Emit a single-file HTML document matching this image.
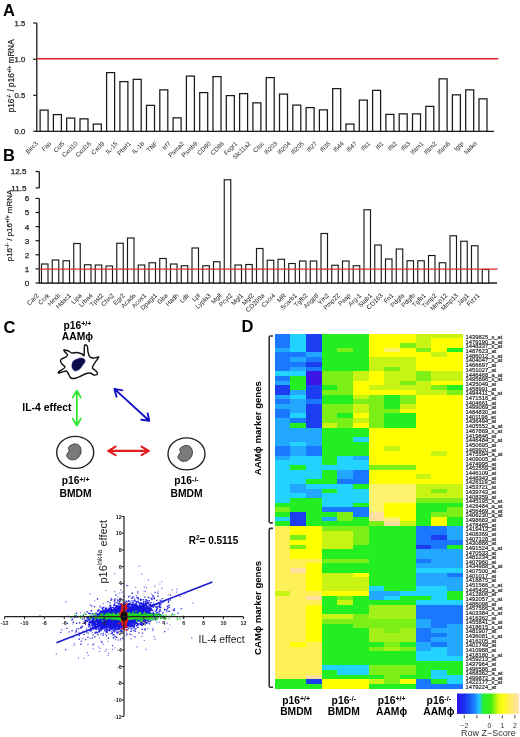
<!DOCTYPE html>
<html><head><meta charset="utf-8"><style>
html,body{margin:0;padding:0;background:#fff;}
body{width:520px;height:737px;overflow:hidden;}
svg{display:block;font-family:"Liberation Sans", sans-serif;filter:blur(0.3px);}
</style></head><body>
<svg width="520" height="737" viewBox="0 0 520 737">
<text x="3" y="15.6" font-size="16.5" font-weight="bold">A</text>
<path d="M36.8 23 V131.3 H494" fill="none" stroke="#1a1a1a" stroke-width="1.3"/>
<line x1="33.2" y1="23" x2="36.8" y2="23" stroke="#1a1a1a" stroke-width="1.2"/>
<text x="25.3" y="25.8" font-size="7.7" text-anchor="end" fill="#222" stroke="#222" stroke-width="0.25">1.5</text>
<line x1="33.2" y1="59.3" x2="36.8" y2="59.3" stroke="#1a1a1a" stroke-width="1.2"/>
<text x="25.3" y="62.099999999999994" font-size="7.7" text-anchor="end" fill="#222" stroke="#222" stroke-width="0.25">1.0</text>
<line x1="33.2" y1="95.3" x2="36.8" y2="95.3" stroke="#1a1a1a" stroke-width="1.2"/>
<text x="25.3" y="98.1" font-size="7.7" text-anchor="end" fill="#222" stroke="#222" stroke-width="0.25">0.5</text>
<line x1="33.2" y1="131.3" x2="36.8" y2="131.3" stroke="#1a1a1a" stroke-width="1.2"/>
<text x="25.3" y="134.10000000000002" font-size="7.7" text-anchor="end" fill="#222" stroke="#222" stroke-width="0.25">0.0</text>
<rect x="40.10" y="110.10" width="8.0" height="21.20" fill="#fff" stroke="#1a1a1a" stroke-width="1.25"/>
<rect x="53.40" y="114.60" width="8.0" height="16.70" fill="#fff" stroke="#1a1a1a" stroke-width="1.25"/>
<rect x="66.70" y="118.10" width="8.0" height="13.20" fill="#fff" stroke="#1a1a1a" stroke-width="1.25"/>
<rect x="80.00" y="118.85" width="8.0" height="12.45" fill="#fff" stroke="#1a1a1a" stroke-width="1.25"/>
<rect x="93.30" y="124.10" width="8.0" height="7.20" fill="#fff" stroke="#1a1a1a" stroke-width="1.25"/>
<rect x="106.60" y="72.60" width="8.0" height="58.70" fill="#fff" stroke="#1a1a1a" stroke-width="1.25"/>
<rect x="119.90" y="81.60" width="8.0" height="49.70" fill="#fff" stroke="#1a1a1a" stroke-width="1.25"/>
<rect x="133.20" y="79.35" width="8.0" height="51.95" fill="#fff" stroke="#1a1a1a" stroke-width="1.25"/>
<rect x="146.50" y="105.35" width="8.0" height="25.95" fill="#fff" stroke="#1a1a1a" stroke-width="1.25"/>
<rect x="159.80" y="89.85" width="8.0" height="41.45" fill="#fff" stroke="#1a1a1a" stroke-width="1.25"/>
<rect x="173.10" y="117.85" width="8.0" height="13.45" fill="#fff" stroke="#1a1a1a" stroke-width="1.25"/>
<rect x="186.40" y="76.10" width="8.0" height="55.20" fill="#fff" stroke="#1a1a1a" stroke-width="1.25"/>
<rect x="199.70" y="92.60" width="8.0" height="38.70" fill="#fff" stroke="#1a1a1a" stroke-width="1.25"/>
<rect x="213.00" y="76.60" width="8.0" height="54.70" fill="#fff" stroke="#1a1a1a" stroke-width="1.25"/>
<rect x="226.30" y="95.60" width="8.0" height="35.70" fill="#fff" stroke="#1a1a1a" stroke-width="1.25"/>
<rect x="239.60" y="93.60" width="8.0" height="37.70" fill="#fff" stroke="#1a1a1a" stroke-width="1.25"/>
<rect x="252.90" y="102.85" width="8.0" height="28.45" fill="#fff" stroke="#1a1a1a" stroke-width="1.25"/>
<rect x="266.20" y="77.60" width="8.0" height="53.70" fill="#fff" stroke="#1a1a1a" stroke-width="1.25"/>
<rect x="279.50" y="94.10" width="8.0" height="37.20" fill="#fff" stroke="#1a1a1a" stroke-width="1.25"/>
<rect x="292.80" y="105.10" width="8.0" height="26.20" fill="#fff" stroke="#1a1a1a" stroke-width="1.25"/>
<rect x="306.10" y="107.60" width="8.0" height="23.70" fill="#fff" stroke="#1a1a1a" stroke-width="1.25"/>
<rect x="319.40" y="109.85" width="8.0" height="21.45" fill="#fff" stroke="#1a1a1a" stroke-width="1.25"/>
<rect x="332.70" y="88.60" width="8.0" height="42.70" fill="#fff" stroke="#1a1a1a" stroke-width="1.25"/>
<rect x="346.00" y="124.10" width="8.0" height="7.20" fill="#fff" stroke="#1a1a1a" stroke-width="1.25"/>
<rect x="359.30" y="100.10" width="8.0" height="31.20" fill="#fff" stroke="#1a1a1a" stroke-width="1.25"/>
<rect x="372.60" y="90.35" width="8.0" height="40.95" fill="#fff" stroke="#1a1a1a" stroke-width="1.25"/>
<rect x="385.90" y="114.35" width="8.0" height="16.95" fill="#fff" stroke="#1a1a1a" stroke-width="1.25"/>
<rect x="399.20" y="113.85" width="8.0" height="17.45" fill="#fff" stroke="#1a1a1a" stroke-width="1.25"/>
<rect x="412.50" y="113.85" width="8.0" height="17.45" fill="#fff" stroke="#1a1a1a" stroke-width="1.25"/>
<rect x="425.80" y="106.35" width="8.0" height="24.95" fill="#fff" stroke="#1a1a1a" stroke-width="1.25"/>
<rect x="439.10" y="78.85" width="8.0" height="52.45" fill="#fff" stroke="#1a1a1a" stroke-width="1.25"/>
<rect x="452.40" y="94.85" width="8.0" height="36.45" fill="#fff" stroke="#1a1a1a" stroke-width="1.25"/>
<rect x="465.70" y="89.85" width="8.0" height="41.45" fill="#fff" stroke="#1a1a1a" stroke-width="1.25"/>
<rect x="479.00" y="98.85" width="8.0" height="32.45" fill="#fff" stroke="#1a1a1a" stroke-width="1.25"/>
<line x1="36.8" y1="58.8" x2="498.3" y2="58.8" stroke="#e12a2a" stroke-width="1.45"/>
<text transform="translate(38.30 144.0) rotate(-45)" font-size="6.3" text-anchor="end" fill="#222">Birc3</text>
<text transform="translate(51.60 144.0) rotate(-45)" font-size="6.3" text-anchor="end" fill="#222">Fas</text>
<text transform="translate(64.90 144.0) rotate(-45)" font-size="6.3" text-anchor="end" fill="#222">Ccl5</text>
<text transform="translate(78.20 144.0) rotate(-45)" font-size="6.3" text-anchor="end" fill="#222">Cxcl10</text>
<text transform="translate(91.50 144.0) rotate(-45)" font-size="6.3" text-anchor="end" fill="#222">Cxcl16</text>
<text transform="translate(104.80 144.0) rotate(-45)" font-size="6.3" text-anchor="end" fill="#222">Cxcl9</text>
<text transform="translate(118.10 144.0) rotate(-45)" font-size="6.3" text-anchor="end" fill="#222">IL-15</text>
<text transform="translate(131.40 144.0) rotate(-45)" font-size="6.3" text-anchor="end" fill="#222">Pbef1</text>
<text transform="translate(144.70 144.0) rotate(-45)" font-size="6.3" text-anchor="end" fill="#222">IL-1b</text>
<text transform="translate(158.00 144.0) rotate(-45)" font-size="6.3" text-anchor="end" fill="#222">TNF</text>
<text transform="translate(171.30 144.0) rotate(-45)" font-size="6.3" text-anchor="end" fill="#222">Irf7</text>
<text transform="translate(184.60 144.0) rotate(-45)" font-size="6.3" text-anchor="end" fill="#222">Psma2</text>
<text transform="translate(197.90 144.0) rotate(-45)" font-size="6.3" text-anchor="end" fill="#222">Psmb9</text>
<text transform="translate(211.20 144.0) rotate(-45)" font-size="6.3" text-anchor="end" fill="#222">CD80</text>
<text transform="translate(224.50 144.0) rotate(-45)" font-size="6.3" text-anchor="end" fill="#222">CD86</text>
<text transform="translate(237.80 144.0) rotate(-45)" font-size="6.3" text-anchor="end" fill="#222">Fcgr1</text>
<text transform="translate(251.10 144.0) rotate(-45)" font-size="6.3" text-anchor="end" fill="#222">Slc11a2</text>
<text transform="translate(264.40 144.0) rotate(-45)" font-size="6.3" text-anchor="end" fill="#222">Ctsc</text>
<text transform="translate(277.70 144.0) rotate(-45)" font-size="6.3" text-anchor="end" fill="#222">Ifi203</text>
<text transform="translate(291.00 144.0) rotate(-45)" font-size="6.3" text-anchor="end" fill="#222">Ifi204</text>
<text transform="translate(304.30 144.0) rotate(-45)" font-size="6.3" text-anchor="end" fill="#222">Ifi205</text>
<text transform="translate(317.60 144.0) rotate(-45)" font-size="6.3" text-anchor="end" fill="#222">Ifi27</text>
<text transform="translate(330.90 144.0) rotate(-45)" font-size="6.3" text-anchor="end" fill="#222">Ifi35</text>
<text transform="translate(344.20 144.0) rotate(-45)" font-size="6.3" text-anchor="end" fill="#222">Ifi44</text>
<text transform="translate(357.50 144.0) rotate(-45)" font-size="6.3" text-anchor="end" fill="#222">Ifi47</text>
<text transform="translate(370.80 144.0) rotate(-45)" font-size="6.3" text-anchor="end" fill="#222">Ifit1</text>
<text transform="translate(384.10 144.0) rotate(-45)" font-size="6.3" text-anchor="end" fill="#222">Ifi1</text>
<text transform="translate(397.40 144.0) rotate(-45)" font-size="6.3" text-anchor="end" fill="#222">Ifit2</text>
<text transform="translate(410.70 144.0) rotate(-45)" font-size="6.3" text-anchor="end" fill="#222">Ifit3</text>
<text transform="translate(424.00 144.0) rotate(-45)" font-size="6.3" text-anchor="end" fill="#222">Ifitm1</text>
<text transform="translate(437.30 144.0) rotate(-45)" font-size="6.3" text-anchor="end" fill="#222">Ifitm2</text>
<text transform="translate(450.60 144.0) rotate(-45)" font-size="6.3" text-anchor="end" fill="#222">Ifitm6</text>
<text transform="translate(463.90 144.0) rotate(-45)" font-size="6.3" text-anchor="end" fill="#222">Igtp</text>
<text transform="translate(477.20 144.0) rotate(-45)" font-size="6.3" text-anchor="end" fill="#222">Iiatko</text>
<text transform="translate(13.6 112.3) rotate(-90)" font-size="8.2" fill="#222" stroke="#222" stroke-width="0.2">p16<tspan font-size="5.2" dy="-3">-/-</tspan><tspan dy="3"> / p16</tspan><tspan font-size="5.2" dy="-3">+/+</tspan><tspan dy="3"> mRNA</tspan></text>
<text x="3" y="161" font-size="16.5" font-weight="bold">B</text>
<path d="M39.3 171.5 V187.9" fill="none" stroke="#1a1a1a" stroke-width="1.3"/>
<path d="M39.3 198.4 V283 H497" fill="none" stroke="#1a1a1a" stroke-width="1.3"/>
<line x1="35.5" y1="171.5" x2="39.3" y2="171.5" stroke="#1a1a1a" stroke-width="1.2"/>
<text x="26.5" y="174.4" font-size="8.1" text-anchor="end" fill="#222" stroke="#222" stroke-width="0.25">12.5</text>
<line x1="35.5" y1="187.9" x2="39.3" y2="187.9" stroke="#1a1a1a" stroke-width="1.2"/>
<text x="26.5" y="190.8" font-size="8.1" text-anchor="end" fill="#222" stroke="#222" stroke-width="0.25">11.5</text>
<line x1="35.5" y1="283.00" x2="39.3" y2="283.00" stroke="#1a1a1a" stroke-width="1.2"/>
<text x="29.3" y="285.90" font-size="8.1" text-anchor="end" fill="#222" stroke="#222" stroke-width="0.25">0</text>
<line x1="35.5" y1="268.90" x2="39.3" y2="268.90" stroke="#1a1a1a" stroke-width="1.2"/>
<text x="29.3" y="271.80" font-size="8.1" text-anchor="end" fill="#222" stroke="#222" stroke-width="0.25">1</text>
<line x1="35.5" y1="254.80" x2="39.3" y2="254.80" stroke="#1a1a1a" stroke-width="1.2"/>
<text x="29.3" y="257.70" font-size="8.1" text-anchor="end" fill="#222" stroke="#222" stroke-width="0.25">2</text>
<line x1="35.5" y1="240.70" x2="39.3" y2="240.70" stroke="#1a1a1a" stroke-width="1.2"/>
<text x="29.3" y="243.60" font-size="8.1" text-anchor="end" fill="#222" stroke="#222" stroke-width="0.25">3</text>
<line x1="35.5" y1="226.60" x2="39.3" y2="226.60" stroke="#1a1a1a" stroke-width="1.2"/>
<text x="29.3" y="229.50" font-size="8.1" text-anchor="end" fill="#222" stroke="#222" stroke-width="0.25">4</text>
<line x1="35.5" y1="212.50" x2="39.3" y2="212.50" stroke="#1a1a1a" stroke-width="1.2"/>
<text x="29.3" y="215.40" font-size="8.1" text-anchor="end" fill="#222" stroke="#222" stroke-width="0.25">5</text>
<line x1="35.5" y1="198.40" x2="39.3" y2="198.40" stroke="#1a1a1a" stroke-width="1.2"/>
<text x="29.3" y="201.30" font-size="8.1" text-anchor="end" fill="#222" stroke="#222" stroke-width="0.25">6</text>
<rect x="41.50" y="264.00" width="6.5" height="19.00" fill="#fff" stroke="#1a1a1a" stroke-width="1.15"/>
<rect x="52.25" y="260.00" width="6.5" height="23.00" fill="#fff" stroke="#1a1a1a" stroke-width="1.15"/>
<rect x="63.00" y="260.75" width="6.5" height="22.25" fill="#fff" stroke="#1a1a1a" stroke-width="1.15"/>
<rect x="73.75" y="243.50" width="6.5" height="39.50" fill="#fff" stroke="#1a1a1a" stroke-width="1.15"/>
<rect x="84.50" y="264.75" width="6.5" height="18.25" fill="#fff" stroke="#1a1a1a" stroke-width="1.15"/>
<rect x="95.25" y="265.00" width="6.5" height="18.00" fill="#fff" stroke="#1a1a1a" stroke-width="1.15"/>
<rect x="106.00" y="266.00" width="6.5" height="17.00" fill="#fff" stroke="#1a1a1a" stroke-width="1.15"/>
<rect x="116.75" y="243.25" width="6.5" height="39.75" fill="#fff" stroke="#1a1a1a" stroke-width="1.15"/>
<rect x="127.50" y="238.00" width="6.5" height="45.00" fill="#fff" stroke="#1a1a1a" stroke-width="1.15"/>
<rect x="138.25" y="265.00" width="6.5" height="18.00" fill="#fff" stroke="#1a1a1a" stroke-width="1.15"/>
<rect x="149.00" y="262.75" width="6.5" height="20.25" fill="#fff" stroke="#1a1a1a" stroke-width="1.15"/>
<rect x="159.75" y="258.50" width="6.5" height="24.50" fill="#fff" stroke="#1a1a1a" stroke-width="1.15"/>
<rect x="170.50" y="264.00" width="6.5" height="19.00" fill="#fff" stroke="#1a1a1a" stroke-width="1.15"/>
<rect x="181.25" y="265.75" width="6.5" height="17.25" fill="#fff" stroke="#1a1a1a" stroke-width="1.15"/>
<rect x="192.00" y="248.00" width="6.5" height="35.00" fill="#fff" stroke="#1a1a1a" stroke-width="1.15"/>
<rect x="202.75" y="265.75" width="6.5" height="17.25" fill="#fff" stroke="#1a1a1a" stroke-width="1.15"/>
<rect x="213.50" y="261.75" width="6.5" height="21.25" fill="#fff" stroke="#1a1a1a" stroke-width="1.15"/>
<rect x="224.25" y="179.75" width="6.5" height="103.25" fill="#fff" stroke="#1a1a1a" stroke-width="1.15"/>
<rect x="235.00" y="265.00" width="6.5" height="18.00" fill="#fff" stroke="#1a1a1a" stroke-width="1.15"/>
<rect x="245.75" y="264.50" width="6.5" height="18.50" fill="#fff" stroke="#1a1a1a" stroke-width="1.15"/>
<rect x="256.50" y="248.50" width="6.5" height="34.50" fill="#fff" stroke="#1a1a1a" stroke-width="1.15"/>
<rect x="267.25" y="260.25" width="6.5" height="22.75" fill="#fff" stroke="#1a1a1a" stroke-width="1.15"/>
<rect x="278.00" y="259.25" width="6.5" height="23.75" fill="#fff" stroke="#1a1a1a" stroke-width="1.15"/>
<rect x="288.75" y="263.50" width="6.5" height="19.50" fill="#fff" stroke="#1a1a1a" stroke-width="1.15"/>
<rect x="299.50" y="261.00" width="6.5" height="22.00" fill="#fff" stroke="#1a1a1a" stroke-width="1.15"/>
<rect x="310.25" y="261.00" width="6.5" height="22.00" fill="#fff" stroke="#1a1a1a" stroke-width="1.15"/>
<rect x="321.00" y="233.50" width="6.5" height="49.50" fill="#fff" stroke="#1a1a1a" stroke-width="1.15"/>
<rect x="331.75" y="265.25" width="6.5" height="17.75" fill="#fff" stroke="#1a1a1a" stroke-width="1.15"/>
<rect x="342.50" y="261.00" width="6.5" height="22.00" fill="#fff" stroke="#1a1a1a" stroke-width="1.15"/>
<rect x="353.25" y="265.75" width="6.5" height="17.25" fill="#fff" stroke="#1a1a1a" stroke-width="1.15"/>
<rect x="364.00" y="209.75" width="6.5" height="73.25" fill="#fff" stroke="#1a1a1a" stroke-width="1.15"/>
<rect x="374.75" y="245.00" width="6.5" height="38.00" fill="#fff" stroke="#1a1a1a" stroke-width="1.15"/>
<rect x="385.50" y="259.00" width="6.5" height="24.00" fill="#fff" stroke="#1a1a1a" stroke-width="1.15"/>
<rect x="396.25" y="249.00" width="6.5" height="34.00" fill="#fff" stroke="#1a1a1a" stroke-width="1.15"/>
<rect x="407.00" y="260.75" width="6.5" height="22.25" fill="#fff" stroke="#1a1a1a" stroke-width="1.15"/>
<rect x="417.75" y="260.75" width="6.5" height="22.25" fill="#fff" stroke="#1a1a1a" stroke-width="1.15"/>
<rect x="428.50" y="255.50" width="6.5" height="27.50" fill="#fff" stroke="#1a1a1a" stroke-width="1.15"/>
<rect x="439.25" y="262.75" width="6.5" height="20.25" fill="#fff" stroke="#1a1a1a" stroke-width="1.15"/>
<rect x="450.00" y="235.75" width="6.5" height="47.25" fill="#fff" stroke="#1a1a1a" stroke-width="1.15"/>
<rect x="460.75" y="241.25" width="6.5" height="41.75" fill="#fff" stroke="#1a1a1a" stroke-width="1.15"/>
<rect x="471.50" y="245.75" width="6.5" height="37.25" fill="#fff" stroke="#1a1a1a" stroke-width="1.15"/>
<rect x="482.25" y="269.50" width="6.5" height="13.50" fill="#fff" stroke="#1a1a1a" stroke-width="1.15"/>
<line x1="39.3" y1="269.1" x2="497.5" y2="269.1" stroke="#e12a2a" stroke-width="1.45"/>
<text transform="translate(39.20 296) rotate(-45)" font-size="6.4" text-anchor="end" fill="#222">Car2</text>
<text transform="translate(49.95 296) rotate(-45)" font-size="6.4" text-anchor="end" fill="#222">Ccrk</text>
<text transform="translate(60.70 296) rotate(-45)" font-size="6.4" text-anchor="end" fill="#222">Hexb</text>
<text transform="translate(71.45 296) rotate(-45)" font-size="6.4" text-anchor="end" fill="#222">Hdac1</text>
<text transform="translate(82.20 296) rotate(-45)" font-size="6.4" text-anchor="end" fill="#222">Lipa</text>
<text transform="translate(92.95 296) rotate(-45)" font-size="6.4" text-anchor="end" fill="#222">Lrba4</text>
<text transform="translate(103.70 296) rotate(-45)" font-size="6.4" text-anchor="end" fill="#222">Tpst2</text>
<text transform="translate(114.45 296) rotate(-45)" font-size="6.4" text-anchor="end" fill="#222">Chn2</text>
<text transform="translate(125.20 296) rotate(-45)" font-size="6.4" text-anchor="end" fill="#222">Egr2</text>
<text transform="translate(135.95 296) rotate(-45)" font-size="6.4" text-anchor="end" fill="#222">Acads</text>
<text transform="translate(146.70 296) rotate(-45)" font-size="6.4" text-anchor="end" fill="#222">Acox1</text>
<text transform="translate(157.45 296) rotate(-45)" font-size="6.4" text-anchor="end" fill="#222">Dpagt1</text>
<text transform="translate(168.20 296) rotate(-45)" font-size="6.4" text-anchor="end" fill="#222">Gba</text>
<text transform="translate(178.95 296) rotate(-45)" font-size="6.4" text-anchor="end" fill="#222">Hadh</text>
<text transform="translate(189.70 296) rotate(-45)" font-size="6.4" text-anchor="end" fill="#222">Ldlr</text>
<text transform="translate(200.45 296) rotate(-45)" font-size="6.4" text-anchor="end" fill="#222">Lpl</text>
<text transform="translate(211.20 296) rotate(-45)" font-size="6.4" text-anchor="end" fill="#222">Lypla3</text>
<text transform="translate(221.95 296) rotate(-45)" font-size="6.4" text-anchor="end" fill="#222">Mgll</text>
<text transform="translate(232.70 296) rotate(-45)" font-size="6.4" text-anchor="end" fill="#222">Pcyt2</text>
<text transform="translate(243.45 296) rotate(-45)" font-size="6.4" text-anchor="end" fill="#222">Mgl1</text>
<text transform="translate(254.20 296) rotate(-45)" font-size="6.4" text-anchor="end" fill="#222">Mgl2</text>
<text transform="translate(264.95 296) rotate(-45)" font-size="6.4" text-anchor="end" fill="#222">CD209a</text>
<text transform="translate(275.70 296) rotate(-45)" font-size="6.4" text-anchor="end" fill="#222">Cxcr4</text>
<text transform="translate(286.45 296) rotate(-45)" font-size="6.4" text-anchor="end" fill="#222">MR</text>
<text transform="translate(297.20 296) rotate(-45)" font-size="6.4" text-anchor="end" fill="#222">Scarb1</text>
<text transform="translate(307.95 296) rotate(-45)" font-size="6.4" text-anchor="end" fill="#222">Tgfb2</text>
<text transform="translate(318.70 296) rotate(-45)" font-size="6.4" text-anchor="end" fill="#222">Angptl</text>
<text transform="translate(329.45 296) rotate(-45)" font-size="6.4" text-anchor="end" fill="#222">Ym2</text>
<text transform="translate(340.20 296) rotate(-45)" font-size="6.4" text-anchor="end" fill="#222">Pmp22</text>
<text transform="translate(350.95 296) rotate(-45)" font-size="6.4" text-anchor="end" fill="#222">Psap</text>
<text transform="translate(361.70 296) rotate(-45)" font-size="6.4" text-anchor="end" fill="#222">Arg-1</text>
<text transform="translate(372.45 296) rotate(-45)" font-size="6.4" text-anchor="end" fill="#222">Stab1</text>
<text transform="translate(383.20 296) rotate(-45)" font-size="6.4" text-anchor="end" fill="#222">CD163</text>
<text transform="translate(393.95 296) rotate(-45)" font-size="6.4" text-anchor="end" fill="#222">Fn1</text>
<text transform="translate(404.70 296) rotate(-45)" font-size="6.4" text-anchor="end" fill="#222">Pdgfa</text>
<text transform="translate(415.45 296) rotate(-45)" font-size="6.4" text-anchor="end" fill="#222">Pdgfb</text>
<text transform="translate(426.20 296) rotate(-45)" font-size="6.4" text-anchor="end" fill="#222">Tgfb1</text>
<text transform="translate(436.95 296) rotate(-45)" font-size="6.4" text-anchor="end" fill="#222">Timp2</text>
<text transform="translate(447.70 296) rotate(-45)" font-size="6.4" text-anchor="end" fill="#222">Mmp12</text>
<text transform="translate(458.45 296) rotate(-45)" font-size="6.4" text-anchor="end" fill="#222">Mmp13</text>
<text transform="translate(469.20 296) rotate(-45)" font-size="6.4" text-anchor="end" fill="#222">Jag1</text>
<text transform="translate(479.95 296) rotate(-45)" font-size="6.4" text-anchor="end" fill="#222">Fizz1</text>
<text transform="translate(12.0 261.3) rotate(-90)" font-size="8.0" fill="#222" stroke="#222" stroke-width="0.2">p16<tspan font-size="5.2" dy="-3">-/-</tspan><tspan dy="3"> / p16</tspan><tspan font-size="5.2" dy="-3">+/+</tspan><tspan dy="3"> mRNA</tspan></text>
<text x="3.5" y="333" font-size="16.5" font-weight="bold">C</text>
<text x="77.4" y="328.5" font-size="10.3" font-weight="bold" text-anchor="middle">p16<tspan font-size="7" dy="-2.6">+/+</tspan></text>
<text x="77.4" y="339.8" font-size="10.3" font-weight="bold" text-anchor="middle">AAMϕ</text>
<text x="75.6" y="484.2" font-size="10.3" font-weight="bold" text-anchor="middle">p16<tspan font-size="7" dy="-2.6">+/+</tspan></text>
<text x="75.6" y="496.6" font-size="10.3" font-weight="bold" text-anchor="middle">BMDM</text>
<text x="186.5" y="484.2" font-size="10.3" font-weight="bold" text-anchor="middle">p16<tspan font-size="7" dy="-2.6">-/-</tspan></text>
<text x="186.5" y="496.6" font-size="10.3" font-weight="bold" text-anchor="middle">BMDM</text>
<path d="M64.00 350.00 C64.58 349.83 67.17 350.50 68.50 351.00 C69.83 351.50 70.58 352.75 72.00 353.00 C73.42 353.25 75.33 352.33 77.00 352.50 C78.67 352.67 80.83 353.50 82.00 354.00 C83.17 354.50 83.58 356.83 84.00 355.50 C84.42 354.17 84.17 347.75 84.50 346.00 C84.83 344.25 85.50 344.92 86.00 345.00 C86.50 345.08 87.17 345.33 87.50 346.50 C87.83 347.67 87.58 350.25 88.00 352.00 C88.42 353.75 89.00 356.00 90.00 357.00 C91.00 358.00 92.58 358.00 94.00 358.00 C95.42 358.00 97.92 356.83 98.50 357.00 C99.08 357.17 98.25 357.83 97.50 359.00 C96.75 360.17 94.83 362.50 94.00 364.00 C93.17 365.50 92.17 366.83 92.50 368.00 C92.83 369.17 95.17 370.00 96.00 371.00 C96.83 372.00 97.83 373.33 97.50 374.00 C97.17 374.67 95.25 375.17 94.00 375.00 C92.75 374.83 91.50 373.17 90.00 373.00 C88.50 372.83 86.50 373.50 85.00 374.00 C83.50 374.50 82.50 375.33 81.00 376.00 C79.50 376.67 77.50 377.58 76.00 378.00 C74.50 378.42 73.00 378.67 72.00 378.50 C71.00 378.33 70.67 377.92 70.00 377.00 C69.33 376.08 68.67 374.00 68.00 373.00 C67.33 372.00 67.00 371.17 66.00 371.00 C65.00 370.83 63.25 371.67 62.00 372.00 C60.75 372.33 59.00 373.08 58.50 373.00 C58.00 372.92 58.25 372.17 59.00 371.50 C59.75 370.83 62.00 369.75 63.00 369.00 C64.00 368.25 65.17 367.83 65.00 367.00 C64.83 366.17 62.75 365.00 62.00 364.00 C61.25 363.00 60.58 361.83 60.50 361.00 C60.42 360.17 60.58 359.67 61.50 359.00 C62.42 358.33 65.00 357.67 66.00 357.00 C67.00 356.33 67.67 355.83 67.50 355.00 C67.33 354.17 65.58 352.83 65.00 352.00 C64.42 351.17 63.42 350.17 64.00 350.00Z" fill="#fff" stroke="#111" stroke-width="1.4"/>
<path d="M77.30 358.90 C78.63 358.38 80.12 357.85 81.30 357.90 C82.48 357.95 83.78 358.55 84.40 359.20 C85.02 359.85 85.27 360.83 85.00 361.80 C84.73 362.77 83.67 363.80 82.80 365.00 C81.93 366.20 81.02 368.00 79.80 369.00 C78.58 370.00 76.72 371.03 75.50 371.00 C74.28 370.97 73.10 369.80 72.50 368.80 C71.90 367.80 71.77 366.30 71.90 365.00 C72.03 363.70 72.40 362.02 73.30 361.00 C74.20 359.98 75.97 359.42 77.30 358.90Z" fill="#0b0b4a" stroke="#2a2a80" stroke-width="0.6"/>
<ellipse cx="75.2" cy="452.4" rx="18.5" ry="16.0" fill="#fff" stroke="#222" stroke-width="1.4"/>
<path d="M73.90 444.00 C75.57 443.65 77.44 444.17 78.62 445.04 C79.80 445.91 80.69 447.64 80.98 449.20 C81.28 450.76 81.18 452.75 80.39 454.40 C79.60 456.05 77.93 458.21 76.26 459.08 C74.59 459.95 71.93 460.03 70.36 459.60 C68.79 459.17 67.31 457.52 66.82 456.48 C66.33 455.44 67.02 454.31 67.41 453.36 C67.80 452.41 68.98 451.80 69.18 450.76 C69.38 449.72 67.80 448.25 68.59 447.12 C69.38 445.99 72.23 444.35 73.90 444.00Z" fill="#7a7a7a" stroke="#333" stroke-width="0.9"/>
<ellipse cx="186.5" cy="453.9" rx="18.5" ry="16.0" fill="#fff" stroke="#222" stroke-width="1.4"/>
<path d="M185.20 445.50 C186.87 445.15 188.74 445.67 189.92 446.54 C191.10 447.41 191.99 449.14 192.28 450.70 C192.57 452.26 192.48 454.25 191.69 455.90 C190.90 457.55 189.23 459.71 187.56 460.58 C185.89 461.45 183.23 461.53 181.66 461.10 C180.09 460.67 178.61 459.02 178.12 457.98 C177.63 456.94 178.32 455.81 178.71 454.86 C179.10 453.91 180.28 453.30 180.48 452.26 C180.68 451.22 179.10 449.75 179.89 448.62 C180.68 447.49 183.53 445.85 185.20 445.50Z" fill="#7a7a7a" stroke="#333" stroke-width="0.9"/>
<g fill="none" stroke-linecap="round" stroke-linejoin="round">
<path d="M76.8 390.6 V425.6 M72.7 397.5 L76.8 390.6 L80.8 397.5 M72.7 418.6 L76.8 425.6 L80.8 418.6" stroke="#2fe52f" stroke-width="1.8"/>
<path d="M114.4 388.9 L149.2 420.8 M122.3 390.4 L114.4 388.9 L116.5 396.7 M141.3 419.8 L149.2 420.8 L147.7 413.4" stroke="#1212c4" stroke-width="1.9"/>
<path d="M108.3 450.9 H148.8 M115.6 446.6 L108.3 450.9 L115.6 455.2 M141.5 446.6 L148.8 450.9 L141.5 455.2" stroke="#e01c1c" stroke-width="2.1"/>
</g>
<text x="22.3" y="410.5" font-size="10.45" font-weight="bold">IL-4 effect</text>
<line x1="56.4" y1="642.7" x2="212.4" y2="581.9" stroke="#1a1ad0" stroke-width="1.6"/>
<path d="M158.8 608.7h1.2v1.2h-1.2zM136.1 617.3h1.2v1.2h-1.2zM120.1 638.0h1.2v1.2h-1.2zM142.7 620.2h1.2v1.2h-1.2zM72.0 623.4h1.2v1.2h-1.2zM122.4 601.2h1.2v1.2h-1.2zM147.2 628.1h1.2v1.2h-1.2zM118.3 617.2h1.2v1.2h-1.2zM126.0 631.4h1.2v1.2h-1.2zM125.6 600.0h1.2v1.2h-1.2zM159.3 583.4h1.2v1.2h-1.2zM145.4 648.8h1.2v1.2h-1.2zM115.5 626.4h1.2v1.2h-1.2zM39.4 614.9h1.2v1.2h-1.2zM149.8 608.7h1.2v1.2h-1.2zM133.9 605.4h1.2v1.2h-1.2zM117.1 596.3h1.2v1.2h-1.2zM176.3 588.7h1.2v1.2h-1.2zM107.3 616.3h1.2v1.2h-1.2zM151.7 597.0h1.2v1.2h-1.2zM103.5 606.5h1.2v1.2h-1.2zM144.4 601.1h1.2v1.2h-1.2zM111.3 619.5h1.2v1.2h-1.2zM68.1 631.4h1.2v1.2h-1.2zM110.6 623.9h1.2v1.2h-1.2zM115.3 623.0h1.2v1.2h-1.2zM125.9 613.6h1.2v1.2h-1.2zM105.7 622.7h1.2v1.2h-1.2zM120.8 608.9h1.2v1.2h-1.2zM136.2 617.9h1.2v1.2h-1.2zM99.5 647.7h1.2v1.2h-1.2zM87.2 619.4h1.2v1.2h-1.2zM96.8 598.3h1.2v1.2h-1.2zM118.8 623.0h1.2v1.2h-1.2zM118.9 625.5h1.2v1.2h-1.2zM105.2 619.8h1.2v1.2h-1.2zM81.5 625.2h1.2v1.2h-1.2zM120.7 630.5h1.2v1.2h-1.2zM153.1 602.1h1.2v1.2h-1.2zM154.8 617.6h1.2v1.2h-1.2zM87.4 644.0h1.2v1.2h-1.2zM77.9 657.5h1.2v1.2h-1.2zM168.8 610.8h1.2v1.2h-1.2zM129.0 622.6h1.2v1.2h-1.2zM119.2 592.6h1.2v1.2h-1.2zM73.1 644.8h1.2v1.2h-1.2zM127.3 628.8h1.2v1.2h-1.2zM143.4 590.4h1.2v1.2h-1.2zM149.3 597.2h1.2v1.2h-1.2zM118.7 601.7h1.2v1.2h-1.2zM100.2 640.6h1.2v1.2h-1.2zM115.9 621.8h1.2v1.2h-1.2zM158.8 621.4h1.2v1.2h-1.2zM156.6 618.8h1.2v1.2h-1.2zM86.8 652.0h1.2v1.2h-1.2zM122.4 638.4h1.2v1.2h-1.2zM129.6 613.5h1.2v1.2h-1.2zM111.8 648.8h1.2v1.2h-1.2zM108.4 613.1h1.2v1.2h-1.2zM71.8 619.3h1.2v1.2h-1.2zM123.9 624.1h1.2v1.2h-1.2zM129.3 604.2h1.2v1.2h-1.2zM122.8 628.0h1.2v1.2h-1.2zM146.1 620.2h1.2v1.2h-1.2zM133.9 598.0h1.2v1.2h-1.2zM161.3 580.9h1.2v1.2h-1.2zM153.0 605.6h1.2v1.2h-1.2zM117.6 614.6h1.2v1.2h-1.2zM138.7 565.6h1.2v1.2h-1.2zM142.5 623.4h1.2v1.2h-1.2zM167.5 628.4h1.2v1.2h-1.2zM152.5 627.7h1.2v1.2h-1.2zM91.9 632.2h1.2v1.2h-1.2zM115.2 639.0h1.2v1.2h-1.2zM141.3 612.8h1.2v1.2h-1.2zM162.3 621.0h1.2v1.2h-1.2zM71.0 619.6h1.2v1.2h-1.2zM116.9 602.6h1.2v1.2h-1.2zM55.7 653.6h1.2v1.2h-1.2zM126.0 585.0h1.2v1.2h-1.2zM87.7 655.1h1.2v1.2h-1.2zM110.2 597.7h1.2v1.2h-1.2zM169.2 624.4h1.2v1.2h-1.2zM105.8 649.1h1.2v1.2h-1.2zM99.0 637.4h1.2v1.2h-1.2zM135.8 595.0h1.2v1.2h-1.2zM192.4 602.6h1.2v1.2h-1.2zM147.1 606.1h1.2v1.2h-1.2zM127.1 585.0h1.2v1.2h-1.2zM143.8 586.2h1.2v1.2h-1.2zM132.1 600.2h1.2v1.2h-1.2zM138.1 613.4h1.2v1.2h-1.2zM103.2 627.6h1.2v1.2h-1.2zM123.8 621.7h1.2v1.2h-1.2zM113.5 629.5h1.2v1.2h-1.2zM148.3 612.9h1.2v1.2h-1.2zM120.0 620.2h1.2v1.2h-1.2zM161.4 613.9h1.2v1.2h-1.2zM164.3 618.1h1.2v1.2h-1.2zM167.6 594.4h1.2v1.2h-1.2zM109.3 612.7h1.2v1.2h-1.2zM156.3 621.7h1.2v1.2h-1.2zM116.9 612.9h1.2v1.2h-1.2zM117.4 622.0h1.2v1.2h-1.2zM124.0 610.9h1.2v1.2h-1.2zM145.9 587.0h1.2v1.2h-1.2zM114.1 573.1h1.2v1.2h-1.2zM114.0 591.0h1.2v1.2h-1.2zM119.8 639.3h1.2v1.2h-1.2zM110.9 624.7h1.2v1.2h-1.2zM154.4 638.7h1.2v1.2h-1.2zM105.2 622.9h1.2v1.2h-1.2zM142.4 604.6h1.2v1.2h-1.2zM148.2 611.6h1.2v1.2h-1.2zM116.7 599.1h1.2v1.2h-1.2zM173.1 596.5h1.2v1.2h-1.2zM128.0 627.9h1.2v1.2h-1.2zM184.2 593.2h1.2v1.2h-1.2zM141.3 635.8h1.2v1.2h-1.2zM141.0 573.6h1.2v1.2h-1.2zM118.8 620.3h1.2v1.2h-1.2zM167.8 606.7h1.2v1.2h-1.2zM147.8 579.3h1.2v1.2h-1.2zM89.8 637.9h1.2v1.2h-1.2zM143.1 608.7h1.2v1.2h-1.2zM124.7 618.2h1.2v1.2h-1.2zM127.2 609.4h1.2v1.2h-1.2zM109.8 623.9h1.2v1.2h-1.2zM130.2 630.9h1.2v1.2h-1.2zM136.3 646.3h1.2v1.2h-1.2zM141.9 612.7h1.2v1.2h-1.2zM89.6 604.3h1.2v1.2h-1.2zM89.7 593.2h1.2v1.2h-1.2zM102.5 602.9h1.2v1.2h-1.2zM121.6 591.5h1.2v1.2h-1.2zM117.1 601.7h1.2v1.2h-1.2zM114.3 647.4h1.2v1.2h-1.2zM134.7 605.5h1.2v1.2h-1.2zM135.0 586.9h1.2v1.2h-1.2zM102.3 643.8h1.2v1.2h-1.2zM130.9 624.6h1.2v1.2h-1.2zM120.5 616.7h1.2v1.2h-1.2zM100.0 605.4h1.2v1.2h-1.2zM120.1 589.2h1.2v1.2h-1.2zM130.7 597.6h1.2v1.2h-1.2zM115.2 628.4h1.2v1.2h-1.2zM108.3 633.6h1.2v1.2h-1.2zM136.4 610.2h1.2v1.2h-1.2zM92.5 648.2h1.2v1.2h-1.2zM98.8 650.9h1.2v1.2h-1.2zM98.1 646.3h1.2v1.2h-1.2zM143.8 628.3h1.2v1.2h-1.2zM106.6 622.4h1.2v1.2h-1.2zM124.5 609.1h1.2v1.2h-1.2zM145.4 600.0h1.2v1.2h-1.2zM113.7 599.3h1.2v1.2h-1.2zM134.2 624.0h1.2v1.2h-1.2zM166.5 622.5h1.2v1.2h-1.2zM137.1 592.8h1.2v1.2h-1.2zM126.8 609.7h1.2v1.2h-1.2zM127.0 604.6h1.2v1.2h-1.2zM130.0 614.0h1.2v1.2h-1.2zM143.7 639.7h1.2v1.2h-1.2zM130.8 618.6h1.2v1.2h-1.2zM179.7 596.1h1.2v1.2h-1.2zM104.7 610.9h1.2v1.2h-1.2zM112.6 637.3h1.2v1.2h-1.2zM115.5 610.3h1.2v1.2h-1.2zM157.6 590.4h1.2v1.2h-1.2zM130.1 616.6h1.2v1.2h-1.2zM129.3 595.6h1.2v1.2h-1.2zM119.9 598.9h1.2v1.2h-1.2zM100.8 622.3h1.2v1.2h-1.2zM145.7 599.0h1.2v1.2h-1.2zM129.3 622.3h1.2v1.2h-1.2zM72.3 636.7h1.2v1.2h-1.2zM99.3 628.7h1.2v1.2h-1.2zM168.7 615.5h1.2v1.2h-1.2zM147.8 609.6h1.2v1.2h-1.2zM92.0 622.8h1.2v1.2h-1.2zM145.0 628.4h1.2v1.2h-1.2zM90.4 630.8h1.2v1.2h-1.2zM144.2 619.5h1.2v1.2h-1.2zM135.6 605.5h1.2v1.2h-1.2zM123.9 608.9h1.2v1.2h-1.2zM159.7 609.0h1.2v1.2h-1.2zM132.8 629.9h1.2v1.2h-1.2zM103.0 623.1h1.2v1.2h-1.2zM146.7 620.0h1.2v1.2h-1.2zM84.0 612.4h1.2v1.2h-1.2zM191.1 637.3h1.2v1.2h-1.2zM93.3 622.3h1.2v1.2h-1.2zM137.4 626.8h1.2v1.2h-1.2zM133.1 596.3h1.2v1.2h-1.2zM115.7 606.8h1.2v1.2h-1.2zM127.2 629.3h1.2v1.2h-1.2zM106.1 630.1h1.2v1.2h-1.2zM161.3 587.8h1.2v1.2h-1.2zM130.4 638.2h1.2v1.2h-1.2zM109.6 625.9h1.2v1.2h-1.2zM68.8 631.2h1.2v1.2h-1.2zM131.6 634.2h1.2v1.2h-1.2zM111.4 626.3h1.2v1.2h-1.2zM175.9 591.4h1.2v1.2h-1.2zM145.3 608.7h1.2v1.2h-1.2zM87.2 611.6h1.2v1.2h-1.2zM104.4 650.8h1.2v1.2h-1.2zM144.2 615.6h1.2v1.2h-1.2zM123.5 608.0h1.2v1.2h-1.2zM116.9 611.4h1.2v1.2h-1.2zM160.0 610.9h1.2v1.2h-1.2zM113.5 618.4h1.2v1.2h-1.2zM141.8 617.1h1.2v1.2h-1.2zM125.8 625.8h1.2v1.2h-1.2zM121.4 608.1h1.2v1.2h-1.2zM100.4 625.1h1.2v1.2h-1.2zM82.2 638.0h1.2v1.2h-1.2zM125.7 607.2h1.2v1.2h-1.2zM94.4 625.4h1.2v1.2h-1.2zM97.3 618.2h1.2v1.2h-1.2zM130.9 607.1h1.2v1.2h-1.2zM117.6 639.5h1.2v1.2h-1.2zM107.7 640.9h1.2v1.2h-1.2zM104.4 622.1h1.2v1.2h-1.2zM153.9 617.6h1.2v1.2h-1.2zM101.7 618.7h1.2v1.2h-1.2zM65.3 601.2h1.2v1.2h-1.2zM80.1 612.1h1.2v1.2h-1.2zM151.1 593.6h1.2v1.2h-1.2zM120.5 605.5h1.2v1.2h-1.2zM113.8 603.8h1.2v1.2h-1.2zM105.1 633.5h1.2v1.2h-1.2zM134.2 620.0h1.2v1.2h-1.2zM142.4 624.0h1.2v1.2h-1.2zM131.0 629.0h1.2v1.2h-1.2zM120.6 583.7h1.2v1.2h-1.2zM93.2 643.2h1.2v1.2h-1.2zM78.4 631.7h1.2v1.2h-1.2zM169.1 610.5h1.2v1.2h-1.2zM149.6 611.6h1.2v1.2h-1.2zM105.7 589.9h1.2v1.2h-1.2zM153.8 636.0h1.2v1.2h-1.2zM96.0 617.1h1.2v1.2h-1.2zM141.8 614.4h1.2v1.2h-1.2zM132.3 605.3h1.2v1.2h-1.2zM113.7 603.3h1.2v1.2h-1.2zM99.6 610.9h1.2v1.2h-1.2zM149.2 605.8h1.2v1.2h-1.2zM113.8 618.9h1.2v1.2h-1.2zM61.2 629.0h1.2v1.2h-1.2zM83.6 657.8h1.2v1.2h-1.2zM144.9 624.2h1.2v1.2h-1.2zM133.4 612.5h1.2v1.2h-1.2zM74.1 643.3h1.2v1.2h-1.2zM115.9 610.8h1.2v1.2h-1.2zM125.4 634.9h1.2v1.2h-1.2zM108.6 618.4h1.2v1.2h-1.2zM87.9 632.5h1.2v1.2h-1.2zM108.1 652.8h1.2v1.2h-1.2zM171.8 589.3h1.2v1.2h-1.2zM110.4 604.9h1.2v1.2h-1.2zM94.2 600.4h1.2v1.2h-1.2zM113.0 616.6h1.2v1.2h-1.2zM107.3 619.0h1.2v1.2h-1.2zM132.7 613.0h1.2v1.2h-1.2zM100.3 610.6h1.2v1.2h-1.2zM139.1 611.7h1.2v1.2h-1.2zM152.9 619.3h1.2v1.2h-1.2zM159.2 608.7h1.2v1.2h-1.2zM165.8 611.2h1.2v1.2h-1.2zM116.4 614.7h1.2v1.2h-1.2zM154.1 585.5h1.2v1.2h-1.2zM110.7 630.6h1.2v1.2h-1.2zM144.8 591.1h1.2v1.2h-1.2zM143.1 615.7h1.2v1.2h-1.2zM159.1 606.6h1.2v1.2h-1.2zM128.2 605.1h1.2v1.2h-1.2zM107.6 655.1h1.2v1.2h-1.2zM129.6 603.3h1.2v1.2h-1.2zM135.7 604.3h1.2v1.2h-1.2z" fill="#7474f0"/>
<path d="M117.0 609.2h1.3v1.3h-1.3zM101.3 641.6h1.3v1.3h-1.3zM111.5 611.3h1.3v1.3h-1.3zM112.2 615.3h1.3v1.3h-1.3zM101.9 609.3h1.3v1.3h-1.3zM132.0 604.7h1.3v1.3h-1.3zM117.8 606.2h1.3v1.3h-1.3zM124.8 619.8h1.3v1.3h-1.3zM110.6 618.7h1.3v1.3h-1.3zM105.2 630.9h1.3v1.3h-1.3zM125.9 609.1h1.3v1.3h-1.3zM117.5 610.1h1.3v1.3h-1.3zM155.0 619.0h1.3v1.3h-1.3zM128.5 623.0h1.3v1.3h-1.3zM110.5 617.6h1.3v1.3h-1.3zM76.0 622.6h1.3v1.3h-1.3zM140.1 607.0h1.3v1.3h-1.3zM136.3 597.0h1.3v1.3h-1.3zM116.0 608.3h1.3v1.3h-1.3zM152.2 604.4h1.3v1.3h-1.3zM87.7 626.3h1.3v1.3h-1.3zM117.5 631.5h1.3v1.3h-1.3zM122.1 609.7h1.3v1.3h-1.3zM118.2 618.8h1.3v1.3h-1.3zM152.7 613.9h1.3v1.3h-1.3zM104.5 620.3h1.3v1.3h-1.3zM145.7 605.2h1.3v1.3h-1.3zM124.8 619.9h1.3v1.3h-1.3zM147.9 602.1h1.3v1.3h-1.3zM88.7 621.8h1.3v1.3h-1.3zM75.4 615.0h1.3v1.3h-1.3zM135.6 618.4h1.3v1.3h-1.3zM97.6 625.0h1.3v1.3h-1.3zM88.4 619.8h1.3v1.3h-1.3zM113.1 633.9h1.3v1.3h-1.3zM122.9 605.8h1.3v1.3h-1.3zM98.0 625.4h1.3v1.3h-1.3zM159.6 605.3h1.3v1.3h-1.3zM112.3 617.1h1.3v1.3h-1.3zM138.9 620.8h1.3v1.3h-1.3zM121.4 630.6h1.3v1.3h-1.3zM91.7 637.3h1.3v1.3h-1.3zM140.2 609.0h1.3v1.3h-1.3zM137.9 601.7h1.3v1.3h-1.3zM124.3 613.7h1.3v1.3h-1.3zM131.4 609.9h1.3v1.3h-1.3zM102.1 623.7h1.3v1.3h-1.3zM120.3 616.4h1.3v1.3h-1.3zM108.4 620.9h1.3v1.3h-1.3zM129.1 612.9h1.3v1.3h-1.3zM135.1 605.9h1.3v1.3h-1.3zM134.4 604.8h1.3v1.3h-1.3zM140.1 599.7h1.3v1.3h-1.3zM135.9 618.2h1.3v1.3h-1.3zM169.8 594.5h1.3v1.3h-1.3zM148.3 603.4h1.3v1.3h-1.3zM124.3 625.6h1.3v1.3h-1.3zM132.1 616.9h1.3v1.3h-1.3zM115.4 636.5h1.3v1.3h-1.3zM154.2 618.3h1.3v1.3h-1.3zM101.4 617.4h1.3v1.3h-1.3zM134.7 620.0h1.3v1.3h-1.3zM123.2 613.8h1.3v1.3h-1.3zM126.5 610.6h1.3v1.3h-1.3zM138.8 615.3h1.3v1.3h-1.3zM91.0 605.3h1.3v1.3h-1.3zM115.7 626.5h1.3v1.3h-1.3zM138.3 607.1h1.3v1.3h-1.3zM111.0 598.7h1.3v1.3h-1.3zM76.4 616.6h1.3v1.3h-1.3zM122.6 613.5h1.3v1.3h-1.3zM129.7 616.4h1.3v1.3h-1.3zM129.7 625.7h1.3v1.3h-1.3zM115.4 601.9h1.3v1.3h-1.3zM71.9 618.2h1.3v1.3h-1.3zM78.7 634.6h1.3v1.3h-1.3zM140.9 615.1h1.3v1.3h-1.3zM111.8 631.9h1.3v1.3h-1.3zM120.9 618.1h1.3v1.3h-1.3zM110.6 632.7h1.3v1.3h-1.3zM126.4 611.5h1.3v1.3h-1.3zM146.1 605.8h1.3v1.3h-1.3zM153.7 597.9h1.3v1.3h-1.3zM67.0 615.7h1.3v1.3h-1.3zM121.2 625.6h1.3v1.3h-1.3zM132.0 605.5h1.3v1.3h-1.3zM92.4 634.4h1.3v1.3h-1.3zM137.1 617.3h1.3v1.3h-1.3zM152.5 606.8h1.3v1.3h-1.3zM112.3 630.3h1.3v1.3h-1.3zM135.3 627.9h1.3v1.3h-1.3zM97.3 633.9h1.3v1.3h-1.3zM157.3 592.6h1.3v1.3h-1.3zM118.9 620.4h1.3v1.3h-1.3zM137.3 601.6h1.3v1.3h-1.3zM107.2 600.9h1.3v1.3h-1.3zM119.2 607.2h1.3v1.3h-1.3zM76.1 628.3h1.3v1.3h-1.3zM109.4 602.2h1.3v1.3h-1.3zM119.0 628.1h1.3v1.3h-1.3zM162.3 612.1h1.3v1.3h-1.3zM123.3 626.8h1.3v1.3h-1.3zM136.9 610.9h1.3v1.3h-1.3zM117.6 620.9h1.3v1.3h-1.3zM111.9 625.1h1.3v1.3h-1.3zM95.2 612.6h1.3v1.3h-1.3zM141.2 623.6h1.3v1.3h-1.3zM100.1 618.3h1.3v1.3h-1.3zM168.6 606.4h1.3v1.3h-1.3zM117.1 619.7h1.3v1.3h-1.3zM128.3 616.2h1.3v1.3h-1.3zM145.0 602.0h1.3v1.3h-1.3zM134.4 599.5h1.3v1.3h-1.3zM118.7 621.9h1.3v1.3h-1.3zM182.8 617.8h1.3v1.3h-1.3zM92.2 644.3h1.3v1.3h-1.3zM130.5 623.5h1.3v1.3h-1.3zM144.5 628.9h1.3v1.3h-1.3zM120.6 620.1h1.3v1.3h-1.3zM101.7 611.7h1.3v1.3h-1.3zM115.4 614.1h1.3v1.3h-1.3zM112.8 617.3h1.3v1.3h-1.3zM114.4 617.6h1.3v1.3h-1.3zM121.3 622.4h1.3v1.3h-1.3zM132.1 615.4h1.3v1.3h-1.3zM104.0 630.0h1.3v1.3h-1.3zM132.2 602.2h1.3v1.3h-1.3zM97.1 626.2h1.3v1.3h-1.3zM132.3 604.6h1.3v1.3h-1.3zM137.6 622.7h1.3v1.3h-1.3zM124.1 608.0h1.3v1.3h-1.3zM128.1 616.7h1.3v1.3h-1.3zM99.7 620.5h1.3v1.3h-1.3zM122.0 616.0h1.3v1.3h-1.3zM153.4 598.1h1.3v1.3h-1.3zM107.5 617.9h1.3v1.3h-1.3zM117.1 616.7h1.3v1.3h-1.3zM156.0 599.8h1.3v1.3h-1.3zM124.1 621.5h1.3v1.3h-1.3zM120.1 613.6h1.3v1.3h-1.3zM113.4 608.9h1.3v1.3h-1.3zM123.7 626.1h1.3v1.3h-1.3zM164.2 630.9h1.3v1.3h-1.3zM117.9 618.4h1.3v1.3h-1.3zM143.1 601.3h1.3v1.3h-1.3zM152.5 595.1h1.3v1.3h-1.3zM129.7 613.4h1.3v1.3h-1.3zM143.7 611.1h1.3v1.3h-1.3zM98.1 626.2h1.3v1.3h-1.3zM136.6 607.3h1.3v1.3h-1.3zM101.2 611.1h1.3v1.3h-1.3zM129.5 627.5h1.3v1.3h-1.3zM132.7 604.9h1.3v1.3h-1.3zM134.0 616.0h1.3v1.3h-1.3zM107.3 610.2h1.3v1.3h-1.3zM127.9 614.9h1.3v1.3h-1.3zM115.4 626.9h1.3v1.3h-1.3zM85.9 628.4h1.3v1.3h-1.3zM145.5 603.8h1.3v1.3h-1.3zM109.7 606.1h1.3v1.3h-1.3zM118.8 625.9h1.3v1.3h-1.3zM142.9 599.0h1.3v1.3h-1.3zM115.6 628.5h1.3v1.3h-1.3zM122.1 637.4h1.3v1.3h-1.3zM124.4 602.5h1.3v1.3h-1.3zM128.8 621.0h1.3v1.3h-1.3zM137.5 616.7h1.3v1.3h-1.3zM148.6 612.7h1.3v1.3h-1.3zM164.1 608.8h1.3v1.3h-1.3zM127.2 623.2h1.3v1.3h-1.3zM97.8 619.4h1.3v1.3h-1.3zM130.4 622.6h1.3v1.3h-1.3zM134.5 616.7h1.3v1.3h-1.3zM112.3 619.4h1.3v1.3h-1.3zM131.2 607.7h1.3v1.3h-1.3zM148.1 606.4h1.3v1.3h-1.3zM108.8 625.6h1.3v1.3h-1.3zM130.7 624.5h1.3v1.3h-1.3zM119.9 620.1h1.3v1.3h-1.3zM121.4 614.9h1.3v1.3h-1.3zM144.1 596.5h1.3v1.3h-1.3zM141.0 602.7h1.3v1.3h-1.3zM102.0 612.3h1.3v1.3h-1.3zM149.2 621.2h1.3v1.3h-1.3zM173.8 608.2h1.3v1.3h-1.3zM75.8 612.6h1.3v1.3h-1.3zM124.6 622.6h1.3v1.3h-1.3zM111.9 609.5h1.3v1.3h-1.3zM128.5 617.9h1.3v1.3h-1.3zM146.3 618.3h1.3v1.3h-1.3zM106.4 625.1h1.3v1.3h-1.3zM108.4 613.7h1.3v1.3h-1.3zM118.7 626.3h1.3v1.3h-1.3zM114.2 635.5h1.3v1.3h-1.3zM126.7 614.2h1.3v1.3h-1.3zM135.5 614.9h1.3v1.3h-1.3zM131.3 622.1h1.3v1.3h-1.3zM123.8 614.5h1.3v1.3h-1.3zM99.1 617.0h1.3v1.3h-1.3zM126.2 614.8h1.3v1.3h-1.3zM113.8 601.0h1.3v1.3h-1.3zM123.4 622.6h1.3v1.3h-1.3zM106.4 615.1h1.3v1.3h-1.3zM119.2 623.9h1.3v1.3h-1.3zM108.9 611.5h1.3v1.3h-1.3zM125.1 606.4h1.3v1.3h-1.3zM123.0 626.3h1.3v1.3h-1.3zM140.7 608.8h1.3v1.3h-1.3zM110.3 621.9h1.3v1.3h-1.3zM104.0 613.6h1.3v1.3h-1.3zM115.0 613.9h1.3v1.3h-1.3zM128.5 616.9h1.3v1.3h-1.3zM130.7 616.2h1.3v1.3h-1.3zM99.8 625.5h1.3v1.3h-1.3zM99.8 615.3h1.3v1.3h-1.3zM136.3 617.8h1.3v1.3h-1.3zM135.7 610.7h1.3v1.3h-1.3zM142.8 619.2h1.3v1.3h-1.3zM123.9 624.4h1.3v1.3h-1.3zM109.7 607.5h1.3v1.3h-1.3zM83.3 633.9h1.3v1.3h-1.3zM133.1 606.8h1.3v1.3h-1.3zM107.7 637.5h1.3v1.3h-1.3zM89.1 621.4h1.3v1.3h-1.3zM145.3 602.6h1.3v1.3h-1.3zM108.7 607.9h1.3v1.3h-1.3zM119.6 611.6h1.3v1.3h-1.3zM119.5 603.1h1.3v1.3h-1.3zM113.0 637.1h1.3v1.3h-1.3zM117.1 615.9h1.3v1.3h-1.3zM128.9 620.8h1.3v1.3h-1.3zM118.7 626.9h1.3v1.3h-1.3zM118.7 616.4h1.3v1.3h-1.3zM128.1 600.5h1.3v1.3h-1.3zM83.5 621.5h1.3v1.3h-1.3zM132.0 623.8h1.3v1.3h-1.3zM124.7 615.7h1.3v1.3h-1.3zM103.4 614.7h1.3v1.3h-1.3zM161.3 600.6h1.3v1.3h-1.3zM138.8 602.9h1.3v1.3h-1.3zM120.8 608.2h1.3v1.3h-1.3zM107.3 618.4h1.3v1.3h-1.3zM137.4 601.1h1.3v1.3h-1.3zM117.6 619.9h1.3v1.3h-1.3zM132.7 614.3h1.3v1.3h-1.3zM126.1 608.3h1.3v1.3h-1.3zM108.1 612.2h1.3v1.3h-1.3zM130.9 616.3h1.3v1.3h-1.3zM98.5 627.6h1.3v1.3h-1.3zM122.5 608.1h1.3v1.3h-1.3zM84.3 619.6h1.3v1.3h-1.3zM127.2 624.7h1.3v1.3h-1.3zM140.3 608.3h1.3v1.3h-1.3zM132.0 622.2h1.3v1.3h-1.3zM101.4 613.6h1.3v1.3h-1.3zM151.2 605.8h1.3v1.3h-1.3zM119.5 620.8h1.3v1.3h-1.3zM89.4 616.0h1.3v1.3h-1.3zM121.5 605.8h1.3v1.3h-1.3zM109.1 610.5h1.3v1.3h-1.3zM109.2 614.5h1.3v1.3h-1.3zM150.6 615.2h1.3v1.3h-1.3zM141.3 611.5h1.3v1.3h-1.3zM104.8 618.9h1.3v1.3h-1.3zM136.1 618.9h1.3v1.3h-1.3zM118.1 622.2h1.3v1.3h-1.3zM108.1 621.6h1.3v1.3h-1.3zM139.6 616.1h1.3v1.3h-1.3zM148.0 613.0h1.3v1.3h-1.3zM109.7 610.2h1.3v1.3h-1.3zM151.1 614.6h1.3v1.3h-1.3zM134.9 623.0h1.3v1.3h-1.3zM115.3 621.2h1.3v1.3h-1.3zM137.3 623.2h1.3v1.3h-1.3zM113.3 624.4h1.3v1.3h-1.3zM125.3 626.0h1.3v1.3h-1.3zM96.9 598.3h1.3v1.3h-1.3zM127.6 627.8h1.3v1.3h-1.3zM139.8 623.1h1.3v1.3h-1.3zM86.2 611.0h1.3v1.3h-1.3zM148.0 617.0h1.3v1.3h-1.3zM101.8 617.3h1.3v1.3h-1.3zM163.4 600.8h1.3v1.3h-1.3zM136.4 622.9h1.3v1.3h-1.3zM88.3 621.4h1.3v1.3h-1.3zM143.3 609.8h1.3v1.3h-1.3zM123.2 604.1h1.3v1.3h-1.3zM106.8 610.7h1.3v1.3h-1.3zM139.7 617.2h1.3v1.3h-1.3zM125.8 614.4h1.3v1.3h-1.3zM134.8 621.4h1.3v1.3h-1.3zM118.8 616.3h1.3v1.3h-1.3zM123.9 615.6h1.3v1.3h-1.3zM128.3 616.4h1.3v1.3h-1.3zM113.5 609.6h1.3v1.3h-1.3zM110.7 621.9h1.3v1.3h-1.3zM106.0 630.1h1.3v1.3h-1.3zM132.1 614.1h1.3v1.3h-1.3zM120.7 612.7h1.3v1.3h-1.3zM120.0 611.0h1.3v1.3h-1.3zM158.8 604.1h1.3v1.3h-1.3zM118.1 603.1h1.3v1.3h-1.3zM137.2 626.7h1.3v1.3h-1.3zM149.5 607.6h1.3v1.3h-1.3zM140.1 621.6h1.3v1.3h-1.3zM106.7 625.7h1.3v1.3h-1.3zM134.2 622.8h1.3v1.3h-1.3zM109.4 611.3h1.3v1.3h-1.3zM110.7 618.1h1.3v1.3h-1.3zM105.7 634.9h1.3v1.3h-1.3zM121.7 617.4h1.3v1.3h-1.3zM95.3 614.7h1.3v1.3h-1.3zM139.4 604.4h1.3v1.3h-1.3zM113.3 628.2h1.3v1.3h-1.3zM121.6 615.0h1.3v1.3h-1.3zM119.9 621.8h1.3v1.3h-1.3zM103.8 627.1h1.3v1.3h-1.3zM121.7 620.5h1.3v1.3h-1.3zM155.9 610.1h1.3v1.3h-1.3zM132.2 617.7h1.3v1.3h-1.3zM119.7 625.2h1.3v1.3h-1.3zM113.9 631.1h1.3v1.3h-1.3zM82.7 614.8h1.3v1.3h-1.3zM102.7 617.5h1.3v1.3h-1.3zM120.9 621.4h1.3v1.3h-1.3zM137.5 617.1h1.3v1.3h-1.3zM131.8 617.0h1.3v1.3h-1.3zM142.3 603.1h1.3v1.3h-1.3zM124.6 606.3h1.3v1.3h-1.3zM133.2 600.3h1.3v1.3h-1.3zM120.9 629.7h1.3v1.3h-1.3zM127.5 612.9h1.3v1.3h-1.3zM116.2 619.5h1.3v1.3h-1.3zM118.1 627.9h1.3v1.3h-1.3zM156.8 614.1h1.3v1.3h-1.3zM102.4 634.6h1.3v1.3h-1.3zM106.9 620.4h1.3v1.3h-1.3zM152.1 603.7h1.3v1.3h-1.3zM109.1 630.1h1.3v1.3h-1.3zM101.5 622.2h1.3v1.3h-1.3zM140.2 615.8h1.3v1.3h-1.3zM154.6 591.7h1.3v1.3h-1.3zM126.4 633.6h1.3v1.3h-1.3zM144.6 611.5h1.3v1.3h-1.3zM136.3 604.3h1.3v1.3h-1.3zM103.7 620.4h1.3v1.3h-1.3zM126.8 621.5h1.3v1.3h-1.3zM136.9 613.7h1.3v1.3h-1.3zM115.4 602.0h1.3v1.3h-1.3zM126.6 601.3h1.3v1.3h-1.3zM120.3 607.9h1.3v1.3h-1.3zM108.6 618.4h1.3v1.3h-1.3zM144.4 629.1h1.3v1.3h-1.3zM133.8 615.6h1.3v1.3h-1.3zM144.5 609.1h1.3v1.3h-1.3zM121.8 627.2h1.3v1.3h-1.3zM180.5 607.9h1.3v1.3h-1.3zM117.0 623.7h1.3v1.3h-1.3zM117.4 615.6h1.3v1.3h-1.3zM97.3 613.6h1.3v1.3h-1.3zM118.2 612.2h1.3v1.3h-1.3zM82.3 630.7h1.3v1.3h-1.3zM117.5 620.7h1.3v1.3h-1.3zM110.3 616.6h1.3v1.3h-1.3zM131.2 622.3h1.3v1.3h-1.3zM85.1 619.4h1.3v1.3h-1.3zM117.0 608.5h1.3v1.3h-1.3zM140.2 612.6h1.3v1.3h-1.3zM95.5 626.0h1.3v1.3h-1.3zM109.1 609.0h1.3v1.3h-1.3zM90.3 616.5h1.3v1.3h-1.3zM93.3 628.4h1.3v1.3h-1.3zM95.8 628.8h1.3v1.3h-1.3zM114.7 615.0h1.3v1.3h-1.3zM111.8 613.0h1.3v1.3h-1.3zM157.3 606.1h1.3v1.3h-1.3zM100.9 623.1h1.3v1.3h-1.3zM121.3 619.6h1.3v1.3h-1.3zM145.6 600.6h1.3v1.3h-1.3zM162.2 601.8h1.3v1.3h-1.3zM71.4 630.1h1.3v1.3h-1.3zM136.3 619.6h1.3v1.3h-1.3zM111.6 611.2h1.3v1.3h-1.3zM126.0 624.8h1.3v1.3h-1.3zM111.9 645.0h1.3v1.3h-1.3zM123.2 626.4h1.3v1.3h-1.3zM122.2 626.3h1.3v1.3h-1.3zM105.2 624.9h1.3v1.3h-1.3zM177.3 612.5h1.3v1.3h-1.3zM100.2 626.4h1.3v1.3h-1.3zM143.8 604.1h1.3v1.3h-1.3zM136.7 615.4h1.3v1.3h-1.3zM125.7 621.9h1.3v1.3h-1.3zM119.7 623.7h1.3v1.3h-1.3zM95.0 631.5h1.3v1.3h-1.3zM160.7 603.2h1.3v1.3h-1.3zM108.6 620.6h1.3v1.3h-1.3zM114.4 607.9h1.3v1.3h-1.3zM122.7 621.5h1.3v1.3h-1.3zM136.4 610.0h1.3v1.3h-1.3zM109.9 625.9h1.3v1.3h-1.3zM125.9 629.2h1.3v1.3h-1.3zM105.4 611.9h1.3v1.3h-1.3zM140.0 602.4h1.3v1.3h-1.3zM114.6 623.2h1.3v1.3h-1.3zM117.9 621.4h1.3v1.3h-1.3zM148.0 611.7h1.3v1.3h-1.3zM149.5 615.4h1.3v1.3h-1.3zM130.5 600.5h1.3v1.3h-1.3zM108.8 625.2h1.3v1.3h-1.3zM111.5 632.6h1.3v1.3h-1.3zM117.4 622.9h1.3v1.3h-1.3zM166.0 609.3h1.3v1.3h-1.3zM81.7 618.4h1.3v1.3h-1.3zM141.6 611.7h1.3v1.3h-1.3zM128.7 608.6h1.3v1.3h-1.3zM112.3 618.4h1.3v1.3h-1.3zM125.9 601.3h1.3v1.3h-1.3zM150.5 607.7h1.3v1.3h-1.3zM97.1 615.1h1.3v1.3h-1.3zM122.1 606.4h1.3v1.3h-1.3zM124.2 614.2h1.3v1.3h-1.3zM135.9 619.0h1.3v1.3h-1.3zM110.3 599.8h1.3v1.3h-1.3zM106.3 612.4h1.3v1.3h-1.3zM136.4 605.8h1.3v1.3h-1.3zM149.7 620.7h1.3v1.3h-1.3zM141.6 628.8h1.3v1.3h-1.3zM124.1 612.9h1.3v1.3h-1.3zM143.1 601.8h1.3v1.3h-1.3zM105.0 622.9h1.3v1.3h-1.3zM120.0 622.7h1.3v1.3h-1.3zM107.2 625.6h1.3v1.3h-1.3zM145.4 598.9h1.3v1.3h-1.3zM137.7 598.1h1.3v1.3h-1.3zM124.8 624.8h1.3v1.3h-1.3zM110.4 617.5h1.3v1.3h-1.3zM143.0 600.7h1.3v1.3h-1.3zM105.7 612.3h1.3v1.3h-1.3zM112.8 613.6h1.3v1.3h-1.3zM140.9 599.0h1.3v1.3h-1.3zM112.9 616.5h1.3v1.3h-1.3zM131.4 617.5h1.3v1.3h-1.3zM124.9 610.6h1.3v1.3h-1.3zM91.2 629.5h1.3v1.3h-1.3zM167.8 601.0h1.3v1.3h-1.3zM112.3 634.3h1.3v1.3h-1.3zM104.5 616.3h1.3v1.3h-1.3zM136.3 609.0h1.3v1.3h-1.3zM134.6 618.3h1.3v1.3h-1.3zM154.0 617.8h1.3v1.3h-1.3zM133.0 615.8h1.3v1.3h-1.3zM90.0 616.7h1.3v1.3h-1.3zM117.7 611.3h1.3v1.3h-1.3zM147.7 608.5h1.3v1.3h-1.3zM110.3 621.1h1.3v1.3h-1.3zM121.8 604.1h1.3v1.3h-1.3zM139.7 598.4h1.3v1.3h-1.3zM137.8 618.8h1.3v1.3h-1.3zM141.0 603.3h1.3v1.3h-1.3zM120.7 612.7h1.3v1.3h-1.3zM116.9 628.3h1.3v1.3h-1.3zM121.3 610.0h1.3v1.3h-1.3zM116.1 636.8h1.3v1.3h-1.3zM107.6 610.7h1.3v1.3h-1.3zM127.4 605.4h1.3v1.3h-1.3zM108.5 623.3h1.3v1.3h-1.3zM103.7 627.5h1.3v1.3h-1.3zM133.0 612.4h1.3v1.3h-1.3zM113.7 615.9h1.3v1.3h-1.3zM97.8 625.7h1.3v1.3h-1.3zM94.1 636.1h1.3v1.3h-1.3zM96.8 632.0h1.3v1.3h-1.3zM153.6 596.7h1.3v1.3h-1.3zM147.4 614.9h1.3v1.3h-1.3zM135.1 622.7h1.3v1.3h-1.3zM112.6 616.6h1.3v1.3h-1.3zM92.1 622.1h1.3v1.3h-1.3zM134.9 630.7h1.3v1.3h-1.3zM75.7 630.3h1.3v1.3h-1.3zM120.7 615.4h1.3v1.3h-1.3zM101.1 616.7h1.3v1.3h-1.3zM125.4 621.7h1.3v1.3h-1.3zM154.8 605.9h1.3v1.3h-1.3zM137.4 596.7h1.3v1.3h-1.3zM113.5 620.3h1.3v1.3h-1.3zM89.4 626.4h1.3v1.3h-1.3zM131.5 592.6h1.3v1.3h-1.3zM133.9 611.6h1.3v1.3h-1.3zM98.6 629.5h1.3v1.3h-1.3zM87.2 636.8h1.3v1.3h-1.3zM125.2 613.0h1.3v1.3h-1.3zM105.3 622.3h1.3v1.3h-1.3zM107.5 614.7h1.3v1.3h-1.3zM135.4 617.7h1.3v1.3h-1.3zM114.2 628.7h1.3v1.3h-1.3zM114.0 599.7h1.3v1.3h-1.3zM122.8 608.8h1.3v1.3h-1.3zM134.3 600.6h1.3v1.3h-1.3zM116.7 625.3h1.3v1.3h-1.3zM143.1 603.1h1.3v1.3h-1.3zM110.2 609.9h1.3v1.3h-1.3zM122.8 616.5h1.3v1.3h-1.3zM158.6 602.6h1.3v1.3h-1.3zM129.1 617.2h1.3v1.3h-1.3zM126.9 606.1h1.3v1.3h-1.3zM131.9 620.3h1.3v1.3h-1.3zM131.7 614.9h1.3v1.3h-1.3zM129.0 616.2h1.3v1.3h-1.3zM80.7 640.5h1.3v1.3h-1.3zM115.6 636.8h1.3v1.3h-1.3zM93.9 606.0h1.3v1.3h-1.3zM136.5 616.6h1.3v1.3h-1.3zM129.4 633.6h1.3v1.3h-1.3zM127.8 606.4h1.3v1.3h-1.3zM126.7 626.3h1.3v1.3h-1.3zM141.8 615.9h1.3v1.3h-1.3zM111.9 617.1h1.3v1.3h-1.3zM117.2 600.1h1.3v1.3h-1.3zM120.3 598.3h1.3v1.3h-1.3zM131.8 624.5h1.3v1.3h-1.3zM123.0 615.6h1.3v1.3h-1.3zM150.9 598.1h1.3v1.3h-1.3zM172.6 609.3h1.3v1.3h-1.3zM114.5 598.2h1.3v1.3h-1.3zM105.6 617.4h1.3v1.3h-1.3zM154.3 616.9h1.3v1.3h-1.3zM116.3 624.1h1.3v1.3h-1.3zM133.2 610.0h1.3v1.3h-1.3zM122.3 610.6h1.3v1.3h-1.3zM107.7 623.1h1.3v1.3h-1.3zM132.1 596.4h1.3v1.3h-1.3zM122.3 615.7h1.3v1.3h-1.3zM148.5 609.0h1.3v1.3h-1.3zM148.3 607.6h1.3v1.3h-1.3zM145.5 608.8h1.3v1.3h-1.3zM105.1 627.8h1.3v1.3h-1.3zM131.4 597.8h1.3v1.3h-1.3zM159.3 609.7h1.3v1.3h-1.3zM171.7 613.4h1.3v1.3h-1.3zM106.5 612.2h1.3v1.3h-1.3zM93.4 615.6h1.3v1.3h-1.3zM130.4 608.8h1.3v1.3h-1.3zM99.6 618.6h1.3v1.3h-1.3zM141.3 611.9h1.3v1.3h-1.3zM143.1 610.8h1.3v1.3h-1.3zM129.7 617.1h1.3v1.3h-1.3zM96.6 624.0h1.3v1.3h-1.3zM132.8 620.1h1.3v1.3h-1.3zM85.0 638.9h1.3v1.3h-1.3zM148.6 611.5h1.3v1.3h-1.3zM108.1 609.1h1.3v1.3h-1.3zM119.7 629.9h1.3v1.3h-1.3zM114.5 625.8h1.3v1.3h-1.3zM119.4 624.8h1.3v1.3h-1.3zM124.3 611.8h1.3v1.3h-1.3zM111.9 620.6h1.3v1.3h-1.3zM120.0 609.7h1.3v1.3h-1.3zM109.0 613.1h1.3v1.3h-1.3zM147.4 611.6h1.3v1.3h-1.3zM104.2 623.4h1.3v1.3h-1.3zM88.5 629.4h1.3v1.3h-1.3zM99.7 623.4h1.3v1.3h-1.3zM115.8 613.4h1.3v1.3h-1.3zM125.3 611.8h1.3v1.3h-1.3zM122.1 613.8h1.3v1.3h-1.3zM101.0 615.9h1.3v1.3h-1.3zM148.5 600.1h1.3v1.3h-1.3zM96.8 619.0h1.3v1.3h-1.3zM91.3 617.5h1.3v1.3h-1.3zM119.0 621.0h1.3v1.3h-1.3zM108.5 621.7h1.3v1.3h-1.3zM123.0 624.4h1.3v1.3h-1.3zM124.2 613.5h1.3v1.3h-1.3zM133.3 613.8h1.3v1.3h-1.3zM122.9 596.0h1.3v1.3h-1.3zM142.8 608.3h1.3v1.3h-1.3zM95.9 617.5h1.3v1.3h-1.3zM134.3 636.2h1.3v1.3h-1.3zM119.9 613.5h1.3v1.3h-1.3zM123.8 615.0h1.3v1.3h-1.3zM120.0 604.8h1.3v1.3h-1.3zM130.5 616.6h1.3v1.3h-1.3zM118.6 599.1h1.3v1.3h-1.3zM106.2 624.8h1.3v1.3h-1.3zM129.4 613.1h1.3v1.3h-1.3zM129.0 602.8h1.3v1.3h-1.3zM145.3 606.8h1.3v1.3h-1.3zM123.9 616.3h1.3v1.3h-1.3zM118.6 608.5h1.3v1.3h-1.3zM98.3 631.2h1.3v1.3h-1.3zM114.1 626.6h1.3v1.3h-1.3zM108.7 609.3h1.3v1.3h-1.3zM79.0 622.1h1.3v1.3h-1.3zM97.4 624.6h1.3v1.3h-1.3zM111.8 627.4h1.3v1.3h-1.3zM94.0 622.7h1.3v1.3h-1.3zM65.1 648.9h1.3v1.3h-1.3zM115.4 608.4h1.3v1.3h-1.3zM159.4 609.4h1.3v1.3h-1.3zM107.4 622.4h1.3v1.3h-1.3zM132.3 605.6h1.3v1.3h-1.3zM104.4 616.6h1.3v1.3h-1.3zM122.5 606.3h1.3v1.3h-1.3zM115.1 619.8h1.3v1.3h-1.3zM106.4 631.7h1.3v1.3h-1.3zM128.4 608.5h1.3v1.3h-1.3zM145.2 608.1h1.3v1.3h-1.3zM114.1 626.2h1.3v1.3h-1.3zM100.3 628.0h1.3v1.3h-1.3zM129.7 613.6h1.3v1.3h-1.3zM78.1 628.2h1.3v1.3h-1.3zM117.5 626.5h1.3v1.3h-1.3zM122.7 611.5h1.3v1.3h-1.3zM102.8 632.8h1.3v1.3h-1.3zM116.8 615.3h1.3v1.3h-1.3zM118.1 603.9h1.3v1.3h-1.3zM126.0 624.0h1.3v1.3h-1.3zM138.4 617.8h1.3v1.3h-1.3zM136.7 611.7h1.3v1.3h-1.3zM147.3 618.5h1.3v1.3h-1.3zM137.3 608.8h1.3v1.3h-1.3zM105.4 614.4h1.3v1.3h-1.3zM167.7 601.7h1.3v1.3h-1.3zM108.1 621.1h1.3v1.3h-1.3zM148.7 607.4h1.3v1.3h-1.3zM152.3 614.3h1.3v1.3h-1.3zM148.9 623.2h1.3v1.3h-1.3zM119.9 619.4h1.3v1.3h-1.3zM113.5 607.8h1.3v1.3h-1.3zM111.3 615.9h1.3v1.3h-1.3zM159.7 599.7h1.3v1.3h-1.3zM115.0 624.4h1.3v1.3h-1.3zM83.7 622.6h1.3v1.3h-1.3zM140.7 602.0h1.3v1.3h-1.3zM127.9 596.1h1.3v1.3h-1.3zM138.4 632.2h1.3v1.3h-1.3zM105.8 613.4h1.3v1.3h-1.3zM115.3 610.7h1.3v1.3h-1.3zM173.7 609.9h1.3v1.3h-1.3zM166.8 605.7h1.3v1.3h-1.3zM94.2 622.4h1.3v1.3h-1.3zM141.0 616.5h1.3v1.3h-1.3zM154.4 615.7h1.3v1.3h-1.3zM119.4 609.0h1.3v1.3h-1.3zM119.0 621.9h1.3v1.3h-1.3zM122.9 610.4h1.3v1.3h-1.3zM157.4 595.6h1.3v1.3h-1.3zM160.2 606.9h1.3v1.3h-1.3zM90.4 624.6h1.3v1.3h-1.3zM115.1 626.6h1.3v1.3h-1.3zM113.0 619.1h1.3v1.3h-1.3zM124.3 607.8h1.3v1.3h-1.3zM105.2 610.6h1.3v1.3h-1.3zM124.1 609.4h1.3v1.3h-1.3zM147.8 620.5h1.3v1.3h-1.3zM154.8 614.3h1.3v1.3h-1.3zM131.1 604.6h1.3v1.3h-1.3zM141.5 624.9h1.3v1.3h-1.3zM126.5 605.3h1.3v1.3h-1.3zM120.8 617.3h1.3v1.3h-1.3zM124.7 601.4h1.3v1.3h-1.3zM112.5 626.8h1.3v1.3h-1.3zM101.4 626.0h1.3v1.3h-1.3zM118.6 614.1h1.3v1.3h-1.3zM121.6 631.3h1.3v1.3h-1.3zM92.1 617.9h1.3v1.3h-1.3zM137.6 624.1h1.3v1.3h-1.3zM141.9 632.4h1.3v1.3h-1.3zM169.4 599.3h1.3v1.3h-1.3zM90.4 619.8h1.3v1.3h-1.3zM122.6 620.1h1.3v1.3h-1.3zM116.0 619.7h1.3v1.3h-1.3zM121.3 624.3h1.3v1.3h-1.3zM112.0 614.0h1.3v1.3h-1.3zM133.8 624.9h1.3v1.3h-1.3zM113.5 604.8h1.3v1.3h-1.3zM137.5 598.1h1.3v1.3h-1.3zM96.5 631.7h1.3v1.3h-1.3zM80.2 643.6h1.3v1.3h-1.3zM115.8 626.9h1.3v1.3h-1.3zM101.7 627.4h1.3v1.3h-1.3zM119.6 609.7h1.3v1.3h-1.3zM134.4 628.4h1.3v1.3h-1.3zM152.9 611.4h1.3v1.3h-1.3zM103.4 621.2h1.3v1.3h-1.3zM115.3 630.0h1.3v1.3h-1.3zM154.3 613.2h1.3v1.3h-1.3zM111.4 614.3h1.3v1.3h-1.3zM156.6 603.4h1.3v1.3h-1.3zM105.4 616.6h1.3v1.3h-1.3zM145.3 607.1h1.3v1.3h-1.3zM136.2 616.9h1.3v1.3h-1.3zM122.0 630.9h1.3v1.3h-1.3zM109.0 629.4h1.3v1.3h-1.3zM123.5 603.0h1.3v1.3h-1.3zM78.6 638.6h1.3v1.3h-1.3zM104.8 621.4h1.3v1.3h-1.3zM146.5 616.9h1.3v1.3h-1.3zM107.7 609.4h1.3v1.3h-1.3zM130.8 609.5h1.3v1.3h-1.3zM139.9 618.2h1.3v1.3h-1.3zM127.8 620.5h1.3v1.3h-1.3zM109.0 618.4h1.3v1.3h-1.3zM132.0 624.8h1.3v1.3h-1.3zM108.0 614.5h1.3v1.3h-1.3zM126.6 609.3h1.3v1.3h-1.3zM117.1 624.5h1.3v1.3h-1.3zM138.9 606.8h1.3v1.3h-1.3zM66.7 622.7h1.3v1.3h-1.3zM108.2 614.0h1.3v1.3h-1.3zM154.7 610.5h1.3v1.3h-1.3zM104.0 618.6h1.3v1.3h-1.3zM125.1 610.6h1.3v1.3h-1.3zM95.3 620.9h1.3v1.3h-1.3zM141.2 605.4h1.3v1.3h-1.3zM135.9 602.4h1.3v1.3h-1.3zM106.9 609.5h1.3v1.3h-1.3zM127.5 623.5h1.3v1.3h-1.3zM117.4 615.1h1.3v1.3h-1.3zM129.9 602.6h1.3v1.3h-1.3zM127.2 619.4h1.3v1.3h-1.3zM167.0 607.9h1.3v1.3h-1.3zM106.9 612.0h1.3v1.3h-1.3zM115.0 624.9h1.3v1.3h-1.3zM102.1 611.0h1.3v1.3h-1.3zM102.1 620.4h1.3v1.3h-1.3zM114.2 619.9h1.3v1.3h-1.3zM107.0 618.7h1.3v1.3h-1.3zM135.4 603.8h1.3v1.3h-1.3zM116.2 627.9h1.3v1.3h-1.3zM93.7 623.3h1.3v1.3h-1.3zM73.8 616.8h1.3v1.3h-1.3zM123.9 614.7h1.3v1.3h-1.3zM95.5 628.5h1.3v1.3h-1.3zM108.5 613.8h1.3v1.3h-1.3zM115.2 612.6h1.3v1.3h-1.3zM133.6 630.0h1.3v1.3h-1.3zM118.7 606.1h1.3v1.3h-1.3zM113.1 617.4h1.3v1.3h-1.3zM120.8 627.2h1.3v1.3h-1.3zM166.9 606.1h1.3v1.3h-1.3zM136.1 616.6h1.3v1.3h-1.3zM151.3 598.9h1.3v1.3h-1.3zM146.9 601.7h1.3v1.3h-1.3zM137.4 600.4h1.3v1.3h-1.3zM131.4 612.7h1.3v1.3h-1.3zM139.5 619.6h1.3v1.3h-1.3zM72.7 621.6h1.3v1.3h-1.3zM126.4 621.2h1.3v1.3h-1.3zM118.0 625.5h1.3v1.3h-1.3zM106.5 618.5h1.3v1.3h-1.3zM125.8 608.1h1.3v1.3h-1.3zM121.5 610.9h1.3v1.3h-1.3zM137.0 618.5h1.3v1.3h-1.3zM89.6 630.3h1.3v1.3h-1.3zM118.3 621.8h1.3v1.3h-1.3zM167.5 610.7h1.3v1.3h-1.3zM132.8 620.1h1.3v1.3h-1.3zM137.1 623.3h1.3v1.3h-1.3zM142.4 609.5h1.3v1.3h-1.3zM115.3 628.2h1.3v1.3h-1.3zM156.7 612.5h1.3v1.3h-1.3zM152.1 629.5h1.3v1.3h-1.3zM99.4 606.2h1.3v1.3h-1.3zM159.0 606.8h1.3v1.3h-1.3zM143.3 605.6h1.3v1.3h-1.3zM116.2 616.5h1.3v1.3h-1.3zM100.4 633.2h1.3v1.3h-1.3zM125.8 608.9h1.3v1.3h-1.3zM126.5 625.7h1.3v1.3h-1.3zM140.3 610.8h1.3v1.3h-1.3zM138.4 614.6h1.3v1.3h-1.3zM118.0 608.1h1.3v1.3h-1.3zM150.7 619.4h1.3v1.3h-1.3zM101.2 613.0h1.3v1.3h-1.3zM130.5 613.6h1.3v1.3h-1.3zM103.8 612.0h1.3v1.3h-1.3zM127.1 613.0h1.3v1.3h-1.3zM131.1 618.4h1.3v1.3h-1.3zM131.3 612.7h1.3v1.3h-1.3zM137.7 609.0h1.3v1.3h-1.3zM97.8 628.4h1.3v1.3h-1.3zM118.0 607.1h1.3v1.3h-1.3zM110.4 609.3h1.3v1.3h-1.3zM144.9 602.9h1.3v1.3h-1.3zM168.4 604.6h1.3v1.3h-1.3zM129.8 603.7h1.3v1.3h-1.3zM131.5 605.2h1.3v1.3h-1.3zM120.8 604.3h1.3v1.3h-1.3zM130.4 630.6h1.3v1.3h-1.3zM145.0 612.1h1.3v1.3h-1.3zM105.7 622.8h1.3v1.3h-1.3zM117.7 607.3h1.3v1.3h-1.3zM130.0 614.8h1.3v1.3h-1.3zM123.1 623.7h1.3v1.3h-1.3zM110.6 623.1h1.3v1.3h-1.3zM118.8 627.0h1.3v1.3h-1.3zM115.4 609.2h1.3v1.3h-1.3zM132.4 613.6h1.3v1.3h-1.3zM130.3 616.2h1.3v1.3h-1.3zM99.7 614.2h1.3v1.3h-1.3zM168.2 600.2h1.3v1.3h-1.3zM137.1 591.2h1.3v1.3h-1.3zM99.2 617.4h1.3v1.3h-1.3zM116.5 619.9h1.3v1.3h-1.3zM90.3 624.8h1.3v1.3h-1.3zM131.3 627.6h1.3v1.3h-1.3zM118.9 621.2h1.3v1.3h-1.3zM103.4 615.4h1.3v1.3h-1.3zM156.2 604.0h1.3v1.3h-1.3zM143.9 604.1h1.3v1.3h-1.3zM122.1 611.1h1.3v1.3h-1.3zM149.8 612.8h1.3v1.3h-1.3zM120.4 628.4h1.3v1.3h-1.3zM86.2 632.2h1.3v1.3h-1.3zM141.2 608.2h1.3v1.3h-1.3zM128.6 603.2h1.3v1.3h-1.3zM88.1 612.8h1.3v1.3h-1.3zM125.0 608.7h1.3v1.3h-1.3zM150.9 615.9h1.3v1.3h-1.3zM106.0 616.7h1.3v1.3h-1.3zM122.2 621.1h1.3v1.3h-1.3zM120.8 622.7h1.3v1.3h-1.3zM126.0 618.5h1.3v1.3h-1.3zM157.3 616.3h1.3v1.3h-1.3zM135.0 612.3h1.3v1.3h-1.3zM155.0 616.2h1.3v1.3h-1.3zM114.0 603.3h1.3v1.3h-1.3zM110.2 622.4h1.3v1.3h-1.3zM115.5 626.2h1.3v1.3h-1.3zM147.7 596.7h1.3v1.3h-1.3zM120.3 623.0h1.3v1.3h-1.3zM96.3 616.9h1.3v1.3h-1.3zM112.8 613.8h1.3v1.3h-1.3zM75.2 631.5h1.3v1.3h-1.3zM135.9 609.1h1.3v1.3h-1.3zM66.1 627.7h1.3v1.3h-1.3zM125.9 615.4h1.3v1.3h-1.3zM116.5 621.3h1.3v1.3h-1.3zM126.2 610.7h1.3v1.3h-1.3zM60.1 631.8h1.3v1.3h-1.3zM141.9 613.0h1.3v1.3h-1.3zM147.8 617.7h1.3v1.3h-1.3zM161.6 598.0h1.3v1.3h-1.3zM115.2 594.2h1.3v1.3h-1.3zM152.1 595.0h1.3v1.3h-1.3zM99.5 622.8h1.3v1.3h-1.3zM132.8 604.4h1.3v1.3h-1.3zM124.9 626.6h1.3v1.3h-1.3z" fill="#3030e6"/>
<path d="M117.8 614.2h1.5v1.5h-1.5zM118.1 617.7h1.5v1.5h-1.5zM109.8 618.8h1.5v1.5h-1.5zM133.8 611.6h1.5v1.5h-1.5zM132.9 612.5h1.5v1.5h-1.5zM125.4 614.2h1.5v1.5h-1.5zM101.2 615.8h1.5v1.5h-1.5zM126.7 612.6h1.5v1.5h-1.5zM100.9 627.1h1.5v1.5h-1.5zM110.3 619.8h1.5v1.5h-1.5zM124.3 615.4h1.5v1.5h-1.5zM126.9 617.5h1.5v1.5h-1.5zM124.4 613.5h1.5v1.5h-1.5zM113.0 609.9h1.5v1.5h-1.5zM127.3 609.5h1.5v1.5h-1.5zM113.5 620.4h1.5v1.5h-1.5zM116.7 617.1h1.5v1.5h-1.5zM128.2 613.4h1.5v1.5h-1.5zM115.5 621.0h1.5v1.5h-1.5zM114.7 611.7h1.5v1.5h-1.5zM111.3 616.6h1.5v1.5h-1.5zM125.8 621.4h1.5v1.5h-1.5zM121.3 610.1h1.5v1.5h-1.5zM97.1 621.6h1.5v1.5h-1.5zM119.5 619.6h1.5v1.5h-1.5zM126.6 615.0h1.5v1.5h-1.5zM103.6 615.5h1.5v1.5h-1.5zM128.6 610.3h1.5v1.5h-1.5zM137.7 611.2h1.5v1.5h-1.5zM122.2 621.2h1.5v1.5h-1.5zM128.0 617.2h1.5v1.5h-1.5zM115.4 622.3h1.5v1.5h-1.5zM109.4 620.2h1.5v1.5h-1.5zM135.9 621.8h1.5v1.5h-1.5zM103.6 618.0h1.5v1.5h-1.5zM137.7 610.2h1.5v1.5h-1.5zM98.5 630.8h1.5v1.5h-1.5zM125.0 618.2h1.5v1.5h-1.5zM107.6 614.1h1.5v1.5h-1.5zM133.7 612.8h1.5v1.5h-1.5zM123.6 613.4h1.5v1.5h-1.5zM139.5 609.7h1.5v1.5h-1.5zM126.9 612.4h1.5v1.5h-1.5zM102.3 613.7h1.5v1.5h-1.5zM132.0 611.5h1.5v1.5h-1.5zM97.6 622.9h1.5v1.5h-1.5zM130.7 621.8h1.5v1.5h-1.5zM118.6 611.9h1.5v1.5h-1.5zM105.4 611.8h1.5v1.5h-1.5zM127.2 615.3h1.5v1.5h-1.5zM124.6 612.3h1.5v1.5h-1.5zM122.2 610.6h1.5v1.5h-1.5zM113.0 619.1h1.5v1.5h-1.5zM133.0 613.5h1.5v1.5h-1.5zM110.4 613.7h1.5v1.5h-1.5zM138.0 614.6h1.5v1.5h-1.5zM104.6 619.4h1.5v1.5h-1.5zM119.0 617.5h1.5v1.5h-1.5zM137.3 617.2h1.5v1.5h-1.5zM135.6 618.6h1.5v1.5h-1.5zM111.5 614.8h1.5v1.5h-1.5zM134.0 609.7h1.5v1.5h-1.5zM124.8 614.5h1.5v1.5h-1.5zM122.6 613.0h1.5v1.5h-1.5zM118.7 615.0h1.5v1.5h-1.5zM127.5 614.6h1.5v1.5h-1.5zM129.7 611.7h1.5v1.5h-1.5zM144.4 610.1h1.5v1.5h-1.5zM115.7 618.4h1.5v1.5h-1.5zM120.6 611.9h1.5v1.5h-1.5zM116.8 614.9h1.5v1.5h-1.5zM142.3 622.9h1.5v1.5h-1.5zM107.6 617.2h1.5v1.5h-1.5zM125.4 614.0h1.5v1.5h-1.5zM115.7 614.0h1.5v1.5h-1.5zM124.1 617.5h1.5v1.5h-1.5zM149.3 609.0h1.5v1.5h-1.5zM114.3 617.5h1.5v1.5h-1.5zM118.1 616.6h1.5v1.5h-1.5zM88.7 623.9h1.5v1.5h-1.5zM132.6 618.7h1.5v1.5h-1.5zM120.0 611.9h1.5v1.5h-1.5zM130.8 607.6h1.5v1.5h-1.5zM100.8 621.1h1.5v1.5h-1.5zM116.8 613.9h1.5v1.5h-1.5zM133.6 625.1h1.5v1.5h-1.5zM133.5 619.7h1.5v1.5h-1.5zM128.8 620.8h1.5v1.5h-1.5zM122.8 610.3h1.5v1.5h-1.5zM119.0 615.4h1.5v1.5h-1.5zM130.1 613.5h1.5v1.5h-1.5zM119.7 609.4h1.5v1.5h-1.5zM133.1 614.8h1.5v1.5h-1.5zM153.0 614.8h1.5v1.5h-1.5zM131.5 615.0h1.5v1.5h-1.5zM122.3 612.5h1.5v1.5h-1.5zM123.4 612.6h1.5v1.5h-1.5zM102.8 625.7h1.5v1.5h-1.5zM128.0 618.7h1.5v1.5h-1.5zM108.7 624.4h1.5v1.5h-1.5zM135.6 609.9h1.5v1.5h-1.5zM138.1 616.7h1.5v1.5h-1.5zM120.8 620.8h1.5v1.5h-1.5zM129.8 607.3h1.5v1.5h-1.5zM110.3 611.1h1.5v1.5h-1.5zM132.4 614.5h1.5v1.5h-1.5zM97.6 614.1h1.5v1.5h-1.5zM119.6 618.7h1.5v1.5h-1.5zM125.5 613.2h1.5v1.5h-1.5zM138.4 617.0h1.5v1.5h-1.5zM134.1 607.0h1.5v1.5h-1.5zM137.8 613.5h1.5v1.5h-1.5zM112.0 613.1h1.5v1.5h-1.5zM122.1 615.1h1.5v1.5h-1.5zM137.5 613.9h1.5v1.5h-1.5zM93.8 622.5h1.5v1.5h-1.5zM99.0 616.3h1.5v1.5h-1.5zM124.5 617.8h1.5v1.5h-1.5zM120.6 612.3h1.5v1.5h-1.5zM121.7 610.0h1.5v1.5h-1.5zM120.0 611.5h1.5v1.5h-1.5zM138.3 605.7h1.5v1.5h-1.5zM112.9 613.5h1.5v1.5h-1.5zM98.7 624.6h1.5v1.5h-1.5zM97.7 615.5h1.5v1.5h-1.5zM106.3 618.6h1.5v1.5h-1.5zM118.5 616.4h1.5v1.5h-1.5zM113.8 616.1h1.5v1.5h-1.5zM141.8 611.8h1.5v1.5h-1.5zM127.0 610.4h1.5v1.5h-1.5zM118.4 621.7h1.5v1.5h-1.5zM114.2 612.4h1.5v1.5h-1.5zM101.4 622.0h1.5v1.5h-1.5zM132.6 610.2h1.5v1.5h-1.5zM120.9 612.4h1.5v1.5h-1.5zM122.7 620.6h1.5v1.5h-1.5zM102.4 622.0h1.5v1.5h-1.5zM131.6 616.3h1.5v1.5h-1.5zM110.2 621.1h1.5v1.5h-1.5zM102.8 619.7h1.5v1.5h-1.5zM106.9 616.8h1.5v1.5h-1.5zM93.1 619.6h1.5v1.5h-1.5zM113.2 625.6h1.5v1.5h-1.5zM129.3 615.5h1.5v1.5h-1.5zM94.6 624.5h1.5v1.5h-1.5zM124.2 617.2h1.5v1.5h-1.5zM129.9 610.9h1.5v1.5h-1.5zM128.6 613.0h1.5v1.5h-1.5zM136.4 610.1h1.5v1.5h-1.5zM126.1 623.9h1.5v1.5h-1.5zM131.3 608.3h1.5v1.5h-1.5zM117.3 618.5h1.5v1.5h-1.5zM143.5 619.2h1.5v1.5h-1.5zM126.3 604.4h1.5v1.5h-1.5zM109.9 614.9h1.5v1.5h-1.5zM142.9 612.3h1.5v1.5h-1.5zM127.4 610.7h1.5v1.5h-1.5zM110.1 618.2h1.5v1.5h-1.5zM124.2 611.7h1.5v1.5h-1.5zM120.4 616.8h1.5v1.5h-1.5zM108.8 619.6h1.5v1.5h-1.5zM131.2 613.5h1.5v1.5h-1.5zM110.7 621.3h1.5v1.5h-1.5zM152.1 605.1h1.5v1.5h-1.5zM128.2 625.7h1.5v1.5h-1.5zM128.1 612.4h1.5v1.5h-1.5zM140.5 610.3h1.5v1.5h-1.5zM120.0 613.7h1.5v1.5h-1.5zM97.9 615.6h1.5v1.5h-1.5zM124.6 618.2h1.5v1.5h-1.5zM136.3 605.2h1.5v1.5h-1.5zM104.3 621.8h1.5v1.5h-1.5zM124.2 614.4h1.5v1.5h-1.5zM116.1 620.9h1.5v1.5h-1.5zM145.7 606.8h1.5v1.5h-1.5zM106.7 624.2h1.5v1.5h-1.5zM140.8 607.9h1.5v1.5h-1.5zM142.1 608.4h1.5v1.5h-1.5zM110.5 616.6h1.5v1.5h-1.5zM95.4 623.8h1.5v1.5h-1.5zM120.1 613.7h1.5v1.5h-1.5zM112.2 618.0h1.5v1.5h-1.5zM126.1 613.2h1.5v1.5h-1.5zM128.3 613.6h1.5v1.5h-1.5zM117.0 613.1h1.5v1.5h-1.5zM121.3 619.3h1.5v1.5h-1.5zM113.4 617.2h1.5v1.5h-1.5zM119.5 615.4h1.5v1.5h-1.5zM120.8 615.1h1.5v1.5h-1.5zM119.2 621.6h1.5v1.5h-1.5zM125.7 610.4h1.5v1.5h-1.5zM125.9 615.7h1.5v1.5h-1.5zM126.0 619.0h1.5v1.5h-1.5zM98.5 619.7h1.5v1.5h-1.5zM109.8 614.7h1.5v1.5h-1.5zM108.0 629.5h1.5v1.5h-1.5zM108.6 611.3h1.5v1.5h-1.5zM116.3 622.6h1.5v1.5h-1.5zM111.8 615.3h1.5v1.5h-1.5zM126.6 614.0h1.5v1.5h-1.5zM138.2 609.6h1.5v1.5h-1.5zM120.5 613.3h1.5v1.5h-1.5zM140.2 608.1h1.5v1.5h-1.5zM132.8 618.3h1.5v1.5h-1.5zM119.0 613.0h1.5v1.5h-1.5zM117.3 611.9h1.5v1.5h-1.5zM127.8 610.6h1.5v1.5h-1.5zM118.3 605.3h1.5v1.5h-1.5zM135.3 614.1h1.5v1.5h-1.5zM121.8 604.5h1.5v1.5h-1.5zM116.7 612.8h1.5v1.5h-1.5zM132.3 613.7h1.5v1.5h-1.5zM107.1 617.6h1.5v1.5h-1.5zM125.0 610.2h1.5v1.5h-1.5zM130.0 614.0h1.5v1.5h-1.5zM130.8 611.7h1.5v1.5h-1.5zM123.2 615.2h1.5v1.5h-1.5zM117.9 613.4h1.5v1.5h-1.5zM108.4 620.9h1.5v1.5h-1.5zM120.8 622.2h1.5v1.5h-1.5zM115.6 625.5h1.5v1.5h-1.5zM112.7 614.9h1.5v1.5h-1.5zM127.4 614.9h1.5v1.5h-1.5zM118.0 622.5h1.5v1.5h-1.5zM142.2 609.6h1.5v1.5h-1.5zM133.6 617.3h1.5v1.5h-1.5zM118.6 624.1h1.5v1.5h-1.5zM129.9 610.1h1.5v1.5h-1.5zM98.5 620.2h1.5v1.5h-1.5zM128.2 622.1h1.5v1.5h-1.5zM99.3 624.4h1.5v1.5h-1.5zM113.4 623.3h1.5v1.5h-1.5zM121.1 614.7h1.5v1.5h-1.5zM128.2 611.4h1.5v1.5h-1.5zM138.4 607.6h1.5v1.5h-1.5zM105.4 620.9h1.5v1.5h-1.5zM108.3 622.8h1.5v1.5h-1.5zM119.8 616.0h1.5v1.5h-1.5zM126.5 621.6h1.5v1.5h-1.5zM106.2 618.6h1.5v1.5h-1.5zM118.4 617.6h1.5v1.5h-1.5zM120.0 619.3h1.5v1.5h-1.5zM129.0 612.8h1.5v1.5h-1.5zM119.7 618.9h1.5v1.5h-1.5zM118.7 628.0h1.5v1.5h-1.5zM109.2 617.8h1.5v1.5h-1.5zM103.1 618.3h1.5v1.5h-1.5zM122.5 621.5h1.5v1.5h-1.5zM117.8 617.7h1.5v1.5h-1.5zM126.2 612.2h1.5v1.5h-1.5zM120.3 619.6h1.5v1.5h-1.5zM119.1 616.4h1.5v1.5h-1.5zM129.4 613.0h1.5v1.5h-1.5zM112.3 623.3h1.5v1.5h-1.5zM116.4 619.9h1.5v1.5h-1.5zM107.7 618.8h1.5v1.5h-1.5zM115.0 616.5h1.5v1.5h-1.5zM126.9 616.5h1.5v1.5h-1.5zM148.1 612.2h1.5v1.5h-1.5zM133.7 612.9h1.5v1.5h-1.5zM133.9 623.7h1.5v1.5h-1.5zM111.9 616.4h1.5v1.5h-1.5zM127.8 604.5h1.5v1.5h-1.5zM124.5 609.6h1.5v1.5h-1.5zM129.8 610.1h1.5v1.5h-1.5zM126.8 615.4h1.5v1.5h-1.5zM126.7 619.4h1.5v1.5h-1.5zM134.6 617.7h1.5v1.5h-1.5zM123.7 606.2h1.5v1.5h-1.5zM118.1 616.3h1.5v1.5h-1.5zM134.4 613.2h1.5v1.5h-1.5zM111.3 616.5h1.5v1.5h-1.5zM127.6 611.5h1.5v1.5h-1.5zM111.7 610.0h1.5v1.5h-1.5zM140.3 612.1h1.5v1.5h-1.5zM123.9 617.1h1.5v1.5h-1.5zM137.4 615.8h1.5v1.5h-1.5zM128.7 616.5h1.5v1.5h-1.5zM112.6 614.3h1.5v1.5h-1.5zM136.4 613.0h1.5v1.5h-1.5zM112.8 613.8h1.5v1.5h-1.5zM120.2 614.6h1.5v1.5h-1.5zM138.6 607.7h1.5v1.5h-1.5zM114.7 607.1h1.5v1.5h-1.5zM120.8 612.5h1.5v1.5h-1.5zM113.2 617.5h1.5v1.5h-1.5zM100.2 611.9h1.5v1.5h-1.5zM136.8 618.1h1.5v1.5h-1.5zM103.1 626.1h1.5v1.5h-1.5zM134.6 615.3h1.5v1.5h-1.5zM120.1 617.3h1.5v1.5h-1.5zM119.3 620.8h1.5v1.5h-1.5zM121.0 622.0h1.5v1.5h-1.5zM119.9 614.7h1.5v1.5h-1.5zM126.3 615.8h1.5v1.5h-1.5zM110.2 617.1h1.5v1.5h-1.5zM115.1 610.1h1.5v1.5h-1.5zM129.8 614.7h1.5v1.5h-1.5zM115.2 619.9h1.5v1.5h-1.5zM109.8 619.4h1.5v1.5h-1.5zM124.2 613.0h1.5v1.5h-1.5zM127.4 605.6h1.5v1.5h-1.5zM112.5 617.3h1.5v1.5h-1.5zM153.6 617.8h1.5v1.5h-1.5zM114.6 616.3h1.5v1.5h-1.5zM122.6 613.8h1.5v1.5h-1.5zM118.0 614.8h1.5v1.5h-1.5zM121.4 612.4h1.5v1.5h-1.5zM98.5 623.8h1.5v1.5h-1.5zM120.7 620.3h1.5v1.5h-1.5zM108.5 615.4h1.5v1.5h-1.5zM113.1 614.5h1.5v1.5h-1.5zM129.5 612.9h1.5v1.5h-1.5zM126.7 615.2h1.5v1.5h-1.5zM104.2 619.0h1.5v1.5h-1.5zM126.1 617.1h1.5v1.5h-1.5zM119.6 612.8h1.5v1.5h-1.5zM110.5 615.0h1.5v1.5h-1.5zM142.6 614.2h1.5v1.5h-1.5zM122.5 616.2h1.5v1.5h-1.5zM138.8 611.1h1.5v1.5h-1.5zM131.3 616.9h1.5v1.5h-1.5zM120.6 615.9h1.5v1.5h-1.5zM99.9 613.5h1.5v1.5h-1.5zM131.3 621.4h1.5v1.5h-1.5zM129.5 614.8h1.5v1.5h-1.5zM126.0 613.3h1.5v1.5h-1.5zM103.2 620.0h1.5v1.5h-1.5zM138.3 615.1h1.5v1.5h-1.5zM108.8 623.9h1.5v1.5h-1.5zM106.4 617.1h1.5v1.5h-1.5zM140.6 610.3h1.5v1.5h-1.5zM123.6 605.7h1.5v1.5h-1.5zM114.7 619.9h1.5v1.5h-1.5zM127.0 612.3h1.5v1.5h-1.5zM108.8 623.1h1.5v1.5h-1.5zM124.2 614.1h1.5v1.5h-1.5zM105.4 619.6h1.5v1.5h-1.5zM114.4 615.0h1.5v1.5h-1.5zM119.4 616.5h1.5v1.5h-1.5zM116.6 612.1h1.5v1.5h-1.5zM137.1 614.4h1.5v1.5h-1.5zM130.7 617.3h1.5v1.5h-1.5zM121.6 612.5h1.5v1.5h-1.5zM138.5 614.2h1.5v1.5h-1.5zM119.9 615.2h1.5v1.5h-1.5zM103.2 619.0h1.5v1.5h-1.5zM112.8 615.7h1.5v1.5h-1.5zM107.5 626.8h1.5v1.5h-1.5zM121.2 614.6h1.5v1.5h-1.5zM114.3 613.2h1.5v1.5h-1.5zM117.6 619.1h1.5v1.5h-1.5zM126.4 621.6h1.5v1.5h-1.5zM112.8 617.4h1.5v1.5h-1.5zM130.7 614.7h1.5v1.5h-1.5zM124.4 618.0h1.5v1.5h-1.5zM124.3 608.0h1.5v1.5h-1.5zM112.7 607.1h1.5v1.5h-1.5zM113.2 617.2h1.5v1.5h-1.5zM122.8 611.1h1.5v1.5h-1.5zM106.2 627.6h1.5v1.5h-1.5zM127.9 611.1h1.5v1.5h-1.5zM128.1 603.1h1.5v1.5h-1.5zM123.2 614.3h1.5v1.5h-1.5zM131.7 612.2h1.5v1.5h-1.5zM140.3 617.6h1.5v1.5h-1.5zM116.4 631.5h1.5v1.5h-1.5zM130.3 615.7h1.5v1.5h-1.5zM131.6 604.5h1.5v1.5h-1.5zM120.7 617.0h1.5v1.5h-1.5zM114.9 620.6h1.5v1.5h-1.5zM113.4 614.5h1.5v1.5h-1.5zM121.2 615.5h1.5v1.5h-1.5zM118.7 612.3h1.5v1.5h-1.5zM126.6 615.4h1.5v1.5h-1.5zM128.6 615.1h1.5v1.5h-1.5zM107.2 612.1h1.5v1.5h-1.5zM126.2 619.0h1.5v1.5h-1.5zM133.4 612.0h1.5v1.5h-1.5zM102.4 612.3h1.5v1.5h-1.5zM124.7 611.3h1.5v1.5h-1.5zM123.1 616.1h1.5v1.5h-1.5zM102.6 615.0h1.5v1.5h-1.5zM121.1 617.0h1.5v1.5h-1.5zM124.9 614.8h1.5v1.5h-1.5zM128.7 616.0h1.5v1.5h-1.5zM120.3 625.2h1.5v1.5h-1.5zM115.8 613.9h1.5v1.5h-1.5zM136.5 614.5h1.5v1.5h-1.5zM119.3 609.3h1.5v1.5h-1.5zM116.9 613.4h1.5v1.5h-1.5zM140.5 612.0h1.5v1.5h-1.5zM135.2 616.2h1.5v1.5h-1.5zM123.2 615.7h1.5v1.5h-1.5zM122.1 610.7h1.5v1.5h-1.5zM148.8 613.5h1.5v1.5h-1.5zM114.0 615.0h1.5v1.5h-1.5zM108.4 616.0h1.5v1.5h-1.5zM127.5 615.8h1.5v1.5h-1.5zM127.0 621.4h1.5v1.5h-1.5zM129.7 620.9h1.5v1.5h-1.5zM112.6 619.8h1.5v1.5h-1.5zM116.1 613.0h1.5v1.5h-1.5zM121.7 617.4h1.5v1.5h-1.5zM127.1 607.8h1.5v1.5h-1.5zM120.8 614.3h1.5v1.5h-1.5zM135.3 612.0h1.5v1.5h-1.5zM105.7 607.9h1.5v1.5h-1.5zM146.7 619.6h1.5v1.5h-1.5zM120.3 614.1h1.5v1.5h-1.5zM132.1 610.9h1.5v1.5h-1.5zM117.6 621.0h1.5v1.5h-1.5zM122.0 611.2h1.5v1.5h-1.5zM108.0 622.7h1.5v1.5h-1.5zM120.5 624.3h1.5v1.5h-1.5zM117.7 618.3h1.5v1.5h-1.5zM126.1 617.9h1.5v1.5h-1.5zM110.4 619.5h1.5v1.5h-1.5zM120.2 618.8h1.5v1.5h-1.5zM120.9 612.6h1.5v1.5h-1.5zM134.7 605.9h1.5v1.5h-1.5zM111.6 619.4h1.5v1.5h-1.5zM91.6 613.1h1.5v1.5h-1.5zM112.3 617.6h1.5v1.5h-1.5zM126.9 620.6h1.5v1.5h-1.5zM126.2 615.0h1.5v1.5h-1.5zM99.3 618.6h1.5v1.5h-1.5zM134.8 621.3h1.5v1.5h-1.5zM130.2 613.2h1.5v1.5h-1.5zM126.3 612.9h1.5v1.5h-1.5zM136.1 614.0h1.5v1.5h-1.5zM131.0 615.7h1.5v1.5h-1.5zM129.3 617.8h1.5v1.5h-1.5zM119.5 608.6h1.5v1.5h-1.5zM126.0 615.6h1.5v1.5h-1.5zM107.3 621.7h1.5v1.5h-1.5zM123.0 611.4h1.5v1.5h-1.5zM125.8 612.7h1.5v1.5h-1.5zM120.3 610.1h1.5v1.5h-1.5zM116.2 619.1h1.5v1.5h-1.5zM131.2 613.6h1.5v1.5h-1.5zM117.5 618.9h1.5v1.5h-1.5zM117.7 613.7h1.5v1.5h-1.5zM124.9 620.3h1.5v1.5h-1.5zM125.8 614.2h1.5v1.5h-1.5zM109.0 614.7h1.5v1.5h-1.5zM117.5 617.9h1.5v1.5h-1.5zM130.1 608.4h1.5v1.5h-1.5zM112.7 615.5h1.5v1.5h-1.5zM110.5 607.8h1.5v1.5h-1.5zM115.0 611.8h1.5v1.5h-1.5zM113.2 613.8h1.5v1.5h-1.5zM146.8 622.0h1.5v1.5h-1.5zM115.7 614.6h1.5v1.5h-1.5zM119.7 618.9h1.5v1.5h-1.5zM146.0 610.8h1.5v1.5h-1.5zM101.5 615.7h1.5v1.5h-1.5zM100.5 614.6h1.5v1.5h-1.5zM114.0 616.5h1.5v1.5h-1.5zM135.6 612.6h1.5v1.5h-1.5zM104.4 626.2h1.5v1.5h-1.5zM134.6 610.1h1.5v1.5h-1.5zM111.2 613.9h1.5v1.5h-1.5zM126.6 612.0h1.5v1.5h-1.5zM94.2 622.1h1.5v1.5h-1.5zM131.3 610.7h1.5v1.5h-1.5zM131.1 624.5h1.5v1.5h-1.5zM122.7 613.4h1.5v1.5h-1.5zM150.7 614.4h1.5v1.5h-1.5zM116.9 616.4h1.5v1.5h-1.5zM131.2 615.8h1.5v1.5h-1.5zM134.2 616.8h1.5v1.5h-1.5zM123.9 617.5h1.5v1.5h-1.5zM122.6 618.5h1.5v1.5h-1.5zM102.0 614.6h1.5v1.5h-1.5zM124.3 617.6h1.5v1.5h-1.5zM123.1 611.1h1.5v1.5h-1.5zM109.3 618.5h1.5v1.5h-1.5zM127.1 612.4h1.5v1.5h-1.5zM116.8 625.7h1.5v1.5h-1.5zM135.4 611.7h1.5v1.5h-1.5zM120.9 617.0h1.5v1.5h-1.5zM123.9 617.1h1.5v1.5h-1.5zM108.7 621.3h1.5v1.5h-1.5zM113.8 619.8h1.5v1.5h-1.5zM107.2 615.6h1.5v1.5h-1.5zM105.4 615.9h1.5v1.5h-1.5zM108.8 616.5h1.5v1.5h-1.5zM136.9 612.0h1.5v1.5h-1.5zM112.2 617.2h1.5v1.5h-1.5zM122.5 623.0h1.5v1.5h-1.5zM113.6 616.5h1.5v1.5h-1.5zM115.3 616.5h1.5v1.5h-1.5zM129.4 610.9h1.5v1.5h-1.5zM131.4 611.3h1.5v1.5h-1.5zM117.4 616.6h1.5v1.5h-1.5zM117.6 617.8h1.5v1.5h-1.5zM118.7 623.7h1.5v1.5h-1.5zM116.9 616.7h1.5v1.5h-1.5zM109.3 618.1h1.5v1.5h-1.5zM126.8 615.4h1.5v1.5h-1.5zM145.1 622.6h1.5v1.5h-1.5zM118.3 624.2h1.5v1.5h-1.5zM132.3 602.3h1.5v1.5h-1.5zM91.4 620.7h1.5v1.5h-1.5zM126.9 616.0h1.5v1.5h-1.5zM127.2 624.3h1.5v1.5h-1.5zM130.8 612.4h1.5v1.5h-1.5zM121.0 618.3h1.5v1.5h-1.5zM128.3 616.6h1.5v1.5h-1.5zM123.4 617.6h1.5v1.5h-1.5zM94.4 620.9h1.5v1.5h-1.5zM123.1 612.2h1.5v1.5h-1.5zM110.5 617.9h1.5v1.5h-1.5zM128.0 613.9h1.5v1.5h-1.5zM135.4 604.6h1.5v1.5h-1.5zM110.1 626.1h1.5v1.5h-1.5zM130.8 607.4h1.5v1.5h-1.5zM131.6 610.3h1.5v1.5h-1.5zM113.5 620.3h1.5v1.5h-1.5zM131.2 617.9h1.5v1.5h-1.5zM99.5 624.1h1.5v1.5h-1.5zM150.0 602.1h1.5v1.5h-1.5zM112.7 620.5h1.5v1.5h-1.5zM123.5 618.6h1.5v1.5h-1.5zM136.1 613.3h1.5v1.5h-1.5zM108.0 612.6h1.5v1.5h-1.5zM113.9 616.2h1.5v1.5h-1.5zM120.6 617.2h1.5v1.5h-1.5zM124.6 618.1h1.5v1.5h-1.5zM99.1 629.4h1.5v1.5h-1.5zM105.9 621.9h1.5v1.5h-1.5zM120.5 615.7h1.5v1.5h-1.5zM127.3 614.1h1.5v1.5h-1.5zM111.4 620.6h1.5v1.5h-1.5zM95.9 621.2h1.5v1.5h-1.5zM126.5 612.5h1.5v1.5h-1.5zM119.3 616.9h1.5v1.5h-1.5zM131.8 613.7h1.5v1.5h-1.5zM129.4 611.7h1.5v1.5h-1.5zM123.3 609.7h1.5v1.5h-1.5zM114.0 618.6h1.5v1.5h-1.5zM111.3 621.0h1.5v1.5h-1.5zM139.0 604.9h1.5v1.5h-1.5zM121.0 613.3h1.5v1.5h-1.5zM134.6 609.8h1.5v1.5h-1.5zM134.9 618.7h1.5v1.5h-1.5zM113.3 615.3h1.5v1.5h-1.5zM137.6 612.3h1.5v1.5h-1.5zM110.7 619.2h1.5v1.5h-1.5zM113.0 621.0h1.5v1.5h-1.5zM138.4 615.3h1.5v1.5h-1.5zM121.0 606.5h1.5v1.5h-1.5zM134.7 611.8h1.5v1.5h-1.5zM113.6 615.4h1.5v1.5h-1.5zM139.8 609.6h1.5v1.5h-1.5zM135.6 612.7h1.5v1.5h-1.5zM126.8 615.6h1.5v1.5h-1.5zM125.8 609.3h1.5v1.5h-1.5zM104.0 619.2h1.5v1.5h-1.5zM123.6 617.8h1.5v1.5h-1.5zM117.1 613.1h1.5v1.5h-1.5zM144.3 608.8h1.5v1.5h-1.5zM124.6 621.8h1.5v1.5h-1.5zM143.4 611.3h1.5v1.5h-1.5zM120.4 620.7h1.5v1.5h-1.5zM120.1 620.7h1.5v1.5h-1.5zM121.6 613.7h1.5v1.5h-1.5zM121.1 614.6h1.5v1.5h-1.5zM110.8 611.5h1.5v1.5h-1.5zM113.1 625.1h1.5v1.5h-1.5zM118.6 619.6h1.5v1.5h-1.5zM108.9 619.6h1.5v1.5h-1.5zM124.2 620.3h1.5v1.5h-1.5zM119.1 610.0h1.5v1.5h-1.5zM128.8 615.0h1.5v1.5h-1.5zM122.3 616.1h1.5v1.5h-1.5zM120.2 612.8h1.5v1.5h-1.5zM119.7 626.4h1.5v1.5h-1.5zM120.5 619.7h1.5v1.5h-1.5zM128.4 617.1h1.5v1.5h-1.5zM122.5 606.1h1.5v1.5h-1.5zM108.5 623.0h1.5v1.5h-1.5zM104.2 629.3h1.5v1.5h-1.5zM98.7 618.4h1.5v1.5h-1.5zM113.3 625.3h1.5v1.5h-1.5zM103.4 616.4h1.5v1.5h-1.5zM111.7 619.1h1.5v1.5h-1.5zM124.6 609.3h1.5v1.5h-1.5zM143.6 607.2h1.5v1.5h-1.5zM122.4 614.7h1.5v1.5h-1.5zM141.9 605.8h1.5v1.5h-1.5zM117.1 614.6h1.5v1.5h-1.5zM124.1 615.0h1.5v1.5h-1.5zM114.9 622.7h1.5v1.5h-1.5zM114.5 623.7h1.5v1.5h-1.5zM135.1 610.9h1.5v1.5h-1.5zM106.6 612.4h1.5v1.5h-1.5zM131.2 622.1h1.5v1.5h-1.5zM142.4 608.4h1.5v1.5h-1.5zM145.0 616.7h1.5v1.5h-1.5zM127.0 612.9h1.5v1.5h-1.5zM123.1 614.7h1.5v1.5h-1.5zM133.1 620.0h1.5v1.5h-1.5zM106.2 624.6h1.5v1.5h-1.5zM114.2 619.7h1.5v1.5h-1.5zM125.1 613.9h1.5v1.5h-1.5zM121.1 618.7h1.5v1.5h-1.5zM115.6 612.7h1.5v1.5h-1.5zM129.7 613.8h1.5v1.5h-1.5zM117.0 609.9h1.5v1.5h-1.5zM113.8 614.3h1.5v1.5h-1.5zM134.3 614.5h1.5v1.5h-1.5zM130.5 618.9h1.5v1.5h-1.5zM132.7 612.8h1.5v1.5h-1.5zM102.1 616.4h1.5v1.5h-1.5zM110.3 612.3h1.5v1.5h-1.5zM112.8 618.0h1.5v1.5h-1.5zM124.1 616.7h1.5v1.5h-1.5zM123.8 617.7h1.5v1.5h-1.5zM128.7 614.4h1.5v1.5h-1.5zM123.2 627.3h1.5v1.5h-1.5zM134.4 613.2h1.5v1.5h-1.5zM99.8 619.3h1.5v1.5h-1.5zM126.2 610.2h1.5v1.5h-1.5zM108.1 611.5h1.5v1.5h-1.5zM118.9 605.9h1.5v1.5h-1.5zM119.0 613.2h1.5v1.5h-1.5zM116.5 621.5h1.5v1.5h-1.5zM133.6 609.6h1.5v1.5h-1.5zM138.8 608.8h1.5v1.5h-1.5zM114.0 624.3h1.5v1.5h-1.5zM113.1 620.2h1.5v1.5h-1.5zM111.2 615.1h1.5v1.5h-1.5zM124.6 616.3h1.5v1.5h-1.5zM122.8 616.1h1.5v1.5h-1.5zM123.3 612.1h1.5v1.5h-1.5zM132.0 616.7h1.5v1.5h-1.5zM103.1 613.0h1.5v1.5h-1.5zM122.1 610.8h1.5v1.5h-1.5zM101.5 620.8h1.5v1.5h-1.5zM121.1 622.0h1.5v1.5h-1.5zM114.7 613.8h1.5v1.5h-1.5zM133.4 606.6h1.5v1.5h-1.5zM110.6 623.8h1.5v1.5h-1.5zM126.9 610.7h1.5v1.5h-1.5zM123.0 621.0h1.5v1.5h-1.5zM129.9 610.7h1.5v1.5h-1.5zM127.3 616.7h1.5v1.5h-1.5zM124.3 611.8h1.5v1.5h-1.5zM114.2 625.0h1.5v1.5h-1.5zM124.6 613.1h1.5v1.5h-1.5zM120.9 612.0h1.5v1.5h-1.5zM113.9 617.5h1.5v1.5h-1.5zM117.2 614.0h1.5v1.5h-1.5zM139.5 613.5h1.5v1.5h-1.5zM144.9 604.8h1.5v1.5h-1.5zM130.0 611.6h1.5v1.5h-1.5zM141.6 612.8h1.5v1.5h-1.5zM119.4 620.7h1.5v1.5h-1.5zM126.3 609.0h1.5v1.5h-1.5zM127.0 612.9h1.5v1.5h-1.5zM118.4 615.6h1.5v1.5h-1.5zM104.0 614.4h1.5v1.5h-1.5zM115.9 621.5h1.5v1.5h-1.5zM111.9 621.0h1.5v1.5h-1.5zM130.8 609.4h1.5v1.5h-1.5zM104.8 614.8h1.5v1.5h-1.5zM131.2 616.4h1.5v1.5h-1.5zM103.3 622.3h1.5v1.5h-1.5zM113.3 615.8h1.5v1.5h-1.5zM116.6 625.4h1.5v1.5h-1.5zM123.5 622.0h1.5v1.5h-1.5zM131.4 619.1h1.5v1.5h-1.5zM112.6 621.0h1.5v1.5h-1.5zM114.4 611.4h1.5v1.5h-1.5zM130.8 611.4h1.5v1.5h-1.5zM124.5 621.8h1.5v1.5h-1.5zM114.6 619.4h1.5v1.5h-1.5zM109.3 615.8h1.5v1.5h-1.5zM112.1 620.5h1.5v1.5h-1.5zM108.5 627.0h1.5v1.5h-1.5zM127.8 608.8h1.5v1.5h-1.5zM122.8 619.7h1.5v1.5h-1.5zM89.0 621.0h1.5v1.5h-1.5zM135.0 611.9h1.5v1.5h-1.5zM131.6 607.5h1.5v1.5h-1.5zM134.0 615.3h1.5v1.5h-1.5zM133.1 610.2h1.5v1.5h-1.5zM102.7 620.9h1.5v1.5h-1.5zM104.0 619.4h1.5v1.5h-1.5zM127.6 619.2h1.5v1.5h-1.5zM96.6 614.7h1.5v1.5h-1.5zM125.2 608.7h1.5v1.5h-1.5zM105.2 614.2h1.5v1.5h-1.5zM145.1 602.7h1.5v1.5h-1.5zM118.3 615.1h1.5v1.5h-1.5zM119.0 611.9h1.5v1.5h-1.5zM132.9 613.2h1.5v1.5h-1.5zM104.8 615.6h1.5v1.5h-1.5zM115.2 614.2h1.5v1.5h-1.5zM123.9 608.3h1.5v1.5h-1.5zM134.1 615.3h1.5v1.5h-1.5zM124.9 607.5h1.5v1.5h-1.5zM114.5 615.1h1.5v1.5h-1.5zM134.7 607.8h1.5v1.5h-1.5zM126.9 620.4h1.5v1.5h-1.5zM106.0 617.5h1.5v1.5h-1.5zM125.3 604.0h1.5v1.5h-1.5zM110.6 612.8h1.5v1.5h-1.5zM129.8 621.4h1.5v1.5h-1.5zM111.2 616.9h1.5v1.5h-1.5zM115.0 617.6h1.5v1.5h-1.5zM126.3 618.3h1.5v1.5h-1.5zM126.2 617.6h1.5v1.5h-1.5zM114.4 614.7h1.5v1.5h-1.5zM114.0 615.9h1.5v1.5h-1.5zM139.5 612.3h1.5v1.5h-1.5zM119.0 613.0h1.5v1.5h-1.5zM116.5 612.0h1.5v1.5h-1.5zM105.7 616.0h1.5v1.5h-1.5zM114.8 620.4h1.5v1.5h-1.5zM141.5 615.7h1.5v1.5h-1.5zM141.4 609.2h1.5v1.5h-1.5zM137.8 616.9h1.5v1.5h-1.5zM134.8 607.0h1.5v1.5h-1.5zM119.4 616.7h1.5v1.5h-1.5zM149.6 609.7h1.5v1.5h-1.5zM115.8 619.5h1.5v1.5h-1.5zM126.0 613.5h1.5v1.5h-1.5zM122.8 608.0h1.5v1.5h-1.5zM116.9 614.5h1.5v1.5h-1.5zM137.9 617.0h1.5v1.5h-1.5zM133.0 605.7h1.5v1.5h-1.5zM104.9 623.5h1.5v1.5h-1.5zM108.6 626.1h1.5v1.5h-1.5zM126.1 622.9h1.5v1.5h-1.5zM126.6 608.5h1.5v1.5h-1.5zM101.8 620.7h1.5v1.5h-1.5zM98.2 616.7h1.5v1.5h-1.5zM112.1 618.6h1.5v1.5h-1.5zM121.4 613.4h1.5v1.5h-1.5zM116.7 616.5h1.5v1.5h-1.5zM114.3 616.5h1.5v1.5h-1.5zM107.0 618.1h1.5v1.5h-1.5zM98.1 622.2h1.5v1.5h-1.5zM143.3 611.3h1.5v1.5h-1.5zM106.0 617.5h1.5v1.5h-1.5zM109.3 625.1h1.5v1.5h-1.5zM112.1 614.3h1.5v1.5h-1.5zM125.3 615.4h1.5v1.5h-1.5zM109.9 622.5h1.5v1.5h-1.5zM136.6 611.9h1.5v1.5h-1.5zM109.6 627.0h1.5v1.5h-1.5zM104.7 608.1h1.5v1.5h-1.5zM107.3 618.7h1.5v1.5h-1.5zM123.2 616.1h1.5v1.5h-1.5zM117.5 622.4h1.5v1.5h-1.5zM108.4 610.8h1.5v1.5h-1.5zM111.9 613.8h1.5v1.5h-1.5zM100.9 620.7h1.5v1.5h-1.5zM123.8 610.8h1.5v1.5h-1.5zM107.6 615.7h1.5v1.5h-1.5zM125.3 618.2h1.5v1.5h-1.5zM126.4 618.7h1.5v1.5h-1.5zM111.4 617.7h1.5v1.5h-1.5zM88.9 622.2h1.5v1.5h-1.5zM109.0 624.3h1.5v1.5h-1.5zM115.8 613.5h1.5v1.5h-1.5zM116.0 611.3h1.5v1.5h-1.5zM107.1 624.0h1.5v1.5h-1.5zM139.0 610.8h1.5v1.5h-1.5zM131.9 617.4h1.5v1.5h-1.5zM130.2 613.0h1.5v1.5h-1.5zM128.4 614.3h1.5v1.5h-1.5zM134.9 616.0h1.5v1.5h-1.5zM109.4 624.3h1.5v1.5h-1.5zM134.4 616.5h1.5v1.5h-1.5zM108.5 622.2h1.5v1.5h-1.5zM115.5 622.3h1.5v1.5h-1.5zM117.4 619.2h1.5v1.5h-1.5zM114.3 621.2h1.5v1.5h-1.5zM121.2 617.8h1.5v1.5h-1.5zM122.1 614.5h1.5v1.5h-1.5zM124.8 624.6h1.5v1.5h-1.5zM114.5 620.4h1.5v1.5h-1.5zM129.9 621.0h1.5v1.5h-1.5zM112.4 618.7h1.5v1.5h-1.5zM116.8 612.3h1.5v1.5h-1.5zM115.6 612.7h1.5v1.5h-1.5zM103.6 626.9h1.5v1.5h-1.5zM135.1 611.3h1.5v1.5h-1.5zM126.5 614.3h1.5v1.5h-1.5zM126.4 620.0h1.5v1.5h-1.5zM131.9 616.1h1.5v1.5h-1.5zM132.3 613.3h1.5v1.5h-1.5zM97.6 625.7h1.5v1.5h-1.5zM134.0 614.0h1.5v1.5h-1.5zM116.1 615.7h1.5v1.5h-1.5zM115.8 619.1h1.5v1.5h-1.5zM122.0 615.0h1.5v1.5h-1.5zM138.6 612.4h1.5v1.5h-1.5zM142.8 604.0h1.5v1.5h-1.5zM140.9 607.5h1.5v1.5h-1.5zM122.3 615.0h1.5v1.5h-1.5zM119.1 619.3h1.5v1.5h-1.5zM120.0 618.8h1.5v1.5h-1.5zM140.0 610.0h1.5v1.5h-1.5zM115.5 625.1h1.5v1.5h-1.5zM120.1 617.8h1.5v1.5h-1.5zM108.0 623.1h1.5v1.5h-1.5zM94.3 618.3h1.5v1.5h-1.5zM120.0 604.9h1.5v1.5h-1.5zM120.4 616.6h1.5v1.5h-1.5zM137.7 612.1h1.5v1.5h-1.5zM122.7 617.1h1.5v1.5h-1.5zM113.7 610.7h1.5v1.5h-1.5zM132.5 606.3h1.5v1.5h-1.5zM116.7 616.5h1.5v1.5h-1.5zM110.4 613.6h1.5v1.5h-1.5zM104.4 616.4h1.5v1.5h-1.5zM133.6 607.4h1.5v1.5h-1.5zM109.7 613.2h1.5v1.5h-1.5zM112.4 620.7h1.5v1.5h-1.5zM105.2 613.7h1.5v1.5h-1.5zM140.1 614.8h1.5v1.5h-1.5zM111.8 619.0h1.5v1.5h-1.5zM150.2 606.1h1.5v1.5h-1.5zM114.4 624.8h1.5v1.5h-1.5zM112.9 612.2h1.5v1.5h-1.5zM142.7 612.9h1.5v1.5h-1.5zM112.6 619.6h1.5v1.5h-1.5zM98.6 616.0h1.5v1.5h-1.5zM108.0 613.6h1.5v1.5h-1.5zM100.7 625.0h1.5v1.5h-1.5zM124.1 618.5h1.5v1.5h-1.5zM129.9 614.1h1.5v1.5h-1.5zM107.0 615.7h1.5v1.5h-1.5zM130.6 622.3h1.5v1.5h-1.5zM142.2 609.7h1.5v1.5h-1.5zM129.7 622.2h1.5v1.5h-1.5zM112.3 618.9h1.5v1.5h-1.5zM133.4 619.8h1.5v1.5h-1.5zM110.4 626.5h1.5v1.5h-1.5zM117.9 614.9h1.5v1.5h-1.5zM101.0 622.1h1.5v1.5h-1.5zM126.8 607.9h1.5v1.5h-1.5zM128.6 615.7h1.5v1.5h-1.5zM106.9 622.5h1.5v1.5h-1.5zM113.0 616.7h1.5v1.5h-1.5zM120.2 608.8h1.5v1.5h-1.5zM124.1 619.9h1.5v1.5h-1.5zM138.9 608.4h1.5v1.5h-1.5zM121.9 618.7h1.5v1.5h-1.5zM98.8 624.3h1.5v1.5h-1.5zM131.5 617.3h1.5v1.5h-1.5zM105.3 617.9h1.5v1.5h-1.5zM123.6 612.7h1.5v1.5h-1.5zM128.5 608.3h1.5v1.5h-1.5zM110.9 613.5h1.5v1.5h-1.5zM109.2 615.0h1.5v1.5h-1.5zM122.9 614.4h1.5v1.5h-1.5zM132.1 613.8h1.5v1.5h-1.5zM133.8 609.7h1.5v1.5h-1.5zM122.4 618.0h1.5v1.5h-1.5zM111.9 619.8h1.5v1.5h-1.5zM118.4 616.4h1.5v1.5h-1.5zM155.8 606.6h1.5v1.5h-1.5zM129.8 617.9h1.5v1.5h-1.5zM112.4 618.8h1.5v1.5h-1.5zM123.0 619.9h1.5v1.5h-1.5zM139.7 614.8h1.5v1.5h-1.5zM133.4 623.6h1.5v1.5h-1.5zM120.7 614.7h1.5v1.5h-1.5zM123.0 612.8h1.5v1.5h-1.5zM124.0 614.5h1.5v1.5h-1.5zM98.5 623.0h1.5v1.5h-1.5zM93.3 618.2h1.5v1.5h-1.5zM124.4 616.0h1.5v1.5h-1.5zM111.1 620.1h1.5v1.5h-1.5zM142.4 604.4h1.5v1.5h-1.5zM120.1 610.4h1.5v1.5h-1.5zM102.1 627.7h1.5v1.5h-1.5zM115.1 620.7h1.5v1.5h-1.5zM114.2 616.3h1.5v1.5h-1.5zM156.3 612.1h1.5v1.5h-1.5zM121.3 614.6h1.5v1.5h-1.5zM120.4 611.9h1.5v1.5h-1.5zM141.6 617.4h1.5v1.5h-1.5zM122.7 616.6h1.5v1.5h-1.5zM124.9 621.7h1.5v1.5h-1.5zM100.1 629.7h1.5v1.5h-1.5zM126.9 613.9h1.5v1.5h-1.5zM121.6 625.9h1.5v1.5h-1.5zM116.4 619.9h1.5v1.5h-1.5zM104.2 622.9h1.5v1.5h-1.5zM129.0 612.0h1.5v1.5h-1.5zM120.5 613.7h1.5v1.5h-1.5zM113.7 616.9h1.5v1.5h-1.5zM121.2 613.4h1.5v1.5h-1.5zM119.9 616.6h1.5v1.5h-1.5zM119.2 618.9h1.5v1.5h-1.5zM147.0 608.8h1.5v1.5h-1.5zM125.8 605.0h1.5v1.5h-1.5zM137.2 619.5h1.5v1.5h-1.5zM128.9 610.7h1.5v1.5h-1.5zM142.9 606.1h1.5v1.5h-1.5zM129.8 619.3h1.5v1.5h-1.5zM110.5 616.6h1.5v1.5h-1.5zM126.7 619.2h1.5v1.5h-1.5zM116.2 618.4h1.5v1.5h-1.5zM121.5 614.3h1.5v1.5h-1.5zM117.4 621.8h1.5v1.5h-1.5zM135.4 606.3h1.5v1.5h-1.5zM119.5 611.7h1.5v1.5h-1.5zM126.0 612.0h1.5v1.5h-1.5zM126.4 618.1h1.5v1.5h-1.5zM127.5 610.2h1.5v1.5h-1.5zM110.2 609.3h1.5v1.5h-1.5zM145.3 603.4h1.5v1.5h-1.5zM144.1 608.3h1.5v1.5h-1.5zM116.8 619.2h1.5v1.5h-1.5zM111.2 617.1h1.5v1.5h-1.5zM120.4 613.0h1.5v1.5h-1.5zM97.0 610.3h1.5v1.5h-1.5zM147.5 611.0h1.5v1.5h-1.5zM128.7 612.3h1.5v1.5h-1.5zM124.0 616.2h1.5v1.5h-1.5zM119.3 619.7h1.5v1.5h-1.5zM122.9 615.6h1.5v1.5h-1.5zM124.5 618.8h1.5v1.5h-1.5zM121.2 615.6h1.5v1.5h-1.5zM127.9 619.1h1.5v1.5h-1.5zM125.7 610.7h1.5v1.5h-1.5zM127.8 616.1h1.5v1.5h-1.5zM115.0 617.9h1.5v1.5h-1.5zM129.3 607.6h1.5v1.5h-1.5zM118.9 619.0h1.5v1.5h-1.5zM125.2 614.2h1.5v1.5h-1.5zM110.1 621.0h1.5v1.5h-1.5zM119.6 613.2h1.5v1.5h-1.5zM106.8 622.8h1.5v1.5h-1.5zM126.6 620.0h1.5v1.5h-1.5zM122.0 614.1h1.5v1.5h-1.5zM119.5 620.5h1.5v1.5h-1.5zM120.1 617.4h1.5v1.5h-1.5zM124.7 618.7h1.5v1.5h-1.5zM133.6 620.7h1.5v1.5h-1.5zM118.7 616.2h1.5v1.5h-1.5zM132.1 616.4h1.5v1.5h-1.5zM127.2 617.1h1.5v1.5h-1.5zM129.4 606.7h1.5v1.5h-1.5zM116.1 614.8h1.5v1.5h-1.5zM109.9 613.7h1.5v1.5h-1.5zM135.0 613.1h1.5v1.5h-1.5zM107.4 616.6h1.5v1.5h-1.5zM134.3 608.7h1.5v1.5h-1.5zM130.3 622.0h1.5v1.5h-1.5zM112.8 611.2h1.5v1.5h-1.5zM106.4 613.6h1.5v1.5h-1.5zM142.9 608.5h1.5v1.5h-1.5zM133.9 614.8h1.5v1.5h-1.5zM106.4 619.0h1.5v1.5h-1.5zM118.4 616.5h1.5v1.5h-1.5zM128.9 615.0h1.5v1.5h-1.5zM123.0 613.6h1.5v1.5h-1.5zM120.7 607.9h1.5v1.5h-1.5zM126.0 614.5h1.5v1.5h-1.5zM118.3 619.0h1.5v1.5h-1.5zM136.5 612.3h1.5v1.5h-1.5zM108.1 620.6h1.5v1.5h-1.5zM119.2 618.1h1.5v1.5h-1.5zM133.5 618.5h1.5v1.5h-1.5zM126.5 614.2h1.5v1.5h-1.5zM106.9 618.2h1.5v1.5h-1.5zM119.7 613.9h1.5v1.5h-1.5zM115.5 615.5h1.5v1.5h-1.5zM101.2 624.1h1.5v1.5h-1.5zM130.0 609.6h1.5v1.5h-1.5zM120.6 618.5h1.5v1.5h-1.5zM133.5 622.5h1.5v1.5h-1.5zM111.4 614.7h1.5v1.5h-1.5zM128.4 618.9h1.5v1.5h-1.5zM98.6 613.7h1.5v1.5h-1.5zM122.6 619.4h1.5v1.5h-1.5zM121.4 611.8h1.5v1.5h-1.5zM90.3 616.7h1.5v1.5h-1.5zM129.5 623.2h1.5v1.5h-1.5zM129.8 621.9h1.5v1.5h-1.5zM134.1 611.7h1.5v1.5h-1.5zM147.2 613.6h1.5v1.5h-1.5zM120.8 611.3h1.5v1.5h-1.5zM113.2 620.3h1.5v1.5h-1.5zM116.4 617.0h1.5v1.5h-1.5zM108.1 616.1h1.5v1.5h-1.5zM127.1 614.4h1.5v1.5h-1.5zM140.7 613.6h1.5v1.5h-1.5zM136.1 615.4h1.5v1.5h-1.5zM129.6 622.6h1.5v1.5h-1.5zM123.1 616.2h1.5v1.5h-1.5zM115.0 619.6h1.5v1.5h-1.5zM116.7 619.7h1.5v1.5h-1.5zM95.0 623.2h1.5v1.5h-1.5zM114.3 619.3h1.5v1.5h-1.5zM108.3 618.7h1.5v1.5h-1.5zM130.0 615.2h1.5v1.5h-1.5zM115.0 611.1h1.5v1.5h-1.5zM132.2 609.7h1.5v1.5h-1.5zM134.3 614.7h1.5v1.5h-1.5zM119.2 611.3h1.5v1.5h-1.5zM114.3 617.6h1.5v1.5h-1.5zM125.2 613.4h1.5v1.5h-1.5zM117.5 612.2h1.5v1.5h-1.5zM118.7 613.1h1.5v1.5h-1.5zM133.3 610.7h1.5v1.5h-1.5zM129.4 619.3h1.5v1.5h-1.5zM105.4 621.4h1.5v1.5h-1.5zM126.3 608.3h1.5v1.5h-1.5zM106.4 617.2h1.5v1.5h-1.5zM110.7 620.9h1.5v1.5h-1.5zM117.5 613.5h1.5v1.5h-1.5zM123.3 610.3h1.5v1.5h-1.5zM109.2 614.2h1.5v1.5h-1.5zM131.7 613.5h1.5v1.5h-1.5zM126.4 617.2h1.5v1.5h-1.5zM108.0 620.0h1.5v1.5h-1.5zM113.2 604.8h1.5v1.5h-1.5zM115.1 609.8h1.5v1.5h-1.5zM123.1 614.1h1.5v1.5h-1.5zM129.5 617.6h1.5v1.5h-1.5zM131.5 612.2h1.5v1.5h-1.5zM103.0 616.6h1.5v1.5h-1.5zM127.2 612.7h1.5v1.5h-1.5zM139.4 614.2h1.5v1.5h-1.5zM126.8 611.5h1.5v1.5h-1.5zM110.2 612.6h1.5v1.5h-1.5zM103.7 624.6h1.5v1.5h-1.5zM126.9 619.4h1.5v1.5h-1.5zM119.4 623.2h1.5v1.5h-1.5zM121.6 620.6h1.5v1.5h-1.5zM124.8 621.7h1.5v1.5h-1.5zM126.0 616.0h1.5v1.5h-1.5zM121.5 616.0h1.5v1.5h-1.5zM122.3 621.3h1.5v1.5h-1.5zM90.6 621.3h1.5v1.5h-1.5zM109.8 619.8h1.5v1.5h-1.5zM125.8 623.5h1.5v1.5h-1.5zM111.8 620.1h1.5v1.5h-1.5zM108.3 616.7h1.5v1.5h-1.5zM119.1 619.7h1.5v1.5h-1.5zM109.2 614.5h1.5v1.5h-1.5zM113.0 614.8h1.5v1.5h-1.5zM126.0 623.0h1.5v1.5h-1.5zM108.0 618.2h1.5v1.5h-1.5zM124.8 611.7h1.5v1.5h-1.5zM130.2 609.6h1.5v1.5h-1.5zM116.4 617.6h1.5v1.5h-1.5zM129.9 616.0h1.5v1.5h-1.5zM133.2 620.4h1.5v1.5h-1.5zM128.4 615.2h1.5v1.5h-1.5zM97.7 615.9h1.5v1.5h-1.5zM124.4 615.1h1.5v1.5h-1.5zM108.1 620.2h1.5v1.5h-1.5zM138.5 616.1h1.5v1.5h-1.5zM80.0 627.1h1.5v1.5h-1.5zM106.7 619.0h1.5v1.5h-1.5zM116.1 620.6h1.5v1.5h-1.5zM110.9 613.2h1.5v1.5h-1.5zM103.8 610.5h1.5v1.5h-1.5zM114.4 621.7h1.5v1.5h-1.5zM130.0 611.7h1.5v1.5h-1.5zM108.5 614.9h1.5v1.5h-1.5zM99.2 623.8h1.5v1.5h-1.5zM134.0 614.5h1.5v1.5h-1.5zM105.5 616.5h1.5v1.5h-1.5zM131.5 614.0h1.5v1.5h-1.5zM99.5 621.3h1.5v1.5h-1.5zM125.7 611.6h1.5v1.5h-1.5zM142.5 612.9h1.5v1.5h-1.5zM115.1 617.1h1.5v1.5h-1.5zM134.9 617.3h1.5v1.5h-1.5zM136.1 624.9h1.5v1.5h-1.5zM130.1 617.0h1.5v1.5h-1.5zM126.2 611.9h1.5v1.5h-1.5zM106.9 618.8h1.5v1.5h-1.5zM123.6 612.8h1.5v1.5h-1.5zM109.8 622.2h1.5v1.5h-1.5zM98.2 609.1h1.5v1.5h-1.5zM118.5 617.2h1.5v1.5h-1.5zM103.2 615.1h1.5v1.5h-1.5zM114.5 610.8h1.5v1.5h-1.5zM130.8 613.9h1.5v1.5h-1.5zM129.3 619.1h1.5v1.5h-1.5zM116.9 619.0h1.5v1.5h-1.5zM105.9 618.5h1.5v1.5h-1.5zM119.1 610.0h1.5v1.5h-1.5zM81.4 626.0h1.5v1.5h-1.5zM110.0 619.8h1.5v1.5h-1.5zM125.7 613.2h1.5v1.5h-1.5zM121.1 617.8h1.5v1.5h-1.5zM126.6 613.2h1.5v1.5h-1.5zM99.1 621.0h1.5v1.5h-1.5zM104.6 623.9h1.5v1.5h-1.5zM122.5 615.3h1.5v1.5h-1.5zM122.1 619.4h1.5v1.5h-1.5zM118.4 620.2h1.5v1.5h-1.5zM125.2 612.0h1.5v1.5h-1.5zM141.4 606.6h1.5v1.5h-1.5zM111.3 619.6h1.5v1.5h-1.5zM109.7 616.6h1.5v1.5h-1.5zM144.0 608.5h1.5v1.5h-1.5zM94.9 626.1h1.5v1.5h-1.5zM105.6 616.4h1.5v1.5h-1.5zM120.8 614.6h1.5v1.5h-1.5zM141.7 615.5h1.5v1.5h-1.5zM110.8 609.2h1.5v1.5h-1.5zM124.8 618.5h1.5v1.5h-1.5zM96.9 626.8h1.5v1.5h-1.5zM92.1 620.9h1.5v1.5h-1.5zM121.3 611.5h1.5v1.5h-1.5zM119.1 619.1h1.5v1.5h-1.5zM112.1 609.3h1.5v1.5h-1.5zM100.0 618.9h1.5v1.5h-1.5zM121.1 613.1h1.5v1.5h-1.5zM116.0 614.6h1.5v1.5h-1.5zM130.3 614.7h1.5v1.5h-1.5zM115.4 617.6h1.5v1.5h-1.5zM109.4 618.8h1.5v1.5h-1.5zM117.2 615.6h1.5v1.5h-1.5zM136.5 607.3h1.5v1.5h-1.5zM115.5 614.2h1.5v1.5h-1.5zM124.2 611.9h1.5v1.5h-1.5zM121.0 614.7h1.5v1.5h-1.5zM115.3 620.3h1.5v1.5h-1.5zM131.0 608.4h1.5v1.5h-1.5zM128.5 612.5h1.5v1.5h-1.5zM123.9 617.2h1.5v1.5h-1.5zM99.8 616.9h1.5v1.5h-1.5zM123.1 617.8h1.5v1.5h-1.5zM109.4 612.4h1.5v1.5h-1.5zM99.6 612.2h1.5v1.5h-1.5zM128.3 604.2h1.5v1.5h-1.5zM112.3 617.5h1.5v1.5h-1.5zM114.8 616.3h1.5v1.5h-1.5zM118.3 619.5h1.5v1.5h-1.5zM133.4 616.9h1.5v1.5h-1.5zM114.8 614.6h1.5v1.5h-1.5zM114.5 618.9h1.5v1.5h-1.5zM124.9 616.7h1.5v1.5h-1.5zM106.1 619.0h1.5v1.5h-1.5zM118.2 609.0h1.5v1.5h-1.5zM107.9 614.1h1.5v1.5h-1.5zM111.5 619.1h1.5v1.5h-1.5zM116.9 615.4h1.5v1.5h-1.5zM130.9 606.4h1.5v1.5h-1.5zM113.3 611.5h1.5v1.5h-1.5zM132.4 610.2h1.5v1.5h-1.5zM111.8 613.6h1.5v1.5h-1.5zM119.5 614.6h1.5v1.5h-1.5zM117.6 613.6h1.5v1.5h-1.5zM133.9 608.5h1.5v1.5h-1.5zM118.4 612.0h1.5v1.5h-1.5zM137.8 616.7h1.5v1.5h-1.5zM138.0 618.4h1.5v1.5h-1.5zM127.1 612.1h1.5v1.5h-1.5zM138.2 611.4h1.5v1.5h-1.5zM115.1 620.3h1.5v1.5h-1.5zM106.1 615.3h1.5v1.5h-1.5zM118.0 619.5h1.5v1.5h-1.5zM127.0 618.0h1.5v1.5h-1.5zM115.6 618.8h1.5v1.5h-1.5zM140.2 605.9h1.5v1.5h-1.5zM118.9 623.0h1.5v1.5h-1.5zM124.0 614.9h1.5v1.5h-1.5zM124.9 612.7h1.5v1.5h-1.5zM117.0 612.6h1.5v1.5h-1.5zM130.6 613.1h1.5v1.5h-1.5zM116.0 618.8h1.5v1.5h-1.5zM128.9 619.1h1.5v1.5h-1.5zM118.9 619.4h1.5v1.5h-1.5zM104.4 616.3h1.5v1.5h-1.5zM120.5 615.8h1.5v1.5h-1.5zM131.0 620.4h1.5v1.5h-1.5zM120.0 614.8h1.5v1.5h-1.5zM130.5 618.7h1.5v1.5h-1.5zM129.2 613.3h1.5v1.5h-1.5zM136.7 608.0h1.5v1.5h-1.5zM127.2 605.4h1.5v1.5h-1.5zM120.7 617.7h1.5v1.5h-1.5zM116.8 620.6h1.5v1.5h-1.5zM120.4 624.0h1.5v1.5h-1.5zM119.8 614.2h1.5v1.5h-1.5zM132.4 615.2h1.5v1.5h-1.5zM137.1 615.6h1.5v1.5h-1.5zM119.2 624.2h1.5v1.5h-1.5zM111.8 620.9h1.5v1.5h-1.5zM137.9 610.4h1.5v1.5h-1.5zM108.1 615.9h1.5v1.5h-1.5zM126.3 615.8h1.5v1.5h-1.5zM121.0 617.1h1.5v1.5h-1.5zM114.5 624.5h1.5v1.5h-1.5zM119.7 610.6h1.5v1.5h-1.5zM137.2 614.0h1.5v1.5h-1.5zM112.2 618.3h1.5v1.5h-1.5zM131.1 612.5h1.5v1.5h-1.5zM114.1 615.6h1.5v1.5h-1.5zM118.4 614.1h1.5v1.5h-1.5zM116.1 622.9h1.5v1.5h-1.5zM121.4 612.5h1.5v1.5h-1.5zM108.1 618.7h1.5v1.5h-1.5zM130.8 615.6h1.5v1.5h-1.5zM113.3 608.7h1.5v1.5h-1.5zM130.3 609.8h1.5v1.5h-1.5zM109.9 611.0h1.5v1.5h-1.5zM101.8 621.5h1.5v1.5h-1.5zM129.2 608.7h1.5v1.5h-1.5zM110.1 620.6h1.5v1.5h-1.5zM123.0 623.5h1.5v1.5h-1.5zM128.1 612.1h1.5v1.5h-1.5zM115.7 614.5h1.5v1.5h-1.5zM129.6 612.9h1.5v1.5h-1.5zM126.7 608.4h1.5v1.5h-1.5zM115.3 616.2h1.5v1.5h-1.5zM114.8 612.6h1.5v1.5h-1.5zM116.1 614.7h1.5v1.5h-1.5zM122.3 615.3h1.5v1.5h-1.5zM140.3 612.6h1.5v1.5h-1.5zM136.9 609.4h1.5v1.5h-1.5zM135.8 613.8h1.5v1.5h-1.5zM131.3 610.7h1.5v1.5h-1.5zM113.8 616.0h1.5v1.5h-1.5zM119.3 616.3h1.5v1.5h-1.5zM135.5 616.1h1.5v1.5h-1.5zM101.7 626.6h1.5v1.5h-1.5zM115.6 619.5h1.5v1.5h-1.5zM120.9 613.5h1.5v1.5h-1.5zM140.7 610.9h1.5v1.5h-1.5zM126.0 617.9h1.5v1.5h-1.5zM127.3 609.0h1.5v1.5h-1.5zM136.0 621.2h1.5v1.5h-1.5zM130.8 607.4h1.5v1.5h-1.5zM130.1 620.3h1.5v1.5h-1.5zM117.3 614.1h1.5v1.5h-1.5zM125.5 618.4h1.5v1.5h-1.5zM110.7 613.7h1.5v1.5h-1.5zM105.7 612.7h1.5v1.5h-1.5zM121.0 614.6h1.5v1.5h-1.5zM105.7 621.1h1.5v1.5h-1.5zM128.6 620.5h1.5v1.5h-1.5zM144.2 617.3h1.5v1.5h-1.5zM107.0 618.2h1.5v1.5h-1.5zM126.2 611.8h1.5v1.5h-1.5zM116.6 617.5h1.5v1.5h-1.5zM118.1 618.7h1.5v1.5h-1.5zM91.7 617.3h1.5v1.5h-1.5zM123.6 614.7h1.5v1.5h-1.5zM113.7 616.1h1.5v1.5h-1.5zM120.6 616.2h1.5v1.5h-1.5zM133.2 620.7h1.5v1.5h-1.5zM123.6 619.7h1.5v1.5h-1.5zM117.2 610.3h1.5v1.5h-1.5zM108.5 618.5h1.5v1.5h-1.5zM114.1 613.1h1.5v1.5h-1.5zM109.7 624.9h1.5v1.5h-1.5zM126.6 616.2h1.5v1.5h-1.5zM117.2 612.0h1.5v1.5h-1.5zM110.8 619.3h1.5v1.5h-1.5zM122.4 613.8h1.5v1.5h-1.5zM114.9 612.6h1.5v1.5h-1.5zM146.0 612.9h1.5v1.5h-1.5zM141.8 620.7h1.5v1.5h-1.5zM136.6 614.3h1.5v1.5h-1.5zM122.3 617.0h1.5v1.5h-1.5zM113.6 622.5h1.5v1.5h-1.5zM116.3 611.3h1.5v1.5h-1.5zM133.6 614.9h1.5v1.5h-1.5zM114.8 619.9h1.5v1.5h-1.5zM107.2 610.9h1.5v1.5h-1.5zM128.2 614.0h1.5v1.5h-1.5zM115.2 621.1h1.5v1.5h-1.5zM135.6 609.9h1.5v1.5h-1.5zM110.0 613.7h1.5v1.5h-1.5zM108.3 615.5h1.5v1.5h-1.5zM109.9 619.6h1.5v1.5h-1.5zM126.3 613.0h1.5v1.5h-1.5zM132.2 617.2h1.5v1.5h-1.5zM138.6 607.0h1.5v1.5h-1.5zM120.6 613.9h1.5v1.5h-1.5zM112.0 618.1h1.5v1.5h-1.5zM105.9 618.2h1.5v1.5h-1.5zM123.0 609.9h1.5v1.5h-1.5zM131.4 610.5h1.5v1.5h-1.5zM116.7 617.5h1.5v1.5h-1.5zM116.9 615.6h1.5v1.5h-1.5zM99.0 616.7h1.5v1.5h-1.5zM103.1 621.3h1.5v1.5h-1.5zM121.0 617.9h1.5v1.5h-1.5zM139.5 612.8h1.5v1.5h-1.5zM138.5 607.7h1.5v1.5h-1.5zM115.2 615.2h1.5v1.5h-1.5zM135.4 614.5h1.5v1.5h-1.5zM121.8 618.0h1.5v1.5h-1.5zM121.4 617.2h1.5v1.5h-1.5zM121.7 611.5h1.5v1.5h-1.5zM136.5 612.4h1.5v1.5h-1.5zM123.0 611.9h1.5v1.5h-1.5zM117.5 620.8h1.5v1.5h-1.5zM133.3 617.4h1.5v1.5h-1.5zM131.2 617.9h1.5v1.5h-1.5zM141.4 616.4h1.5v1.5h-1.5zM130.3 607.9h1.5v1.5h-1.5zM109.9 611.7h1.5v1.5h-1.5zM111.5 624.9h1.5v1.5h-1.5zM128.9 611.4h1.5v1.5h-1.5zM118.5 626.7h1.5v1.5h-1.5zM120.1 617.2h1.5v1.5h-1.5zM116.5 617.8h1.5v1.5h-1.5zM100.6 621.9h1.5v1.5h-1.5zM141.1 605.7h1.5v1.5h-1.5zM116.7 619.6h1.5v1.5h-1.5zM125.2 610.6h1.5v1.5h-1.5zM128.9 619.2h1.5v1.5h-1.5zM122.6 614.9h1.5v1.5h-1.5zM137.0 607.9h1.5v1.5h-1.5zM126.7 609.7h1.5v1.5h-1.5zM116.3 610.3h1.5v1.5h-1.5zM116.0 615.1h1.5v1.5h-1.5zM131.1 617.7h1.5v1.5h-1.5zM112.8 624.6h1.5v1.5h-1.5zM122.6 615.7h1.5v1.5h-1.5zM117.1 614.5h1.5v1.5h-1.5zM96.9 620.4h1.5v1.5h-1.5zM121.7 616.8h1.5v1.5h-1.5zM129.7 606.9h1.5v1.5h-1.5zM115.7 620.7h1.5v1.5h-1.5zM113.9 616.7h1.5v1.5h-1.5zM127.4 618.2h1.5v1.5h-1.5zM132.0 618.0h1.5v1.5h-1.5zM130.1 612.4h1.5v1.5h-1.5zM126.0 605.9h1.5v1.5h-1.5zM117.8 617.1h1.5v1.5h-1.5zM126.1 611.3h1.5v1.5h-1.5zM105.7 617.5h1.5v1.5h-1.5zM112.4 614.8h1.5v1.5h-1.5zM136.2 612.8h1.5v1.5h-1.5zM119.6 615.3h1.5v1.5h-1.5zM87.5 618.8h1.5v1.5h-1.5zM127.1 614.0h1.5v1.5h-1.5zM116.3 619.7h1.5v1.5h-1.5zM118.7 611.2h1.5v1.5h-1.5zM119.6 610.5h1.5v1.5h-1.5zM91.8 623.1h1.5v1.5h-1.5zM123.9 615.3h1.5v1.5h-1.5zM102.1 622.1h1.5v1.5h-1.5zM134.8 618.6h1.5v1.5h-1.5zM109.6 622.5h1.5v1.5h-1.5zM114.5 614.3h1.5v1.5h-1.5zM127.5 623.0h1.5v1.5h-1.5zM137.2 615.3h1.5v1.5h-1.5zM114.1 610.2h1.5v1.5h-1.5zM119.8 621.2h1.5v1.5h-1.5zM113.6 620.2h1.5v1.5h-1.5zM109.4 619.3h1.5v1.5h-1.5zM130.7 612.6h1.5v1.5h-1.5zM105.2 607.2h1.5v1.5h-1.5zM109.6 617.4h1.5v1.5h-1.5zM121.1 612.6h1.5v1.5h-1.5zM117.1 614.6h1.5v1.5h-1.5zM144.5 611.1h1.5v1.5h-1.5zM108.6 616.7h1.5v1.5h-1.5zM111.7 619.1h1.5v1.5h-1.5zM122.9 614.1h1.5v1.5h-1.5zM117.6 612.9h1.5v1.5h-1.5zM118.6 621.7h1.5v1.5h-1.5zM130.7 615.5h1.5v1.5h-1.5zM134.4 616.0h1.5v1.5h-1.5zM127.2 613.3h1.5v1.5h-1.5zM90.4 627.7h1.5v1.5h-1.5zM108.1 612.4h1.5v1.5h-1.5zM99.5 616.0h1.5v1.5h-1.5zM133.1 611.5h1.5v1.5h-1.5zM128.4 616.5h1.5v1.5h-1.5zM120.6 614.9h1.5v1.5h-1.5zM125.5 612.0h1.5v1.5h-1.5zM118.4 619.2h1.5v1.5h-1.5zM114.4 615.3h1.5v1.5h-1.5zM102.0 624.5h1.5v1.5h-1.5zM116.1 619.0h1.5v1.5h-1.5zM117.7 627.4h1.5v1.5h-1.5zM116.9 617.6h1.5v1.5h-1.5zM129.5 622.4h1.5v1.5h-1.5zM117.3 614.5h1.5v1.5h-1.5zM126.3 609.9h1.5v1.5h-1.5zM132.7 618.0h1.5v1.5h-1.5zM127.9 615.9h1.5v1.5h-1.5zM111.7 611.2h1.5v1.5h-1.5zM113.7 620.7h1.5v1.5h-1.5zM116.2 620.2h1.5v1.5h-1.5zM132.1 612.2h1.5v1.5h-1.5zM136.6 611.2h1.5v1.5h-1.5zM113.8 612.8h1.5v1.5h-1.5zM113.4 619.1h1.5v1.5h-1.5zM118.9 616.0h1.5v1.5h-1.5zM134.3 615.9h1.5v1.5h-1.5zM124.7 615.2h1.5v1.5h-1.5zM106.5 623.0h1.5v1.5h-1.5zM118.3 614.6h1.5v1.5h-1.5zM124.4 613.2h1.5v1.5h-1.5zM121.3 617.6h1.5v1.5h-1.5zM125.6 619.1h1.5v1.5h-1.5zM105.6 620.0h1.5v1.5h-1.5zM104.6 621.0h1.5v1.5h-1.5zM112.3 619.7h1.5v1.5h-1.5zM120.3 619.3h1.5v1.5h-1.5zM116.0 623.8h1.5v1.5h-1.5zM122.4 619.2h1.5v1.5h-1.5zM125.3 626.8h1.5v1.5h-1.5zM111.7 616.5h1.5v1.5h-1.5zM93.1 622.5h1.5v1.5h-1.5zM121.8 615.2h1.5v1.5h-1.5zM103.8 618.0h1.5v1.5h-1.5zM122.4 619.6h1.5v1.5h-1.5zM129.2 614.5h1.5v1.5h-1.5zM121.0 617.7h1.5v1.5h-1.5zM127.0 614.3h1.5v1.5h-1.5zM133.6 611.6h1.5v1.5h-1.5zM113.8 618.1h1.5v1.5h-1.5zM131.2 615.4h1.5v1.5h-1.5zM125.1 612.9h1.5v1.5h-1.5zM118.7 625.9h1.5v1.5h-1.5zM122.3 614.7h1.5v1.5h-1.5zM122.3 618.7h1.5v1.5h-1.5zM134.5 613.9h1.5v1.5h-1.5zM113.7 620.2h1.5v1.5h-1.5zM124.8 619.6h1.5v1.5h-1.5zM109.4 609.6h1.5v1.5h-1.5zM135.6 608.7h1.5v1.5h-1.5zM136.3 610.5h1.5v1.5h-1.5zM101.6 614.4h1.5v1.5h-1.5zM134.8 611.2h1.5v1.5h-1.5zM98.5 614.8h1.5v1.5h-1.5zM136.3 615.0h1.5v1.5h-1.5zM122.2 612.3h1.5v1.5h-1.5zM119.8 611.4h1.5v1.5h-1.5zM121.7 612.8h1.5v1.5h-1.5zM121.7 621.9h1.5v1.5h-1.5zM109.4 604.7h1.5v1.5h-1.5zM123.9 609.8h1.5v1.5h-1.5zM133.7 606.3h1.5v1.5h-1.5zM127.1 617.2h1.5v1.5h-1.5zM121.0 623.8h1.5v1.5h-1.5zM118.6 612.5h1.5v1.5h-1.5zM96.1 619.6h1.5v1.5h-1.5zM130.1 608.6h1.5v1.5h-1.5zM110.2 620.5h1.5v1.5h-1.5zM99.4 624.1h1.5v1.5h-1.5zM126.8 606.1h1.5v1.5h-1.5zM107.7 612.5h1.5v1.5h-1.5zM125.6 617.0h1.5v1.5h-1.5zM145.8 621.8h1.5v1.5h-1.5zM120.0 615.1h1.5v1.5h-1.5zM145.0 603.8h1.5v1.5h-1.5zM146.6 610.5h1.5v1.5h-1.5zM131.9 608.1h1.5v1.5h-1.5zM126.6 613.3h1.5v1.5h-1.5zM118.7 617.9h1.5v1.5h-1.5zM106.7 610.3h1.5v1.5h-1.5zM115.7 625.5h1.5v1.5h-1.5zM123.8 615.4h1.5v1.5h-1.5zM122.8 607.9h1.5v1.5h-1.5zM119.6 617.2h1.5v1.5h-1.5zM112.2 617.5h1.5v1.5h-1.5zM115.8 615.9h1.5v1.5h-1.5zM156.4 607.6h1.5v1.5h-1.5zM111.0 609.6h1.5v1.5h-1.5zM130.6 610.6h1.5v1.5h-1.5zM128.9 610.9h1.5v1.5h-1.5zM128.5 608.5h1.5v1.5h-1.5zM132.3 608.1h1.5v1.5h-1.5zM115.0 616.9h1.5v1.5h-1.5zM112.4 613.4h1.5v1.5h-1.5zM130.3 616.0h1.5v1.5h-1.5zM127.4 603.6h1.5v1.5h-1.5zM134.9 617.9h1.5v1.5h-1.5zM119.7 613.4h1.5v1.5h-1.5zM120.4 614.3h1.5v1.5h-1.5zM134.2 612.0h1.5v1.5h-1.5zM108.2 615.2h1.5v1.5h-1.5zM119.6 615.6h1.5v1.5h-1.5zM114.3 622.9h1.5v1.5h-1.5zM106.5 620.0h1.5v1.5h-1.5zM108.5 629.5h1.5v1.5h-1.5zM133.9 618.3h1.5v1.5h-1.5zM112.5 615.2h1.5v1.5h-1.5zM93.2 615.3h1.5v1.5h-1.5zM112.0 614.7h1.5v1.5h-1.5zM115.3 615.6h1.5v1.5h-1.5zM122.0 615.6h1.5v1.5h-1.5zM99.9 625.9h1.5v1.5h-1.5zM120.3 610.0h1.5v1.5h-1.5zM114.5 614.8h1.5v1.5h-1.5zM122.6 613.5h1.5v1.5h-1.5zM132.1 620.0h1.5v1.5h-1.5zM123.9 616.0h1.5v1.5h-1.5zM117.2 620.1h1.5v1.5h-1.5zM111.8 621.8h1.5v1.5h-1.5zM108.2 607.6h1.5v1.5h-1.5zM140.2 612.2h1.5v1.5h-1.5zM129.3 618.4h1.5v1.5h-1.5zM88.9 629.4h1.5v1.5h-1.5zM122.4 609.5h1.5v1.5h-1.5zM120.3 620.1h1.5v1.5h-1.5zM118.0 620.6h1.5v1.5h-1.5zM104.8 619.8h1.5v1.5h-1.5zM116.2 620.1h1.5v1.5h-1.5zM110.6 621.6h1.5v1.5h-1.5zM123.5 609.5h1.5v1.5h-1.5zM118.4 606.9h1.5v1.5h-1.5zM102.3 618.1h1.5v1.5h-1.5zM107.5 619.0h1.5v1.5h-1.5zM121.9 613.3h1.5v1.5h-1.5zM133.7 615.8h1.5v1.5h-1.5zM106.5 619.3h1.5v1.5h-1.5zM124.1 618.2h1.5v1.5h-1.5zM131.0 606.9h1.5v1.5h-1.5zM104.5 617.3h1.5v1.5h-1.5zM132.4 621.8h1.5v1.5h-1.5zM123.1 616.4h1.5v1.5h-1.5zM104.5 613.3h1.5v1.5h-1.5zM123.2 617.4h1.5v1.5h-1.5zM125.8 612.2h1.5v1.5h-1.5zM129.6 611.8h1.5v1.5h-1.5zM125.4 619.9h1.5v1.5h-1.5zM115.9 616.2h1.5v1.5h-1.5zM89.1 612.8h1.5v1.5h-1.5zM116.4 621.1h1.5v1.5h-1.5zM99.9 618.7h1.5v1.5h-1.5zM121.1 618.2h1.5v1.5h-1.5zM116.0 620.5h1.5v1.5h-1.5zM112.2 617.9h1.5v1.5h-1.5zM113.4 614.4h1.5v1.5h-1.5zM119.1 615.6h1.5v1.5h-1.5zM125.4 609.6h1.5v1.5h-1.5zM127.6 613.6h1.5v1.5h-1.5zM118.9 619.6h1.5v1.5h-1.5zM116.8 613.7h1.5v1.5h-1.5zM123.4 617.0h1.5v1.5h-1.5zM105.5 625.1h1.5v1.5h-1.5zM124.4 610.8h1.5v1.5h-1.5zM125.0 620.8h1.5v1.5h-1.5zM118.3 615.4h1.5v1.5h-1.5zM110.3 616.3h1.5v1.5h-1.5zM118.5 619.8h1.5v1.5h-1.5zM106.6 615.1h1.5v1.5h-1.5zM124.8 618.8h1.5v1.5h-1.5zM109.2 614.3h1.5v1.5h-1.5zM127.6 615.9h1.5v1.5h-1.5zM139.0 613.7h1.5v1.5h-1.5zM108.7 613.5h1.5v1.5h-1.5zM118.6 614.8h1.5v1.5h-1.5zM121.2 620.0h1.5v1.5h-1.5zM107.2 619.2h1.5v1.5h-1.5zM136.8 617.1h1.5v1.5h-1.5zM136.3 612.0h1.5v1.5h-1.5zM108.0 617.1h1.5v1.5h-1.5zM127.2 618.4h1.5v1.5h-1.5zM96.4 618.9h1.5v1.5h-1.5zM108.1 616.3h1.5v1.5h-1.5zM98.9 620.5h1.5v1.5h-1.5zM111.5 623.8h1.5v1.5h-1.5zM118.0 615.6h1.5v1.5h-1.5zM114.4 622.0h1.5v1.5h-1.5zM123.2 622.7h1.5v1.5h-1.5zM126.9 612.7h1.5v1.5h-1.5zM139.9 608.6h1.5v1.5h-1.5zM124.8 614.0h1.5v1.5h-1.5zM121.1 621.4h1.5v1.5h-1.5zM137.5 610.5h1.5v1.5h-1.5zM117.5 621.3h1.5v1.5h-1.5zM137.7 610.5h1.5v1.5h-1.5zM107.2 615.5h1.5v1.5h-1.5zM142.4 611.9h1.5v1.5h-1.5zM125.3 616.7h1.5v1.5h-1.5zM113.6 612.7h1.5v1.5h-1.5zM155.9 608.9h1.5v1.5h-1.5zM119.3 612.8h1.5v1.5h-1.5zM117.3 613.4h1.5v1.5h-1.5zM130.2 618.4h1.5v1.5h-1.5zM108.5 618.4h1.5v1.5h-1.5zM130.3 612.9h1.5v1.5h-1.5zM134.9 619.0h1.5v1.5h-1.5zM126.4 617.4h1.5v1.5h-1.5zM121.9 614.3h1.5v1.5h-1.5zM109.7 618.9h1.5v1.5h-1.5zM107.5 617.2h1.5v1.5h-1.5zM111.1 619.7h1.5v1.5h-1.5zM123.3 618.1h1.5v1.5h-1.5zM133.8 616.1h1.5v1.5h-1.5zM130.4 612.9h1.5v1.5h-1.5zM109.0 618.9h1.5v1.5h-1.5zM111.2 619.1h1.5v1.5h-1.5zM117.7 608.8h1.5v1.5h-1.5zM116.0 610.2h1.5v1.5h-1.5zM125.9 620.4h1.5v1.5h-1.5zM94.4 617.9h1.5v1.5h-1.5zM98.1 617.0h1.5v1.5h-1.5zM132.5 612.0h1.5v1.5h-1.5zM118.4 617.3h1.5v1.5h-1.5zM123.7 616.6h1.5v1.5h-1.5zM114.7 618.5h1.5v1.5h-1.5zM134.1 616.0h1.5v1.5h-1.5zM125.1 619.9h1.5v1.5h-1.5zM112.7 623.1h1.5v1.5h-1.5zM118.5 613.4h1.5v1.5h-1.5zM124.2 617.3h1.5v1.5h-1.5zM127.7 616.0h1.5v1.5h-1.5zM125.0 613.9h1.5v1.5h-1.5zM126.9 625.1h1.5v1.5h-1.5zM106.0 615.4h1.5v1.5h-1.5zM119.5 606.7h1.5v1.5h-1.5zM118.1 618.6h1.5v1.5h-1.5zM137.7 610.4h1.5v1.5h-1.5zM142.3 609.7h1.5v1.5h-1.5zM118.4 613.3h1.5v1.5h-1.5zM111.8 619.4h1.5v1.5h-1.5zM114.5 617.9h1.5v1.5h-1.5zM129.6 616.2h1.5v1.5h-1.5zM124.4 617.3h1.5v1.5h-1.5zM130.8 625.5h1.5v1.5h-1.5zM118.4 615.6h1.5v1.5h-1.5zM108.5 613.9h1.5v1.5h-1.5zM123.2 610.1h1.5v1.5h-1.5zM131.7 611.2h1.5v1.5h-1.5zM119.1 620.7h1.5v1.5h-1.5zM118.3 618.2h1.5v1.5h-1.5zM123.6 617.3h1.5v1.5h-1.5zM155.4 616.1h1.5v1.5h-1.5zM134.1 615.3h1.5v1.5h-1.5zM118.0 612.5h1.5v1.5h-1.5zM120.8 620.9h1.5v1.5h-1.5zM125.5 615.8h1.5v1.5h-1.5zM97.4 619.3h1.5v1.5h-1.5zM108.8 621.2h1.5v1.5h-1.5zM126.2 613.6h1.5v1.5h-1.5zM117.5 607.4h1.5v1.5h-1.5zM125.5 617.5h1.5v1.5h-1.5zM123.4 615.9h1.5v1.5h-1.5zM95.8 627.0h1.5v1.5h-1.5zM105.0 610.2h1.5v1.5h-1.5zM118.7 617.4h1.5v1.5h-1.5zM114.4 612.9h1.5v1.5h-1.5zM121.1 608.7h1.5v1.5h-1.5zM129.7 607.3h1.5v1.5h-1.5zM119.4 614.5h1.5v1.5h-1.5zM115.9 617.5h1.5v1.5h-1.5zM101.2 621.9h1.5v1.5h-1.5zM110.0 620.6h1.5v1.5h-1.5zM134.5 612.2h1.5v1.5h-1.5zM134.6 609.7h1.5v1.5h-1.5zM131.2 609.7h1.5v1.5h-1.5zM113.9 613.8h1.5v1.5h-1.5zM117.1 618.7h1.5v1.5h-1.5zM134.3 604.3h1.5v1.5h-1.5zM109.7 610.7h1.5v1.5h-1.5zM130.2 617.6h1.5v1.5h-1.5zM123.9 613.7h1.5v1.5h-1.5zM125.0 616.5h1.5v1.5h-1.5zM106.2 618.4h1.5v1.5h-1.5zM130.5 610.8h1.5v1.5h-1.5zM128.2 609.9h1.5v1.5h-1.5zM109.5 618.1h1.5v1.5h-1.5zM124.6 611.0h1.5v1.5h-1.5zM122.5 613.4h1.5v1.5h-1.5zM122.3 606.8h1.5v1.5h-1.5zM96.1 620.5h1.5v1.5h-1.5zM148.8 609.7h1.5v1.5h-1.5zM100.0 619.1h1.5v1.5h-1.5zM104.5 621.7h1.5v1.5h-1.5zM123.3 608.3h1.5v1.5h-1.5zM126.0 612.1h1.5v1.5h-1.5zM132.3 612.9h1.5v1.5h-1.5zM111.1 618.1h1.5v1.5h-1.5zM124.6 616.3h1.5v1.5h-1.5zM113.2 618.7h1.5v1.5h-1.5zM103.8 623.3h1.5v1.5h-1.5zM119.7 617.5h1.5v1.5h-1.5zM121.2 609.9h1.5v1.5h-1.5zM124.1 615.4h1.5v1.5h-1.5zM107.5 622.8h1.5v1.5h-1.5zM125.0 618.7h1.5v1.5h-1.5zM125.6 619.4h1.5v1.5h-1.5zM122.3 615.9h1.5v1.5h-1.5zM132.0 615.4h1.5v1.5h-1.5zM116.6 615.6h1.5v1.5h-1.5zM121.4 608.7h1.5v1.5h-1.5zM117.9 618.6h1.5v1.5h-1.5zM117.2 614.5h1.5v1.5h-1.5zM123.4 612.5h1.5v1.5h-1.5zM105.1 608.5h1.5v1.5h-1.5zM141.6 612.1h1.5v1.5h-1.5zM107.1 617.7h1.5v1.5h-1.5zM125.5 624.2h1.5v1.5h-1.5zM120.9 622.0h1.5v1.5h-1.5zM125.9 609.2h1.5v1.5h-1.5zM132.4 619.9h1.5v1.5h-1.5zM136.4 609.2h1.5v1.5h-1.5zM116.7 614.5h1.5v1.5h-1.5zM137.9 614.1h1.5v1.5h-1.5zM120.6 618.2h1.5v1.5h-1.5zM133.8 622.4h1.5v1.5h-1.5zM136.8 616.9h1.5v1.5h-1.5zM131.2 620.7h1.5v1.5h-1.5zM110.2 620.3h1.5v1.5h-1.5zM130.1 620.8h1.5v1.5h-1.5zM127.6 617.2h1.5v1.5h-1.5zM134.8 614.5h1.5v1.5h-1.5zM126.3 615.5h1.5v1.5h-1.5zM141.0 613.6h1.5v1.5h-1.5zM120.5 607.7h1.5v1.5h-1.5zM121.6 612.8h1.5v1.5h-1.5zM112.4 616.6h1.5v1.5h-1.5zM95.1 620.2h1.5v1.5h-1.5zM113.5 623.4h1.5v1.5h-1.5zM104.8 614.1h1.5v1.5h-1.5zM125.6 621.3h1.5v1.5h-1.5zM141.3 614.9h1.5v1.5h-1.5zM116.6 615.6h1.5v1.5h-1.5zM107.9 624.9h1.5v1.5h-1.5zM112.3 612.5h1.5v1.5h-1.5zM131.5 620.4h1.5v1.5h-1.5zM134.4 613.2h1.5v1.5h-1.5zM126.4 614.6h1.5v1.5h-1.5zM125.4 619.1h1.5v1.5h-1.5zM110.5 620.7h1.5v1.5h-1.5zM116.6 614.0h1.5v1.5h-1.5zM107.0 611.8h1.5v1.5h-1.5zM113.6 619.6h1.5v1.5h-1.5zM128.7 612.6h1.5v1.5h-1.5zM116.9 621.0h1.5v1.5h-1.5zM109.5 624.6h1.5v1.5h-1.5zM133.7 609.0h1.5v1.5h-1.5zM141.9 609.9h1.5v1.5h-1.5zM124.5 612.0h1.5v1.5h-1.5zM131.5 614.9h1.5v1.5h-1.5zM124.7 606.2h1.5v1.5h-1.5zM101.6 625.2h1.5v1.5h-1.5zM109.9 614.7h1.5v1.5h-1.5zM134.2 614.8h1.5v1.5h-1.5zM128.4 614.6h1.5v1.5h-1.5zM124.2 617.5h1.5v1.5h-1.5zM120.5 615.9h1.5v1.5h-1.5zM133.5 604.2h1.5v1.5h-1.5zM100.3 617.4h1.5v1.5h-1.5zM120.7 611.8h1.5v1.5h-1.5zM132.8 610.4h1.5v1.5h-1.5zM129.9 618.1h1.5v1.5h-1.5zM101.5 612.5h1.5v1.5h-1.5zM134.4 617.3h1.5v1.5h-1.5zM135.4 610.4h1.5v1.5h-1.5zM93.0 617.3h1.5v1.5h-1.5zM109.6 613.1h1.5v1.5h-1.5zM113.1 620.4h1.5v1.5h-1.5zM103.3 620.0h1.5v1.5h-1.5zM132.3 616.5h1.5v1.5h-1.5zM99.7 610.8h1.5v1.5h-1.5zM141.6 609.1h1.5v1.5h-1.5zM114.7 622.0h1.5v1.5h-1.5zM102.2 617.0h1.5v1.5h-1.5zM135.5 617.5h1.5v1.5h-1.5zM120.8 617.0h1.5v1.5h-1.5zM117.9 614.3h1.5v1.5h-1.5zM144.4 614.1h1.5v1.5h-1.5zM130.4 609.5h1.5v1.5h-1.5zM117.5 617.1h1.5v1.5h-1.5zM105.6 614.2h1.5v1.5h-1.5zM114.8 619.7h1.5v1.5h-1.5zM121.5 619.3h1.5v1.5h-1.5zM109.0 619.3h1.5v1.5h-1.5zM137.6 613.6h1.5v1.5h-1.5zM126.7 620.8h1.5v1.5h-1.5zM98.7 612.4h1.5v1.5h-1.5zM116.3 623.1h1.5v1.5h-1.5zM119.6 613.5h1.5v1.5h-1.5zM101.2 623.1h1.5v1.5h-1.5zM123.7 619.1h1.5v1.5h-1.5zM129.8 610.2h1.5v1.5h-1.5zM125.8 616.7h1.5v1.5h-1.5zM120.2 618.6h1.5v1.5h-1.5zM119.3 614.8h1.5v1.5h-1.5zM117.4 612.4h1.5v1.5h-1.5zM150.2 612.7h1.5v1.5h-1.5zM124.6 611.7h1.5v1.5h-1.5zM128.1 615.5h1.5v1.5h-1.5zM115.3 612.7h1.5v1.5h-1.5zM127.8 612.4h1.5v1.5h-1.5zM111.7 614.9h1.5v1.5h-1.5zM129.8 615.0h1.5v1.5h-1.5zM128.1 605.4h1.5v1.5h-1.5zM99.5 617.3h1.5v1.5h-1.5zM107.5 624.0h1.5v1.5h-1.5zM118.1 614.1h1.5v1.5h-1.5zM121.4 620.6h1.5v1.5h-1.5zM104.4 621.2h1.5v1.5h-1.5zM120.9 619.3h1.5v1.5h-1.5zM103.7 611.7h1.5v1.5h-1.5zM111.2 618.3h1.5v1.5h-1.5zM114.5 619.4h1.5v1.5h-1.5zM121.2 617.0h1.5v1.5h-1.5zM127.8 619.5h1.5v1.5h-1.5zM103.9 610.8h1.5v1.5h-1.5zM119.9 612.8h1.5v1.5h-1.5zM134.2 611.1h1.5v1.5h-1.5zM121.2 622.3h1.5v1.5h-1.5zM102.6 615.1h1.5v1.5h-1.5zM128.5 612.0h1.5v1.5h-1.5zM101.9 628.2h1.5v1.5h-1.5zM108.8 623.0h1.5v1.5h-1.5zM122.6 619.8h1.5v1.5h-1.5zM138.8 615.1h1.5v1.5h-1.5zM114.4 613.4h1.5v1.5h-1.5zM124.5 618.9h1.5v1.5h-1.5zM130.1 606.1h1.5v1.5h-1.5zM106.8 619.5h1.5v1.5h-1.5zM108.5 626.2h1.5v1.5h-1.5zM127.9 611.6h1.5v1.5h-1.5zM131.9 612.0h1.5v1.5h-1.5zM97.8 620.2h1.5v1.5h-1.5zM113.1 622.2h1.5v1.5h-1.5zM108.2 615.0h1.5v1.5h-1.5zM117.4 608.2h1.5v1.5h-1.5zM126.1 622.9h1.5v1.5h-1.5zM131.0 608.7h1.5v1.5h-1.5zM121.1 620.9h1.5v1.5h-1.5zM140.9 617.6h1.5v1.5h-1.5zM119.8 624.0h1.5v1.5h-1.5zM106.4 625.6h1.5v1.5h-1.5zM133.2 608.6h1.5v1.5h-1.5zM116.1 622.4h1.5v1.5h-1.5zM120.1 614.4h1.5v1.5h-1.5zM103.3 623.9h1.5v1.5h-1.5zM119.6 613.1h1.5v1.5h-1.5zM121.6 613.8h1.5v1.5h-1.5zM106.5 629.0h1.5v1.5h-1.5zM124.3 619.0h1.5v1.5h-1.5zM119.3 617.7h1.5v1.5h-1.5zM126.3 618.1h1.5v1.5h-1.5zM137.3 612.7h1.5v1.5h-1.5zM126.8 612.1h1.5v1.5h-1.5zM132.6 611.9h1.5v1.5h-1.5zM100.7 622.2h1.5v1.5h-1.5zM142.1 609.9h1.5v1.5h-1.5zM127.2 612.7h1.5v1.5h-1.5zM113.4 620.1h1.5v1.5h-1.5zM113.3 612.3h1.5v1.5h-1.5zM124.9 607.6h1.5v1.5h-1.5zM126.5 606.8h1.5v1.5h-1.5zM126.0 619.9h1.5v1.5h-1.5zM140.8 610.7h1.5v1.5h-1.5zM134.5 612.4h1.5v1.5h-1.5zM117.0 615.8h1.5v1.5h-1.5zM107.9 623.3h1.5v1.5h-1.5zM110.5 620.0h1.5v1.5h-1.5zM105.2 619.2h1.5v1.5h-1.5zM124.3 606.6h1.5v1.5h-1.5zM142.0 612.1h1.5v1.5h-1.5zM131.0 614.9h1.5v1.5h-1.5zM125.3 615.2h1.5v1.5h-1.5zM114.5 616.7h1.5v1.5h-1.5zM103.7 617.1h1.5v1.5h-1.5zM117.4 621.1h1.5v1.5h-1.5zM116.6 614.3h1.5v1.5h-1.5zM112.9 615.3h1.5v1.5h-1.5zM127.3 608.0h1.5v1.5h-1.5zM108.2 618.6h1.5v1.5h-1.5zM126.7 608.4h1.5v1.5h-1.5zM123.8 612.1h1.5v1.5h-1.5zM103.8 621.5h1.5v1.5h-1.5zM140.0 613.5h1.5v1.5h-1.5zM145.8 614.3h1.5v1.5h-1.5zM117.5 623.2h1.5v1.5h-1.5zM128.1 613.4h1.5v1.5h-1.5zM144.1 610.8h1.5v1.5h-1.5zM117.9 622.4h1.5v1.5h-1.5zM119.8 612.0h1.5v1.5h-1.5zM129.3 609.0h1.5v1.5h-1.5zM130.8 614.2h1.5v1.5h-1.5zM127.8 613.8h1.5v1.5h-1.5zM105.3 611.4h1.5v1.5h-1.5zM125.1 619.5h1.5v1.5h-1.5zM125.2 613.8h1.5v1.5h-1.5zM132.3 607.6h1.5v1.5h-1.5zM85.5 620.0h1.5v1.5h-1.5zM138.5 616.6h1.5v1.5h-1.5zM99.2 618.7h1.5v1.5h-1.5zM124.7 613.6h1.5v1.5h-1.5zM107.9 620.2h1.5v1.5h-1.5zM123.0 612.3h1.5v1.5h-1.5zM146.2 609.9h1.5v1.5h-1.5zM113.8 627.2h1.5v1.5h-1.5zM133.2 614.1h1.5v1.5h-1.5zM119.5 620.3h1.5v1.5h-1.5zM129.3 621.9h1.5v1.5h-1.5zM122.0 615.1h1.5v1.5h-1.5zM124.3 609.6h1.5v1.5h-1.5zM119.6 615.7h1.5v1.5h-1.5zM130.7 620.6h1.5v1.5h-1.5zM117.4 616.2h1.5v1.5h-1.5zM131.9 617.2h1.5v1.5h-1.5zM130.1 612.5h1.5v1.5h-1.5zM103.4 625.4h1.5v1.5h-1.5zM104.1 618.3h1.5v1.5h-1.5zM123.2 612.3h1.5v1.5h-1.5zM130.3 616.4h1.5v1.5h-1.5zM133.2 610.0h1.5v1.5h-1.5zM126.3 612.8h1.5v1.5h-1.5zM105.8 617.1h1.5v1.5h-1.5zM108.7 623.2h1.5v1.5h-1.5zM116.7 616.0h1.5v1.5h-1.5zM120.1 617.4h1.5v1.5h-1.5zM109.1 617.2h1.5v1.5h-1.5zM112.1 623.5h1.5v1.5h-1.5zM121.9 609.4h1.5v1.5h-1.5zM116.0 621.3h1.5v1.5h-1.5zM136.9 605.5h1.5v1.5h-1.5zM117.3 617.4h1.5v1.5h-1.5zM123.2 602.7h1.5v1.5h-1.5zM122.3 611.3h1.5v1.5h-1.5zM125.9 622.7h1.5v1.5h-1.5zM107.9 623.5h1.5v1.5h-1.5zM125.8 614.5h1.5v1.5h-1.5zM141.7 613.1h1.5v1.5h-1.5zM124.4 614.9h1.5v1.5h-1.5zM122.4 605.6h1.5v1.5h-1.5zM124.1 608.9h1.5v1.5h-1.5zM135.9 615.6h1.5v1.5h-1.5zM128.8 616.0h1.5v1.5h-1.5zM122.0 614.9h1.5v1.5h-1.5zM121.0 617.8h1.5v1.5h-1.5zM139.0 613.6h1.5v1.5h-1.5zM129.0 607.1h1.5v1.5h-1.5zM128.1 610.1h1.5v1.5h-1.5zM137.0 608.2h1.5v1.5h-1.5zM140.9 618.3h1.5v1.5h-1.5zM143.7 611.5h1.5v1.5h-1.5zM100.3 622.4h1.5v1.5h-1.5zM104.4 619.0h1.5v1.5h-1.5zM103.3 623.4h1.5v1.5h-1.5zM124.2 614.5h1.5v1.5h-1.5zM111.4 618.6h1.5v1.5h-1.5zM119.6 615.7h1.5v1.5h-1.5zM120.7 616.8h1.5v1.5h-1.5zM131.1 620.9h1.5v1.5h-1.5zM115.0 616.3h1.5v1.5h-1.5zM116.1 619.1h1.5v1.5h-1.5zM115.6 615.9h1.5v1.5h-1.5zM135.4 613.9h1.5v1.5h-1.5zM117.6 614.9h1.5v1.5h-1.5zM117.9 624.7h1.5v1.5h-1.5zM123.9 616.9h1.5v1.5h-1.5zM114.0 614.4h1.5v1.5h-1.5zM121.3 618.2h1.5v1.5h-1.5zM95.2 628.0h1.5v1.5h-1.5zM120.9 616.3h1.5v1.5h-1.5zM125.9 613.9h1.5v1.5h-1.5zM115.2 622.3h1.5v1.5h-1.5zM107.9 618.8h1.5v1.5h-1.5zM107.3 615.1h1.5v1.5h-1.5zM105.2 626.5h1.5v1.5h-1.5zM118.5 623.9h1.5v1.5h-1.5zM139.9 616.6h1.5v1.5h-1.5zM120.2 617.0h1.5v1.5h-1.5zM111.1 625.3h1.5v1.5h-1.5zM98.9 616.2h1.5v1.5h-1.5zM132.7 604.3h1.5v1.5h-1.5zM103.6 616.6h1.5v1.5h-1.5zM120.6 612.2h1.5v1.5h-1.5zM114.7 613.9h1.5v1.5h-1.5zM131.3 611.3h1.5v1.5h-1.5zM137.7 613.5h1.5v1.5h-1.5zM138.9 615.5h1.5v1.5h-1.5zM140.3 624.1h1.5v1.5h-1.5zM120.9 619.3h1.5v1.5h-1.5zM120.8 611.4h1.5v1.5h-1.5zM129.2 613.9h1.5v1.5h-1.5zM140.7 618.5h1.5v1.5h-1.5zM111.2 611.1h1.5v1.5h-1.5zM124.6 624.1h1.5v1.5h-1.5zM124.8 620.2h1.5v1.5h-1.5zM138.1 607.7h1.5v1.5h-1.5zM114.3 611.5h1.5v1.5h-1.5zM111.0 613.7h1.5v1.5h-1.5zM127.6 615.1h1.5v1.5h-1.5zM104.1 620.1h1.5v1.5h-1.5zM93.9 623.3h1.5v1.5h-1.5zM99.0 614.6h1.5v1.5h-1.5zM109.4 628.4h1.5v1.5h-1.5zM127.6 613.0h1.5v1.5h-1.5zM114.8 607.8h1.5v1.5h-1.5zM129.8 613.9h1.5v1.5h-1.5zM113.2 630.0h1.5v1.5h-1.5zM126.4 610.7h1.5v1.5h-1.5zM113.8 623.2h1.5v1.5h-1.5zM120.3 623.2h1.5v1.5h-1.5zM120.8 612.5h1.5v1.5h-1.5zM138.5 611.4h1.5v1.5h-1.5zM123.1 612.2h1.5v1.5h-1.5zM137.2 614.2h1.5v1.5h-1.5zM106.3 621.9h1.5v1.5h-1.5zM106.0 622.4h1.5v1.5h-1.5zM119.3 614.6h1.5v1.5h-1.5zM122.6 615.2h1.5v1.5h-1.5zM116.6 614.8h1.5v1.5h-1.5zM131.2 610.6h1.5v1.5h-1.5zM138.3 613.8h1.5v1.5h-1.5zM117.8 609.1h1.5v1.5h-1.5zM123.1 613.6h1.5v1.5h-1.5zM116.8 612.4h1.5v1.5h-1.5zM116.0 621.1h1.5v1.5h-1.5zM120.1 617.9h1.5v1.5h-1.5zM130.6 615.7h1.5v1.5h-1.5zM122.2 616.5h1.5v1.5h-1.5zM124.8 617.8h1.5v1.5h-1.5zM133.7 619.6h1.5v1.5h-1.5zM116.2 619.7h1.5v1.5h-1.5zM128.4 614.3h1.5v1.5h-1.5zM126.5 616.2h1.5v1.5h-1.5zM112.3 622.2h1.5v1.5h-1.5zM116.8 618.9h1.5v1.5h-1.5zM124.1 613.7h1.5v1.5h-1.5zM132.2 614.2h1.5v1.5h-1.5zM112.0 622.1h1.5v1.5h-1.5zM121.5 614.2h1.5v1.5h-1.5zM143.6 610.8h1.5v1.5h-1.5zM141.4 603.9h1.5v1.5h-1.5zM108.4 612.9h1.5v1.5h-1.5zM134.1 607.6h1.5v1.5h-1.5zM120.6 611.8h1.5v1.5h-1.5zM115.1 617.2h1.5v1.5h-1.5zM121.0 608.1h1.5v1.5h-1.5zM118.2 612.2h1.5v1.5h-1.5zM121.5 618.8h1.5v1.5h-1.5zM123.6 612.5h1.5v1.5h-1.5zM112.4 614.7h1.5v1.5h-1.5zM112.4 621.2h1.5v1.5h-1.5zM123.3 616.4h1.5v1.5h-1.5zM109.2 625.0h1.5v1.5h-1.5zM121.0 614.8h1.5v1.5h-1.5zM115.4 616.0h1.5v1.5h-1.5zM102.8 617.5h1.5v1.5h-1.5zM125.6 613.7h1.5v1.5h-1.5zM113.6 616.8h1.5v1.5h-1.5zM122.3 611.0h1.5v1.5h-1.5zM124.0 614.2h1.5v1.5h-1.5zM112.3 613.7h1.5v1.5h-1.5zM134.5 615.4h1.5v1.5h-1.5zM128.3 613.1h1.5v1.5h-1.5zM120.2 621.5h1.5v1.5h-1.5zM141.4 620.1h1.5v1.5h-1.5zM124.3 616.8h1.5v1.5h-1.5zM134.2 615.2h1.5v1.5h-1.5zM121.2 613.1h1.5v1.5h-1.5zM126.1 617.1h1.5v1.5h-1.5zM128.8 612.7h1.5v1.5h-1.5zM132.4 615.9h1.5v1.5h-1.5zM120.2 617.6h1.5v1.5h-1.5zM110.9 616.6h1.5v1.5h-1.5zM125.6 608.8h1.5v1.5h-1.5zM116.9 614.9h1.5v1.5h-1.5zM134.2 613.9h1.5v1.5h-1.5zM121.5 615.1h1.5v1.5h-1.5zM112.7 621.6h1.5v1.5h-1.5zM133.8 612.7h1.5v1.5h-1.5zM119.9 621.4h1.5v1.5h-1.5zM122.1 610.5h1.5v1.5h-1.5zM107.3 622.2h1.5v1.5h-1.5zM133.7 607.3h1.5v1.5h-1.5zM138.9 614.9h1.5v1.5h-1.5zM127.8 617.8h1.5v1.5h-1.5zM126.9 616.3h1.5v1.5h-1.5zM123.1 609.7h1.5v1.5h-1.5zM124.7 616.2h1.5v1.5h-1.5zM121.4 614.6h1.5v1.5h-1.5zM114.8 616.1h1.5v1.5h-1.5zM127.8 607.9h1.5v1.5h-1.5zM96.7 625.4h1.5v1.5h-1.5zM106.3 614.8h1.5v1.5h-1.5zM149.3 609.7h1.5v1.5h-1.5zM122.2 610.7h1.5v1.5h-1.5zM92.3 621.9h1.5v1.5h-1.5zM84.4 621.9h1.5v1.5h-1.5zM114.8 619.0h1.5v1.5h-1.5zM124.7 617.6h1.5v1.5h-1.5zM133.7 613.5h1.5v1.5h-1.5zM125.2 604.1h1.5v1.5h-1.5zM115.5 612.8h1.5v1.5h-1.5zM111.1 612.3h1.5v1.5h-1.5zM132.0 613.2h1.5v1.5h-1.5zM132.3 606.8h1.5v1.5h-1.5zM136.8 612.9h1.5v1.5h-1.5zM120.1 611.2h1.5v1.5h-1.5zM103.6 621.6h1.5v1.5h-1.5zM126.4 612.4h1.5v1.5h-1.5zM142.4 604.3h1.5v1.5h-1.5zM124.5 613.3h1.5v1.5h-1.5zM105.4 619.5h1.5v1.5h-1.5zM123.8 616.3h1.5v1.5h-1.5zM121.5 613.1h1.5v1.5h-1.5zM109.7 620.3h1.5v1.5h-1.5zM100.1 614.8h1.5v1.5h-1.5zM108.5 625.4h1.5v1.5h-1.5zM129.7 615.1h1.5v1.5h-1.5zM132.0 615.3h1.5v1.5h-1.5zM145.5 608.2h1.5v1.5h-1.5zM122.5 615.0h1.5v1.5h-1.5zM118.4 612.8h1.5v1.5h-1.5zM144.0 613.4h1.5v1.5h-1.5zM108.1 615.6h1.5v1.5h-1.5zM133.2 619.9h1.5v1.5h-1.5zM112.7 621.6h1.5v1.5h-1.5zM127.3 612.5h1.5v1.5h-1.5zM112.2 622.2h1.5v1.5h-1.5zM128.7 623.1h1.5v1.5h-1.5zM128.2 615.1h1.5v1.5h-1.5zM143.0 607.5h1.5v1.5h-1.5zM114.0 618.3h1.5v1.5h-1.5zM117.6 619.5h1.5v1.5h-1.5zM121.7 611.6h1.5v1.5h-1.5zM103.3 620.1h1.5v1.5h-1.5zM138.1 609.5h1.5v1.5h-1.5zM111.3 621.0h1.5v1.5h-1.5zM110.9 624.5h1.5v1.5h-1.5zM134.1 613.1h1.5v1.5h-1.5zM112.7 623.4h1.5v1.5h-1.5zM116.3 618.8h1.5v1.5h-1.5zM140.7 614.1h1.5v1.5h-1.5zM122.1 611.0h1.5v1.5h-1.5zM128.5 615.2h1.5v1.5h-1.5zM95.5 614.6h1.5v1.5h-1.5zM127.7 616.4h1.5v1.5h-1.5zM119.7 620.1h1.5v1.5h-1.5zM110.4 624.1h1.5v1.5h-1.5zM126.6 612.6h1.5v1.5h-1.5zM122.8 612.2h1.5v1.5h-1.5zM127.0 614.2h1.5v1.5h-1.5zM110.6 615.2h1.5v1.5h-1.5zM134.5 610.6h1.5v1.5h-1.5zM135.2 615.2h1.5v1.5h-1.5zM109.5 612.6h1.5v1.5h-1.5zM114.0 616.1h1.5v1.5h-1.5zM118.6 616.2h1.5v1.5h-1.5zM117.6 618.7h1.5v1.5h-1.5zM100.2 611.6h1.5v1.5h-1.5zM123.1 623.6h1.5v1.5h-1.5zM110.3 622.6h1.5v1.5h-1.5zM112.2 628.2h1.5v1.5h-1.5zM127.4 607.7h1.5v1.5h-1.5zM117.9 613.2h1.5v1.5h-1.5zM127.7 619.8h1.5v1.5h-1.5zM134.8 620.4h1.5v1.5h-1.5zM114.1 618.6h1.5v1.5h-1.5zM135.2 612.7h1.5v1.5h-1.5zM119.3 619.5h1.5v1.5h-1.5zM121.8 615.5h1.5v1.5h-1.5zM129.2 608.4h1.5v1.5h-1.5zM129.2 614.2h1.5v1.5h-1.5zM119.0 609.4h1.5v1.5h-1.5zM123.1 615.5h1.5v1.5h-1.5zM141.4 605.4h1.5v1.5h-1.5zM127.3 615.1h1.5v1.5h-1.5zM113.5 612.7h1.5v1.5h-1.5zM115.6 612.8h1.5v1.5h-1.5zM111.8 617.1h1.5v1.5h-1.5zM125.4 614.4h1.5v1.5h-1.5zM123.4 613.7h1.5v1.5h-1.5zM107.9 622.9h1.5v1.5h-1.5zM119.1 608.5h1.5v1.5h-1.5zM119.3 620.0h1.5v1.5h-1.5zM113.2 617.1h1.5v1.5h-1.5zM134.3 615.7h1.5v1.5h-1.5zM127.2 613.9h1.5v1.5h-1.5zM116.7 620.6h1.5v1.5h-1.5zM119.0 619.2h1.5v1.5h-1.5zM126.9 622.1h1.5v1.5h-1.5zM133.7 610.3h1.5v1.5h-1.5zM127.4 608.3h1.5v1.5h-1.5zM127.7 621.8h1.5v1.5h-1.5zM121.4 613.8h1.5v1.5h-1.5zM112.9 622.1h1.5v1.5h-1.5zM125.7 612.8h1.5v1.5h-1.5zM115.9 617.8h1.5v1.5h-1.5zM115.0 619.3h1.5v1.5h-1.5zM120.1 611.5h1.5v1.5h-1.5zM102.3 620.7h1.5v1.5h-1.5zM139.3 611.1h1.5v1.5h-1.5zM122.5 612.0h1.5v1.5h-1.5zM109.3 623.1h1.5v1.5h-1.5zM101.8 625.5h1.5v1.5h-1.5zM123.6 611.7h1.5v1.5h-1.5zM116.0 619.6h1.5v1.5h-1.5zM125.4 612.4h1.5v1.5h-1.5zM123.7 623.3h1.5v1.5h-1.5zM114.5 627.7h1.5v1.5h-1.5zM123.5 618.9h1.5v1.5h-1.5zM113.3 610.9h1.5v1.5h-1.5zM135.9 611.0h1.5v1.5h-1.5zM123.9 614.5h1.5v1.5h-1.5zM114.1 617.3h1.5v1.5h-1.5zM142.6 615.5h1.5v1.5h-1.5zM113.2 616.6h1.5v1.5h-1.5zM131.0 610.5h1.5v1.5h-1.5zM109.7 618.4h1.5v1.5h-1.5zM117.7 621.6h1.5v1.5h-1.5zM121.6 617.7h1.5v1.5h-1.5zM131.3 612.1h1.5v1.5h-1.5zM111.9 617.2h1.5v1.5h-1.5zM116.7 619.3h1.5v1.5h-1.5zM115.2 612.4h1.5v1.5h-1.5zM116.0 623.9h1.5v1.5h-1.5zM111.9 614.1h1.5v1.5h-1.5zM145.3 615.7h1.5v1.5h-1.5zM116.7 618.0h1.5v1.5h-1.5zM104.7 617.1h1.5v1.5h-1.5zM120.2 614.8h1.5v1.5h-1.5zM146.3 612.2h1.5v1.5h-1.5zM129.8 610.7h1.5v1.5h-1.5zM113.5 619.7h1.5v1.5h-1.5zM138.5 609.6h1.5v1.5h-1.5zM122.4 620.1h1.5v1.5h-1.5zM130.8 611.8h1.5v1.5h-1.5zM145.9 605.0h1.5v1.5h-1.5zM129.9 613.0h1.5v1.5h-1.5zM121.5 618.0h1.5v1.5h-1.5zM124.3 614.2h1.5v1.5h-1.5zM128.2 609.9h1.5v1.5h-1.5zM124.3 617.5h1.5v1.5h-1.5zM130.0 607.6h1.5v1.5h-1.5zM111.2 615.9h1.5v1.5h-1.5zM127.0 612.4h1.5v1.5h-1.5zM126.5 615.2h1.5v1.5h-1.5zM119.6 609.0h1.5v1.5h-1.5zM140.5 618.1h1.5v1.5h-1.5zM91.8 619.4h1.5v1.5h-1.5zM113.1 619.4h1.5v1.5h-1.5zM102.6 617.7h1.5v1.5h-1.5zM120.1 618.2h1.5v1.5h-1.5zM131.0 603.8h1.5v1.5h-1.5zM137.6 607.8h1.5v1.5h-1.5zM116.1 614.0h1.5v1.5h-1.5zM120.3 611.1h1.5v1.5h-1.5zM127.4 614.8h1.5v1.5h-1.5zM127.1 617.7h1.5v1.5h-1.5zM129.8 607.9h1.5v1.5h-1.5zM116.6 614.3h1.5v1.5h-1.5zM101.8 615.4h1.5v1.5h-1.5zM130.8 618.3h1.5v1.5h-1.5zM140.7 611.7h1.5v1.5h-1.5zM101.0 625.2h1.5v1.5h-1.5zM130.7 615.1h1.5v1.5h-1.5zM133.4 620.0h1.5v1.5h-1.5zM119.6 612.0h1.5v1.5h-1.5zM113.0 614.4h1.5v1.5h-1.5zM116.7 615.2h1.5v1.5h-1.5zM124.4 605.8h1.5v1.5h-1.5zM106.6 615.2h1.5v1.5h-1.5zM135.7 617.8h1.5v1.5h-1.5zM121.7 606.0h1.5v1.5h-1.5zM132.7 626.1h1.5v1.5h-1.5zM118.1 623.5h1.5v1.5h-1.5zM124.2 618.3h1.5v1.5h-1.5zM114.4 620.5h1.5v1.5h-1.5zM124.1 617.2h1.5v1.5h-1.5zM110.4 618.7h1.5v1.5h-1.5zM125.4 618.6h1.5v1.5h-1.5zM133.4 620.5h1.5v1.5h-1.5zM125.4 616.6h1.5v1.5h-1.5zM138.7 615.2h1.5v1.5h-1.5zM113.2 622.9h1.5v1.5h-1.5zM143.4 609.1h1.5v1.5h-1.5zM108.4 619.5h1.5v1.5h-1.5zM109.8 611.5h1.5v1.5h-1.5zM125.5 623.5h1.5v1.5h-1.5zM123.2 611.6h1.5v1.5h-1.5zM120.8 613.9h1.5v1.5h-1.5zM119.5 615.2h1.5v1.5h-1.5zM123.2 618.4h1.5v1.5h-1.5zM124.7 614.4h1.5v1.5h-1.5zM120.3 618.8h1.5v1.5h-1.5zM109.2 617.0h1.5v1.5h-1.5zM130.2 624.2h1.5v1.5h-1.5zM114.7 611.3h1.5v1.5h-1.5zM131.2 616.9h1.5v1.5h-1.5zM136.2 617.1h1.5v1.5h-1.5zM111.8 609.4h1.5v1.5h-1.5zM115.8 617.7h1.5v1.5h-1.5zM101.9 623.6h1.5v1.5h-1.5zM107.3 618.9h1.5v1.5h-1.5zM99.8 615.3h1.5v1.5h-1.5zM116.7 619.1h1.5v1.5h-1.5zM113.5 614.1h1.5v1.5h-1.5zM138.3 614.3h1.5v1.5h-1.5zM139.2 605.7h1.5v1.5h-1.5zM136.1 611.8h1.5v1.5h-1.5zM103.8 616.2h1.5v1.5h-1.5zM116.1 615.9h1.5v1.5h-1.5zM99.2 621.0h1.5v1.5h-1.5zM123.4 619.3h1.5v1.5h-1.5zM124.1 608.2h1.5v1.5h-1.5zM123.4 618.2h1.5v1.5h-1.5zM148.0 619.8h1.5v1.5h-1.5zM110.3 616.1h1.5v1.5h-1.5zM114.0 626.7h1.5v1.5h-1.5zM123.7 611.8h1.5v1.5h-1.5zM111.7 611.4h1.5v1.5h-1.5zM126.5 609.8h1.5v1.5h-1.5zM103.3 619.1h1.5v1.5h-1.5zM139.0 604.0h1.5v1.5h-1.5zM135.8 613.1h1.5v1.5h-1.5zM122.9 618.1h1.5v1.5h-1.5zM133.3 616.4h1.5v1.5h-1.5zM122.2 624.3h1.5v1.5h-1.5zM103.6 611.6h1.5v1.5h-1.5zM121.4 614.8h1.5v1.5h-1.5zM95.6 620.6h1.5v1.5h-1.5zM144.5 617.8h1.5v1.5h-1.5zM93.6 621.6h1.5v1.5h-1.5zM114.7 617.9h1.5v1.5h-1.5zM106.4 624.2h1.5v1.5h-1.5zM106.6 615.8h1.5v1.5h-1.5zM120.2 612.5h1.5v1.5h-1.5zM108.4 615.7h1.5v1.5h-1.5zM115.7 616.4h1.5v1.5h-1.5zM131.5 613.7h1.5v1.5h-1.5zM116.7 623.6h1.5v1.5h-1.5zM121.5 612.4h1.5v1.5h-1.5zM113.5 617.5h1.5v1.5h-1.5zM100.5 625.2h1.5v1.5h-1.5zM125.4 609.5h1.5v1.5h-1.5zM117.2 623.6h1.5v1.5h-1.5zM116.4 623.3h1.5v1.5h-1.5zM117.6 608.3h1.5v1.5h-1.5zM124.2 615.9h1.5v1.5h-1.5zM132.7 615.2h1.5v1.5h-1.5zM124.6 614.3h1.5v1.5h-1.5zM125.9 621.1h1.5v1.5h-1.5zM128.9 610.6h1.5v1.5h-1.5zM94.5 632.2h1.5v1.5h-1.5zM110.5 611.4h1.5v1.5h-1.5zM121.0 612.9h1.5v1.5h-1.5zM127.1 610.9h1.5v1.5h-1.5zM113.4 619.7h1.5v1.5h-1.5zM125.1 612.5h1.5v1.5h-1.5zM127.4 613.2h1.5v1.5h-1.5zM115.2 612.2h1.5v1.5h-1.5zM126.2 610.3h1.5v1.5h-1.5zM91.4 617.0h1.5v1.5h-1.5zM92.6 620.2h1.5v1.5h-1.5zM113.1 616.8h1.5v1.5h-1.5zM115.3 618.2h1.5v1.5h-1.5zM123.0 614.0h1.5v1.5h-1.5zM111.5 628.3h1.5v1.5h-1.5zM111.7 615.2h1.5v1.5h-1.5zM111.0 615.8h1.5v1.5h-1.5zM116.5 620.6h1.5v1.5h-1.5zM134.3 606.3h1.5v1.5h-1.5zM119.6 616.3h1.5v1.5h-1.5zM131.9 619.4h1.5v1.5h-1.5zM110.7 612.9h1.5v1.5h-1.5zM131.2 616.0h1.5v1.5h-1.5zM111.8 616.0h1.5v1.5h-1.5zM104.4 621.0h1.5v1.5h-1.5zM118.1 626.8h1.5v1.5h-1.5zM127.6 611.3h1.5v1.5h-1.5zM133.1 619.7h1.5v1.5h-1.5zM105.9 622.1h1.5v1.5h-1.5zM105.6 609.9h1.5v1.5h-1.5zM109.4 619.3h1.5v1.5h-1.5zM123.2 613.5h1.5v1.5h-1.5zM137.6 617.4h1.5v1.5h-1.5zM131.0 613.3h1.5v1.5h-1.5zM107.1 617.7h1.5v1.5h-1.5zM104.5 611.9h1.5v1.5h-1.5zM112.3 613.1h1.5v1.5h-1.5zM135.9 615.7h1.5v1.5h-1.5zM110.3 617.2h1.5v1.5h-1.5zM108.5 614.3h1.5v1.5h-1.5zM122.8 618.7h1.5v1.5h-1.5zM112.8 614.2h1.5v1.5h-1.5zM103.9 611.7h1.5v1.5h-1.5zM111.6 618.4h1.5v1.5h-1.5zM110.0 610.9h1.5v1.5h-1.5zM130.4 608.5h1.5v1.5h-1.5zM128.4 614.1h1.5v1.5h-1.5zM140.5 609.3h1.5v1.5h-1.5zM125.9 612.4h1.5v1.5h-1.5zM129.4 613.1h1.5v1.5h-1.5zM118.8 623.1h1.5v1.5h-1.5zM144.8 617.0h1.5v1.5h-1.5zM95.6 623.6h1.5v1.5h-1.5zM143.4 606.4h1.5v1.5h-1.5zM113.7 616.0h1.5v1.5h-1.5zM120.5 624.4h1.5v1.5h-1.5zM116.9 615.3h1.5v1.5h-1.5zM134.5 618.5h1.5v1.5h-1.5zM94.4 627.5h1.5v1.5h-1.5zM124.6 614.8h1.5v1.5h-1.5zM122.5 614.9h1.5v1.5h-1.5zM116.5 622.5h1.5v1.5h-1.5zM126.1 613.2h1.5v1.5h-1.5zM127.5 609.2h1.5v1.5h-1.5zM106.2 628.6h1.5v1.5h-1.5zM99.9 610.5h1.5v1.5h-1.5zM110.0 616.1h1.5v1.5h-1.5zM120.6 612.7h1.5v1.5h-1.5zM158.4 611.1h1.5v1.5h-1.5zM118.8 618.8h1.5v1.5h-1.5zM123.6 613.1h1.5v1.5h-1.5zM109.4 612.3h1.5v1.5h-1.5zM134.2 611.4h1.5v1.5h-1.5zM119.5 617.1h1.5v1.5h-1.5zM101.5 616.6h1.5v1.5h-1.5zM109.3 620.1h1.5v1.5h-1.5zM132.5 617.7h1.5v1.5h-1.5zM114.6 613.3h1.5v1.5h-1.5zM142.6 614.8h1.5v1.5h-1.5zM133.7 616.3h1.5v1.5h-1.5zM125.3 612.9h1.5v1.5h-1.5zM107.4 613.9h1.5v1.5h-1.5zM141.9 611.7h1.5v1.5h-1.5zM123.9 620.3h1.5v1.5h-1.5zM141.8 611.7h1.5v1.5h-1.5zM105.8 615.3h1.5v1.5h-1.5zM103.6 622.0h1.5v1.5h-1.5zM95.7 614.5h1.5v1.5h-1.5zM146.7 613.8h1.5v1.5h-1.5zM113.1 619.8h1.5v1.5h-1.5zM114.1 614.7h1.5v1.5h-1.5zM137.9 617.0h1.5v1.5h-1.5zM125.9 622.7h1.5v1.5h-1.5zM138.7 612.9h1.5v1.5h-1.5zM112.5 610.8h1.5v1.5h-1.5zM119.5 610.2h1.5v1.5h-1.5zM133.4 606.4h1.5v1.5h-1.5zM111.4 617.3h1.5v1.5h-1.5zM125.1 615.9h1.5v1.5h-1.5zM138.6 615.6h1.5v1.5h-1.5zM132.5 607.8h1.5v1.5h-1.5zM97.8 624.3h1.5v1.5h-1.5zM110.2 620.2h1.5v1.5h-1.5zM125.3 615.8h1.5v1.5h-1.5zM121.7 617.7h1.5v1.5h-1.5zM119.8 613.9h1.5v1.5h-1.5zM129.5 617.6h1.5v1.5h-1.5zM119.4 619.4h1.5v1.5h-1.5zM118.7 622.4h1.5v1.5h-1.5zM132.0 610.9h1.5v1.5h-1.5zM119.3 619.1h1.5v1.5h-1.5zM115.4 619.7h1.5v1.5h-1.5zM102.6 612.2h1.5v1.5h-1.5zM159.4 614.0h1.5v1.5h-1.5zM107.1 615.9h1.5v1.5h-1.5zM127.9 621.3h1.5v1.5h-1.5zM98.2 617.7h1.5v1.5h-1.5zM97.4 614.0h1.5v1.5h-1.5zM114.9 616.6h1.5v1.5h-1.5zM120.7 618.3h1.5v1.5h-1.5zM119.1 617.5h1.5v1.5h-1.5zM135.4 613.5h1.5v1.5h-1.5zM120.4 618.2h1.5v1.5h-1.5zM113.3 620.4h1.5v1.5h-1.5zM120.9 607.9h1.5v1.5h-1.5zM133.9 612.4h1.5v1.5h-1.5zM140.4 607.8h1.5v1.5h-1.5zM123.2 616.1h1.5v1.5h-1.5zM107.9 617.2h1.5v1.5h-1.5zM117.1 623.4h1.5v1.5h-1.5zM105.7 610.3h1.5v1.5h-1.5zM123.3 613.2h1.5v1.5h-1.5zM123.1 617.4h1.5v1.5h-1.5zM126.2 610.2h1.5v1.5h-1.5zM117.1 614.3h1.5v1.5h-1.5zM132.8 615.7h1.5v1.5h-1.5zM122.8 618.7h1.5v1.5h-1.5zM127.8 616.1h1.5v1.5h-1.5zM134.2 616.7h1.5v1.5h-1.5zM140.6 613.5h1.5v1.5h-1.5zM110.9 621.6h1.5v1.5h-1.5zM128.5 618.1h1.5v1.5h-1.5zM141.9 606.4h1.5v1.5h-1.5zM126.8 620.9h1.5v1.5h-1.5zM120.5 619.0h1.5v1.5h-1.5zM99.5 618.0h1.5v1.5h-1.5zM146.6 613.4h1.5v1.5h-1.5zM130.3 608.6h1.5v1.5h-1.5zM109.5 619.4h1.5v1.5h-1.5zM123.9 613.2h1.5v1.5h-1.5zM107.3 617.4h1.5v1.5h-1.5zM119.5 612.0h1.5v1.5h-1.5zM102.0 621.8h1.5v1.5h-1.5zM114.9 618.3h1.5v1.5h-1.5zM129.2 617.0h1.5v1.5h-1.5zM152.9 612.9h1.5v1.5h-1.5zM130.6 609.6h1.5v1.5h-1.5zM132.1 614.6h1.5v1.5h-1.5zM111.0 618.8h1.5v1.5h-1.5zM128.6 613.9h1.5v1.5h-1.5zM127.6 612.1h1.5v1.5h-1.5zM110.4 621.8h1.5v1.5h-1.5zM137.7 614.8h1.5v1.5h-1.5zM102.2 611.3h1.5v1.5h-1.5zM111.0 621.7h1.5v1.5h-1.5zM132.1 618.6h1.5v1.5h-1.5zM110.5 613.2h1.5v1.5h-1.5zM111.1 606.8h1.5v1.5h-1.5zM121.9 604.1h1.5v1.5h-1.5zM122.3 615.3h1.5v1.5h-1.5zM113.2 618.2h1.5v1.5h-1.5zM114.9 617.0h1.5v1.5h-1.5zM129.8 619.7h1.5v1.5h-1.5zM110.0 626.9h1.5v1.5h-1.5zM138.4 612.9h1.5v1.5h-1.5zM120.6 616.1h1.5v1.5h-1.5zM132.6 612.3h1.5v1.5h-1.5zM130.7 614.7h1.5v1.5h-1.5zM119.3 616.4h1.5v1.5h-1.5zM98.9 615.2h1.5v1.5h-1.5zM102.2 623.6h1.5v1.5h-1.5zM128.6 614.2h1.5v1.5h-1.5zM130.3 606.7h1.5v1.5h-1.5zM142.6 605.8h1.5v1.5h-1.5zM118.1 607.5h1.5v1.5h-1.5zM110.4 618.1h1.5v1.5h-1.5zM132.5 614.6h1.5v1.5h-1.5zM119.3 617.6h1.5v1.5h-1.5zM136.8 623.5h1.5v1.5h-1.5zM135.7 608.5h1.5v1.5h-1.5zM119.9 613.6h1.5v1.5h-1.5zM109.4 613.2h1.5v1.5h-1.5zM156.7 613.2h1.5v1.5h-1.5zM137.2 613.1h1.5v1.5h-1.5zM116.8 618.7h1.5v1.5h-1.5zM118.5 621.7h1.5v1.5h-1.5zM104.8 611.6h1.5v1.5h-1.5zM120.6 613.5h1.5v1.5h-1.5zM124.4 613.1h1.5v1.5h-1.5zM102.8 623.3h1.5v1.5h-1.5zM128.2 610.2h1.5v1.5h-1.5zM107.3 620.8h1.5v1.5h-1.5zM108.2 615.4h1.5v1.5h-1.5zM124.8 615.0h1.5v1.5h-1.5zM113.1 615.8h1.5v1.5h-1.5zM121.1 619.0h1.5v1.5h-1.5zM124.7 618.0h1.5v1.5h-1.5zM131.9 611.1h1.5v1.5h-1.5zM112.7 614.8h1.5v1.5h-1.5zM121.6 618.7h1.5v1.5h-1.5zM110.0 625.0h1.5v1.5h-1.5zM107.5 616.8h1.5v1.5h-1.5zM134.9 615.9h1.5v1.5h-1.5zM122.6 614.0h1.5v1.5h-1.5zM129.9 612.2h1.5v1.5h-1.5zM135.2 609.9h1.5v1.5h-1.5zM111.8 615.8h1.5v1.5h-1.5zM93.3 621.7h1.5v1.5h-1.5zM121.0 613.3h1.5v1.5h-1.5zM117.2 612.9h1.5v1.5h-1.5zM136.3 616.6h1.5v1.5h-1.5zM114.4 615.9h1.5v1.5h-1.5zM126.5 614.2h1.5v1.5h-1.5zM130.5 619.1h1.5v1.5h-1.5zM129.9 609.1h1.5v1.5h-1.5zM133.8 611.6h1.5v1.5h-1.5zM118.0 614.6h1.5v1.5h-1.5zM119.9 622.9h1.5v1.5h-1.5zM113.7 617.3h1.5v1.5h-1.5zM114.7 621.0h1.5v1.5h-1.5zM118.0 618.0h1.5v1.5h-1.5zM121.6 615.9h1.5v1.5h-1.5zM122.8 611.2h1.5v1.5h-1.5zM122.4 613.8h1.5v1.5h-1.5zM106.4 631.2h1.5v1.5h-1.5zM116.1 613.8h1.5v1.5h-1.5zM116.8 619.3h1.5v1.5h-1.5zM106.2 614.7h1.5v1.5h-1.5zM114.6 615.9h1.5v1.5h-1.5zM134.0 611.1h1.5v1.5h-1.5zM147.1 611.5h1.5v1.5h-1.5zM132.0 610.8h1.5v1.5h-1.5zM113.1 617.1h1.5v1.5h-1.5zM114.1 621.5h1.5v1.5h-1.5zM124.3 618.5h1.5v1.5h-1.5zM140.5 615.4h1.5v1.5h-1.5zM114.4 616.6h1.5v1.5h-1.5zM114.7 616.7h1.5v1.5h-1.5zM113.6 623.3h1.5v1.5h-1.5zM92.4 626.7h1.5v1.5h-1.5zM138.6 610.6h1.5v1.5h-1.5zM122.6 617.5h1.5v1.5h-1.5zM119.1 614.9h1.5v1.5h-1.5zM104.5 622.3h1.5v1.5h-1.5zM110.3 612.4h1.5v1.5h-1.5zM108.4 613.1h1.5v1.5h-1.5zM115.3 605.1h1.5v1.5h-1.5zM119.8 615.9h1.5v1.5h-1.5zM136.6 609.1h1.5v1.5h-1.5zM131.8 618.4h1.5v1.5h-1.5zM134.1 606.1h1.5v1.5h-1.5zM119.6 618.2h1.5v1.5h-1.5zM107.9 613.8h1.5v1.5h-1.5zM124.2 615.2h1.5v1.5h-1.5zM106.3 611.5h1.5v1.5h-1.5zM131.0 614.0h1.5v1.5h-1.5zM138.1 616.7h1.5v1.5h-1.5zM131.1 618.2h1.5v1.5h-1.5zM137.3 614.0h1.5v1.5h-1.5zM135.1 615.0h1.5v1.5h-1.5zM125.4 610.1h1.5v1.5h-1.5zM110.2 617.4h1.5v1.5h-1.5zM110.9 614.0h1.5v1.5h-1.5zM113.7 618.8h1.5v1.5h-1.5zM118.4 611.3h1.5v1.5h-1.5zM108.5 618.2h1.5v1.5h-1.5zM116.9 618.9h1.5v1.5h-1.5zM111.5 618.3h1.5v1.5h-1.5zM123.1 622.1h1.5v1.5h-1.5zM123.5 620.5h1.5v1.5h-1.5zM120.9 606.0h1.5v1.5h-1.5zM109.4 618.2h1.5v1.5h-1.5zM117.8 612.2h1.5v1.5h-1.5zM115.2 624.6h1.5v1.5h-1.5zM101.8 618.6h1.5v1.5h-1.5zM123.7 610.7h1.5v1.5h-1.5zM114.5 614.1h1.5v1.5h-1.5zM108.3 612.6h1.5v1.5h-1.5zM119.9 618.9h1.5v1.5h-1.5zM122.9 607.9h1.5v1.5h-1.5zM110.8 623.0h1.5v1.5h-1.5zM108.8 623.0h1.5v1.5h-1.5zM120.2 614.4h1.5v1.5h-1.5zM118.8 615.4h1.5v1.5h-1.5zM134.7 614.5h1.5v1.5h-1.5zM106.1 628.4h1.5v1.5h-1.5zM123.6 618.3h1.5v1.5h-1.5zM117.8 614.6h1.5v1.5h-1.5zM126.2 621.6h1.5v1.5h-1.5zM109.5 617.6h1.5v1.5h-1.5zM119.1 611.2h1.5v1.5h-1.5zM114.9 625.8h1.5v1.5h-1.5zM134.5 620.4h1.5v1.5h-1.5zM109.4 616.3h1.5v1.5h-1.5zM108.3 607.4h1.5v1.5h-1.5zM123.6 613.0h1.5v1.5h-1.5zM115.6 607.2h1.5v1.5h-1.5zM127.1 617.8h1.5v1.5h-1.5zM135.5 620.4h1.5v1.5h-1.5zM113.9 615.9h1.5v1.5h-1.5zM122.4 619.7h1.5v1.5h-1.5zM139.3 606.1h1.5v1.5h-1.5zM109.8 616.3h1.5v1.5h-1.5zM113.3 619.1h1.5v1.5h-1.5zM132.3 613.2h1.5v1.5h-1.5zM119.5 615.6h1.5v1.5h-1.5zM107.0 613.1h1.5v1.5h-1.5zM111.9 611.8h1.5v1.5h-1.5zM115.4 618.8h1.5v1.5h-1.5zM138.2 611.8h1.5v1.5h-1.5zM113.3 619.6h1.5v1.5h-1.5zM127.9 606.5h1.5v1.5h-1.5zM128.0 616.2h1.5v1.5h-1.5zM107.6 621.2h1.5v1.5h-1.5zM119.4 615.1h1.5v1.5h-1.5zM113.1 611.8h1.5v1.5h-1.5zM109.5 621.0h1.5v1.5h-1.5zM126.6 612.7h1.5v1.5h-1.5zM116.2 612.5h1.5v1.5h-1.5zM104.2 611.9h1.5v1.5h-1.5zM146.4 602.7h1.5v1.5h-1.5zM122.2 607.1h1.5v1.5h-1.5zM121.4 610.0h1.5v1.5h-1.5zM118.4 615.4h1.5v1.5h-1.5zM126.9 622.2h1.5v1.5h-1.5zM118.3 608.9h1.5v1.5h-1.5zM86.5 620.5h1.5v1.5h-1.5zM131.6 612.4h1.5v1.5h-1.5zM123.0 609.4h1.5v1.5h-1.5zM124.7 623.3h1.5v1.5h-1.5zM109.7 619.2h1.5v1.5h-1.5zM122.5 617.5h1.5v1.5h-1.5zM119.5 608.9h1.5v1.5h-1.5zM86.3 617.3h1.5v1.5h-1.5zM131.8 611.2h1.5v1.5h-1.5zM120.9 615.5h1.5v1.5h-1.5zM125.0 614.0h1.5v1.5h-1.5zM112.3 614.1h1.5v1.5h-1.5zM111.1 617.8h1.5v1.5h-1.5zM116.6 621.6h1.5v1.5h-1.5zM127.9 614.8h1.5v1.5h-1.5zM107.1 618.7h1.5v1.5h-1.5zM104.6 612.7h1.5v1.5h-1.5zM126.8 606.2h1.5v1.5h-1.5zM114.1 614.0h1.5v1.5h-1.5zM109.4 621.6h1.5v1.5h-1.5zM119.7 614.3h1.5v1.5h-1.5zM131.6 615.0h1.5v1.5h-1.5zM133.7 609.3h1.5v1.5h-1.5zM110.5 618.5h1.5v1.5h-1.5zM110.0 610.5h1.5v1.5h-1.5zM114.3 613.2h1.5v1.5h-1.5zM131.5 615.0h1.5v1.5h-1.5zM115.1 615.4h1.5v1.5h-1.5zM111.7 623.0h1.5v1.5h-1.5zM109.5 616.5h1.5v1.5h-1.5zM123.0 607.9h1.5v1.5h-1.5zM99.4 617.6h1.5v1.5h-1.5zM107.3 613.4h1.5v1.5h-1.5zM128.9 613.8h1.5v1.5h-1.5zM138.0 614.3h1.5v1.5h-1.5zM114.6 621.5h1.5v1.5h-1.5zM113.1 616.8h1.5v1.5h-1.5zM128.6 608.9h1.5v1.5h-1.5zM117.6 619.6h1.5v1.5h-1.5zM116.9 618.4h1.5v1.5h-1.5zM115.3 618.6h1.5v1.5h-1.5zM110.6 618.0h1.5v1.5h-1.5zM114.8 617.7h1.5v1.5h-1.5zM104.6 618.2h1.5v1.5h-1.5zM127.4 611.8h1.5v1.5h-1.5zM114.4 621.9h1.5v1.5h-1.5zM105.6 623.7h1.5v1.5h-1.5zM113.3 618.6h1.5v1.5h-1.5zM100.1 616.8h1.5v1.5h-1.5zM102.8 622.1h1.5v1.5h-1.5zM112.4 613.9h1.5v1.5h-1.5zM142.2 613.4h1.5v1.5h-1.5zM117.6 618.1h1.5v1.5h-1.5zM118.4 617.0h1.5v1.5h-1.5zM149.5 615.2h1.5v1.5h-1.5zM119.5 619.5h1.5v1.5h-1.5zM124.9 617.3h1.5v1.5h-1.5zM127.5 619.2h1.5v1.5h-1.5zM145.3 610.4h1.5v1.5h-1.5zM100.2 616.7h1.5v1.5h-1.5zM115.3 621.8h1.5v1.5h-1.5zM125.9 617.1h1.5v1.5h-1.5zM129.3 616.6h1.5v1.5h-1.5zM131.3 613.3h1.5v1.5h-1.5zM124.9 614.4h1.5v1.5h-1.5zM116.5 618.2h1.5v1.5h-1.5zM126.0 611.9h1.5v1.5h-1.5zM116.0 607.2h1.5v1.5h-1.5zM140.4 617.1h1.5v1.5h-1.5zM133.4 613.8h1.5v1.5h-1.5zM123.5 618.7h1.5v1.5h-1.5zM139.9 615.8h1.5v1.5h-1.5zM119.8 619.1h1.5v1.5h-1.5zM143.2 606.4h1.5v1.5h-1.5zM105.5 620.6h1.5v1.5h-1.5zM125.0 616.9h1.5v1.5h-1.5zM116.7 621.2h1.5v1.5h-1.5zM123.7 619.9h1.5v1.5h-1.5zM130.4 603.9h1.5v1.5h-1.5zM117.0 609.6h1.5v1.5h-1.5zM125.1 617.9h1.5v1.5h-1.5zM116.8 620.7h1.5v1.5h-1.5zM122.1 612.6h1.5v1.5h-1.5zM131.5 615.0h1.5v1.5h-1.5zM106.9 618.7h1.5v1.5h-1.5zM140.1 611.1h1.5v1.5h-1.5zM120.0 624.8h1.5v1.5h-1.5zM115.7 614.5h1.5v1.5h-1.5zM109.8 612.1h1.5v1.5h-1.5zM114.2 620.8h1.5v1.5h-1.5zM114.1 617.5h1.5v1.5h-1.5zM132.3 616.1h1.5v1.5h-1.5zM100.1 620.0h1.5v1.5h-1.5zM126.8 608.2h1.5v1.5h-1.5zM107.8 612.0h1.5v1.5h-1.5zM128.6 612.5h1.5v1.5h-1.5zM111.9 621.2h1.5v1.5h-1.5zM109.7 613.9h1.5v1.5h-1.5zM123.3 610.8h1.5v1.5h-1.5zM141.8 611.9h1.5v1.5h-1.5zM120.2 607.8h1.5v1.5h-1.5zM105.7 620.5h1.5v1.5h-1.5zM116.5 618.2h1.5v1.5h-1.5zM122.4 619.1h1.5v1.5h-1.5zM134.2 619.1h1.5v1.5h-1.5zM111.4 624.7h1.5v1.5h-1.5zM104.6 616.3h1.5v1.5h-1.5zM128.0 615.3h1.5v1.5h-1.5zM130.5 611.4h1.5v1.5h-1.5zM114.1 617.2h1.5v1.5h-1.5zM125.0 606.5h1.5v1.5h-1.5zM115.7 615.2h1.5v1.5h-1.5zM127.1 609.5h1.5v1.5h-1.5zM125.7 610.4h1.5v1.5h-1.5zM108.5 619.2h1.5v1.5h-1.5zM98.4 620.2h1.5v1.5h-1.5zM147.7 609.8h1.5v1.5h-1.5zM121.8 614.5h1.5v1.5h-1.5zM122.4 621.1h1.5v1.5h-1.5zM112.8 618.0h1.5v1.5h-1.5zM122.7 619.1h1.5v1.5h-1.5zM119.5 619.1h1.5v1.5h-1.5zM105.5 621.4h1.5v1.5h-1.5zM111.5 614.0h1.5v1.5h-1.5zM136.2 610.5h1.5v1.5h-1.5zM118.3 618.6h1.5v1.5h-1.5zM102.6 621.4h1.5v1.5h-1.5zM138.8 607.6h1.5v1.5h-1.5zM123.4 616.4h1.5v1.5h-1.5zM120.8 614.0h1.5v1.5h-1.5zM120.7 614.0h1.5v1.5h-1.5zM111.9 617.3h1.5v1.5h-1.5zM116.7 612.0h1.5v1.5h-1.5zM106.4 613.0h1.5v1.5h-1.5zM119.8 618.1h1.5v1.5h-1.5zM121.0 615.3h1.5v1.5h-1.5zM118.1 614.5h1.5v1.5h-1.5zM114.1 624.2h1.5v1.5h-1.5zM128.8 614.4h1.5v1.5h-1.5zM140.0 610.6h1.5v1.5h-1.5zM97.7 614.9h1.5v1.5h-1.5zM112.8 615.0h1.5v1.5h-1.5zM146.4 606.5h1.5v1.5h-1.5zM108.1 618.5h1.5v1.5h-1.5zM102.2 616.4h1.5v1.5h-1.5zM127.3 618.9h1.5v1.5h-1.5zM126.0 610.9h1.5v1.5h-1.5zM130.1 616.9h1.5v1.5h-1.5zM112.8 622.0h1.5v1.5h-1.5zM105.9 617.3h1.5v1.5h-1.5zM121.2 610.3h1.5v1.5h-1.5zM123.9 616.6h1.5v1.5h-1.5zM104.3 612.4h1.5v1.5h-1.5zM122.7 615.6h1.5v1.5h-1.5zM109.2 622.4h1.5v1.5h-1.5zM128.1 618.6h1.5v1.5h-1.5zM127.5 611.9h1.5v1.5h-1.5zM116.4 623.4h1.5v1.5h-1.5zM125.5 609.0h1.5v1.5h-1.5zM111.3 622.9h1.5v1.5h-1.5zM133.3 612.9h1.5v1.5h-1.5zM113.6 612.0h1.5v1.5h-1.5zM117.6 614.5h1.5v1.5h-1.5zM116.1 619.8h1.5v1.5h-1.5zM123.3 618.9h1.5v1.5h-1.5zM100.3 621.9h1.5v1.5h-1.5zM135.0 608.6h1.5v1.5h-1.5zM145.8 607.0h1.5v1.5h-1.5zM139.4 611.3h1.5v1.5h-1.5zM115.7 614.8h1.5v1.5h-1.5zM109.8 614.8h1.5v1.5h-1.5zM115.6 615.7h1.5v1.5h-1.5zM110.9 618.2h1.5v1.5h-1.5zM132.1 614.6h1.5v1.5h-1.5zM113.0 616.1h1.5v1.5h-1.5zM130.9 614.7h1.5v1.5h-1.5zM107.3 624.8h1.5v1.5h-1.5zM105.3 614.2h1.5v1.5h-1.5zM119.7 614.0h1.5v1.5h-1.5zM133.1 612.3h1.5v1.5h-1.5zM126.3 616.9h1.5v1.5h-1.5zM102.2 616.6h1.5v1.5h-1.5zM119.7 613.6h1.5v1.5h-1.5zM108.5 618.7h1.5v1.5h-1.5zM144.0 615.0h1.5v1.5h-1.5zM121.9 610.1h1.5v1.5h-1.5zM118.1 615.8h1.5v1.5h-1.5zM96.2 617.1h1.5v1.5h-1.5zM115.7 611.4h1.5v1.5h-1.5zM119.7 617.6h1.5v1.5h-1.5zM125.8 615.9h1.5v1.5h-1.5zM114.8 610.5h1.5v1.5h-1.5zM132.1 613.2h1.5v1.5h-1.5zM130.1 610.6h1.5v1.5h-1.5zM127.5 614.4h1.5v1.5h-1.5zM121.6 613.9h1.5v1.5h-1.5zM127.3 613.1h1.5v1.5h-1.5zM114.4 617.3h1.5v1.5h-1.5zM126.0 618.9h1.5v1.5h-1.5zM120.7 612.7h1.5v1.5h-1.5zM122.7 616.6h1.5v1.5h-1.5zM120.5 617.9h1.5v1.5h-1.5zM132.1 615.3h1.5v1.5h-1.5zM101.6 624.4h1.5v1.5h-1.5zM124.2 614.3h1.5v1.5h-1.5zM115.3 622.2h1.5v1.5h-1.5zM119.0 619.6h1.5v1.5h-1.5zM113.2 617.2h1.5v1.5h-1.5zM111.9 616.1h1.5v1.5h-1.5zM112.3 619.3h1.5v1.5h-1.5zM118.1 610.2h1.5v1.5h-1.5zM138.9 608.5h1.5v1.5h-1.5zM112.3 617.3h1.5v1.5h-1.5zM131.3 610.5h1.5v1.5h-1.5zM102.0 619.5h1.5v1.5h-1.5zM112.3 614.3h1.5v1.5h-1.5zM128.1 616.6h1.5v1.5h-1.5zM145.4 612.4h1.5v1.5h-1.5zM148.8 611.3h1.5v1.5h-1.5zM119.8 608.1h1.5v1.5h-1.5zM114.7 618.9h1.5v1.5h-1.5zM137.7 612.8h1.5v1.5h-1.5zM126.3 620.0h1.5v1.5h-1.5zM141.3 607.9h1.5v1.5h-1.5zM124.9 612.1h1.5v1.5h-1.5zM115.0 618.8h1.5v1.5h-1.5zM102.7 617.6h1.5v1.5h-1.5zM135.0 609.6h1.5v1.5h-1.5zM131.3 610.9h1.5v1.5h-1.5zM110.2 623.1h1.5v1.5h-1.5zM128.1 613.7h1.5v1.5h-1.5zM132.1 614.8h1.5v1.5h-1.5zM110.6 615.8h1.5v1.5h-1.5zM114.4 623.7h1.5v1.5h-1.5zM113.8 620.7h1.5v1.5h-1.5zM108.0 620.4h1.5v1.5h-1.5zM131.7 604.1h1.5v1.5h-1.5zM140.6 613.8h1.5v1.5h-1.5zM133.9 613.6h1.5v1.5h-1.5zM125.4 617.7h1.5v1.5h-1.5zM119.9 622.8h1.5v1.5h-1.5zM141.4 615.1h1.5v1.5h-1.5zM127.5 616.9h1.5v1.5h-1.5zM123.9 620.0h1.5v1.5h-1.5zM116.5 612.8h1.5v1.5h-1.5zM127.6 622.5h1.5v1.5h-1.5zM130.6 619.4h1.5v1.5h-1.5zM124.0 613.0h1.5v1.5h-1.5zM113.4 618.5h1.5v1.5h-1.5zM117.9 614.7h1.5v1.5h-1.5zM131.3 608.2h1.5v1.5h-1.5zM124.5 606.9h1.5v1.5h-1.5zM109.9 610.5h1.5v1.5h-1.5zM117.8 613.2h1.5v1.5h-1.5zM119.3 615.7h1.5v1.5h-1.5zM110.2 616.1h1.5v1.5h-1.5zM144.0 610.9h1.5v1.5h-1.5zM120.5 615.8h1.5v1.5h-1.5zM129.0 615.1h1.5v1.5h-1.5zM120.7 614.9h1.5v1.5h-1.5zM135.7 609.1h1.5v1.5h-1.5zM108.7 620.6h1.5v1.5h-1.5zM121.0 612.3h1.5v1.5h-1.5zM131.9 614.6h1.5v1.5h-1.5zM145.2 611.9h1.5v1.5h-1.5zM136.9 606.9h1.5v1.5h-1.5zM139.1 611.6h1.5v1.5h-1.5zM127.4 620.8h1.5v1.5h-1.5zM100.3 622.1h1.5v1.5h-1.5zM129.0 609.9h1.5v1.5h-1.5zM119.6 611.7h1.5v1.5h-1.5zM127.4 608.3h1.5v1.5h-1.5zM102.5 622.6h1.5v1.5h-1.5zM109.8 622.1h1.5v1.5h-1.5zM139.7 616.1h1.5v1.5h-1.5zM111.2 619.2h1.5v1.5h-1.5zM130.9 615.8h1.5v1.5h-1.5zM129.2 612.0h1.5v1.5h-1.5zM113.4 626.8h1.5v1.5h-1.5zM110.2 622.8h1.5v1.5h-1.5zM139.6 615.2h1.5v1.5h-1.5zM108.5 616.5h1.5v1.5h-1.5zM121.4 619.5h1.5v1.5h-1.5zM133.4 609.7h1.5v1.5h-1.5zM124.0 618.3h1.5v1.5h-1.5zM110.7 626.0h1.5v1.5h-1.5zM125.2 613.4h1.5v1.5h-1.5zM110.2 617.6h1.5v1.5h-1.5zM158.5 613.4h1.5v1.5h-1.5zM101.1 616.9h1.5v1.5h-1.5zM115.9 618.7h1.5v1.5h-1.5zM127.9 615.0h1.5v1.5h-1.5zM132.2 611.6h1.5v1.5h-1.5zM134.1 612.8h1.5v1.5h-1.5zM95.9 614.8h1.5v1.5h-1.5zM101.2 615.1h1.5v1.5h-1.5zM123.7 620.9h1.5v1.5h-1.5zM121.5 612.0h1.5v1.5h-1.5zM109.0 617.8h1.5v1.5h-1.5zM112.3 621.5h1.5v1.5h-1.5zM113.7 611.9h1.5v1.5h-1.5zM128.7 614.5h1.5v1.5h-1.5zM119.8 615.4h1.5v1.5h-1.5zM124.1 614.4h1.5v1.5h-1.5zM101.0 615.7h1.5v1.5h-1.5zM110.9 628.3h1.5v1.5h-1.5zM128.9 619.2h1.5v1.5h-1.5zM119.1 616.5h1.5v1.5h-1.5zM114.0 614.9h1.5v1.5h-1.5zM117.6 617.5h1.5v1.5h-1.5zM109.8 619.0h1.5v1.5h-1.5zM108.8 617.8h1.5v1.5h-1.5zM136.0 608.8h1.5v1.5h-1.5zM125.7 620.5h1.5v1.5h-1.5zM132.6 609.8h1.5v1.5h-1.5zM144.5 620.6h1.5v1.5h-1.5zM121.0 617.1h1.5v1.5h-1.5zM133.3 617.9h1.5v1.5h-1.5zM116.4 607.1h1.5v1.5h-1.5zM132.2 621.9h1.5v1.5h-1.5zM121.0 610.1h1.5v1.5h-1.5zM113.6 614.7h1.5v1.5h-1.5zM121.9 621.6h1.5v1.5h-1.5zM113.5 612.5h1.5v1.5h-1.5zM134.4 615.7h1.5v1.5h-1.5zM133.7 616.3h1.5v1.5h-1.5zM123.6 615.4h1.5v1.5h-1.5zM106.3 617.2h1.5v1.5h-1.5zM116.3 627.9h1.5v1.5h-1.5zM111.2 621.1h1.5v1.5h-1.5zM111.1 621.6h1.5v1.5h-1.5zM112.8 627.4h1.5v1.5h-1.5zM131.0 613.6h1.5v1.5h-1.5zM123.7 616.4h1.5v1.5h-1.5zM121.5 616.8h1.5v1.5h-1.5zM108.2 624.4h1.5v1.5h-1.5zM121.6 611.5h1.5v1.5h-1.5zM123.5 608.7h1.5v1.5h-1.5zM105.0 619.8h1.5v1.5h-1.5zM113.6 612.1h1.5v1.5h-1.5zM140.3 614.3h1.5v1.5h-1.5zM129.2 615.3h1.5v1.5h-1.5zM109.2 618.4h1.5v1.5h-1.5zM108.7 611.7h1.5v1.5h-1.5zM127.6 609.7h1.5v1.5h-1.5zM124.9 625.1h1.5v1.5h-1.5zM130.0 613.7h1.5v1.5h-1.5zM93.2 620.5h1.5v1.5h-1.5zM132.4 606.6h1.5v1.5h-1.5zM109.0 614.8h1.5v1.5h-1.5zM124.6 615.8h1.5v1.5h-1.5zM117.5 614.3h1.5v1.5h-1.5zM127.4 611.9h1.5v1.5h-1.5zM116.1 622.1h1.5v1.5h-1.5zM136.0 607.7h1.5v1.5h-1.5zM114.2 617.2h1.5v1.5h-1.5zM130.1 621.4h1.5v1.5h-1.5zM126.5 604.8h1.5v1.5h-1.5zM123.9 618.2h1.5v1.5h-1.5zM144.4 611.4h1.5v1.5h-1.5zM123.2 617.1h1.5v1.5h-1.5zM122.8 622.9h1.5v1.5h-1.5zM106.0 624.7h1.5v1.5h-1.5zM131.2 614.3h1.5v1.5h-1.5zM134.1 621.8h1.5v1.5h-1.5zM113.8 611.1h1.5v1.5h-1.5zM111.6 625.2h1.5v1.5h-1.5zM112.2 618.9h1.5v1.5h-1.5zM120.6 610.5h1.5v1.5h-1.5zM136.1 606.6h1.5v1.5h-1.5zM127.5 616.7h1.5v1.5h-1.5zM115.0 623.0h1.5v1.5h-1.5zM135.5 607.9h1.5v1.5h-1.5zM121.8 619.3h1.5v1.5h-1.5zM128.6 612.4h1.5v1.5h-1.5zM122.5 620.3h1.5v1.5h-1.5zM123.5 617.7h1.5v1.5h-1.5zM129.3 611.8h1.5v1.5h-1.5zM125.8 616.7h1.5v1.5h-1.5zM138.3 609.4h1.5v1.5h-1.5zM135.4 609.7h1.5v1.5h-1.5zM128.4 612.8h1.5v1.5h-1.5zM108.4 625.6h1.5v1.5h-1.5zM110.0 615.3h1.5v1.5h-1.5zM131.3 613.1h1.5v1.5h-1.5zM121.8 608.1h1.5v1.5h-1.5zM116.2 624.1h1.5v1.5h-1.5zM102.9 620.5h1.5v1.5h-1.5zM128.8 611.3h1.5v1.5h-1.5zM118.2 612.9h1.5v1.5h-1.5zM120.2 618.9h1.5v1.5h-1.5zM116.4 613.5h1.5v1.5h-1.5zM131.8 618.5h1.5v1.5h-1.5zM109.4 617.4h1.5v1.5h-1.5zM145.3 616.1h1.5v1.5h-1.5zM106.3 616.8h1.5v1.5h-1.5zM126.6 617.3h1.5v1.5h-1.5zM120.5 613.9h1.5v1.5h-1.5zM100.7 619.7h1.5v1.5h-1.5zM127.7 610.7h1.5v1.5h-1.5zM134.2 613.7h1.5v1.5h-1.5zM104.2 613.4h1.5v1.5h-1.5zM129.6 616.8h1.5v1.5h-1.5zM132.7 609.3h1.5v1.5h-1.5zM119.2 625.9h1.5v1.5h-1.5zM115.4 620.0h1.5v1.5h-1.5zM111.1 618.0h1.5v1.5h-1.5zM108.3 616.5h1.5v1.5h-1.5zM142.5 616.7h1.5v1.5h-1.5zM132.7 615.8h1.5v1.5h-1.5zM127.0 615.2h1.5v1.5h-1.5zM135.5 616.1h1.5v1.5h-1.5zM129.2 617.5h1.5v1.5h-1.5zM123.4 615.4h1.5v1.5h-1.5zM133.3 620.1h1.5v1.5h-1.5zM105.2 613.0h1.5v1.5h-1.5zM125.2 608.0h1.5v1.5h-1.5zM108.9 617.2h1.5v1.5h-1.5zM127.7 607.3h1.5v1.5h-1.5zM120.2 617.8h1.5v1.5h-1.5zM129.0 614.7h1.5v1.5h-1.5zM112.2 614.3h1.5v1.5h-1.5zM98.9 624.1h1.5v1.5h-1.5zM136.4 615.0h1.5v1.5h-1.5zM117.0 615.0h1.5v1.5h-1.5zM133.7 611.3h1.5v1.5h-1.5zM109.7 620.2h1.5v1.5h-1.5zM132.8 614.1h1.5v1.5h-1.5zM113.5 613.6h1.5v1.5h-1.5zM133.9 604.4h1.5v1.5h-1.5zM108.4 621.1h1.5v1.5h-1.5zM112.8 615.9h1.5v1.5h-1.5zM115.3 612.2h1.5v1.5h-1.5zM89.9 617.6h1.5v1.5h-1.5zM113.4 618.4h1.5v1.5h-1.5zM127.3 613.8h1.5v1.5h-1.5zM109.1 611.8h1.5v1.5h-1.5zM127.4 616.7h1.5v1.5h-1.5zM123.2 620.0h1.5v1.5h-1.5zM106.7 619.7h1.5v1.5h-1.5zM125.0 614.7h1.5v1.5h-1.5zM111.9 623.2h1.5v1.5h-1.5zM101.5 612.8h1.5v1.5h-1.5zM125.0 618.4h1.5v1.5h-1.5zM134.4 611.1h1.5v1.5h-1.5zM116.0 619.3h1.5v1.5h-1.5zM133.8 612.1h1.5v1.5h-1.5zM139.5 610.9h1.5v1.5h-1.5zM114.1 619.6h1.5v1.5h-1.5zM112.7 616.3h1.5v1.5h-1.5zM123.7 612.8h1.5v1.5h-1.5zM125.9 619.2h1.5v1.5h-1.5zM118.4 620.2h1.5v1.5h-1.5zM126.3 620.3h1.5v1.5h-1.5zM114.1 620.6h1.5v1.5h-1.5zM113.7 618.2h1.5v1.5h-1.5zM138.1 613.7h1.5v1.5h-1.5zM104.4 620.1h1.5v1.5h-1.5zM129.3 612.0h1.5v1.5h-1.5zM123.5 607.1h1.5v1.5h-1.5zM133.5 613.1h1.5v1.5h-1.5zM134.7 618.8h1.5v1.5h-1.5zM118.8 619.8h1.5v1.5h-1.5zM122.8 608.8h1.5v1.5h-1.5zM115.1 610.3h1.5v1.5h-1.5zM109.1 612.1h1.5v1.5h-1.5zM101.4 622.9h1.5v1.5h-1.5zM132.2 614.1h1.5v1.5h-1.5zM122.4 615.6h1.5v1.5h-1.5zM122.8 616.2h1.5v1.5h-1.5zM109.6 619.1h1.5v1.5h-1.5zM122.0 619.3h1.5v1.5h-1.5zM126.1 607.6h1.5v1.5h-1.5zM102.0 621.6h1.5v1.5h-1.5zM117.6 616.4h1.5v1.5h-1.5zM121.9 618.6h1.5v1.5h-1.5zM120.4 615.9h1.5v1.5h-1.5zM119.8 609.7h1.5v1.5h-1.5zM122.2 621.7h1.5v1.5h-1.5zM102.9 616.7h1.5v1.5h-1.5zM116.9 619.1h1.5v1.5h-1.5zM105.3 620.0h1.5v1.5h-1.5zM119.7 618.9h1.5v1.5h-1.5zM116.8 612.9h1.5v1.5h-1.5zM129.7 611.9h1.5v1.5h-1.5zM118.8 621.8h1.5v1.5h-1.5zM129.6 608.0h1.5v1.5h-1.5zM135.3 608.3h1.5v1.5h-1.5zM123.9 613.7h1.5v1.5h-1.5zM120.6 610.7h1.5v1.5h-1.5zM117.7 607.5h1.5v1.5h-1.5zM129.6 615.5h1.5v1.5h-1.5zM120.8 622.5h1.5v1.5h-1.5zM112.4 618.6h1.5v1.5h-1.5zM148.7 614.0h1.5v1.5h-1.5zM131.2 613.6h1.5v1.5h-1.5zM117.4 613.9h1.5v1.5h-1.5zM98.0 616.1h1.5v1.5h-1.5zM142.8 610.5h1.5v1.5h-1.5zM120.1 615.3h1.5v1.5h-1.5zM128.3 616.5h1.5v1.5h-1.5zM122.1 613.5h1.5v1.5h-1.5zM116.8 615.0h1.5v1.5h-1.5zM124.6 612.2h1.5v1.5h-1.5zM109.5 620.1h1.5v1.5h-1.5zM115.9 611.8h1.5v1.5h-1.5zM123.6 622.2h1.5v1.5h-1.5zM106.2 610.5h1.5v1.5h-1.5zM124.6 620.5h1.5v1.5h-1.5zM110.4 617.2h1.5v1.5h-1.5zM137.0 606.1h1.5v1.5h-1.5zM116.6 617.9h1.5v1.5h-1.5zM142.6 615.9h1.5v1.5h-1.5zM138.6 611.1h1.5v1.5h-1.5zM121.8 610.3h1.5v1.5h-1.5zM126.3 618.3h1.5v1.5h-1.5zM103.4 619.0h1.5v1.5h-1.5zM126.6 609.1h1.5v1.5h-1.5zM91.0 615.8h1.5v1.5h-1.5zM127.8 608.3h1.5v1.5h-1.5zM129.8 613.3h1.5v1.5h-1.5zM125.7 613.3h1.5v1.5h-1.5zM113.6 617.6h1.5v1.5h-1.5zM122.2 617.4h1.5v1.5h-1.5zM104.1 624.9h1.5v1.5h-1.5zM126.5 612.6h1.5v1.5h-1.5zM122.0 620.5h1.5v1.5h-1.5zM130.5 615.7h1.5v1.5h-1.5zM97.1 613.7h1.5v1.5h-1.5zM103.8 609.7h1.5v1.5h-1.5zM126.8 616.5h1.5v1.5h-1.5zM94.0 623.7h1.5v1.5h-1.5zM137.7 607.1h1.5v1.5h-1.5zM123.7 622.4h1.5v1.5h-1.5zM116.4 617.8h1.5v1.5h-1.5zM126.0 615.4h1.5v1.5h-1.5zM124.7 621.9h1.5v1.5h-1.5zM113.4 611.2h1.5v1.5h-1.5zM104.2 615.1h1.5v1.5h-1.5zM147.1 608.3h1.5v1.5h-1.5zM104.9 613.6h1.5v1.5h-1.5zM99.6 618.4h1.5v1.5h-1.5zM116.1 611.6h1.5v1.5h-1.5zM134.2 612.6h1.5v1.5h-1.5zM141.2 608.0h1.5v1.5h-1.5zM115.3 620.9h1.5v1.5h-1.5zM148.8 612.3h1.5v1.5h-1.5zM125.5 615.5h1.5v1.5h-1.5zM115.4 623.5h1.5v1.5h-1.5zM119.1 616.6h1.5v1.5h-1.5zM132.0 615.9h1.5v1.5h-1.5zM102.9 623.6h1.5v1.5h-1.5zM120.3 614.9h1.5v1.5h-1.5zM129.0 615.9h1.5v1.5h-1.5zM126.9 614.1h1.5v1.5h-1.5zM140.0 612.5h1.5v1.5h-1.5zM122.4 613.2h1.5v1.5h-1.5zM134.7 617.1h1.5v1.5h-1.5zM115.4 618.0h1.5v1.5h-1.5zM96.5 614.9h1.5v1.5h-1.5zM133.0 613.5h1.5v1.5h-1.5zM159.1 603.5h1.5v1.5h-1.5zM143.8 605.1h1.5v1.5h-1.5zM131.1 619.8h1.5v1.5h-1.5zM138.2 610.9h1.5v1.5h-1.5zM107.1 618.2h1.5v1.5h-1.5zM129.4 610.2h1.5v1.5h-1.5zM122.8 617.6h1.5v1.5h-1.5zM129.5 617.4h1.5v1.5h-1.5zM119.9 612.8h1.5v1.5h-1.5zM104.3 617.3h1.5v1.5h-1.5zM98.4 623.8h1.5v1.5h-1.5zM106.7 618.8h1.5v1.5h-1.5zM128.9 614.5h1.5v1.5h-1.5zM131.2 613.5h1.5v1.5h-1.5zM118.4 614.2h1.5v1.5h-1.5zM118.0 615.8h1.5v1.5h-1.5zM132.6 616.0h1.5v1.5h-1.5zM133.9 618.0h1.5v1.5h-1.5zM118.3 623.5h1.5v1.5h-1.5zM114.7 610.4h1.5v1.5h-1.5zM124.8 609.8h1.5v1.5h-1.5zM104.0 623.2h1.5v1.5h-1.5zM126.1 611.4h1.5v1.5h-1.5zM130.3 621.0h1.5v1.5h-1.5zM126.6 615.1h1.5v1.5h-1.5zM122.1 613.6h1.5v1.5h-1.5zM117.6 623.5h1.5v1.5h-1.5zM108.6 624.1h1.5v1.5h-1.5zM105.7 619.2h1.5v1.5h-1.5zM135.7 616.1h1.5v1.5h-1.5zM112.0 622.2h1.5v1.5h-1.5zM101.0 619.2h1.5v1.5h-1.5zM115.2 617.9h1.5v1.5h-1.5zM109.8 615.9h1.5v1.5h-1.5zM107.0 616.1h1.5v1.5h-1.5zM113.2 614.0h1.5v1.5h-1.5zM110.6 615.9h1.5v1.5h-1.5zM125.8 615.2h1.5v1.5h-1.5zM139.4 611.7h1.5v1.5h-1.5zM110.6 614.8h1.5v1.5h-1.5zM111.4 619.8h1.5v1.5h-1.5zM120.9 615.1h1.5v1.5h-1.5zM140.2 619.5h1.5v1.5h-1.5zM117.8 611.7h1.5v1.5h-1.5zM118.9 614.8h1.5v1.5h-1.5zM138.2 617.7h1.5v1.5h-1.5zM121.3 612.5h1.5v1.5h-1.5zM114.1 624.4h1.5v1.5h-1.5zM109.3 617.2h1.5v1.5h-1.5zM122.9 607.8h1.5v1.5h-1.5zM135.9 619.5h1.5v1.5h-1.5zM132.6 609.8h1.5v1.5h-1.5zM139.3 613.1h1.5v1.5h-1.5zM114.4 616.4h1.5v1.5h-1.5zM138.5 610.0h1.5v1.5h-1.5zM140.2 609.0h1.5v1.5h-1.5zM114.0 621.3h1.5v1.5h-1.5zM141.9 618.2h1.5v1.5h-1.5zM116.8 617.9h1.5v1.5h-1.5zM110.3 620.2h1.5v1.5h-1.5zM120.8 605.9h1.5v1.5h-1.5zM120.0 618.2h1.5v1.5h-1.5zM122.2 611.7h1.5v1.5h-1.5zM111.4 619.3h1.5v1.5h-1.5zM100.8 616.6h1.5v1.5h-1.5zM128.6 608.1h1.5v1.5h-1.5zM107.1 609.3h1.5v1.5h-1.5zM130.7 615.1h1.5v1.5h-1.5zM116.3 618.0h1.5v1.5h-1.5zM106.9 615.2h1.5v1.5h-1.5zM113.8 620.2h1.5v1.5h-1.5zM126.7 614.3h1.5v1.5h-1.5zM114.1 618.1h1.5v1.5h-1.5zM115.1 611.3h1.5v1.5h-1.5zM132.2 616.8h1.5v1.5h-1.5zM120.3 610.2h1.5v1.5h-1.5zM117.5 609.0h1.5v1.5h-1.5zM125.9 612.1h1.5v1.5h-1.5zM97.0 616.7h1.5v1.5h-1.5zM124.7 612.7h1.5v1.5h-1.5zM126.3 612.6h1.5v1.5h-1.5zM114.9 613.2h1.5v1.5h-1.5zM121.5 620.1h1.5v1.5h-1.5zM109.1 617.3h1.5v1.5h-1.5zM124.6 624.4h1.5v1.5h-1.5zM97.1 615.8h1.5v1.5h-1.5zM120.6 604.0h1.5v1.5h-1.5zM103.2 620.1h1.5v1.5h-1.5zM113.9 614.8h1.5v1.5h-1.5zM136.9 606.1h1.5v1.5h-1.5zM109.2 612.8h1.5v1.5h-1.5zM106.8 617.1h1.5v1.5h-1.5zM122.7 612.9h1.5v1.5h-1.5zM111.6 612.0h1.5v1.5h-1.5zM120.0 616.1h1.5v1.5h-1.5zM117.7 620.9h1.5v1.5h-1.5zM129.0 612.9h1.5v1.5h-1.5zM126.0 607.1h1.5v1.5h-1.5zM110.8 618.9h1.5v1.5h-1.5zM120.8 612.3h1.5v1.5h-1.5zM118.7 612.3h1.5v1.5h-1.5zM126.0 622.2h1.5v1.5h-1.5zM112.9 625.8h1.5v1.5h-1.5zM117.5 618.2h1.5v1.5h-1.5zM127.5 613.9h1.5v1.5h-1.5zM120.0 610.7h1.5v1.5h-1.5zM127.6 619.7h1.5v1.5h-1.5zM112.9 615.9h1.5v1.5h-1.5zM140.3 613.1h1.5v1.5h-1.5zM118.8 615.1h1.5v1.5h-1.5zM129.7 614.6h1.5v1.5h-1.5zM124.1 617.0h1.5v1.5h-1.5zM114.5 620.3h1.5v1.5h-1.5zM128.3 616.8h1.5v1.5h-1.5zM127.1 613.0h1.5v1.5h-1.5zM131.9 625.0h1.5v1.5h-1.5zM109.7 623.0h1.5v1.5h-1.5zM118.9 612.8h1.5v1.5h-1.5zM149.8 604.0h1.5v1.5h-1.5zM136.3 611.4h1.5v1.5h-1.5zM116.3 614.4h1.5v1.5h-1.5zM95.8 616.6h1.5v1.5h-1.5zM120.9 613.2h1.5v1.5h-1.5zM109.0 622.6h1.5v1.5h-1.5zM113.4 617.4h1.5v1.5h-1.5zM124.8 616.6h1.5v1.5h-1.5zM124.8 612.3h1.5v1.5h-1.5zM107.5 618.7h1.5v1.5h-1.5zM102.9 621.5h1.5v1.5h-1.5zM131.1 616.9h1.5v1.5h-1.5zM142.1 609.8h1.5v1.5h-1.5zM131.0 613.5h1.5v1.5h-1.5zM130.7 609.4h1.5v1.5h-1.5zM122.0 617.8h1.5v1.5h-1.5zM114.5 608.9h1.5v1.5h-1.5zM118.7 618.2h1.5v1.5h-1.5zM112.6 624.4h1.5v1.5h-1.5zM115.0 615.5h1.5v1.5h-1.5zM115.2 620.1h1.5v1.5h-1.5zM125.5 613.1h1.5v1.5h-1.5zM115.8 615.5h1.5v1.5h-1.5zM109.6 614.3h1.5v1.5h-1.5zM109.5 619.4h1.5v1.5h-1.5zM122.3 617.3h1.5v1.5h-1.5zM107.6 609.5h1.5v1.5h-1.5zM138.2 619.9h1.5v1.5h-1.5zM122.2 620.9h1.5v1.5h-1.5zM124.3 620.7h1.5v1.5h-1.5zM127.4 612.4h1.5v1.5h-1.5zM140.4 607.2h1.5v1.5h-1.5zM115.5 612.9h1.5v1.5h-1.5zM115.5 617.3h1.5v1.5h-1.5zM115.0 624.3h1.5v1.5h-1.5zM127.7 623.1h1.5v1.5h-1.5zM118.1 614.1h1.5v1.5h-1.5zM122.1 622.2h1.5v1.5h-1.5zM113.3 614.4h1.5v1.5h-1.5zM133.4 606.8h1.5v1.5h-1.5zM99.9 617.8h1.5v1.5h-1.5zM115.2 613.7h1.5v1.5h-1.5zM101.4 620.0h1.5v1.5h-1.5zM128.9 617.1h1.5v1.5h-1.5zM116.6 620.7h1.5v1.5h-1.5zM133.5 619.1h1.5v1.5h-1.5zM110.3 619.2h1.5v1.5h-1.5zM117.1 607.6h1.5v1.5h-1.5zM123.9 618.8h1.5v1.5h-1.5zM127.4 613.2h1.5v1.5h-1.5zM124.0 615.5h1.5v1.5h-1.5zM126.1 619.8h1.5v1.5h-1.5zM107.0 620.2h1.5v1.5h-1.5zM108.1 615.3h1.5v1.5h-1.5zM143.0 606.5h1.5v1.5h-1.5zM125.9 613.5h1.5v1.5h-1.5zM112.9 622.8h1.5v1.5h-1.5zM127.1 620.9h1.5v1.5h-1.5zM124.2 615.8h1.5v1.5h-1.5zM129.4 614.0h1.5v1.5h-1.5zM122.0 618.1h1.5v1.5h-1.5zM101.0 621.0h1.5v1.5h-1.5zM128.7 610.0h1.5v1.5h-1.5zM136.6 617.1h1.5v1.5h-1.5zM110.0 614.9h1.5v1.5h-1.5zM115.6 606.0h1.5v1.5h-1.5zM124.4 621.6h1.5v1.5h-1.5zM114.4 610.4h1.5v1.5h-1.5zM99.8 619.1h1.5v1.5h-1.5zM104.9 612.1h1.5v1.5h-1.5zM115.6 621.1h1.5v1.5h-1.5zM101.2 622.5h1.5v1.5h-1.5zM91.4 623.3h1.5v1.5h-1.5zM145.8 610.8h1.5v1.5h-1.5zM117.7 621.3h1.5v1.5h-1.5zM124.7 617.1h1.5v1.5h-1.5zM111.0 611.8h1.5v1.5h-1.5zM125.8 618.6h1.5v1.5h-1.5zM137.7 612.9h1.5v1.5h-1.5zM126.5 614.2h1.5v1.5h-1.5zM134.3 610.8h1.5v1.5h-1.5zM116.8 613.6h1.5v1.5h-1.5zM116.3 616.1h1.5v1.5h-1.5zM139.6 616.8h1.5v1.5h-1.5zM108.9 619.7h1.5v1.5h-1.5zM115.0 611.4h1.5v1.5h-1.5zM102.5 609.6h1.5v1.5h-1.5zM139.0 614.4h1.5v1.5h-1.5zM122.9 617.0h1.5v1.5h-1.5zM128.5 611.6h1.5v1.5h-1.5zM129.4 611.0h1.5v1.5h-1.5zM142.9 612.5h1.5v1.5h-1.5zM128.8 615.1h1.5v1.5h-1.5zM121.2 614.8h1.5v1.5h-1.5zM120.2 614.5h1.5v1.5h-1.5zM111.0 618.3h1.5v1.5h-1.5zM113.8 622.0h1.5v1.5h-1.5zM112.6 619.4h1.5v1.5h-1.5zM119.1 622.7h1.5v1.5h-1.5zM117.8 621.1h1.5v1.5h-1.5zM111.4 616.8h1.5v1.5h-1.5zM133.5 612.3h1.5v1.5h-1.5zM115.1 618.7h1.5v1.5h-1.5zM136.1 619.8h1.5v1.5h-1.5zM133.9 619.7h1.5v1.5h-1.5zM113.5 617.0h1.5v1.5h-1.5zM118.2 609.3h1.5v1.5h-1.5zM126.4 615.0h1.5v1.5h-1.5zM131.7 613.7h1.5v1.5h-1.5zM111.5 612.8h1.5v1.5h-1.5zM138.0 607.3h1.5v1.5h-1.5zM107.3 610.3h1.5v1.5h-1.5zM116.0 613.5h1.5v1.5h-1.5zM134.5 603.3h1.5v1.5h-1.5zM102.2 623.6h1.5v1.5h-1.5zM134.3 611.3h1.5v1.5h-1.5zM117.2 628.8h1.5v1.5h-1.5zM125.8 615.7h1.5v1.5h-1.5zM90.7 610.1h1.5v1.5h-1.5zM92.0 623.5h1.5v1.5h-1.5zM120.7 614.9h1.5v1.5h-1.5zM129.4 615.4h1.5v1.5h-1.5zM110.5 619.3h1.5v1.5h-1.5zM96.6 625.0h1.5v1.5h-1.5zM143.5 614.5h1.5v1.5h-1.5zM119.8 608.0h1.5v1.5h-1.5zM132.9 613.1h1.5v1.5h-1.5zM129.2 615.4h1.5v1.5h-1.5zM110.3 613.6h1.5v1.5h-1.5zM122.3 608.8h1.5v1.5h-1.5zM117.7 618.0h1.5v1.5h-1.5zM124.7 615.9h1.5v1.5h-1.5zM117.2 620.3h1.5v1.5h-1.5zM123.7 613.9h1.5v1.5h-1.5zM141.8 612.1h1.5v1.5h-1.5zM100.6 617.6h1.5v1.5h-1.5zM147.1 612.8h1.5v1.5h-1.5zM111.5 618.3h1.5v1.5h-1.5zM87.9 623.4h1.5v1.5h-1.5zM118.6 622.6h1.5v1.5h-1.5zM127.4 618.3h1.5v1.5h-1.5zM99.5 622.8h1.5v1.5h-1.5zM128.1 606.4h1.5v1.5h-1.5zM135.2 612.4h1.5v1.5h-1.5zM114.9 618.0h1.5v1.5h-1.5zM131.9 616.0h1.5v1.5h-1.5zM125.6 610.9h1.5v1.5h-1.5zM110.3 620.3h1.5v1.5h-1.5zM125.9 614.9h1.5v1.5h-1.5zM119.3 618.3h1.5v1.5h-1.5zM120.0 608.2h1.5v1.5h-1.5zM136.4 619.8h1.5v1.5h-1.5zM121.3 615.4h1.5v1.5h-1.5zM121.2 621.6h1.5v1.5h-1.5zM119.3 615.5h1.5v1.5h-1.5zM112.9 616.0h1.5v1.5h-1.5zM92.7 627.4h1.5v1.5h-1.5zM121.9 614.0h1.5v1.5h-1.5zM118.8 618.1h1.5v1.5h-1.5zM122.9 610.9h1.5v1.5h-1.5zM131.1 614.3h1.5v1.5h-1.5zM115.4 612.4h1.5v1.5h-1.5zM127.0 611.0h1.5v1.5h-1.5zM117.6 620.1h1.5v1.5h-1.5zM122.9 618.1h1.5v1.5h-1.5zM134.0 609.8h1.5v1.5h-1.5zM95.6 617.7h1.5v1.5h-1.5zM136.1 608.6h1.5v1.5h-1.5zM115.3 620.5h1.5v1.5h-1.5zM131.9 609.5h1.5v1.5h-1.5zM121.5 620.6h1.5v1.5h-1.5zM103.2 618.0h1.5v1.5h-1.5zM111.2 620.5h1.5v1.5h-1.5zM125.9 610.5h1.5v1.5h-1.5zM97.0 623.1h1.5v1.5h-1.5zM135.7 613.3h1.5v1.5h-1.5zM116.8 613.9h1.5v1.5h-1.5zM107.6 623.4h1.5v1.5h-1.5zM121.0 609.2h1.5v1.5h-1.5zM132.5 613.7h1.5v1.5h-1.5zM132.4 615.4h1.5v1.5h-1.5zM107.2 625.4h1.5v1.5h-1.5zM123.9 611.5h1.5v1.5h-1.5zM125.1 615.2h1.5v1.5h-1.5zM116.1 612.1h1.5v1.5h-1.5zM120.2 622.0h1.5v1.5h-1.5zM136.6 615.7h1.5v1.5h-1.5zM125.3 615.0h1.5v1.5h-1.5zM132.9 612.6h1.5v1.5h-1.5zM134.9 612.3h1.5v1.5h-1.5zM115.5 619.0h1.5v1.5h-1.5zM128.3 618.0h1.5v1.5h-1.5zM131.5 614.9h1.5v1.5h-1.5zM110.1 621.5h1.5v1.5h-1.5zM119.1 608.7h1.5v1.5h-1.5zM129.7 614.1h1.5v1.5h-1.5zM110.3 609.7h1.5v1.5h-1.5zM117.6 616.4h1.5v1.5h-1.5zM115.9 611.1h1.5v1.5h-1.5zM122.8 617.4h1.5v1.5h-1.5zM122.9 619.7h1.5v1.5h-1.5zM108.6 618.8h1.5v1.5h-1.5zM87.6 617.0h1.5v1.5h-1.5zM143.7 616.3h1.5v1.5h-1.5zM119.1 622.8h1.5v1.5h-1.5zM122.7 614.6h1.5v1.5h-1.5zM129.3 619.9h1.5v1.5h-1.5zM113.8 619.9h1.5v1.5h-1.5zM117.9 606.7h1.5v1.5h-1.5zM118.5 616.4h1.5v1.5h-1.5zM114.9 613.6h1.5v1.5h-1.5zM150.3 605.5h1.5v1.5h-1.5zM138.4 617.1h1.5v1.5h-1.5zM133.0 613.5h1.5v1.5h-1.5zM135.2 608.7h1.5v1.5h-1.5zM128.3 621.5h1.5v1.5h-1.5zM122.3 617.7h1.5v1.5h-1.5zM125.9 614.7h1.5v1.5h-1.5zM132.9 620.4h1.5v1.5h-1.5zM112.2 617.8h1.5v1.5h-1.5zM124.5 616.9h1.5v1.5h-1.5zM120.4 615.7h1.5v1.5h-1.5zM132.9 614.1h1.5v1.5h-1.5zM123.6 623.0h1.5v1.5h-1.5zM90.6 627.6h1.5v1.5h-1.5zM124.9 624.8h1.5v1.5h-1.5zM125.5 615.4h1.5v1.5h-1.5zM120.8 618.9h1.5v1.5h-1.5zM115.9 613.2h1.5v1.5h-1.5zM124.9 615.2h1.5v1.5h-1.5zM115.1 616.0h1.5v1.5h-1.5zM134.5 613.4h1.5v1.5h-1.5zM116.5 621.6h1.5v1.5h-1.5zM121.9 619.5h1.5v1.5h-1.5zM104.2 615.2h1.5v1.5h-1.5zM113.6 625.8h1.5v1.5h-1.5zM112.5 609.6h1.5v1.5h-1.5zM119.5 621.7h1.5v1.5h-1.5zM108.0 615.2h1.5v1.5h-1.5zM125.5 614.1h1.5v1.5h-1.5zM118.5 614.2h1.5v1.5h-1.5zM138.5 610.5h1.5v1.5h-1.5zM118.9 622.1h1.5v1.5h-1.5zM125.9 608.3h1.5v1.5h-1.5zM128.2 619.8h1.5v1.5h-1.5zM122.9 609.9h1.5v1.5h-1.5zM113.4 615.1h1.5v1.5h-1.5zM134.7 606.3h1.5v1.5h-1.5zM102.4 626.7h1.5v1.5h-1.5zM125.1 612.1h1.5v1.5h-1.5zM116.7 616.7h1.5v1.5h-1.5zM116.0 611.6h1.5v1.5h-1.5zM95.2 619.5h1.5v1.5h-1.5zM106.0 621.5h1.5v1.5h-1.5zM103.0 623.0h1.5v1.5h-1.5zM120.5 615.8h1.5v1.5h-1.5zM141.4 613.0h1.5v1.5h-1.5zM124.8 613.6h1.5v1.5h-1.5zM123.7 609.1h1.5v1.5h-1.5zM122.4 614.9h1.5v1.5h-1.5zM119.5 616.1h1.5v1.5h-1.5zM120.1 611.7h1.5v1.5h-1.5zM121.0 615.5h1.5v1.5h-1.5zM120.2 612.7h1.5v1.5h-1.5zM115.3 612.9h1.5v1.5h-1.5zM114.1 614.1h1.5v1.5h-1.5zM143.0 610.7h1.5v1.5h-1.5zM119.8 621.1h1.5v1.5h-1.5zM129.3 614.2h1.5v1.5h-1.5zM131.3 616.7h1.5v1.5h-1.5zM126.8 607.1h1.5v1.5h-1.5zM125.4 616.4h1.5v1.5h-1.5zM105.7 618.7h1.5v1.5h-1.5zM128.4 611.9h1.5v1.5h-1.5zM107.8 622.6h1.5v1.5h-1.5zM109.5 622.3h1.5v1.5h-1.5zM117.6 615.3h1.5v1.5h-1.5zM143.0 610.9h1.5v1.5h-1.5zM137.6 619.8h1.5v1.5h-1.5zM138.6 609.1h1.5v1.5h-1.5zM125.9 611.4h1.5v1.5h-1.5zM127.9 606.4h1.5v1.5h-1.5zM130.1 621.5h1.5v1.5h-1.5zM100.5 612.7h1.5v1.5h-1.5zM119.8 610.4h1.5v1.5h-1.5zM116.8 619.4h1.5v1.5h-1.5zM116.8 615.2h1.5v1.5h-1.5zM122.9 618.1h1.5v1.5h-1.5zM127.0 612.1h1.5v1.5h-1.5zM110.1 622.6h1.5v1.5h-1.5zM98.0 621.4h1.5v1.5h-1.5zM120.9 618.8h1.5v1.5h-1.5zM113.8 617.7h1.5v1.5h-1.5zM121.1 613.4h1.5v1.5h-1.5zM130.4 612.2h1.5v1.5h-1.5zM133.7 617.6h1.5v1.5h-1.5zM127.8 613.0h1.5v1.5h-1.5zM108.7 621.0h1.5v1.5h-1.5zM125.9 614.6h1.5v1.5h-1.5zM106.2 620.9h1.5v1.5h-1.5zM138.5 609.0h1.5v1.5h-1.5zM121.7 609.9h1.5v1.5h-1.5zM110.2 618.5h1.5v1.5h-1.5zM131.9 615.2h1.5v1.5h-1.5zM107.8 615.8h1.5v1.5h-1.5zM139.3 623.2h1.5v1.5h-1.5zM122.6 620.8h1.5v1.5h-1.5zM117.3 622.5h1.5v1.5h-1.5zM150.9 613.2h1.5v1.5h-1.5zM121.3 618.8h1.5v1.5h-1.5zM109.3 619.9h1.5v1.5h-1.5zM123.2 607.9h1.5v1.5h-1.5zM124.1 608.6h1.5v1.5h-1.5zM108.4 617.8h1.5v1.5h-1.5zM115.7 623.5h1.5v1.5h-1.5zM164.0 608.9h1.5v1.5h-1.5zM123.6 618.5h1.5v1.5h-1.5zM114.1 621.5h1.5v1.5h-1.5zM132.7 615.4h1.5v1.5h-1.5zM119.1 615.4h1.5v1.5h-1.5zM106.5 617.5h1.5v1.5h-1.5zM118.8 614.3h1.5v1.5h-1.5zM116.3 616.5h1.5v1.5h-1.5zM126.8 610.6h1.5v1.5h-1.5zM112.8 613.2h1.5v1.5h-1.5zM109.3 618.8h1.5v1.5h-1.5zM122.3 615.0h1.5v1.5h-1.5zM91.8 625.4h1.5v1.5h-1.5zM118.6 612.3h1.5v1.5h-1.5zM112.6 610.9h1.5v1.5h-1.5zM99.8 619.4h1.5v1.5h-1.5zM127.0 614.6h1.5v1.5h-1.5zM123.8 611.3h1.5v1.5h-1.5zM111.4 615.1h1.5v1.5h-1.5zM133.1 614.6h1.5v1.5h-1.5zM93.9 625.9h1.5v1.5h-1.5zM110.9 622.2h1.5v1.5h-1.5zM125.8 618.4h1.5v1.5h-1.5zM149.5 608.1h1.5v1.5h-1.5zM105.6 619.9h1.5v1.5h-1.5zM138.5 609.7h1.5v1.5h-1.5zM108.9 613.6h1.5v1.5h-1.5zM115.3 607.4h1.5v1.5h-1.5zM114.4 614.5h1.5v1.5h-1.5zM127.3 616.5h1.5v1.5h-1.5zM119.0 611.2h1.5v1.5h-1.5zM126.5 615.0h1.5v1.5h-1.5zM125.9 607.4h1.5v1.5h-1.5zM131.6 611.8h1.5v1.5h-1.5zM124.6 621.8h1.5v1.5h-1.5zM122.3 617.6h1.5v1.5h-1.5zM129.3 616.9h1.5v1.5h-1.5zM126.0 619.4h1.5v1.5h-1.5zM131.1 617.0h1.5v1.5h-1.5zM120.4 613.4h1.5v1.5h-1.5zM117.0 616.5h1.5v1.5h-1.5zM133.1 606.0h1.5v1.5h-1.5zM99.8 623.6h1.5v1.5h-1.5zM128.6 610.4h1.5v1.5h-1.5zM115.3 616.5h1.5v1.5h-1.5zM118.5 606.6h1.5v1.5h-1.5zM118.4 621.4h1.5v1.5h-1.5zM102.7 624.6h1.5v1.5h-1.5zM135.9 614.7h1.5v1.5h-1.5zM143.4 608.9h1.5v1.5h-1.5zM125.2 612.3h1.5v1.5h-1.5zM129.9 610.2h1.5v1.5h-1.5zM109.4 620.3h1.5v1.5h-1.5zM114.4 616.6h1.5v1.5h-1.5zM117.9 621.6h1.5v1.5h-1.5zM112.7 609.7h1.5v1.5h-1.5zM145.4 614.9h1.5v1.5h-1.5zM125.2 615.2h1.5v1.5h-1.5zM110.9 614.6h1.5v1.5h-1.5zM120.0 608.9h1.5v1.5h-1.5zM126.1 616.2h1.5v1.5h-1.5zM90.1 622.0h1.5v1.5h-1.5zM130.6 617.1h1.5v1.5h-1.5zM131.0 611.0h1.5v1.5h-1.5zM100.3 620.5h1.5v1.5h-1.5zM124.5 611.9h1.5v1.5h-1.5zM122.6 615.6h1.5v1.5h-1.5zM116.7 617.8h1.5v1.5h-1.5zM120.8 620.4h1.5v1.5h-1.5zM128.2 615.9h1.5v1.5h-1.5zM126.8 616.9h1.5v1.5h-1.5zM125.5 614.4h1.5v1.5h-1.5zM131.1 612.0h1.5v1.5h-1.5zM131.6 614.6h1.5v1.5h-1.5zM120.1 617.1h1.5v1.5h-1.5zM106.2 619.1h1.5v1.5h-1.5zM133.4 610.2h1.5v1.5h-1.5zM110.9 616.4h1.5v1.5h-1.5zM129.5 620.0h1.5v1.5h-1.5zM124.8 613.7h1.5v1.5h-1.5zM129.5 613.2h1.5v1.5h-1.5zM100.6 628.2h1.5v1.5h-1.5zM143.8 613.3h1.5v1.5h-1.5zM135.5 607.7h1.5v1.5h-1.5zM121.8 620.5h1.5v1.5h-1.5zM136.6 613.1h1.5v1.5h-1.5zM126.8 612.7h1.5v1.5h-1.5zM131.8 609.5h1.5v1.5h-1.5zM104.3 624.9h1.5v1.5h-1.5zM122.4 615.5h1.5v1.5h-1.5zM129.8 614.8h1.5v1.5h-1.5zM118.7 607.6h1.5v1.5h-1.5zM136.7 608.0h1.5v1.5h-1.5zM132.8 617.0h1.5v1.5h-1.5zM119.8 616.3h1.5v1.5h-1.5zM108.1 621.9h1.5v1.5h-1.5zM122.6 620.7h1.5v1.5h-1.5zM127.0 612.7h1.5v1.5h-1.5zM118.0 617.8h1.5v1.5h-1.5zM127.8 612.5h1.5v1.5h-1.5zM125.0 620.3h1.5v1.5h-1.5zM101.9 610.6h1.5v1.5h-1.5zM113.2 618.8h1.5v1.5h-1.5zM99.6 623.2h1.5v1.5h-1.5zM112.3 614.0h1.5v1.5h-1.5zM90.1 627.5h1.5v1.5h-1.5zM116.0 618.8h1.5v1.5h-1.5zM111.8 619.4h1.5v1.5h-1.5zM102.5 618.1h1.5v1.5h-1.5zM134.6 612.6h1.5v1.5h-1.5zM114.5 611.6h1.5v1.5h-1.5zM126.4 619.2h1.5v1.5h-1.5zM114.1 619.7h1.5v1.5h-1.5zM120.2 610.8h1.5v1.5h-1.5zM112.6 618.0h1.5v1.5h-1.5zM122.1 620.7h1.5v1.5h-1.5zM115.2 614.3h1.5v1.5h-1.5zM133.9 621.4h1.5v1.5h-1.5zM129.0 615.6h1.5v1.5h-1.5zM135.7 610.4h1.5v1.5h-1.5zM143.6 610.3h1.5v1.5h-1.5zM116.2 620.2h1.5v1.5h-1.5zM104.2 616.6h1.5v1.5h-1.5zM126.7 611.3h1.5v1.5h-1.5zM124.8 621.4h1.5v1.5h-1.5zM116.1 617.8h1.5v1.5h-1.5zM122.6 612.3h1.5v1.5h-1.5zM137.2 611.6h1.5v1.5h-1.5zM96.8 624.6h1.5v1.5h-1.5zM96.0 623.7h1.5v1.5h-1.5zM106.9 617.4h1.5v1.5h-1.5zM118.2 611.6h1.5v1.5h-1.5zM133.3 615.5h1.5v1.5h-1.5zM131.7 613.8h1.5v1.5h-1.5zM126.1 609.2h1.5v1.5h-1.5zM107.4 618.6h1.5v1.5h-1.5zM138.6 615.8h1.5v1.5h-1.5zM123.3 614.8h1.5v1.5h-1.5zM115.9 622.3h1.5v1.5h-1.5zM112.8 621.5h1.5v1.5h-1.5zM133.3 612.5h1.5v1.5h-1.5zM128.9 619.4h1.5v1.5h-1.5zM126.6 614.2h1.5v1.5h-1.5zM132.9 616.6h1.5v1.5h-1.5zM130.2 608.3h1.5v1.5h-1.5zM141.7 615.9h1.5v1.5h-1.5zM107.7 624.5h1.5v1.5h-1.5zM131.9 611.3h1.5v1.5h-1.5zM124.7 618.8h1.5v1.5h-1.5zM135.3 606.4h1.5v1.5h-1.5zM120.4 616.4h1.5v1.5h-1.5zM134.6 611.2h1.5v1.5h-1.5zM136.4 614.7h1.5v1.5h-1.5zM124.7 616.5h1.5v1.5h-1.5zM114.2 618.3h1.5v1.5h-1.5zM117.5 614.3h1.5v1.5h-1.5zM117.2 616.2h1.5v1.5h-1.5zM111.4 622.8h1.5v1.5h-1.5zM137.3 616.9h1.5v1.5h-1.5zM141.8 608.0h1.5v1.5h-1.5zM94.2 623.5h1.5v1.5h-1.5zM115.9 616.7h1.5v1.5h-1.5zM118.7 618.8h1.5v1.5h-1.5zM135.3 613.7h1.5v1.5h-1.5zM131.9 616.7h1.5v1.5h-1.5zM112.8 611.7h1.5v1.5h-1.5zM117.5 621.1h1.5v1.5h-1.5zM118.8 611.8h1.5v1.5h-1.5zM118.9 619.2h1.5v1.5h-1.5zM128.2 610.3h1.5v1.5h-1.5zM118.4 617.6h1.5v1.5h-1.5zM116.5 605.2h1.5v1.5h-1.5zM118.6 608.9h1.5v1.5h-1.5zM119.1 614.4h1.5v1.5h-1.5zM97.2 619.5h1.5v1.5h-1.5zM121.4 617.1h1.5v1.5h-1.5zM116.0 622.5h1.5v1.5h-1.5zM103.5 618.3h1.5v1.5h-1.5zM113.4 617.6h1.5v1.5h-1.5zM118.7 618.4h1.5v1.5h-1.5zM112.3 609.6h1.5v1.5h-1.5zM108.0 620.4h1.5v1.5h-1.5zM117.4 621.3h1.5v1.5h-1.5zM109.7 614.3h1.5v1.5h-1.5zM131.6 613.3h1.5v1.5h-1.5zM158.4 605.4h1.5v1.5h-1.5zM135.1 616.6h1.5v1.5h-1.5zM133.3 606.4h1.5v1.5h-1.5zM116.4 609.0h1.5v1.5h-1.5zM111.4 622.4h1.5v1.5h-1.5zM120.3 619.3h1.5v1.5h-1.5zM128.2 619.1h1.5v1.5h-1.5zM121.8 623.9h1.5v1.5h-1.5zM120.4 611.5h1.5v1.5h-1.5zM117.7 615.1h1.5v1.5h-1.5zM133.4 618.1h1.5v1.5h-1.5zM106.1 618.2h1.5v1.5h-1.5zM124.0 616.4h1.5v1.5h-1.5zM109.6 612.8h1.5v1.5h-1.5zM107.3 619.4h1.5v1.5h-1.5zM120.3 612.9h1.5v1.5h-1.5zM115.6 620.3h1.5v1.5h-1.5zM144.1 615.1h1.5v1.5h-1.5zM130.0 614.8h1.5v1.5h-1.5zM115.3 617.1h1.5v1.5h-1.5zM117.8 615.1h1.5v1.5h-1.5zM91.3 621.4h1.5v1.5h-1.5zM121.6 619.8h1.5v1.5h-1.5zM116.3 606.8h1.5v1.5h-1.5zM142.2 609.2h1.5v1.5h-1.5zM123.5 616.6h1.5v1.5h-1.5zM136.9 614.7h1.5v1.5h-1.5zM111.3 614.7h1.5v1.5h-1.5zM109.6 621.2h1.5v1.5h-1.5zM137.6 619.5h1.5v1.5h-1.5zM120.0 615.5h1.5v1.5h-1.5zM123.8 621.4h1.5v1.5h-1.5zM118.2 617.7h1.5v1.5h-1.5zM143.1 607.5h1.5v1.5h-1.5zM112.0 613.8h1.5v1.5h-1.5zM128.4 614.9h1.5v1.5h-1.5zM118.0 617.5h1.5v1.5h-1.5zM102.9 621.8h1.5v1.5h-1.5zM131.7 607.7h1.5v1.5h-1.5zM142.3 613.4h1.5v1.5h-1.5zM128.0 624.6h1.5v1.5h-1.5zM117.7 621.7h1.5v1.5h-1.5zM130.3 621.1h1.5v1.5h-1.5zM108.7 622.7h1.5v1.5h-1.5zM125.4 611.5h1.5v1.5h-1.5zM110.2 610.2h1.5v1.5h-1.5zM122.7 619.0h1.5v1.5h-1.5zM124.9 615.1h1.5v1.5h-1.5zM130.5 612.6h1.5v1.5h-1.5zM146.2 606.2h1.5v1.5h-1.5zM113.4 613.9h1.5v1.5h-1.5zM129.6 618.4h1.5v1.5h-1.5zM112.1 620.8h1.5v1.5h-1.5zM92.2 618.5h1.5v1.5h-1.5zM118.3 611.1h1.5v1.5h-1.5zM114.3 616.7h1.5v1.5h-1.5zM129.2 610.2h1.5v1.5h-1.5zM124.5 619.5h1.5v1.5h-1.5zM146.3 607.5h1.5v1.5h-1.5zM136.6 606.1h1.5v1.5h-1.5zM137.1 611.1h1.5v1.5h-1.5zM126.3 612.2h1.5v1.5h-1.5zM103.4 615.6h1.5v1.5h-1.5zM109.5 616.1h1.5v1.5h-1.5zM109.1 615.0h1.5v1.5h-1.5zM115.2 606.4h1.5v1.5h-1.5zM123.1 613.3h1.5v1.5h-1.5zM110.3 619.0h1.5v1.5h-1.5zM120.2 617.2h1.5v1.5h-1.5zM115.8 620.4h1.5v1.5h-1.5zM129.7 615.8h1.5v1.5h-1.5zM111.4 616.0h1.5v1.5h-1.5zM111.4 618.3h1.5v1.5h-1.5zM114.9 620.8h1.5v1.5h-1.5zM118.2 619.8h1.5v1.5h-1.5zM106.3 617.0h1.5v1.5h-1.5zM117.4 622.6h1.5v1.5h-1.5zM116.3 615.9h1.5v1.5h-1.5zM125.8 613.3h1.5v1.5h-1.5zM123.8 612.8h1.5v1.5h-1.5zM115.1 620.2h1.5v1.5h-1.5zM127.9 616.2h1.5v1.5h-1.5zM121.0 613.1h1.5v1.5h-1.5zM131.7 608.7h1.5v1.5h-1.5zM112.9 618.9h1.5v1.5h-1.5zM127.3 620.7h1.5v1.5h-1.5zM106.3 616.0h1.5v1.5h-1.5zM113.8 621.0h1.5v1.5h-1.5zM130.1 611.9h1.5v1.5h-1.5zM131.5 615.3h1.5v1.5h-1.5zM117.5 617.9h1.5v1.5h-1.5zM124.3 623.7h1.5v1.5h-1.5zM112.8 614.3h1.5v1.5h-1.5zM111.8 617.8h1.5v1.5h-1.5zM122.3 613.4h1.5v1.5h-1.5zM115.4 621.6h1.5v1.5h-1.5zM149.7 613.5h1.5v1.5h-1.5zM140.6 619.5h1.5v1.5h-1.5zM122.1 616.4h1.5v1.5h-1.5zM142.8 603.2h1.5v1.5h-1.5zM132.2 618.0h1.5v1.5h-1.5zM111.6 620.7h1.5v1.5h-1.5zM114.9 615.8h1.5v1.5h-1.5zM111.8 618.5h1.5v1.5h-1.5zM137.9 606.6h1.5v1.5h-1.5zM99.4 623.8h1.5v1.5h-1.5zM116.6 611.2h1.5v1.5h-1.5zM117.1 608.5h1.5v1.5h-1.5zM125.1 609.0h1.5v1.5h-1.5zM111.0 619.0h1.5v1.5h-1.5zM132.6 611.2h1.5v1.5h-1.5zM99.3 621.0h1.5v1.5h-1.5zM122.9 612.8h1.5v1.5h-1.5zM113.5 609.9h1.5v1.5h-1.5zM122.6 609.4h1.5v1.5h-1.5zM125.5 614.6h1.5v1.5h-1.5zM117.2 621.4h1.5v1.5h-1.5zM130.9 610.8h1.5v1.5h-1.5zM131.7 615.4h1.5v1.5h-1.5zM109.3 619.6h1.5v1.5h-1.5zM117.3 616.5h1.5v1.5h-1.5zM132.2 617.5h1.5v1.5h-1.5zM115.3 614.0h1.5v1.5h-1.5zM131.3 604.6h1.5v1.5h-1.5zM127.0 618.2h1.5v1.5h-1.5zM108.9 621.4h1.5v1.5h-1.5zM121.7 614.6h1.5v1.5h-1.5zM120.1 618.5h1.5v1.5h-1.5zM118.8 616.5h1.5v1.5h-1.5zM127.7 614.2h1.5v1.5h-1.5zM111.6 622.4h1.5v1.5h-1.5zM138.0 613.0h1.5v1.5h-1.5zM118.9 616.3h1.5v1.5h-1.5zM133.9 614.7h1.5v1.5h-1.5zM122.9 616.4h1.5v1.5h-1.5zM127.6 618.8h1.5v1.5h-1.5zM123.2 611.1h1.5v1.5h-1.5zM134.6 610.7h1.5v1.5h-1.5zM124.3 608.6h1.5v1.5h-1.5zM129.0 608.5h1.5v1.5h-1.5zM107.1 623.0h1.5v1.5h-1.5zM130.1 615.2h1.5v1.5h-1.5zM115.9 620.7h1.5v1.5h-1.5zM138.0 617.6h1.5v1.5h-1.5zM122.1 621.4h1.5v1.5h-1.5zM118.9 606.8h1.5v1.5h-1.5zM148.9 612.7h1.5v1.5h-1.5zM109.3 611.2h1.5v1.5h-1.5zM111.1 625.1h1.5v1.5h-1.5zM124.9 619.6h1.5v1.5h-1.5zM104.2 614.2h1.5v1.5h-1.5zM112.5 621.8h1.5v1.5h-1.5zM122.9 616.2h1.5v1.5h-1.5zM133.8 613.0h1.5v1.5h-1.5zM139.2 607.7h1.5v1.5h-1.5zM141.4 607.3h1.5v1.5h-1.5zM121.7 613.4h1.5v1.5h-1.5zM121.2 622.3h1.5v1.5h-1.5zM107.4 615.2h1.5v1.5h-1.5zM93.7 624.3h1.5v1.5h-1.5zM106.2 618.8h1.5v1.5h-1.5zM109.0 617.0h1.5v1.5h-1.5zM118.7 618.2h1.5v1.5h-1.5zM111.2 626.9h1.5v1.5h-1.5zM121.8 621.0h1.5v1.5h-1.5zM117.5 614.9h1.5v1.5h-1.5zM133.0 610.6h1.5v1.5h-1.5zM137.9 618.6h1.5v1.5h-1.5zM128.7 607.8h1.5v1.5h-1.5zM125.5 619.6h1.5v1.5h-1.5zM125.5 617.1h1.5v1.5h-1.5zM113.5 612.7h1.5v1.5h-1.5zM118.9 620.9h1.5v1.5h-1.5zM113.2 609.1h1.5v1.5h-1.5zM111.2 614.8h1.5v1.5h-1.5zM123.0 610.5h1.5v1.5h-1.5zM117.7 620.3h1.5v1.5h-1.5zM113.6 621.5h1.5v1.5h-1.5zM150.7 609.5h1.5v1.5h-1.5zM117.3 611.2h1.5v1.5h-1.5zM128.5 615.2h1.5v1.5h-1.5zM128.1 613.3h1.5v1.5h-1.5zM133.9 606.5h1.5v1.5h-1.5zM117.3 616.6h1.5v1.5h-1.5zM118.9 611.1h1.5v1.5h-1.5zM125.4 611.7h1.5v1.5h-1.5zM131.3 616.5h1.5v1.5h-1.5zM122.4 609.8h1.5v1.5h-1.5zM131.6 610.4h1.5v1.5h-1.5zM117.7 617.9h1.5v1.5h-1.5zM111.1 618.7h1.5v1.5h-1.5zM120.2 621.9h1.5v1.5h-1.5zM134.3 616.5h1.5v1.5h-1.5zM123.8 612.8h1.5v1.5h-1.5zM114.6 624.5h1.5v1.5h-1.5zM132.0 612.0h1.5v1.5h-1.5zM118.1 611.6h1.5v1.5h-1.5zM131.2 617.9h1.5v1.5h-1.5zM120.0 623.3h1.5v1.5h-1.5zM117.9 610.5h1.5v1.5h-1.5zM111.3 614.1h1.5v1.5h-1.5zM103.7 620.2h1.5v1.5h-1.5zM131.8 606.6h1.5v1.5h-1.5zM126.2 611.7h1.5v1.5h-1.5zM140.7 622.3h1.5v1.5h-1.5zM101.4 611.5h1.5v1.5h-1.5zM149.2 608.1h1.5v1.5h-1.5zM121.7 614.6h1.5v1.5h-1.5zM121.3 618.3h1.5v1.5h-1.5zM120.8 616.4h1.5v1.5h-1.5zM128.6 611.5h1.5v1.5h-1.5zM132.2 611.3h1.5v1.5h-1.5zM109.8 612.1h1.5v1.5h-1.5zM90.4 621.0h1.5v1.5h-1.5zM124.8 617.3h1.5v1.5h-1.5zM142.4 616.4h1.5v1.5h-1.5zM107.6 620.4h1.5v1.5h-1.5zM125.7 611.6h1.5v1.5h-1.5zM122.2 612.8h1.5v1.5h-1.5zM112.9 619.8h1.5v1.5h-1.5zM122.5 621.1h1.5v1.5h-1.5zM123.1 617.0h1.5v1.5h-1.5zM128.8 618.6h1.5v1.5h-1.5zM114.9 619.3h1.5v1.5h-1.5zM116.8 620.7h1.5v1.5h-1.5zM118.0 622.0h1.5v1.5h-1.5zM127.1 611.9h1.5v1.5h-1.5zM120.8 616.6h1.5v1.5h-1.5zM110.8 621.7h1.5v1.5h-1.5zM118.5 620.0h1.5v1.5h-1.5zM107.5 617.6h1.5v1.5h-1.5zM120.7 617.5h1.5v1.5h-1.5zM111.7 617.7h1.5v1.5h-1.5zM113.1 619.1h1.5v1.5h-1.5zM123.1 612.4h1.5v1.5h-1.5zM129.6 616.7h1.5v1.5h-1.5zM134.7 618.1h1.5v1.5h-1.5zM119.0 610.7h1.5v1.5h-1.5zM148.0 610.3h1.5v1.5h-1.5zM116.9 618.1h1.5v1.5h-1.5zM107.1 619.0h1.5v1.5h-1.5zM116.1 619.8h1.5v1.5h-1.5zM134.6 616.5h1.5v1.5h-1.5zM140.2 608.7h1.5v1.5h-1.5zM128.2 616.9h1.5v1.5h-1.5zM115.2 625.2h1.5v1.5h-1.5zM124.1 616.4h1.5v1.5h-1.5zM125.4 617.8h1.5v1.5h-1.5zM126.5 621.0h1.5v1.5h-1.5zM96.0 618.4h1.5v1.5h-1.5zM133.2 626.7h1.5v1.5h-1.5zM135.6 614.6h1.5v1.5h-1.5zM119.1 622.6h1.5v1.5h-1.5zM109.6 614.9h1.5v1.5h-1.5zM112.6 617.5h1.5v1.5h-1.5zM119.2 607.8h1.5v1.5h-1.5zM131.1 619.4h1.5v1.5h-1.5zM115.5 621.6h1.5v1.5h-1.5zM105.2 621.6h1.5v1.5h-1.5zM133.5 613.3h1.5v1.5h-1.5zM128.6 615.0h1.5v1.5h-1.5zM116.1 616.4h1.5v1.5h-1.5zM120.1 607.9h1.5v1.5h-1.5zM141.3 610.5h1.5v1.5h-1.5zM127.8 622.8h1.5v1.5h-1.5zM119.5 606.1h1.5v1.5h-1.5zM111.9 614.1h1.5v1.5h-1.5zM134.8 614.9h1.5v1.5h-1.5zM118.4 618.2h1.5v1.5h-1.5zM130.0 614.0h1.5v1.5h-1.5zM138.0 607.7h1.5v1.5h-1.5zM120.8 605.0h1.5v1.5h-1.5zM117.4 619.0h1.5v1.5h-1.5zM118.3 620.0h1.5v1.5h-1.5zM116.2 617.0h1.5v1.5h-1.5zM131.0 620.5h1.5v1.5h-1.5zM105.1 622.0h1.5v1.5h-1.5zM117.5 614.6h1.5v1.5h-1.5zM112.0 611.2h1.5v1.5h-1.5zM114.9 617.8h1.5v1.5h-1.5zM121.5 610.8h1.5v1.5h-1.5zM124.3 615.1h1.5v1.5h-1.5zM114.8 616.2h1.5v1.5h-1.5zM125.5 616.4h1.5v1.5h-1.5zM120.7 623.5h1.5v1.5h-1.5zM114.9 612.0h1.5v1.5h-1.5zM137.0 613.1h1.5v1.5h-1.5zM96.4 612.7h1.5v1.5h-1.5zM119.0 605.4h1.5v1.5h-1.5zM116.2 612.5h1.5v1.5h-1.5zM113.9 611.4h1.5v1.5h-1.5zM134.0 617.8h1.5v1.5h-1.5zM135.6 601.1h1.5v1.5h-1.5zM118.4 621.3h1.5v1.5h-1.5zM124.0 616.9h1.5v1.5h-1.5zM103.9 623.3h1.5v1.5h-1.5zM123.7 621.7h1.5v1.5h-1.5zM133.1 611.7h1.5v1.5h-1.5zM118.9 610.3h1.5v1.5h-1.5zM110.4 614.9h1.5v1.5h-1.5zM105.6 620.0h1.5v1.5h-1.5zM128.1 616.7h1.5v1.5h-1.5zM119.6 613.3h1.5v1.5h-1.5zM138.1 607.2h1.5v1.5h-1.5zM126.1 615.9h1.5v1.5h-1.5zM104.5 611.7h1.5v1.5h-1.5zM142.1 620.9h1.5v1.5h-1.5zM130.7 614.2h1.5v1.5h-1.5zM128.9 613.0h1.5v1.5h-1.5zM118.7 616.2h1.5v1.5h-1.5zM120.5 611.0h1.5v1.5h-1.5zM117.9 618.6h1.5v1.5h-1.5zM128.3 611.8h1.5v1.5h-1.5zM125.8 613.7h1.5v1.5h-1.5zM137.5 608.1h1.5v1.5h-1.5zM123.3 616.3h1.5v1.5h-1.5zM128.3 622.3h1.5v1.5h-1.5zM115.0 619.9h1.5v1.5h-1.5zM122.8 617.1h1.5v1.5h-1.5zM148.7 607.6h1.5v1.5h-1.5zM125.4 605.6h1.5v1.5h-1.5zM120.9 617.2h1.5v1.5h-1.5zM134.8 609.8h1.5v1.5h-1.5zM131.3 608.8h1.5v1.5h-1.5zM116.8 619.4h1.5v1.5h-1.5zM112.7 616.9h1.5v1.5h-1.5zM132.2 618.1h1.5v1.5h-1.5zM114.8 622.6h1.5v1.5h-1.5zM143.5 608.3h1.5v1.5h-1.5zM123.4 620.5h1.5v1.5h-1.5zM109.2 620.7h1.5v1.5h-1.5zM121.3 621.1h1.5v1.5h-1.5zM118.3 611.2h1.5v1.5h-1.5zM121.0 615.4h1.5v1.5h-1.5zM97.2 621.3h1.5v1.5h-1.5zM119.2 619.0h1.5v1.5h-1.5zM105.2 619.0h1.5v1.5h-1.5zM109.3 620.3h1.5v1.5h-1.5zM102.9 619.6h1.5v1.5h-1.5zM131.1 617.5h1.5v1.5h-1.5zM124.5 621.5h1.5v1.5h-1.5zM127.4 612.3h1.5v1.5h-1.5zM116.5 612.9h1.5v1.5h-1.5zM111.0 617.5h1.5v1.5h-1.5zM139.9 612.4h1.5v1.5h-1.5zM108.2 613.3h1.5v1.5h-1.5zM126.9 615.9h1.5v1.5h-1.5zM100.4 627.5h1.5v1.5h-1.5zM103.7 612.8h1.5v1.5h-1.5zM124.2 618.8h1.5v1.5h-1.5zM133.9 607.3h1.5v1.5h-1.5zM111.4 615.6h1.5v1.5h-1.5zM102.3 617.7h1.5v1.5h-1.5zM141.4 618.0h1.5v1.5h-1.5zM121.5 618.4h1.5v1.5h-1.5zM119.8 615.7h1.5v1.5h-1.5zM124.0 611.5h1.5v1.5h-1.5zM126.7 610.4h1.5v1.5h-1.5zM132.3 609.1h1.5v1.5h-1.5zM113.3 615.5h1.5v1.5h-1.5zM116.7 620.1h1.5v1.5h-1.5zM142.9 610.5h1.5v1.5h-1.5zM121.4 624.6h1.5v1.5h-1.5zM118.3 613.1h1.5v1.5h-1.5zM118.6 618.5h1.5v1.5h-1.5zM137.5 614.1h1.5v1.5h-1.5zM117.1 616.9h1.5v1.5h-1.5zM118.2 611.9h1.5v1.5h-1.5zM127.3 614.9h1.5v1.5h-1.5zM116.8 617.5h1.5v1.5h-1.5zM139.9 613.6h1.5v1.5h-1.5zM128.2 621.1h1.5v1.5h-1.5zM124.5 612.3h1.5v1.5h-1.5zM135.2 611.8h1.5v1.5h-1.5zM127.4 613.3h1.5v1.5h-1.5zM132.9 605.0h1.5v1.5h-1.5zM123.1 618.8h1.5v1.5h-1.5zM127.6 615.1h1.5v1.5h-1.5zM128.1 611.2h1.5v1.5h-1.5zM122.6 617.4h1.5v1.5h-1.5zM124.3 620.4h1.5v1.5h-1.5zM123.9 619.0h1.5v1.5h-1.5zM125.9 614.4h1.5v1.5h-1.5zM118.4 621.3h1.5v1.5h-1.5zM121.4 618.6h1.5v1.5h-1.5zM119.3 613.2h1.5v1.5h-1.5zM131.6 619.3h1.5v1.5h-1.5zM131.4 608.1h1.5v1.5h-1.5zM133.5 612.3h1.5v1.5h-1.5zM119.9 608.7h1.5v1.5h-1.5zM117.3 622.9h1.5v1.5h-1.5zM121.9 614.4h1.5v1.5h-1.5zM109.2 623.1h1.5v1.5h-1.5zM143.1 611.2h1.5v1.5h-1.5zM129.6 616.7h1.5v1.5h-1.5zM103.8 619.7h1.5v1.5h-1.5zM135.9 615.8h1.5v1.5h-1.5zM100.8 620.3h1.5v1.5h-1.5zM117.7 616.3h1.5v1.5h-1.5zM109.2 619.3h1.5v1.5h-1.5zM114.8 613.2h1.5v1.5h-1.5zM122.6 611.8h1.5v1.5h-1.5zM120.3 624.9h1.5v1.5h-1.5zM98.9 617.6h1.5v1.5h-1.5zM130.7 610.3h1.5v1.5h-1.5zM120.0 623.5h1.5v1.5h-1.5zM115.4 615.1h1.5v1.5h-1.5zM136.4 614.4h1.5v1.5h-1.5zM114.6 620.3h1.5v1.5h-1.5zM132.3 610.0h1.5v1.5h-1.5zM100.4 614.5h1.5v1.5h-1.5zM110.5 623.9h1.5v1.5h-1.5zM103.0 622.2h1.5v1.5h-1.5zM146.9 600.2h1.5v1.5h-1.5zM106.9 621.2h1.5v1.5h-1.5zM122.7 613.7h1.5v1.5h-1.5zM115.5 623.5h1.5v1.5h-1.5zM116.3 619.5h1.5v1.5h-1.5zM100.8 618.9h1.5v1.5h-1.5zM104.4 626.2h1.5v1.5h-1.5zM137.9 608.7h1.5v1.5h-1.5zM137.2 612.3h1.5v1.5h-1.5zM116.3 617.0h1.5v1.5h-1.5zM105.5 615.5h1.5v1.5h-1.5zM123.9 616.5h1.5v1.5h-1.5zM99.9 620.2h1.5v1.5h-1.5zM139.2 606.3h1.5v1.5h-1.5zM130.7 615.5h1.5v1.5h-1.5zM122.4 613.2h1.5v1.5h-1.5zM123.1 611.0h1.5v1.5h-1.5zM113.4 627.0h1.5v1.5h-1.5zM93.7 624.7h1.5v1.5h-1.5zM105.4 615.9h1.5v1.5h-1.5zM133.0 613.6h1.5v1.5h-1.5zM127.0 614.4h1.5v1.5h-1.5zM122.9 617.4h1.5v1.5h-1.5zM116.4 611.6h1.5v1.5h-1.5zM117.9 616.6h1.5v1.5h-1.5zM134.3 609.2h1.5v1.5h-1.5zM116.5 615.6h1.5v1.5h-1.5zM109.5 617.4h1.5v1.5h-1.5zM124.4 615.2h1.5v1.5h-1.5zM122.7 613.9h1.5v1.5h-1.5zM92.4 624.6h1.5v1.5h-1.5zM121.8 617.7h1.5v1.5h-1.5zM110.0 618.8h1.5v1.5h-1.5zM139.0 613.4h1.5v1.5h-1.5zM113.6 619.2h1.5v1.5h-1.5zM107.5 616.3h1.5v1.5h-1.5zM109.8 614.0h1.5v1.5h-1.5zM131.1 611.5h1.5v1.5h-1.5zM132.6 614.0h1.5v1.5h-1.5zM101.1 619.8h1.5v1.5h-1.5zM128.1 621.0h1.5v1.5h-1.5zM107.2 613.7h1.5v1.5h-1.5zM125.8 609.2h1.5v1.5h-1.5zM128.4 614.2h1.5v1.5h-1.5zM125.7 611.3h1.5v1.5h-1.5zM120.6 616.8h1.5v1.5h-1.5zM124.4 616.5h1.5v1.5h-1.5zM148.0 614.0h1.5v1.5h-1.5zM103.8 624.4h1.5v1.5h-1.5zM132.7 615.3h1.5v1.5h-1.5zM122.7 616.4h1.5v1.5h-1.5zM124.0 621.4h1.5v1.5h-1.5zM121.9 618.1h1.5v1.5h-1.5zM133.1 610.9h1.5v1.5h-1.5zM106.7 622.5h1.5v1.5h-1.5zM127.3 609.6h1.5v1.5h-1.5zM129.6 614.9h1.5v1.5h-1.5zM133.4 623.4h1.5v1.5h-1.5zM114.9 621.1h1.5v1.5h-1.5zM109.3 615.6h1.5v1.5h-1.5zM124.0 614.0h1.5v1.5h-1.5zM119.4 613.5h1.5v1.5h-1.5zM129.7 616.6h1.5v1.5h-1.5zM131.5 617.8h1.5v1.5h-1.5zM140.8 617.6h1.5v1.5h-1.5zM117.7 621.0h1.5v1.5h-1.5zM121.4 610.2h1.5v1.5h-1.5zM112.4 609.9h1.5v1.5h-1.5zM136.9 611.2h1.5v1.5h-1.5zM114.3 613.2h1.5v1.5h-1.5zM88.6 625.0h1.5v1.5h-1.5zM131.8 614.0h1.5v1.5h-1.5zM149.0 613.5h1.5v1.5h-1.5zM105.8 619.5h1.5v1.5h-1.5zM127.5 607.4h1.5v1.5h-1.5zM100.9 618.9h1.5v1.5h-1.5zM135.2 616.0h1.5v1.5h-1.5zM115.7 621.9h1.5v1.5h-1.5zM129.6 610.7h1.5v1.5h-1.5zM127.6 613.5h1.5v1.5h-1.5zM132.2 614.3h1.5v1.5h-1.5zM129.1 610.9h1.5v1.5h-1.5zM135.7 610.9h1.5v1.5h-1.5zM121.9 612.6h1.5v1.5h-1.5zM103.3 626.5h1.5v1.5h-1.5zM139.3 611.8h1.5v1.5h-1.5zM109.0 620.5h1.5v1.5h-1.5zM119.2 615.8h1.5v1.5h-1.5zM112.2 613.2h1.5v1.5h-1.5zM101.5 607.5h1.5v1.5h-1.5zM108.6 611.1h1.5v1.5h-1.5zM128.5 621.5h1.5v1.5h-1.5zM107.0 618.1h1.5v1.5h-1.5zM124.0 617.0h1.5v1.5h-1.5zM121.1 615.1h1.5v1.5h-1.5zM107.9 618.0h1.5v1.5h-1.5zM146.9 613.8h1.5v1.5h-1.5zM109.4 615.1h1.5v1.5h-1.5zM136.3 608.6h1.5v1.5h-1.5zM113.7 617.5h1.5v1.5h-1.5zM123.2 616.3h1.5v1.5h-1.5zM125.5 610.4h1.5v1.5h-1.5zM127.2 614.7h1.5v1.5h-1.5zM118.6 608.7h1.5v1.5h-1.5zM106.8 609.9h1.5v1.5h-1.5zM129.4 613.9h1.5v1.5h-1.5zM112.4 609.6h1.5v1.5h-1.5zM134.8 609.4h1.5v1.5h-1.5zM144.8 619.0h1.5v1.5h-1.5zM122.1 616.9h1.5v1.5h-1.5zM112.6 617.0h1.5v1.5h-1.5zM127.1 612.4h1.5v1.5h-1.5zM119.3 621.7h1.5v1.5h-1.5zM127.3 612.0h1.5v1.5h-1.5zM145.3 607.3h1.5v1.5h-1.5zM121.1 620.7h1.5v1.5h-1.5zM152.3 612.9h1.5v1.5h-1.5zM123.2 612.2h1.5v1.5h-1.5zM126.7 609.1h1.5v1.5h-1.5zM109.0 621.0h1.5v1.5h-1.5zM122.9 620.7h1.5v1.5h-1.5zM113.9 611.2h1.5v1.5h-1.5zM124.3 615.6h1.5v1.5h-1.5zM114.3 616.8h1.5v1.5h-1.5zM120.5 620.5h1.5v1.5h-1.5zM130.0 619.6h1.5v1.5h-1.5zM135.7 614.5h1.5v1.5h-1.5zM94.5 627.3h1.5v1.5h-1.5zM124.3 618.9h1.5v1.5h-1.5zM141.8 606.1h1.5v1.5h-1.5zM145.3 607.5h1.5v1.5h-1.5zM136.6 615.5h1.5v1.5h-1.5zM136.0 614.9h1.5v1.5h-1.5zM120.3 621.7h1.5v1.5h-1.5zM121.6 614.0h1.5v1.5h-1.5zM120.2 620.7h1.5v1.5h-1.5zM131.4 610.0h1.5v1.5h-1.5zM119.9 612.7h1.5v1.5h-1.5zM132.4 617.9h1.5v1.5h-1.5zM120.5 623.8h1.5v1.5h-1.5zM108.9 616.2h1.5v1.5h-1.5zM110.7 616.0h1.5v1.5h-1.5zM125.1 623.9h1.5v1.5h-1.5zM115.3 610.4h1.5v1.5h-1.5zM121.1 615.3h1.5v1.5h-1.5zM112.7 624.2h1.5v1.5h-1.5zM102.4 606.9h1.5v1.5h-1.5zM118.8 619.9h1.5v1.5h-1.5zM122.2 623.9h1.5v1.5h-1.5zM137.2 605.5h1.5v1.5h-1.5zM112.1 616.1h1.5v1.5h-1.5zM110.4 614.1h1.5v1.5h-1.5zM111.1 618.3h1.5v1.5h-1.5zM136.2 610.8h1.5v1.5h-1.5zM117.1 623.0h1.5v1.5h-1.5zM102.3 614.1h1.5v1.5h-1.5zM126.9 614.5h1.5v1.5h-1.5zM135.6 612.5h1.5v1.5h-1.5zM112.4 617.8h1.5v1.5h-1.5zM119.8 616.1h1.5v1.5h-1.5zM150.1 607.9h1.5v1.5h-1.5zM124.1 616.3h1.5v1.5h-1.5zM113.0 621.6h1.5v1.5h-1.5zM98.9 621.9h1.5v1.5h-1.5zM103.1 627.1h1.5v1.5h-1.5zM109.9 626.6h1.5v1.5h-1.5zM137.0 607.5h1.5v1.5h-1.5zM109.6 609.1h1.5v1.5h-1.5zM128.6 625.2h1.5v1.5h-1.5zM121.2 620.1h1.5v1.5h-1.5zM100.5 620.7h1.5v1.5h-1.5zM134.4 611.4h1.5v1.5h-1.5zM103.8 621.8h1.5v1.5h-1.5zM112.0 612.5h1.5v1.5h-1.5zM119.8 620.3h1.5v1.5h-1.5zM110.2 626.3h1.5v1.5h-1.5zM111.0 613.8h1.5v1.5h-1.5zM98.5 619.2h1.5v1.5h-1.5zM119.6 612.6h1.5v1.5h-1.5zM107.4 614.4h1.5v1.5h-1.5zM139.1 602.6h1.5v1.5h-1.5zM101.8 619.5h1.5v1.5h-1.5zM118.4 615.8h1.5v1.5h-1.5zM109.3 614.3h1.5v1.5h-1.5zM148.5 604.2h1.5v1.5h-1.5zM109.6 620.4h1.5v1.5h-1.5zM129.5 613.7h1.5v1.5h-1.5zM111.9 612.2h1.5v1.5h-1.5zM127.0 610.3h1.5v1.5h-1.5zM118.8 610.7h1.5v1.5h-1.5zM115.4 621.7h1.5v1.5h-1.5zM120.8 621.9h1.5v1.5h-1.5zM135.6 609.9h1.5v1.5h-1.5zM101.1 618.8h1.5v1.5h-1.5zM130.8 615.5h1.5v1.5h-1.5zM125.8 617.4h1.5v1.5h-1.5zM120.0 616.4h1.5v1.5h-1.5zM126.5 619.0h1.5v1.5h-1.5zM107.5 616.9h1.5v1.5h-1.5zM114.9 614.7h1.5v1.5h-1.5zM114.9 622.6h1.5v1.5h-1.5zM129.5 613.1h1.5v1.5h-1.5zM129.5 615.7h1.5v1.5h-1.5zM116.6 611.2h1.5v1.5h-1.5zM100.9 612.0h1.5v1.5h-1.5zM126.9 615.0h1.5v1.5h-1.5zM121.9 613.0h1.5v1.5h-1.5zM111.7 616.3h1.5v1.5h-1.5zM109.6 625.9h1.5v1.5h-1.5zM123.2 615.0h1.5v1.5h-1.5zM128.5 612.0h1.5v1.5h-1.5zM129.1 610.9h1.5v1.5h-1.5zM108.4 612.9h1.5v1.5h-1.5zM152.4 612.4h1.5v1.5h-1.5zM106.0 615.6h1.5v1.5h-1.5zM131.6 609.5h1.5v1.5h-1.5zM138.9 618.5h1.5v1.5h-1.5zM125.3 613.0h1.5v1.5h-1.5zM135.6 617.0h1.5v1.5h-1.5zM121.1 617.4h1.5v1.5h-1.5zM118.9 616.8h1.5v1.5h-1.5zM119.0 623.8h1.5v1.5h-1.5zM120.4 615.6h1.5v1.5h-1.5zM116.3 632.0h1.5v1.5h-1.5zM112.6 620.2h1.5v1.5h-1.5zM110.5 610.8h1.5v1.5h-1.5zM131.7 614.6h1.5v1.5h-1.5zM127.9 600.3h1.5v1.5h-1.5zM109.4 615.9h1.5v1.5h-1.5zM113.7 610.7h1.5v1.5h-1.5zM133.9 614.0h1.5v1.5h-1.5zM128.0 617.9h1.5v1.5h-1.5zM102.1 615.7h1.5v1.5h-1.5zM140.1 613.6h1.5v1.5h-1.5zM114.6 624.8h1.5v1.5h-1.5zM146.2 616.3h1.5v1.5h-1.5zM109.4 618.8h1.5v1.5h-1.5zM135.1 613.0h1.5v1.5h-1.5zM120.6 615.8h1.5v1.5h-1.5zM130.8 614.1h1.5v1.5h-1.5zM122.7 615.8h1.5v1.5h-1.5zM107.7 612.4h1.5v1.5h-1.5zM112.6 623.1h1.5v1.5h-1.5zM115.6 616.7h1.5v1.5h-1.5zM130.5 620.4h1.5v1.5h-1.5zM105.8 617.8h1.5v1.5h-1.5zM125.3 619.8h1.5v1.5h-1.5zM107.4 617.6h1.5v1.5h-1.5zM119.1 623.2h1.5v1.5h-1.5zM110.4 611.3h1.5v1.5h-1.5zM108.3 613.6h1.5v1.5h-1.5zM102.7 612.8h1.5v1.5h-1.5zM139.7 615.1h1.5v1.5h-1.5zM112.7 614.6h1.5v1.5h-1.5zM106.1 616.2h1.5v1.5h-1.5zM135.2 612.0h1.5v1.5h-1.5zM124.6 615.8h1.5v1.5h-1.5zM132.6 617.2h1.5v1.5h-1.5zM139.6 612.5h1.5v1.5h-1.5zM116.9 623.6h1.5v1.5h-1.5zM115.6 615.8h1.5v1.5h-1.5zM135.5 620.1h1.5v1.5h-1.5zM119.3 619.1h1.5v1.5h-1.5zM106.6 618.4h1.5v1.5h-1.5zM111.8 613.7h1.5v1.5h-1.5zM89.0 618.5h1.5v1.5h-1.5zM98.3 628.5h1.5v1.5h-1.5zM126.9 616.2h1.5v1.5h-1.5zM122.3 619.8h1.5v1.5h-1.5zM108.4 621.3h1.5v1.5h-1.5zM120.1 619.6h1.5v1.5h-1.5zM115.8 620.5h1.5v1.5h-1.5zM123.5 620.3h1.5v1.5h-1.5zM96.2 631.8h1.5v1.5h-1.5zM120.5 615.5h1.5v1.5h-1.5zM132.1 617.0h1.5v1.5h-1.5zM107.3 624.8h1.5v1.5h-1.5zM129.7 616.9h1.5v1.5h-1.5zM132.4 614.0h1.5v1.5h-1.5zM117.5 624.5h1.5v1.5h-1.5zM112.8 613.9h1.5v1.5h-1.5zM113.6 614.2h1.5v1.5h-1.5zM101.4 615.0h1.5v1.5h-1.5zM153.6 604.9h1.5v1.5h-1.5zM124.6 620.5h1.5v1.5h-1.5zM114.6 619.8h1.5v1.5h-1.5zM123.0 624.2h1.5v1.5h-1.5zM110.6 614.3h1.5v1.5h-1.5zM122.5 612.3h1.5v1.5h-1.5zM130.8 618.9h1.5v1.5h-1.5zM104.9 616.8h1.5v1.5h-1.5zM121.2 615.4h1.5v1.5h-1.5zM111.2 613.2h1.5v1.5h-1.5zM126.6 609.8h1.5v1.5h-1.5zM116.6 613.6h1.5v1.5h-1.5zM120.1 620.1h1.5v1.5h-1.5zM119.8 623.2h1.5v1.5h-1.5zM118.6 615.5h1.5v1.5h-1.5zM129.0 618.9h1.5v1.5h-1.5zM105.1 621.9h1.5v1.5h-1.5zM96.4 623.2h1.5v1.5h-1.5zM151.6 609.5h1.5v1.5h-1.5zM111.8 620.5h1.5v1.5h-1.5zM141.6 617.0h1.5v1.5h-1.5zM119.4 616.4h1.5v1.5h-1.5zM112.1 620.6h1.5v1.5h-1.5zM101.0 623.1h1.5v1.5h-1.5zM136.1 606.9h1.5v1.5h-1.5zM117.4 613.4h1.5v1.5h-1.5zM126.2 614.4h1.5v1.5h-1.5zM119.2 610.9h1.5v1.5h-1.5zM127.5 615.6h1.5v1.5h-1.5zM118.0 612.3h1.5v1.5h-1.5zM113.8 620.3h1.5v1.5h-1.5zM117.5 618.6h1.5v1.5h-1.5zM135.6 611.6h1.5v1.5h-1.5zM119.7 618.3h1.5v1.5h-1.5zM137.4 610.9h1.5v1.5h-1.5zM145.3 607.4h1.5v1.5h-1.5zM118.2 618.7h1.5v1.5h-1.5zM117.4 615.7h1.5v1.5h-1.5zM130.1 612.0h1.5v1.5h-1.5zM139.3 619.0h1.5v1.5h-1.5zM121.1 621.9h1.5v1.5h-1.5zM108.6 620.7h1.5v1.5h-1.5zM113.1 621.5h1.5v1.5h-1.5zM102.9 614.2h1.5v1.5h-1.5z" fill="#1616e2"/>
<path d="M128.5 614.4h1.4v1.4h-1.4zM120.9 616.8h1.4v1.4h-1.4zM139.8 615.8h1.4v1.4h-1.4zM127.0 614.4h1.4v1.4h-1.4zM131.1 616.8h1.4v1.4h-1.4zM118.4 617.0h1.4v1.4h-1.4zM140.0 615.2h1.4v1.4h-1.4zM152.2 616.6h1.4v1.4h-1.4zM120.1 616.5h1.4v1.4h-1.4zM111.0 615.6h1.4v1.4h-1.4zM111.4 613.8h1.4v1.4h-1.4zM131.9 616.1h1.4v1.4h-1.4zM131.9 614.7h1.4v1.4h-1.4zM116.4 615.3h1.4v1.4h-1.4zM117.6 615.1h1.4v1.4h-1.4zM119.6 614.4h1.4v1.4h-1.4zM120.2 613.2h1.4v1.4h-1.4zM119.0 616.2h1.4v1.4h-1.4zM182.4 615.5h1.4v1.4h-1.4zM98.5 616.7h1.4v1.4h-1.4zM129.2 612.2h1.4v1.4h-1.4zM131.1 614.9h1.4v1.4h-1.4zM138.3 616.4h1.4v1.4h-1.4zM137.5 618.2h1.4v1.4h-1.4zM119.7 615.1h1.4v1.4h-1.4zM143.9 616.7h1.4v1.4h-1.4zM131.8 614.3h1.4v1.4h-1.4zM103.9 617.0h1.4v1.4h-1.4zM106.4 615.1h1.4v1.4h-1.4zM110.6 615.3h1.4v1.4h-1.4zM156.4 618.7h1.4v1.4h-1.4zM118.4 617.5h1.4v1.4h-1.4zM127.2 614.3h1.4v1.4h-1.4zM100.7 615.3h1.4v1.4h-1.4zM131.1 615.7h1.4v1.4h-1.4zM107.3 616.9h1.4v1.4h-1.4zM116.3 615.4h1.4v1.4h-1.4zM129.1 613.3h1.4v1.4h-1.4zM122.3 617.6h1.4v1.4h-1.4zM122.4 613.8h1.4v1.4h-1.4zM133.3 616.3h1.4v1.4h-1.4zM133.6 615.4h1.4v1.4h-1.4zM120.1 619.0h1.4v1.4h-1.4zM134.5 614.8h1.4v1.4h-1.4zM122.9 614.1h1.4v1.4h-1.4zM131.6 614.9h1.4v1.4h-1.4zM113.4 617.3h1.4v1.4h-1.4zM168.6 617.9h1.4v1.4h-1.4zM97.6 615.5h1.4v1.4h-1.4zM127.4 615.3h1.4v1.4h-1.4zM139.7 616.4h1.4v1.4h-1.4zM116.1 614.5h1.4v1.4h-1.4zM118.2 617.0h1.4v1.4h-1.4zM100.3 613.7h1.4v1.4h-1.4zM115.6 615.9h1.4v1.4h-1.4zM147.1 614.9h1.4v1.4h-1.4zM134.9 616.2h1.4v1.4h-1.4zM137.8 613.5h1.4v1.4h-1.4zM123.6 615.7h1.4v1.4h-1.4zM151.5 615.4h1.4v1.4h-1.4zM127.8 613.1h1.4v1.4h-1.4zM135.9 617.2h1.4v1.4h-1.4zM124.0 615.5h1.4v1.4h-1.4zM161.7 617.0h1.4v1.4h-1.4zM138.6 615.0h1.4v1.4h-1.4zM129.2 615.5h1.4v1.4h-1.4zM146.0 614.7h1.4v1.4h-1.4zM130.8 615.9h1.4v1.4h-1.4zM120.0 613.4h1.4v1.4h-1.4zM145.6 614.0h1.4v1.4h-1.4zM133.4 614.6h1.4v1.4h-1.4zM139.7 615.0h1.4v1.4h-1.4zM127.0 616.0h1.4v1.4h-1.4zM142.2 615.1h1.4v1.4h-1.4zM108.3 612.6h1.4v1.4h-1.4zM117.0 617.6h1.4v1.4h-1.4zM80.0 615.2h1.4v1.4h-1.4zM115.4 617.5h1.4v1.4h-1.4zM103.8 615.4h1.4v1.4h-1.4zM141.8 620.2h1.4v1.4h-1.4zM120.0 615.5h1.4v1.4h-1.4zM135.6 614.3h1.4v1.4h-1.4zM108.8 615.6h1.4v1.4h-1.4zM149.3 618.8h1.4v1.4h-1.4zM140.0 613.1h1.4v1.4h-1.4zM132.1 616.4h1.4v1.4h-1.4zM131.7 615.4h1.4v1.4h-1.4zM116.9 614.8h1.4v1.4h-1.4zM139.9 616.5h1.4v1.4h-1.4zM114.7 615.2h1.4v1.4h-1.4zM137.0 615.9h1.4v1.4h-1.4zM132.7 618.0h1.4v1.4h-1.4zM118.6 615.4h1.4v1.4h-1.4zM144.8 615.9h1.4v1.4h-1.4zM110.5 616.3h1.4v1.4h-1.4zM113.4 615.2h1.4v1.4h-1.4zM135.2 616.6h1.4v1.4h-1.4zM132.3 612.5h1.4v1.4h-1.4zM124.1 615.9h1.4v1.4h-1.4zM124.0 615.8h1.4v1.4h-1.4zM110.5 615.9h1.4v1.4h-1.4zM137.9 615.5h1.4v1.4h-1.4zM141.3 614.7h1.4v1.4h-1.4zM126.4 617.9h1.4v1.4h-1.4zM126.6 616.9h1.4v1.4h-1.4zM101.6 615.5h1.4v1.4h-1.4zM151.5 619.1h1.4v1.4h-1.4zM150.5 616.6h1.4v1.4h-1.4zM102.3 616.6h1.4v1.4h-1.4zM133.3 614.9h1.4v1.4h-1.4zM123.6 613.5h1.4v1.4h-1.4zM148.5 615.2h1.4v1.4h-1.4zM117.5 615.9h1.4v1.4h-1.4zM144.9 617.6h1.4v1.4h-1.4zM118.1 615.6h1.4v1.4h-1.4zM125.5 617.8h1.4v1.4h-1.4zM93.8 615.8h1.4v1.4h-1.4zM159.7 617.7h1.4v1.4h-1.4zM117.6 613.7h1.4v1.4h-1.4zM105.8 614.9h1.4v1.4h-1.4zM118.7 614.8h1.4v1.4h-1.4zM142.9 613.8h1.4v1.4h-1.4zM125.6 615.2h1.4v1.4h-1.4zM124.7 616.1h1.4v1.4h-1.4zM124.2 611.5h1.4v1.4h-1.4zM115.2 617.2h1.4v1.4h-1.4zM149.2 613.6h1.4v1.4h-1.4zM118.3 616.6h1.4v1.4h-1.4zM124.6 615.6h1.4v1.4h-1.4zM112.4 615.9h1.4v1.4h-1.4zM132.2 615.2h1.4v1.4h-1.4zM121.6 617.0h1.4v1.4h-1.4zM135.6 614.9h1.4v1.4h-1.4zM129.3 616.9h1.4v1.4h-1.4zM118.3 612.8h1.4v1.4h-1.4zM120.9 616.2h1.4v1.4h-1.4zM141.4 615.2h1.4v1.4h-1.4zM98.1 618.1h1.4v1.4h-1.4zM142.0 615.1h1.4v1.4h-1.4zM145.2 613.4h1.4v1.4h-1.4zM124.1 616.0h1.4v1.4h-1.4zM124.6 615.9h1.4v1.4h-1.4zM100.0 615.2h1.4v1.4h-1.4zM125.3 614.9h1.4v1.4h-1.4zM96.2 616.1h1.4v1.4h-1.4zM111.5 615.6h1.4v1.4h-1.4zM131.6 614.6h1.4v1.4h-1.4zM130.5 614.7h1.4v1.4h-1.4zM141.2 616.5h1.4v1.4h-1.4zM142.7 615.5h1.4v1.4h-1.4zM138.1 614.8h1.4v1.4h-1.4zM112.8 614.0h1.4v1.4h-1.4zM130.4 615.7h1.4v1.4h-1.4zM112.3 617.0h1.4v1.4h-1.4zM113.9 614.0h1.4v1.4h-1.4zM116.4 616.1h1.4v1.4h-1.4zM125.2 615.9h1.4v1.4h-1.4zM139.7 619.8h1.4v1.4h-1.4zM121.7 617.4h1.4v1.4h-1.4zM122.1 617.3h1.4v1.4h-1.4zM140.4 614.6h1.4v1.4h-1.4zM127.3 616.7h1.4v1.4h-1.4zM121.5 616.5h1.4v1.4h-1.4zM143.9 616.8h1.4v1.4h-1.4zM104.3 616.8h1.4v1.4h-1.4zM115.1 617.5h1.4v1.4h-1.4zM129.7 618.0h1.4v1.4h-1.4zM140.9 617.1h1.4v1.4h-1.4zM123.8 615.3h1.4v1.4h-1.4zM132.6 612.2h1.4v1.4h-1.4zM136.2 616.7h1.4v1.4h-1.4zM115.4 616.5h1.4v1.4h-1.4zM121.5 616.3h1.4v1.4h-1.4zM138.7 614.8h1.4v1.4h-1.4zM117.9 614.0h1.4v1.4h-1.4zM135.2 617.8h1.4v1.4h-1.4zM127.9 616.2h1.4v1.4h-1.4zM160.0 615.3h1.4v1.4h-1.4zM77.4 615.7h1.4v1.4h-1.4zM124.6 615.5h1.4v1.4h-1.4zM113.1 615.7h1.4v1.4h-1.4zM110.0 615.6h1.4v1.4h-1.4zM131.0 616.8h1.4v1.4h-1.4zM124.9 614.8h1.4v1.4h-1.4zM131.9 614.9h1.4v1.4h-1.4zM140.1 615.2h1.4v1.4h-1.4zM119.8 612.7h1.4v1.4h-1.4zM108.6 616.1h1.4v1.4h-1.4zM121.5 616.0h1.4v1.4h-1.4zM122.7 614.9h1.4v1.4h-1.4zM134.2 615.6h1.4v1.4h-1.4zM114.3 614.1h1.4v1.4h-1.4zM127.4 613.1h1.4v1.4h-1.4zM140.6 613.9h1.4v1.4h-1.4zM125.7 614.8h1.4v1.4h-1.4zM137.7 617.8h1.4v1.4h-1.4zM119.1 616.0h1.4v1.4h-1.4zM127.9 615.7h1.4v1.4h-1.4zM135.8 620.5h1.4v1.4h-1.4zM117.8 618.4h1.4v1.4h-1.4zM134.3 617.0h1.4v1.4h-1.4zM127.2 614.7h1.4v1.4h-1.4zM128.1 614.8h1.4v1.4h-1.4zM136.0 619.8h1.4v1.4h-1.4zM117.0 614.6h1.4v1.4h-1.4zM100.3 617.6h1.4v1.4h-1.4zM141.7 616.3h1.4v1.4h-1.4zM138.4 615.7h1.4v1.4h-1.4zM135.0 616.2h1.4v1.4h-1.4zM155.0 614.5h1.4v1.4h-1.4zM138.5 614.8h1.4v1.4h-1.4zM130.2 617.5h1.4v1.4h-1.4zM110.4 617.2h1.4v1.4h-1.4zM133.0 614.2h1.4v1.4h-1.4zM141.2 617.1h1.4v1.4h-1.4zM126.3 617.5h1.4v1.4h-1.4zM113.9 614.6h1.4v1.4h-1.4zM110.0 616.9h1.4v1.4h-1.4zM114.3 614.2h1.4v1.4h-1.4zM113.6 615.4h1.4v1.4h-1.4zM106.2 618.0h1.4v1.4h-1.4zM116.2 617.3h1.4v1.4h-1.4zM114.3 617.0h1.4v1.4h-1.4zM139.1 614.0h1.4v1.4h-1.4zM117.2 617.4h1.4v1.4h-1.4zM146.3 614.7h1.4v1.4h-1.4zM115.6 616.5h1.4v1.4h-1.4zM110.0 615.5h1.4v1.4h-1.4zM129.8 615.7h1.4v1.4h-1.4zM136.2 617.1h1.4v1.4h-1.4zM124.2 615.7h1.4v1.4h-1.4zM136.8 613.6h1.4v1.4h-1.4zM122.9 612.9h1.4v1.4h-1.4zM150.3 613.5h1.4v1.4h-1.4zM142.1 614.4h1.4v1.4h-1.4zM124.9 614.0h1.4v1.4h-1.4zM127.2 615.2h1.4v1.4h-1.4zM119.5 617.2h1.4v1.4h-1.4zM148.1 614.2h1.4v1.4h-1.4zM118.9 616.0h1.4v1.4h-1.4zM127.4 614.7h1.4v1.4h-1.4zM127.0 616.0h1.4v1.4h-1.4zM118.1 615.9h1.4v1.4h-1.4zM132.4 613.6h1.4v1.4h-1.4zM120.2 615.3h1.4v1.4h-1.4zM133.9 617.4h1.4v1.4h-1.4zM160.3 617.8h1.4v1.4h-1.4zM170.9 614.4h1.4v1.4h-1.4zM122.3 615.1h1.4v1.4h-1.4zM124.7 619.8h1.4v1.4h-1.4zM122.6 617.4h1.4v1.4h-1.4zM121.3 614.7h1.4v1.4h-1.4zM127.9 616.5h1.4v1.4h-1.4zM125.9 616.3h1.4v1.4h-1.4zM111.1 617.3h1.4v1.4h-1.4zM134.1 613.3h1.4v1.4h-1.4zM151.9 615.7h1.4v1.4h-1.4zM147.0 614.4h1.4v1.4h-1.4zM103.7 614.9h1.4v1.4h-1.4zM139.5 613.8h1.4v1.4h-1.4zM131.4 616.5h1.4v1.4h-1.4zM115.2 616.2h1.4v1.4h-1.4zM151.9 617.5h1.4v1.4h-1.4zM106.2 616.0h1.4v1.4h-1.4zM109.1 615.6h1.4v1.4h-1.4zM100.7 615.0h1.4v1.4h-1.4zM123.8 618.7h1.4v1.4h-1.4zM135.1 615.4h1.4v1.4h-1.4zM128.4 618.2h1.4v1.4h-1.4zM115.1 617.2h1.4v1.4h-1.4zM127.7 614.4h1.4v1.4h-1.4zM116.6 616.1h1.4v1.4h-1.4zM109.6 613.5h1.4v1.4h-1.4zM119.1 615.1h1.4v1.4h-1.4zM125.6 617.1h1.4v1.4h-1.4zM122.5 618.4h1.4v1.4h-1.4zM112.6 612.6h1.4v1.4h-1.4zM101.9 617.4h1.4v1.4h-1.4zM121.1 615.1h1.4v1.4h-1.4zM133.8 614.0h1.4v1.4h-1.4zM97.4 616.4h1.4v1.4h-1.4zM126.3 619.8h1.4v1.4h-1.4zM129.5 616.3h1.4v1.4h-1.4zM135.5 616.1h1.4v1.4h-1.4zM120.0 616.6h1.4v1.4h-1.4zM118.5 615.5h1.4v1.4h-1.4zM146.4 615.0h1.4v1.4h-1.4zM112.7 616.3h1.4v1.4h-1.4zM140.4 614.1h1.4v1.4h-1.4zM137.1 615.1h1.4v1.4h-1.4zM125.6 616.1h1.4v1.4h-1.4zM150.6 614.8h1.4v1.4h-1.4zM104.7 616.3h1.4v1.4h-1.4zM131.9 616.5h1.4v1.4h-1.4zM118.7 615.5h1.4v1.4h-1.4zM128.8 616.0h1.4v1.4h-1.4zM98.5 616.7h1.4v1.4h-1.4zM176.0 616.3h1.4v1.4h-1.4zM154.3 613.5h1.4v1.4h-1.4zM143.5 613.3h1.4v1.4h-1.4zM130.4 616.1h1.4v1.4h-1.4zM107.9 616.3h1.4v1.4h-1.4zM132.7 611.5h1.4v1.4h-1.4zM130.1 616.9h1.4v1.4h-1.4zM123.4 617.5h1.4v1.4h-1.4zM139.2 617.2h1.4v1.4h-1.4zM143.5 617.5h1.4v1.4h-1.4zM139.2 613.6h1.4v1.4h-1.4zM138.0 615.4h1.4v1.4h-1.4zM149.5 616.4h1.4v1.4h-1.4zM113.7 615.3h1.4v1.4h-1.4zM134.4 616.1h1.4v1.4h-1.4zM149.0 616.0h1.4v1.4h-1.4zM114.0 616.6h1.4v1.4h-1.4zM142.4 614.3h1.4v1.4h-1.4zM148.3 615.8h1.4v1.4h-1.4zM120.3 615.9h1.4v1.4h-1.4zM101.0 614.5h1.4v1.4h-1.4zM120.3 617.1h1.4v1.4h-1.4zM128.2 615.6h1.4v1.4h-1.4zM114.2 616.1h1.4v1.4h-1.4zM124.7 614.5h1.4v1.4h-1.4zM111.4 618.8h1.4v1.4h-1.4zM120.3 615.5h1.4v1.4h-1.4zM126.8 617.1h1.4v1.4h-1.4zM124.8 616.1h1.4v1.4h-1.4zM121.2 614.9h1.4v1.4h-1.4zM119.8 616.6h1.4v1.4h-1.4zM130.5 615.7h1.4v1.4h-1.4zM156.7 617.4h1.4v1.4h-1.4zM125.3 617.7h1.4v1.4h-1.4zM93.7 616.6h1.4v1.4h-1.4zM117.7 615.5h1.4v1.4h-1.4zM103.8 614.7h1.4v1.4h-1.4zM122.1 616.3h1.4v1.4h-1.4zM138.2 614.6h1.4v1.4h-1.4zM119.0 617.3h1.4v1.4h-1.4zM151.9 617.1h1.4v1.4h-1.4zM146.1 615.2h1.4v1.4h-1.4zM115.4 615.1h1.4v1.4h-1.4zM139.1 614.3h1.4v1.4h-1.4zM105.2 614.9h1.4v1.4h-1.4zM132.1 614.9h1.4v1.4h-1.4zM116.4 617.6h1.4v1.4h-1.4zM111.4 614.0h1.4v1.4h-1.4zM126.1 615.2h1.4v1.4h-1.4zM145.9 618.7h1.4v1.4h-1.4zM134.5 617.6h1.4v1.4h-1.4zM118.3 613.2h1.4v1.4h-1.4zM136.0 615.2h1.4v1.4h-1.4zM132.3 615.8h1.4v1.4h-1.4zM120.5 615.1h1.4v1.4h-1.4zM125.6 618.4h1.4v1.4h-1.4zM111.7 613.9h1.4v1.4h-1.4zM140.0 612.6h1.4v1.4h-1.4zM134.9 617.6h1.4v1.4h-1.4zM130.1 616.4h1.4v1.4h-1.4zM124.1 616.5h1.4v1.4h-1.4zM125.4 615.3h1.4v1.4h-1.4zM140.0 615.9h1.4v1.4h-1.4zM118.0 613.9h1.4v1.4h-1.4zM122.4 616.7h1.4v1.4h-1.4zM127.4 616.5h1.4v1.4h-1.4zM139.6 614.3h1.4v1.4h-1.4zM147.3 614.9h1.4v1.4h-1.4zM134.7 616.3h1.4v1.4h-1.4zM137.2 615.5h1.4v1.4h-1.4zM116.0 615.2h1.4v1.4h-1.4zM128.9 616.5h1.4v1.4h-1.4zM138.9 614.3h1.4v1.4h-1.4zM140.0 611.9h1.4v1.4h-1.4zM106.8 615.3h1.4v1.4h-1.4zM119.7 616.1h1.4v1.4h-1.4zM118.8 617.6h1.4v1.4h-1.4zM128.4 616.4h1.4v1.4h-1.4zM96.3 616.8h1.4v1.4h-1.4zM127.2 614.5h1.4v1.4h-1.4zM122.6 615.6h1.4v1.4h-1.4zM118.9 615.7h1.4v1.4h-1.4zM156.8 615.6h1.4v1.4h-1.4zM95.4 617.2h1.4v1.4h-1.4zM116.7 616.5h1.4v1.4h-1.4zM129.6 616.8h1.4v1.4h-1.4zM110.3 614.9h1.4v1.4h-1.4zM117.1 616.5h1.4v1.4h-1.4zM141.7 617.6h1.4v1.4h-1.4zM117.8 616.8h1.4v1.4h-1.4zM123.3 617.1h1.4v1.4h-1.4zM119.1 614.5h1.4v1.4h-1.4zM118.3 614.4h1.4v1.4h-1.4zM137.8 615.0h1.4v1.4h-1.4zM120.2 615.3h1.4v1.4h-1.4zM151.0 617.6h1.4v1.4h-1.4zM144.2 614.4h1.4v1.4h-1.4zM114.3 618.3h1.4v1.4h-1.4zM138.0 615.3h1.4v1.4h-1.4zM133.9 615.1h1.4v1.4h-1.4zM129.4 616.6h1.4v1.4h-1.4zM112.1 617.6h1.4v1.4h-1.4zM82.9 613.9h1.4v1.4h-1.4zM115.0 616.5h1.4v1.4h-1.4zM141.7 616.1h1.4v1.4h-1.4zM138.1 618.4h1.4v1.4h-1.4zM120.5 616.9h1.4v1.4h-1.4zM130.6 617.2h1.4v1.4h-1.4zM98.4 615.7h1.4v1.4h-1.4zM123.3 615.7h1.4v1.4h-1.4zM138.6 616.9h1.4v1.4h-1.4zM139.8 616.2h1.4v1.4h-1.4zM146.6 613.5h1.4v1.4h-1.4zM104.1 616.3h1.4v1.4h-1.4zM123.0 616.5h1.4v1.4h-1.4zM137.2 617.1h1.4v1.4h-1.4zM120.7 616.6h1.4v1.4h-1.4zM70.5 616.8h1.4v1.4h-1.4zM143.1 614.9h1.4v1.4h-1.4zM123.6 616.6h1.4v1.4h-1.4zM109.3 617.5h1.4v1.4h-1.4zM131.0 616.7h1.4v1.4h-1.4zM112.4 617.0h1.4v1.4h-1.4zM118.7 615.2h1.4v1.4h-1.4zM141.0 617.4h1.4v1.4h-1.4zM136.6 616.2h1.4v1.4h-1.4zM105.1 618.5h1.4v1.4h-1.4zM124.5 619.1h1.4v1.4h-1.4zM150.8 617.7h1.4v1.4h-1.4zM121.2 618.8h1.4v1.4h-1.4zM134.5 617.5h1.4v1.4h-1.4zM137.5 614.4h1.4v1.4h-1.4zM120.5 613.3h1.4v1.4h-1.4zM135.4 616.1h1.4v1.4h-1.4zM117.1 614.7h1.4v1.4h-1.4zM129.1 616.7h1.4v1.4h-1.4zM164.5 618.6h1.4v1.4h-1.4zM136.2 615.4h1.4v1.4h-1.4zM137.0 617.7h1.4v1.4h-1.4zM133.2 616.4h1.4v1.4h-1.4zM103.8 615.0h1.4v1.4h-1.4zM128.9 614.9h1.4v1.4h-1.4zM123.6 616.6h1.4v1.4h-1.4zM150.6 617.9h1.4v1.4h-1.4zM130.4 618.3h1.4v1.4h-1.4zM157.3 616.4h1.4v1.4h-1.4zM112.1 615.6h1.4v1.4h-1.4zM111.4 617.6h1.4v1.4h-1.4zM135.9 614.8h1.4v1.4h-1.4zM117.3 618.9h1.4v1.4h-1.4zM127.3 617.9h1.4v1.4h-1.4zM125.7 614.0h1.4v1.4h-1.4zM107.5 614.8h1.4v1.4h-1.4zM122.9 615.1h1.4v1.4h-1.4zM120.4 616.2h1.4v1.4h-1.4zM148.8 615.8h1.4v1.4h-1.4zM126.4 616.4h1.4v1.4h-1.4zM113.6 616.7h1.4v1.4h-1.4zM113.3 616.4h1.4v1.4h-1.4zM115.0 616.9h1.4v1.4h-1.4zM145.5 614.6h1.4v1.4h-1.4zM140.6 615.0h1.4v1.4h-1.4zM119.7 613.6h1.4v1.4h-1.4zM143.4 615.1h1.4v1.4h-1.4zM94.6 618.4h1.4v1.4h-1.4zM128.5 614.7h1.4v1.4h-1.4zM132.0 615.0h1.4v1.4h-1.4zM98.4 615.7h1.4v1.4h-1.4zM106.5 613.1h1.4v1.4h-1.4zM127.5 615.9h1.4v1.4h-1.4zM138.1 612.9h1.4v1.4h-1.4zM115.8 615.0h1.4v1.4h-1.4zM134.4 615.1h1.4v1.4h-1.4zM131.9 615.4h1.4v1.4h-1.4zM137.4 615.5h1.4v1.4h-1.4zM127.1 614.2h1.4v1.4h-1.4zM148.6 615.7h1.4v1.4h-1.4zM155.1 615.3h1.4v1.4h-1.4zM154.8 613.8h1.4v1.4h-1.4zM121.9 616.5h1.4v1.4h-1.4zM105.1 614.1h1.4v1.4h-1.4zM130.2 617.5h1.4v1.4h-1.4zM149.5 614.3h1.4v1.4h-1.4zM140.9 619.1h1.4v1.4h-1.4zM112.0 616.2h1.4v1.4h-1.4zM122.5 616.4h1.4v1.4h-1.4zM140.3 614.3h1.4v1.4h-1.4zM132.8 614.0h1.4v1.4h-1.4zM138.6 615.7h1.4v1.4h-1.4zM124.7 617.3h1.4v1.4h-1.4zM89.1 617.5h1.4v1.4h-1.4zM134.9 615.1h1.4v1.4h-1.4zM151.0 614.9h1.4v1.4h-1.4zM94.0 616.5h1.4v1.4h-1.4zM116.0 617.7h1.4v1.4h-1.4zM144.4 616.4h1.4v1.4h-1.4zM155.9 613.9h1.4v1.4h-1.4zM123.6 618.4h1.4v1.4h-1.4zM162.0 616.6h1.4v1.4h-1.4zM113.7 615.3h1.4v1.4h-1.4zM138.2 615.9h1.4v1.4h-1.4zM118.1 616.9h1.4v1.4h-1.4zM113.9 614.4h1.4v1.4h-1.4zM128.1 615.9h1.4v1.4h-1.4zM113.3 616.0h1.4v1.4h-1.4zM139.3 613.1h1.4v1.4h-1.4zM130.4 614.8h1.4v1.4h-1.4zM119.7 617.8h1.4v1.4h-1.4zM125.1 615.7h1.4v1.4h-1.4zM118.0 615.1h1.4v1.4h-1.4zM118.4 615.9h1.4v1.4h-1.4zM133.4 615.3h1.4v1.4h-1.4zM123.2 615.3h1.4v1.4h-1.4zM139.7 615.4h1.4v1.4h-1.4zM137.2 615.5h1.4v1.4h-1.4zM122.3 616.9h1.4v1.4h-1.4zM142.3 617.1h1.4v1.4h-1.4zM132.0 613.5h1.4v1.4h-1.4zM128.0 613.1h1.4v1.4h-1.4zM123.1 615.9h1.4v1.4h-1.4zM126.8 614.9h1.4v1.4h-1.4zM137.9 616.3h1.4v1.4h-1.4zM120.5 614.1h1.4v1.4h-1.4zM140.4 616.8h1.4v1.4h-1.4zM130.9 617.6h1.4v1.4h-1.4zM122.5 617.5h1.4v1.4h-1.4zM123.9 615.1h1.4v1.4h-1.4zM128.0 615.2h1.4v1.4h-1.4zM143.3 612.8h1.4v1.4h-1.4zM154.8 619.7h1.4v1.4h-1.4zM125.4 619.4h1.4v1.4h-1.4zM111.7 617.5h1.4v1.4h-1.4zM120.9 618.5h1.4v1.4h-1.4zM131.5 617.7h1.4v1.4h-1.4zM117.6 614.1h1.4v1.4h-1.4zM127.6 618.1h1.4v1.4h-1.4zM133.1 614.9h1.4v1.4h-1.4zM139.8 615.5h1.4v1.4h-1.4zM136.8 616.6h1.4v1.4h-1.4zM93.2 613.5h1.4v1.4h-1.4zM140.4 613.9h1.4v1.4h-1.4zM115.5 616.5h1.4v1.4h-1.4zM133.8 616.5h1.4v1.4h-1.4zM153.3 613.7h1.4v1.4h-1.4zM179.2 618.1h1.4v1.4h-1.4zM145.0 616.0h1.4v1.4h-1.4zM113.1 615.8h1.4v1.4h-1.4zM113.7 615.2h1.4v1.4h-1.4zM130.6 616.7h1.4v1.4h-1.4zM146.5 616.2h1.4v1.4h-1.4zM124.9 616.8h1.4v1.4h-1.4zM130.7 614.4h1.4v1.4h-1.4zM142.9 617.3h1.4v1.4h-1.4zM108.7 615.2h1.4v1.4h-1.4zM120.6 614.1h1.4v1.4h-1.4zM118.6 616.5h1.4v1.4h-1.4zM129.1 616.9h1.4v1.4h-1.4zM149.4 615.4h1.4v1.4h-1.4zM136.5 617.9h1.4v1.4h-1.4zM126.8 616.1h1.4v1.4h-1.4zM125.0 615.8h1.4v1.4h-1.4zM118.7 616.7h1.4v1.4h-1.4zM124.3 616.6h1.4v1.4h-1.4zM120.8 615.3h1.4v1.4h-1.4zM158.5 614.5h1.4v1.4h-1.4zM138.0 614.8h1.4v1.4h-1.4zM128.3 612.4h1.4v1.4h-1.4zM130.6 617.9h1.4v1.4h-1.4zM154.1 614.8h1.4v1.4h-1.4zM137.8 616.7h1.4v1.4h-1.4zM143.0 616.3h1.4v1.4h-1.4zM128.4 615.0h1.4v1.4h-1.4zM133.3 614.9h1.4v1.4h-1.4zM119.1 614.9h1.4v1.4h-1.4zM125.5 616.3h1.4v1.4h-1.4zM138.7 618.5h1.4v1.4h-1.4zM163.4 616.4h1.4v1.4h-1.4zM117.5 615.0h1.4v1.4h-1.4zM113.3 613.1h1.4v1.4h-1.4zM116.2 616.9h1.4v1.4h-1.4zM117.6 614.9h1.4v1.4h-1.4zM160.5 614.8h1.4v1.4h-1.4zM117.8 615.5h1.4v1.4h-1.4zM121.9 614.2h1.4v1.4h-1.4zM144.0 611.8h1.4v1.4h-1.4zM135.4 616.7h1.4v1.4h-1.4zM154.3 617.7h1.4v1.4h-1.4zM140.8 616.0h1.4v1.4h-1.4zM122.0 617.3h1.4v1.4h-1.4zM123.1 619.4h1.4v1.4h-1.4zM122.2 614.5h1.4v1.4h-1.4zM117.1 613.3h1.4v1.4h-1.4zM129.0 614.3h1.4v1.4h-1.4zM113.3 616.4h1.4v1.4h-1.4zM120.0 620.3h1.4v1.4h-1.4zM132.5 617.1h1.4v1.4h-1.4zM136.1 615.0h1.4v1.4h-1.4zM134.8 616.0h1.4v1.4h-1.4zM110.3 614.8h1.4v1.4h-1.4zM124.3 613.0h1.4v1.4h-1.4zM129.9 618.1h1.4v1.4h-1.4zM107.8 616.1h1.4v1.4h-1.4zM126.8 615.5h1.4v1.4h-1.4zM118.3 618.1h1.4v1.4h-1.4zM135.0 613.1h1.4v1.4h-1.4zM143.0 616.5h1.4v1.4h-1.4zM134.1 615.6h1.4v1.4h-1.4zM114.5 615.5h1.4v1.4h-1.4zM122.8 615.7h1.4v1.4h-1.4zM148.0 615.8h1.4v1.4h-1.4zM138.7 617.0h1.4v1.4h-1.4zM124.0 616.0h1.4v1.4h-1.4zM133.2 616.2h1.4v1.4h-1.4zM160.1 616.1h1.4v1.4h-1.4zM148.4 617.5h1.4v1.4h-1.4zM142.8 614.7h1.4v1.4h-1.4zM160.6 615.9h1.4v1.4h-1.4zM118.2 616.7h1.4v1.4h-1.4zM115.2 615.2h1.4v1.4h-1.4zM124.3 615.1h1.4v1.4h-1.4zM119.0 615.5h1.4v1.4h-1.4zM146.7 617.2h1.4v1.4h-1.4zM119.3 612.5h1.4v1.4h-1.4zM146.7 617.2h1.4v1.4h-1.4zM149.8 615.5h1.4v1.4h-1.4zM117.4 616.4h1.4v1.4h-1.4zM139.0 611.8h1.4v1.4h-1.4zM101.4 615.4h1.4v1.4h-1.4zM123.9 615.2h1.4v1.4h-1.4zM134.8 613.7h1.4v1.4h-1.4zM130.8 613.5h1.4v1.4h-1.4zM89.7 615.4h1.4v1.4h-1.4zM141.7 615.7h1.4v1.4h-1.4zM141.0 616.8h1.4v1.4h-1.4zM151.6 613.8h1.4v1.4h-1.4zM137.3 614.4h1.4v1.4h-1.4zM125.6 616.6h1.4v1.4h-1.4zM105.8 613.3h1.4v1.4h-1.4zM114.1 615.1h1.4v1.4h-1.4zM110.6 614.5h1.4v1.4h-1.4zM140.3 616.5h1.4v1.4h-1.4zM147.1 618.1h1.4v1.4h-1.4zM134.8 616.7h1.4v1.4h-1.4zM123.9 616.6h1.4v1.4h-1.4zM141.7 615.7h1.4v1.4h-1.4zM125.3 615.5h1.4v1.4h-1.4zM149.1 615.1h1.4v1.4h-1.4zM116.8 616.5h1.4v1.4h-1.4zM127.9 617.7h1.4v1.4h-1.4zM123.7 615.2h1.4v1.4h-1.4zM141.6 618.0h1.4v1.4h-1.4zM128.7 615.4h1.4v1.4h-1.4zM126.7 616.1h1.4v1.4h-1.4zM118.6 617.0h1.4v1.4h-1.4zM155.8 616.0h1.4v1.4h-1.4zM138.1 613.9h1.4v1.4h-1.4zM99.6 615.0h1.4v1.4h-1.4zM101.8 620.1h1.4v1.4h-1.4zM130.8 616.3h1.4v1.4h-1.4zM138.0 614.4h1.4v1.4h-1.4zM131.0 615.6h1.4v1.4h-1.4zM116.2 616.9h1.4v1.4h-1.4zM112.0 617.5h1.4v1.4h-1.4zM118.9 615.5h1.4v1.4h-1.4zM135.4 615.7h1.4v1.4h-1.4zM116.2 617.7h1.4v1.4h-1.4zM124.6 613.9h1.4v1.4h-1.4zM136.3 616.4h1.4v1.4h-1.4zM131.0 617.8h1.4v1.4h-1.4zM109.1 614.8h1.4v1.4h-1.4zM165.5 614.4h1.4v1.4h-1.4zM133.3 615.5h1.4v1.4h-1.4zM94.1 613.0h1.4v1.4h-1.4zM126.2 614.7h1.4v1.4h-1.4zM138.4 616.6h1.4v1.4h-1.4zM113.5 617.4h1.4v1.4h-1.4zM141.5 617.3h1.4v1.4h-1.4zM131.4 616.1h1.4v1.4h-1.4zM124.4 615.6h1.4v1.4h-1.4zM128.4 615.2h1.4v1.4h-1.4zM129.7 618.7h1.4v1.4h-1.4zM135.7 616.3h1.4v1.4h-1.4zM114.9 614.9h1.4v1.4h-1.4zM146.7 617.0h1.4v1.4h-1.4zM128.0 614.8h1.4v1.4h-1.4zM112.7 617.9h1.4v1.4h-1.4zM134.3 615.4h1.4v1.4h-1.4zM141.0 616.4h1.4v1.4h-1.4zM133.7 617.3h1.4v1.4h-1.4zM129.5 617.9h1.4v1.4h-1.4zM121.8 612.4h1.4v1.4h-1.4zM139.8 617.4h1.4v1.4h-1.4zM129.8 616.4h1.4v1.4h-1.4zM100.6 615.7h1.4v1.4h-1.4zM127.4 616.5h1.4v1.4h-1.4zM104.8 615.4h1.4v1.4h-1.4zM138.8 617.7h1.4v1.4h-1.4zM112.6 616.1h1.4v1.4h-1.4zM123.4 615.1h1.4v1.4h-1.4zM126.2 613.3h1.4v1.4h-1.4zM126.7 614.4h1.4v1.4h-1.4zM135.9 616.1h1.4v1.4h-1.4zM173.6 614.1h1.4v1.4h-1.4zM129.7 616.0h1.4v1.4h-1.4zM149.2 617.1h1.4v1.4h-1.4zM132.0 615.0h1.4v1.4h-1.4zM132.9 616.6h1.4v1.4h-1.4zM117.3 616.7h1.4v1.4h-1.4zM130.9 616.4h1.4v1.4h-1.4zM113.3 615.0h1.4v1.4h-1.4zM95.5 615.0h1.4v1.4h-1.4zM138.7 613.6h1.4v1.4h-1.4zM138.1 617.2h1.4v1.4h-1.4zM135.5 615.3h1.4v1.4h-1.4zM129.0 616.9h1.4v1.4h-1.4zM105.2 615.0h1.4v1.4h-1.4zM116.4 613.7h1.4v1.4h-1.4zM112.0 614.2h1.4v1.4h-1.4zM117.3 615.9h1.4v1.4h-1.4zM121.1 615.6h1.4v1.4h-1.4zM118.9 614.9h1.4v1.4h-1.4zM148.2 617.5h1.4v1.4h-1.4zM130.2 615.4h1.4v1.4h-1.4zM127.7 618.2h1.4v1.4h-1.4zM141.1 617.9h1.4v1.4h-1.4zM124.9 615.7h1.4v1.4h-1.4zM130.2 614.1h1.4v1.4h-1.4zM137.7 616.3h1.4v1.4h-1.4zM138.6 615.2h1.4v1.4h-1.4zM126.3 618.9h1.4v1.4h-1.4zM134.4 615.2h1.4v1.4h-1.4zM130.3 613.6h1.4v1.4h-1.4zM123.4 616.8h1.4v1.4h-1.4zM138.6 616.1h1.4v1.4h-1.4zM176.7 618.5h1.4v1.4h-1.4zM139.8 616.1h1.4v1.4h-1.4zM143.6 617.2h1.4v1.4h-1.4zM147.9 615.7h1.4v1.4h-1.4zM142.2 615.4h1.4v1.4h-1.4zM140.6 620.0h1.4v1.4h-1.4zM140.0 613.7h1.4v1.4h-1.4zM148.8 616.8h1.4v1.4h-1.4zM129.4 615.3h1.4v1.4h-1.4zM140.7 619.1h1.4v1.4h-1.4zM145.1 617.9h1.4v1.4h-1.4zM124.7 616.8h1.4v1.4h-1.4zM119.4 618.5h1.4v1.4h-1.4zM106.4 617.1h1.4v1.4h-1.4zM127.1 614.3h1.4v1.4h-1.4zM131.0 615.3h1.4v1.4h-1.4zM125.0 617.8h1.4v1.4h-1.4zM128.7 615.3h1.4v1.4h-1.4zM130.9 615.8h1.4v1.4h-1.4zM123.0 616.3h1.4v1.4h-1.4zM112.2 613.7h1.4v1.4h-1.4zM136.5 618.0h1.4v1.4h-1.4zM121.3 617.0h1.4v1.4h-1.4zM134.0 613.7h1.4v1.4h-1.4zM137.4 617.0h1.4v1.4h-1.4zM124.1 616.3h1.4v1.4h-1.4zM165.2 617.6h1.4v1.4h-1.4zM133.8 615.7h1.4v1.4h-1.4zM142.4 615.6h1.4v1.4h-1.4zM123.2 617.5h1.4v1.4h-1.4zM122.2 614.7h1.4v1.4h-1.4zM113.8 616.9h1.4v1.4h-1.4zM90.0 615.7h1.4v1.4h-1.4zM106.5 617.9h1.4v1.4h-1.4zM104.8 615.9h1.4v1.4h-1.4zM112.6 616.8h1.4v1.4h-1.4zM117.6 615.9h1.4v1.4h-1.4zM148.9 616.5h1.4v1.4h-1.4zM124.7 613.3h1.4v1.4h-1.4zM129.1 614.7h1.4v1.4h-1.4zM122.8 616.4h1.4v1.4h-1.4zM117.2 617.0h1.4v1.4h-1.4zM127.8 615.7h1.4v1.4h-1.4zM134.4 614.9h1.4v1.4h-1.4zM134.1 614.7h1.4v1.4h-1.4zM111.7 616.9h1.4v1.4h-1.4zM114.4 616.9h1.4v1.4h-1.4zM146.9 613.4h1.4v1.4h-1.4zM110.9 614.9h1.4v1.4h-1.4zM111.3 614.9h1.4v1.4h-1.4zM119.0 619.0h1.4v1.4h-1.4zM143.9 616.1h1.4v1.4h-1.4zM128.6 614.6h1.4v1.4h-1.4zM119.7 613.2h1.4v1.4h-1.4zM106.5 617.1h1.4v1.4h-1.4zM126.5 615.1h1.4v1.4h-1.4zM113.3 617.6h1.4v1.4h-1.4zM134.5 615.0h1.4v1.4h-1.4zM126.1 615.2h1.4v1.4h-1.4zM124.1 615.8h1.4v1.4h-1.4zM116.5 615.3h1.4v1.4h-1.4zM118.7 614.1h1.4v1.4h-1.4zM106.3 614.9h1.4v1.4h-1.4zM134.7 618.0h1.4v1.4h-1.4zM136.3 615.5h1.4v1.4h-1.4zM119.0 616.3h1.4v1.4h-1.4zM133.0 615.4h1.4v1.4h-1.4zM138.4 617.0h1.4v1.4h-1.4zM113.8 614.9h1.4v1.4h-1.4zM91.1 617.4h1.4v1.4h-1.4zM133.6 615.0h1.4v1.4h-1.4zM111.1 615.0h1.4v1.4h-1.4zM106.8 618.0h1.4v1.4h-1.4zM132.4 618.5h1.4v1.4h-1.4zM128.3 614.4h1.4v1.4h-1.4zM149.2 614.0h1.4v1.4h-1.4zM121.8 613.7h1.4v1.4h-1.4zM146.9 615.0h1.4v1.4h-1.4zM141.0 616.3h1.4v1.4h-1.4zM124.3 616.5h1.4v1.4h-1.4zM115.3 618.3h1.4v1.4h-1.4zM120.3 613.7h1.4v1.4h-1.4zM117.6 617.9h1.4v1.4h-1.4zM140.7 615.8h1.4v1.4h-1.4zM138.1 614.7h1.4v1.4h-1.4zM134.6 616.6h1.4v1.4h-1.4zM135.0 616.2h1.4v1.4h-1.4zM135.2 613.0h1.4v1.4h-1.4zM137.5 616.3h1.4v1.4h-1.4zM112.3 616.1h1.4v1.4h-1.4zM106.0 614.4h1.4v1.4h-1.4zM110.6 613.7h1.4v1.4h-1.4zM145.0 615.7h1.4v1.4h-1.4zM112.1 616.0h1.4v1.4h-1.4zM135.0 614.6h1.4v1.4h-1.4zM142.4 617.8h1.4v1.4h-1.4zM130.2 617.6h1.4v1.4h-1.4zM127.9 613.5h1.4v1.4h-1.4zM137.1 615.9h1.4v1.4h-1.4zM128.3 617.0h1.4v1.4h-1.4zM131.2 616.6h1.4v1.4h-1.4zM123.5 614.8h1.4v1.4h-1.4zM129.9 617.9h1.4v1.4h-1.4zM115.8 618.3h1.4v1.4h-1.4zM137.5 617.2h1.4v1.4h-1.4zM132.5 616.7h1.4v1.4h-1.4zM125.7 616.1h1.4v1.4h-1.4zM111.6 616.3h1.4v1.4h-1.4zM129.8 616.5h1.4v1.4h-1.4zM125.1 615.3h1.4v1.4h-1.4zM136.9 614.8h1.4v1.4h-1.4zM119.2 615.6h1.4v1.4h-1.4zM130.1 614.4h1.4v1.4h-1.4zM122.9 616.6h1.4v1.4h-1.4zM122.3 615.5h1.4v1.4h-1.4zM116.8 616.8h1.4v1.4h-1.4zM116.7 613.5h1.4v1.4h-1.4zM128.3 616.4h1.4v1.4h-1.4zM112.9 616.2h1.4v1.4h-1.4zM120.3 616.3h1.4v1.4h-1.4zM85.1 613.5h1.4v1.4h-1.4zM146.6 616.4h1.4v1.4h-1.4zM142.1 616.9h1.4v1.4h-1.4zM101.8 615.5h1.4v1.4h-1.4zM133.6 616.3h1.4v1.4h-1.4zM122.1 616.6h1.4v1.4h-1.4zM129.4 615.9h1.4v1.4h-1.4zM156.2 617.3h1.4v1.4h-1.4zM120.8 616.9h1.4v1.4h-1.4zM139.5 616.3h1.4v1.4h-1.4zM132.0 616.3h1.4v1.4h-1.4zM147.3 613.7h1.4v1.4h-1.4zM157.1 613.5h1.4v1.4h-1.4zM140.6 618.7h1.4v1.4h-1.4zM103.7 615.8h1.4v1.4h-1.4zM106.2 615.5h1.4v1.4h-1.4zM126.0 614.8h1.4v1.4h-1.4zM133.8 615.8h1.4v1.4h-1.4zM122.2 615.5h1.4v1.4h-1.4zM135.3 615.9h1.4v1.4h-1.4zM137.9 617.0h1.4v1.4h-1.4zM141.8 616.1h1.4v1.4h-1.4zM116.2 616.4h1.4v1.4h-1.4zM129.8 614.5h1.4v1.4h-1.4zM113.0 618.0h1.4v1.4h-1.4zM120.4 615.9h1.4v1.4h-1.4zM121.8 613.5h1.4v1.4h-1.4zM128.7 612.8h1.4v1.4h-1.4zM111.6 614.1h1.4v1.4h-1.4zM123.0 615.6h1.4v1.4h-1.4zM124.8 615.5h1.4v1.4h-1.4zM135.0 615.3h1.4v1.4h-1.4zM121.4 614.1h1.4v1.4h-1.4zM109.4 617.9h1.4v1.4h-1.4zM126.6 615.0h1.4v1.4h-1.4zM137.0 616.5h1.4v1.4h-1.4zM134.8 615.4h1.4v1.4h-1.4zM148.3 614.2h1.4v1.4h-1.4zM127.2 616.6h1.4v1.4h-1.4zM110.4 616.7h1.4v1.4h-1.4zM147.6 615.4h1.4v1.4h-1.4zM116.2 616.0h1.4v1.4h-1.4zM116.5 615.4h1.4v1.4h-1.4zM128.6 618.5h1.4v1.4h-1.4zM129.3 615.9h1.4v1.4h-1.4zM145.2 615.5h1.4v1.4h-1.4zM126.7 616.2h1.4v1.4h-1.4zM135.2 610.6h1.4v1.4h-1.4zM99.3 616.2h1.4v1.4h-1.4zM130.0 616.2h1.4v1.4h-1.4zM139.4 613.1h1.4v1.4h-1.4zM138.6 616.0h1.4v1.4h-1.4zM116.4 618.5h1.4v1.4h-1.4zM132.5 614.6h1.4v1.4h-1.4zM140.3 616.6h1.4v1.4h-1.4zM126.0 614.0h1.4v1.4h-1.4zM147.7 616.9h1.4v1.4h-1.4zM116.0 616.4h1.4v1.4h-1.4zM137.3 616.6h1.4v1.4h-1.4zM121.8 618.6h1.4v1.4h-1.4zM158.2 615.3h1.4v1.4h-1.4zM152.4 617.1h1.4v1.4h-1.4zM148.1 618.8h1.4v1.4h-1.4zM116.3 617.9h1.4v1.4h-1.4zM100.0 615.8h1.4v1.4h-1.4zM127.3 618.7h1.4v1.4h-1.4zM131.7 615.9h1.4v1.4h-1.4zM135.6 615.3h1.4v1.4h-1.4zM126.3 614.4h1.4v1.4h-1.4zM133.4 613.9h1.4v1.4h-1.4zM135.0 617.4h1.4v1.4h-1.4zM132.7 618.1h1.4v1.4h-1.4zM103.1 617.1h1.4v1.4h-1.4zM125.0 615.7h1.4v1.4h-1.4zM137.7 614.9h1.4v1.4h-1.4zM148.1 613.9h1.4v1.4h-1.4zM148.3 616.5h1.4v1.4h-1.4zM106.2 615.7h1.4v1.4h-1.4zM132.7 614.3h1.4v1.4h-1.4zM130.0 615.0h1.4v1.4h-1.4zM139.8 616.5h1.4v1.4h-1.4zM131.6 614.8h1.4v1.4h-1.4zM139.0 617.1h1.4v1.4h-1.4zM120.2 616.5h1.4v1.4h-1.4zM121.5 615.7h1.4v1.4h-1.4zM109.2 616.7h1.4v1.4h-1.4zM142.6 615.1h1.4v1.4h-1.4zM162.1 615.8h1.4v1.4h-1.4zM137.5 616.4h1.4v1.4h-1.4zM108.6 616.1h1.4v1.4h-1.4zM139.6 616.7h1.4v1.4h-1.4zM122.4 614.5h1.4v1.4h-1.4zM133.7 615.6h1.4v1.4h-1.4zM131.8 616.7h1.4v1.4h-1.4zM122.7 616.1h1.4v1.4h-1.4zM129.6 616.9h1.4v1.4h-1.4zM123.4 617.7h1.4v1.4h-1.4zM105.7 616.1h1.4v1.4h-1.4zM124.3 618.2h1.4v1.4h-1.4zM119.1 615.6h1.4v1.4h-1.4zM160.2 616.2h1.4v1.4h-1.4zM133.6 615.1h1.4v1.4h-1.4zM110.7 614.1h1.4v1.4h-1.4zM133.3 617.1h1.4v1.4h-1.4zM139.2 617.2h1.4v1.4h-1.4zM164.6 616.5h1.4v1.4h-1.4zM118.2 617.0h1.4v1.4h-1.4zM156.3 613.9h1.4v1.4h-1.4zM107.7 614.3h1.4v1.4h-1.4zM139.0 615.9h1.4v1.4h-1.4zM126.6 615.1h1.4v1.4h-1.4zM117.1 614.0h1.4v1.4h-1.4zM132.1 617.2h1.4v1.4h-1.4zM109.0 615.2h1.4v1.4h-1.4zM131.8 616.0h1.4v1.4h-1.4zM133.5 614.5h1.4v1.4h-1.4zM130.2 615.3h1.4v1.4h-1.4zM127.4 616.7h1.4v1.4h-1.4zM116.1 614.5h1.4v1.4h-1.4zM130.3 615.1h1.4v1.4h-1.4zM128.9 616.2h1.4v1.4h-1.4zM130.5 615.4h1.4v1.4h-1.4zM108.4 617.5h1.4v1.4h-1.4zM120.6 617.0h1.4v1.4h-1.4zM149.4 615.7h1.4v1.4h-1.4zM144.7 617.2h1.4v1.4h-1.4zM126.4 616.2h1.4v1.4h-1.4zM118.1 617.1h1.4v1.4h-1.4zM134.1 615.8h1.4v1.4h-1.4zM117.8 616.2h1.4v1.4h-1.4zM126.5 615.2h1.4v1.4h-1.4zM133.0 614.4h1.4v1.4h-1.4zM114.6 617.0h1.4v1.4h-1.4zM101.6 615.1h1.4v1.4h-1.4zM80.0 617.3h1.4v1.4h-1.4zM125.1 615.3h1.4v1.4h-1.4zM112.8 615.7h1.4v1.4h-1.4zM98.2 616.5h1.4v1.4h-1.4zM125.2 615.0h1.4v1.4h-1.4zM148.6 614.7h1.4v1.4h-1.4zM140.1 615.1h1.4v1.4h-1.4zM115.2 617.3h1.4v1.4h-1.4zM123.5 614.1h1.4v1.4h-1.4zM102.6 613.2h1.4v1.4h-1.4zM147.0 616.0h1.4v1.4h-1.4zM145.1 614.9h1.4v1.4h-1.4zM162.9 614.7h1.4v1.4h-1.4zM133.3 615.4h1.4v1.4h-1.4zM111.9 614.3h1.4v1.4h-1.4zM145.4 615.5h1.4v1.4h-1.4zM146.6 616.6h1.4v1.4h-1.4zM134.1 616.9h1.4v1.4h-1.4zM118.0 613.9h1.4v1.4h-1.4zM132.4 614.4h1.4v1.4h-1.4zM122.1 615.3h1.4v1.4h-1.4zM118.7 617.7h1.4v1.4h-1.4zM114.8 614.7h1.4v1.4h-1.4zM134.0 616.9h1.4v1.4h-1.4zM108.7 614.0h1.4v1.4h-1.4zM136.2 613.5h1.4v1.4h-1.4zM113.5 613.8h1.4v1.4h-1.4zM122.6 615.0h1.4v1.4h-1.4zM117.1 614.2h1.4v1.4h-1.4zM104.5 616.3h1.4v1.4h-1.4zM100.8 613.3h1.4v1.4h-1.4zM112.4 615.4h1.4v1.4h-1.4zM123.4 614.7h1.4v1.4h-1.4zM113.3 616.2h1.4v1.4h-1.4zM130.8 614.0h1.4v1.4h-1.4zM109.3 616.1h1.4v1.4h-1.4zM123.2 616.1h1.4v1.4h-1.4zM135.4 617.5h1.4v1.4h-1.4zM128.5 614.9h1.4v1.4h-1.4zM149.0 618.3h1.4v1.4h-1.4zM143.9 616.2h1.4v1.4h-1.4zM101.8 616.9h1.4v1.4h-1.4zM140.2 614.9h1.4v1.4h-1.4zM145.5 613.8h1.4v1.4h-1.4zM118.8 617.2h1.4v1.4h-1.4zM134.3 615.6h1.4v1.4h-1.4zM137.9 617.2h1.4v1.4h-1.4zM113.4 615.9h1.4v1.4h-1.4zM89.4 617.2h1.4v1.4h-1.4zM114.9 616.6h1.4v1.4h-1.4zM136.4 617.4h1.4v1.4h-1.4zM125.5 617.9h1.4v1.4h-1.4zM90.3 614.7h1.4v1.4h-1.4zM125.6 617.2h1.4v1.4h-1.4zM118.8 615.6h1.4v1.4h-1.4zM141.9 617.4h1.4v1.4h-1.4zM119.5 614.9h1.4v1.4h-1.4zM116.9 614.3h1.4v1.4h-1.4zM116.9 617.4h1.4v1.4h-1.4zM128.8 615.7h1.4v1.4h-1.4zM143.1 615.9h1.4v1.4h-1.4zM113.9 615.2h1.4v1.4h-1.4zM136.8 616.6h1.4v1.4h-1.4zM101.0 616.3h1.4v1.4h-1.4zM124.8 617.1h1.4v1.4h-1.4zM141.4 616.7h1.4v1.4h-1.4zM132.6 614.6h1.4v1.4h-1.4zM121.9 617.5h1.4v1.4h-1.4zM108.4 616.1h1.4v1.4h-1.4zM146.5 617.9h1.4v1.4h-1.4zM126.6 614.6h1.4v1.4h-1.4zM124.1 618.4h1.4v1.4h-1.4zM142.8 615.1h1.4v1.4h-1.4zM129.4 615.5h1.4v1.4h-1.4zM105.3 615.2h1.4v1.4h-1.4zM99.3 617.4h1.4v1.4h-1.4zM147.3 615.2h1.4v1.4h-1.4zM123.1 616.8h1.4v1.4h-1.4zM150.6 617.6h1.4v1.4h-1.4zM122.9 616.3h1.4v1.4h-1.4zM124.0 614.4h1.4v1.4h-1.4zM122.0 617.1h1.4v1.4h-1.4zM119.3 615.5h1.4v1.4h-1.4zM142.0 615.9h1.4v1.4h-1.4zM114.4 616.2h1.4v1.4h-1.4zM119.6 613.0h1.4v1.4h-1.4zM129.7 618.9h1.4v1.4h-1.4zM125.1 616.4h1.4v1.4h-1.4zM140.6 615.5h1.4v1.4h-1.4zM116.4 617.9h1.4v1.4h-1.4zM116.5 615.0h1.4v1.4h-1.4zM74.2 614.5h1.4v1.4h-1.4zM122.3 615.4h1.4v1.4h-1.4zM143.1 616.3h1.4v1.4h-1.4zM139.6 616.1h1.4v1.4h-1.4zM133.9 617.6h1.4v1.4h-1.4zM130.5 613.4h1.4v1.4h-1.4zM126.5 612.6h1.4v1.4h-1.4zM132.7 616.7h1.4v1.4h-1.4zM127.2 615.5h1.4v1.4h-1.4zM135.9 614.5h1.4v1.4h-1.4zM150.8 614.0h1.4v1.4h-1.4zM115.2 616.0h1.4v1.4h-1.4zM138.7 616.7h1.4v1.4h-1.4zM138.7 616.6h1.4v1.4h-1.4zM146.2 615.0h1.4v1.4h-1.4zM125.4 615.3h1.4v1.4h-1.4zM145.7 617.5h1.4v1.4h-1.4zM139.2 614.8h1.4v1.4h-1.4zM126.1 616.0h1.4v1.4h-1.4zM124.0 616.4h1.4v1.4h-1.4zM129.4 615.8h1.4v1.4h-1.4zM145.7 615.1h1.4v1.4h-1.4zM122.6 615.2h1.4v1.4h-1.4zM128.7 614.1h1.4v1.4h-1.4z" fill="#22d422"/>
<path d="M123.4 616.3h1.6v1.6h-1.6zM123.4 608.9h1.6v1.6h-1.6zM122.7 615.1h1.6v1.6h-1.6zM122.3 613.2h1.6v1.6h-1.6zM123.5 619.3h1.6v1.6h-1.6zM121.9 621.6h1.6v1.6h-1.6zM122.8 615.0h1.6v1.6h-1.6zM122.5 616.3h1.6v1.6h-1.6zM123.4 604.4h1.6v1.6h-1.6zM124.8 604.6h1.6v1.6h-1.6zM123.4 614.7h1.6v1.6h-1.6zM125.8 613.9h1.6v1.6h-1.6zM124.1 618.2h1.6v1.6h-1.6zM122.5 612.0h1.6v1.6h-1.6zM122.4 619.0h1.6v1.6h-1.6zM121.2 614.4h1.6v1.6h-1.6zM123.1 613.1h1.6v1.6h-1.6zM122.0 621.8h1.6v1.6h-1.6zM124.7 615.7h1.6v1.6h-1.6zM124.3 621.3h1.6v1.6h-1.6zM121.5 628.0h1.6v1.6h-1.6zM123.6 611.0h1.6v1.6h-1.6zM125.0 607.2h1.6v1.6h-1.6zM120.8 621.0h1.6v1.6h-1.6zM122.5 619.6h1.6v1.6h-1.6zM122.9 619.6h1.6v1.6h-1.6zM121.2 616.0h1.6v1.6h-1.6zM123.4 619.5h1.6v1.6h-1.6zM123.2 622.1h1.6v1.6h-1.6zM122.8 617.4h1.6v1.6h-1.6zM122.6 616.2h1.6v1.6h-1.6zM121.5 622.3h1.6v1.6h-1.6zM122.1 612.2h1.6v1.6h-1.6zM121.9 620.3h1.6v1.6h-1.6zM125.9 617.0h1.6v1.6h-1.6zM122.7 620.1h1.6v1.6h-1.6zM125.2 613.2h1.6v1.6h-1.6zM123.6 608.1h1.6v1.6h-1.6zM121.6 623.9h1.6v1.6h-1.6zM124.7 613.7h1.6v1.6h-1.6zM122.5 611.9h1.6v1.6h-1.6zM123.1 606.4h1.6v1.6h-1.6zM121.5 614.1h1.6v1.6h-1.6zM124.5 611.5h1.6v1.6h-1.6zM122.7 617.7h1.6v1.6h-1.6zM122.6 612.5h1.6v1.6h-1.6zM122.7 616.5h1.6v1.6h-1.6zM124.6 616.3h1.6v1.6h-1.6zM123.5 616.4h1.6v1.6h-1.6zM123.2 626.5h1.6v1.6h-1.6zM121.9 614.0h1.6v1.6h-1.6zM122.3 618.8h1.6v1.6h-1.6zM123.3 604.7h1.6v1.6h-1.6zM122.2 620.4h1.6v1.6h-1.6zM120.8 613.6h1.6v1.6h-1.6zM123.1 619.9h1.6v1.6h-1.6zM122.7 611.1h1.6v1.6h-1.6zM124.6 614.0h1.6v1.6h-1.6zM124.7 610.9h1.6v1.6h-1.6zM122.6 611.9h1.6v1.6h-1.6zM123.4 612.1h1.6v1.6h-1.6zM123.6 605.5h1.6v1.6h-1.6zM121.5 614.0h1.6v1.6h-1.6zM121.7 604.6h1.6v1.6h-1.6zM122.5 617.6h1.6v1.6h-1.6zM123.2 616.0h1.6v1.6h-1.6zM125.5 616.1h1.6v1.6h-1.6zM123.5 610.6h1.6v1.6h-1.6zM125.2 620.4h1.6v1.6h-1.6zM123.6 622.2h1.6v1.6h-1.6zM123.9 608.9h1.6v1.6h-1.6zM122.5 617.2h1.6v1.6h-1.6zM124.8 613.7h1.6v1.6h-1.6zM124.3 618.0h1.6v1.6h-1.6zM122.8 617.6h1.6v1.6h-1.6zM125.3 623.0h1.6v1.6h-1.6zM122.5 608.2h1.6v1.6h-1.6zM123.1 621.1h1.6v1.6h-1.6zM123.5 616.9h1.6v1.6h-1.6zM123.0 613.4h1.6v1.6h-1.6zM124.3 623.1h1.6v1.6h-1.6zM123.5 608.5h1.6v1.6h-1.6zM121.4 616.3h1.6v1.6h-1.6zM121.6 612.6h1.6v1.6h-1.6zM122.1 617.4h1.6v1.6h-1.6zM122.6 613.6h1.6v1.6h-1.6zM121.4 622.6h1.6v1.6h-1.6zM123.5 609.2h1.6v1.6h-1.6zM122.5 613.8h1.6v1.6h-1.6zM123.6 615.3h1.6v1.6h-1.6zM123.2 618.5h1.6v1.6h-1.6zM122.9 609.9h1.6v1.6h-1.6zM123.8 609.6h1.6v1.6h-1.6zM122.2 615.2h1.6v1.6h-1.6zM122.3 622.2h1.6v1.6h-1.6zM124.4 617.2h1.6v1.6h-1.6zM123.5 622.7h1.6v1.6h-1.6zM122.9 616.4h1.6v1.6h-1.6zM122.7 610.9h1.6v1.6h-1.6zM123.8 615.2h1.6v1.6h-1.6zM123.5 618.0h1.6v1.6h-1.6zM122.2 617.2h1.6v1.6h-1.6zM121.8 616.6h1.6v1.6h-1.6zM123.0 610.3h1.6v1.6h-1.6zM122.6 604.0h1.6v1.6h-1.6zM122.5 615.2h1.6v1.6h-1.6zM123.2 618.8h1.6v1.6h-1.6zM123.1 624.4h1.6v1.6h-1.6zM124.7 618.6h1.6v1.6h-1.6zM123.2 624.6h1.6v1.6h-1.6zM124.0 622.1h1.6v1.6h-1.6zM125.0 620.9h1.6v1.6h-1.6zM122.2 612.6h1.6v1.6h-1.6zM124.9 625.5h1.6v1.6h-1.6zM120.9 607.9h1.6v1.6h-1.6zM123.8 623.2h1.6v1.6h-1.6zM122.6 612.4h1.6v1.6h-1.6zM122.7 608.4h1.6v1.6h-1.6zM122.2 615.0h1.6v1.6h-1.6zM124.7 608.6h1.6v1.6h-1.6zM123.5 612.9h1.6v1.6h-1.6zM122.7 616.1h1.6v1.6h-1.6zM122.4 613.9h1.6v1.6h-1.6zM124.3 620.7h1.6v1.6h-1.6zM121.6 615.6h1.6v1.6h-1.6zM125.9 614.7h1.6v1.6h-1.6zM123.4 616.0h1.6v1.6h-1.6zM121.0 619.3h1.6v1.6h-1.6zM125.2 626.1h1.6v1.6h-1.6zM125.6 621.7h1.6v1.6h-1.6zM125.9 602.9h1.6v1.6h-1.6zM125.2 616.5h1.6v1.6h-1.6zM124.0 618.5h1.6v1.6h-1.6zM122.6 614.8h1.6v1.6h-1.6zM119.0 613.1h1.6v1.6h-1.6zM122.8 621.1h1.6v1.6h-1.6zM122.8 612.6h1.6v1.6h-1.6zM122.2 614.0h1.6v1.6h-1.6zM121.4 615.3h1.6v1.6h-1.6zM121.7 612.0h1.6v1.6h-1.6zM121.8 612.8h1.6v1.6h-1.6zM120.5 614.9h1.6v1.6h-1.6zM124.7 619.9h1.6v1.6h-1.6zM123.3 620.0h1.6v1.6h-1.6zM123.8 612.1h1.6v1.6h-1.6zM124.7 609.3h1.6v1.6h-1.6zM124.9 619.4h1.6v1.6h-1.6zM123.3 613.2h1.6v1.6h-1.6zM123.4 622.3h1.6v1.6h-1.6zM125.9 603.3h1.6v1.6h-1.6zM123.3 628.6h1.6v1.6h-1.6zM125.6 616.7h1.6v1.6h-1.6zM126.2 621.0h1.6v1.6h-1.6zM123.9 611.9h1.6v1.6h-1.6zM121.3 617.4h1.6v1.6h-1.6zM123.8 612.6h1.6v1.6h-1.6zM123.7 628.7h1.6v1.6h-1.6zM120.0 614.0h1.6v1.6h-1.6zM125.3 623.4h1.6v1.6h-1.6zM123.7 611.2h1.6v1.6h-1.6zM121.9 623.6h1.6v1.6h-1.6zM123.5 618.0h1.6v1.6h-1.6zM123.1 616.8h1.6v1.6h-1.6zM123.0 614.3h1.6v1.6h-1.6zM122.5 616.0h1.6v1.6h-1.6zM122.4 620.1h1.6v1.6h-1.6zM123.7 619.9h1.6v1.6h-1.6zM123.9 615.9h1.6v1.6h-1.6zM124.6 612.9h1.6v1.6h-1.6zM120.5 616.0h1.6v1.6h-1.6zM124.1 615.3h1.6v1.6h-1.6zM123.2 610.5h1.6v1.6h-1.6zM124.1 622.5h1.6v1.6h-1.6zM123.3 610.9h1.6v1.6h-1.6zM123.4 622.1h1.6v1.6h-1.6zM124.2 612.8h1.6v1.6h-1.6zM124.7 615.0h1.6v1.6h-1.6zM123.3 611.6h1.6v1.6h-1.6zM121.7 607.3h1.6v1.6h-1.6zM123.7 614.7h1.6v1.6h-1.6zM124.2 611.9h1.6v1.6h-1.6zM120.2 611.2h1.6v1.6h-1.6zM123.0 619.7h1.6v1.6h-1.6zM124.4 611.2h1.6v1.6h-1.6zM123.7 618.9h1.6v1.6h-1.6zM123.3 620.5h1.6v1.6h-1.6zM126.6 619.1h1.6v1.6h-1.6zM124.4 607.8h1.6v1.6h-1.6zM122.0 618.5h1.6v1.6h-1.6zM120.2 617.0h1.6v1.6h-1.6zM121.4 615.0h1.6v1.6h-1.6zM122.9 615.8h1.6v1.6h-1.6zM123.2 618.1h1.6v1.6h-1.6zM123.3 616.2h1.6v1.6h-1.6zM122.2 617.4h1.6v1.6h-1.6zM122.4 622.2h1.6v1.6h-1.6zM123.1 625.0h1.6v1.6h-1.6zM123.9 616.0h1.6v1.6h-1.6zM123.4 610.1h1.6v1.6h-1.6zM124.5 618.0h1.6v1.6h-1.6zM123.6 609.9h1.6v1.6h-1.6zM123.0 613.9h1.6v1.6h-1.6zM123.7 621.0h1.6v1.6h-1.6zM123.6 617.8h1.6v1.6h-1.6zM122.8 613.7h1.6v1.6h-1.6zM124.1 620.3h1.6v1.6h-1.6zM122.8 616.8h1.6v1.6h-1.6zM121.9 614.0h1.6v1.6h-1.6zM122.9 619.3h1.6v1.6h-1.6zM124.4 616.2h1.6v1.6h-1.6zM121.6 616.3h1.6v1.6h-1.6zM122.9 614.4h1.6v1.6h-1.6zM126.2 613.1h1.6v1.6h-1.6zM125.1 616.7h1.6v1.6h-1.6zM123.8 613.4h1.6v1.6h-1.6zM123.0 614.6h1.6v1.6h-1.6zM122.6 612.4h1.6v1.6h-1.6zM122.0 607.3h1.6v1.6h-1.6zM118.2 622.7h1.6v1.6h-1.6zM123.0 614.0h1.6v1.6h-1.6zM123.4 623.8h1.6v1.6h-1.6zM123.8 620.2h1.6v1.6h-1.6zM123.5 617.9h1.6v1.6h-1.6zM122.8 623.4h1.6v1.6h-1.6zM121.4 618.6h1.6v1.6h-1.6zM121.8 614.6h1.6v1.6h-1.6zM121.3 614.7h1.6v1.6h-1.6zM123.9 619.5h1.6v1.6h-1.6zM121.9 617.5h1.6v1.6h-1.6zM124.2 608.9h1.6v1.6h-1.6zM126.1 615.4h1.6v1.6h-1.6zM124.0 614.9h1.6v1.6h-1.6zM123.2 621.1h1.6v1.6h-1.6zM122.7 610.3h1.6v1.6h-1.6zM125.0 618.8h1.6v1.6h-1.6zM121.0 606.5h1.6v1.6h-1.6zM123.2 613.6h1.6v1.6h-1.6zM123.0 624.8h1.6v1.6h-1.6zM123.6 620.6h1.6v1.6h-1.6zM122.8 618.9h1.6v1.6h-1.6zM122.8 603.9h1.6v1.6h-1.6zM125.2 625.5h1.6v1.6h-1.6zM121.1 618.3h1.6v1.6h-1.6zM122.3 612.0h1.6v1.6h-1.6zM125.3 619.4h1.6v1.6h-1.6zM123.9 616.9h1.6v1.6h-1.6zM120.5 610.0h1.6v1.6h-1.6zM125.5 619.9h1.6v1.6h-1.6zM124.0 618.4h1.6v1.6h-1.6zM123.1 618.1h1.6v1.6h-1.6zM123.0 615.6h1.6v1.6h-1.6zM122.4 614.5h1.6v1.6h-1.6zM121.5 611.8h1.6v1.6h-1.6zM121.9 625.0h1.6v1.6h-1.6zM124.3 617.5h1.6v1.6h-1.6zM122.5 611.3h1.6v1.6h-1.6zM123.1 606.2h1.6v1.6h-1.6zM123.7 622.9h1.6v1.6h-1.6zM122.5 619.1h1.6v1.6h-1.6zM122.8 607.5h1.6v1.6h-1.6zM126.8 607.3h1.6v1.6h-1.6zM123.8 613.1h1.6v1.6h-1.6zM123.4 626.8h1.6v1.6h-1.6zM125.0 606.0h1.6v1.6h-1.6zM122.5 616.0h1.6v1.6h-1.6zM122.2 616.8h1.6v1.6h-1.6zM122.0 621.4h1.6v1.6h-1.6zM124.8 625.5h1.6v1.6h-1.6zM124.6 621.5h1.6v1.6h-1.6zM122.8 625.8h1.6v1.6h-1.6zM124.1 620.8h1.6v1.6h-1.6zM126.5 620.4h1.6v1.6h-1.6zM123.5 612.5h1.6v1.6h-1.6zM121.9 619.9h1.6v1.6h-1.6zM121.8 613.1h1.6v1.6h-1.6zM123.6 610.8h1.6v1.6h-1.6zM121.3 620.4h1.6v1.6h-1.6zM123.0 618.0h1.6v1.6h-1.6zM123.6 610.2h1.6v1.6h-1.6zM123.4 619.8h1.6v1.6h-1.6zM123.1 619.4h1.6v1.6h-1.6zM122.3 606.6h1.6v1.6h-1.6zM124.1 606.8h1.6v1.6h-1.6zM122.9 616.2h1.6v1.6h-1.6zM121.5 614.6h1.6v1.6h-1.6zM124.2 612.4h1.6v1.6h-1.6zM121.6 615.3h1.6v1.6h-1.6zM124.4 618.1h1.6v1.6h-1.6zM124.1 618.3h1.6v1.6h-1.6zM123.2 618.7h1.6v1.6h-1.6zM121.2 620.0h1.6v1.6h-1.6zM123.4 617.2h1.6v1.6h-1.6zM123.2 618.7h1.6v1.6h-1.6zM124.4 616.7h1.6v1.6h-1.6zM123.7 618.2h1.6v1.6h-1.6zM124.9 616.3h1.6v1.6h-1.6zM123.8 604.9h1.6v1.6h-1.6zM123.8 623.6h1.6v1.6h-1.6zM122.3 614.2h1.6v1.6h-1.6zM121.4 623.1h1.6v1.6h-1.6zM123.0 623.6h1.6v1.6h-1.6zM124.6 613.7h1.6v1.6h-1.6zM122.8 609.8h1.6v1.6h-1.6zM122.3 621.7h1.6v1.6h-1.6zM124.4 615.7h1.6v1.6h-1.6zM122.9 610.7h1.6v1.6h-1.6zM123.0 612.6h1.6v1.6h-1.6zM123.5 610.1h1.6v1.6h-1.6zM123.9 618.2h1.6v1.6h-1.6zM125.2 617.6h1.6v1.6h-1.6zM125.5 622.1h1.6v1.6h-1.6zM123.3 626.9h1.6v1.6h-1.6zM123.9 609.2h1.6v1.6h-1.6zM122.7 613.5h1.6v1.6h-1.6zM122.9 608.7h1.6v1.6h-1.6zM123.6 614.1h1.6v1.6h-1.6zM124.7 623.4h1.6v1.6h-1.6zM124.1 615.2h1.6v1.6h-1.6zM124.9 615.7h1.6v1.6h-1.6zM124.0 616.1h1.6v1.6h-1.6zM121.9 618.3h1.6v1.6h-1.6zM122.9 622.4h1.6v1.6h-1.6zM123.1 618.2h1.6v1.6h-1.6zM125.6 617.0h1.6v1.6h-1.6zM123.4 615.3h1.6v1.6h-1.6zM124.1 623.8h1.6v1.6h-1.6zM120.9 608.0h1.6v1.6h-1.6zM122.1 620.2h1.6v1.6h-1.6zM124.8 614.3h1.6v1.6h-1.6zM122.1 612.1h1.6v1.6h-1.6zM121.7 607.8h1.6v1.6h-1.6zM122.8 614.2h1.6v1.6h-1.6zM123.2 606.3h1.6v1.6h-1.6zM121.9 616.3h1.6v1.6h-1.6zM126.1 625.9h1.6v1.6h-1.6zM122.5 614.4h1.6v1.6h-1.6zM122.9 613.6h1.6v1.6h-1.6zM124.7 621.4h1.6v1.6h-1.6zM122.3 609.3h1.6v1.6h-1.6zM125.8 629.1h1.6v1.6h-1.6zM123.9 610.9h1.6v1.6h-1.6zM122.3 620.1h1.6v1.6h-1.6zM121.7 616.8h1.6v1.6h-1.6zM121.7 612.3h1.6v1.6h-1.6zM122.3 613.2h1.6v1.6h-1.6zM121.1 611.4h1.6v1.6h-1.6zM124.1 611.1h1.6v1.6h-1.6zM123.6 604.4h1.6v1.6h-1.6zM124.5 615.6h1.6v1.6h-1.6zM125.3 617.6h1.6v1.6h-1.6zM123.4 607.7h1.6v1.6h-1.6zM122.6 615.8h1.6v1.6h-1.6zM123.5 614.9h1.6v1.6h-1.6zM122.9 610.8h1.6v1.6h-1.6zM126.1 617.7h1.6v1.6h-1.6zM121.2 618.1h1.6v1.6h-1.6zM121.4 622.1h1.6v1.6h-1.6zM121.8 610.5h1.6v1.6h-1.6zM123.4 612.3h1.6v1.6h-1.6zM123.1 610.7h1.6v1.6h-1.6zM122.7 609.3h1.6v1.6h-1.6zM124.4 614.7h1.6v1.6h-1.6zM121.2 621.2h1.6v1.6h-1.6zM123.5 621.0h1.6v1.6h-1.6zM123.0 616.6h1.6v1.6h-1.6zM125.0 619.2h1.6v1.6h-1.6zM123.4 618.1h1.6v1.6h-1.6zM122.2 613.6h1.6v1.6h-1.6zM124.5 622.9h1.6v1.6h-1.6zM125.2 604.8h1.6v1.6h-1.6zM123.4 613.2h1.6v1.6h-1.6zM121.8 617.8h1.6v1.6h-1.6zM123.6 616.2h1.6v1.6h-1.6zM125.0 620.2h1.6v1.6h-1.6zM122.9 613.2h1.6v1.6h-1.6zM123.1 617.0h1.6v1.6h-1.6zM123.0 613.8h1.6v1.6h-1.6zM120.6 603.0h1.6v1.6h-1.6zM124.2 621.0h1.6v1.6h-1.6zM122.0 621.4h1.6v1.6h-1.6zM123.8 625.0h1.6v1.6h-1.6zM126.5 618.5h1.6v1.6h-1.6zM121.3 605.6h1.6v1.6h-1.6zM123.2 613.3h1.6v1.6h-1.6zM122.9 617.1h1.6v1.6h-1.6zM125.9 625.5h1.6v1.6h-1.6zM123.5 619.5h1.6v1.6h-1.6zM122.7 616.1h1.6v1.6h-1.6zM120.8 612.7h1.6v1.6h-1.6zM123.5 613.0h1.6v1.6h-1.6zM122.4 612.1h1.6v1.6h-1.6zM122.6 612.0h1.6v1.6h-1.6zM125.0 612.7h1.6v1.6h-1.6zM121.3 615.4h1.6v1.6h-1.6zM121.8 606.2h1.6v1.6h-1.6zM123.5 622.1h1.6v1.6h-1.6zM121.2 609.3h1.6v1.6h-1.6zM121.9 613.8h1.6v1.6h-1.6zM122.8 616.5h1.6v1.6h-1.6zM122.6 615.7h1.6v1.6h-1.6zM125.4 620.1h1.6v1.6h-1.6zM123.9 613.4h1.6v1.6h-1.6zM122.3 621.2h1.6v1.6h-1.6zM122.0 612.9h1.6v1.6h-1.6zM123.4 610.7h1.6v1.6h-1.6zM123.7 615.2h1.6v1.6h-1.6zM123.2 614.6h1.6v1.6h-1.6zM123.3 612.5h1.6v1.6h-1.6zM122.1 610.5h1.6v1.6h-1.6zM125.4 616.2h1.6v1.6h-1.6zM124.0 621.6h1.6v1.6h-1.6zM123.3 622.8h1.6v1.6h-1.6zM124.5 615.5h1.6v1.6h-1.6zM124.6 610.2h1.6v1.6h-1.6zM122.2 611.8h1.6v1.6h-1.6zM125.3 604.9h1.6v1.6h-1.6zM123.1 613.1h1.6v1.6h-1.6zM122.4 612.6h1.6v1.6h-1.6zM124.0 608.6h1.6v1.6h-1.6zM123.0 615.5h1.6v1.6h-1.6z" fill="#e11b1b"/>
<ellipse cx="124.0" cy="616.3000000000001" rx="3.3" ry="4.8" fill="#000"/>
<path d="M124.0 516.3 V716.3 M4.5 616.6 H243.4" stroke="#222" stroke-width="1.2" fill="none"/>
<path d="M121.5 716.56H124.0M4.60 616.6V619.1M121.5 699.90H124.0M24.50 616.6V619.1M121.5 683.24H124.0M44.40 616.6V619.1M121.5 666.58H124.0M64.30 616.6V619.1M121.5 649.92H124.0M84.20 616.6V619.1M121.5 633.26H124.0M104.10 616.6V619.1M121.5 616.60H124.0M124.00 616.6V619.1M121.5 599.94H124.0M143.90 616.6V619.1M121.5 583.28H124.0M163.80 616.6V619.1M121.5 566.62H124.0M183.70 616.6V619.1M121.5 549.96H124.0M203.60 616.6V619.1M121.5 533.30H124.0M223.50 616.6V619.1M121.5 516.64H124.0M243.40 616.6V619.1" stroke="#222" stroke-width="1" fill="none"/>
<text x="121.7" y="718.56" font-size="5.4" font-weight="bold" text-anchor="end" fill="#222">-12</text>
<text x="4.60" y="625.2" font-size="5.4" font-weight="bold" text-anchor="middle" fill="#222">-12</text>
<text x="121.7" y="701.90" font-size="5.4" font-weight="bold" text-anchor="end" fill="#222">-10</text>
<text x="24.50" y="625.2" font-size="5.4" font-weight="bold" text-anchor="middle" fill="#222">-10</text>
<text x="121.7" y="685.24" font-size="5.4" font-weight="bold" text-anchor="end" fill="#222">-8</text>
<text x="44.40" y="625.2" font-size="5.4" font-weight="bold" text-anchor="middle" fill="#222">-8</text>
<text x="121.7" y="668.58" font-size="5.4" font-weight="bold" text-anchor="end" fill="#222">-6</text>
<text x="64.30" y="625.2" font-size="5.4" font-weight="bold" text-anchor="middle" fill="#222">-6</text>
<text x="121.7" y="651.92" font-size="5.4" font-weight="bold" text-anchor="end" fill="#222">-4</text>
<text x="84.20" y="625.2" font-size="5.4" font-weight="bold" text-anchor="middle" fill="#222">-4</text>
<text x="121.7" y="635.26" font-size="5.4" font-weight="bold" text-anchor="end" fill="#222">-2</text>
<text x="104.10" y="625.2" font-size="5.4" font-weight="bold" text-anchor="middle" fill="#222">-2</text>
<text x="121.7" y="601.94" font-size="5.4" font-weight="bold" text-anchor="end" fill="#222">2</text>
<text x="143.90" y="625.2" font-size="5.4" font-weight="bold" text-anchor="middle" fill="#222">2</text>
<text x="121.7" y="585.28" font-size="5.4" font-weight="bold" text-anchor="end" fill="#222">4</text>
<text x="163.80" y="625.2" font-size="5.4" font-weight="bold" text-anchor="middle" fill="#222">4</text>
<text x="121.7" y="568.62" font-size="5.4" font-weight="bold" text-anchor="end" fill="#222">6</text>
<text x="183.70" y="625.2" font-size="5.4" font-weight="bold" text-anchor="middle" fill="#222">6</text>
<text x="121.7" y="551.96" font-size="5.4" font-weight="bold" text-anchor="end" fill="#222">8</text>
<text x="203.60" y="625.2" font-size="5.4" font-weight="bold" text-anchor="middle" fill="#222">8</text>
<text x="121.7" y="535.30" font-size="5.4" font-weight="bold" text-anchor="end" fill="#222">10</text>
<text x="223.50" y="625.2" font-size="5.4" font-weight="bold" text-anchor="middle" fill="#222">10</text>
<text x="121.7" y="518.64" font-size="5.4" font-weight="bold" text-anchor="end" fill="#222">12</text>
<text x="243.40" y="625.2" font-size="5.4" font-weight="bold" text-anchor="middle" fill="#222">12</text>
<text transform="translate(106.8 583.5) rotate(-90)" font-size="11" fill="#222">p16<tspan font-size="6.5" dy="-4.5">ink4a</tspan><tspan dy="4.5"> effect</tspan></text>
<text x="198.5" y="643" font-size="10.4" fill="#222">IL-4 effect</text>
<text x="188.7" y="544.1" font-size="10" font-weight="bold">R<tspan font-size="6.5" dy="-4">2</tspan><tspan dy="4">= 0.5115</tspan></text>
<text x="241.5" y="331.5" font-size="16.5" font-weight="bold">D</text>
<g shape-rendering="crispEdges"><rect x="274.60" y="333.70" width="15.96" height="4.99" fill="#1a78ff"/><rect x="290.26" y="333.70" width="15.96" height="4.99" fill="#22d2ff"/><rect x="305.92" y="333.70" width="15.96" height="4.99" fill="#1a3ef0"/><rect x="321.58" y="333.70" width="15.96" height="4.99" fill="#22ee22"/><rect x="337.23" y="333.70" width="15.96" height="4.99" fill="#22ee22"/><rect x="352.89" y="333.70" width="15.96" height="4.99" fill="#22ee22"/><rect x="368.55" y="333.70" width="15.96" height="4.99" fill="#ffff00"/><rect x="384.21" y="333.70" width="15.96" height="4.99" fill="#ffff00"/><rect x="399.87" y="333.70" width="15.96" height="4.99" fill="#ffff00"/><rect x="415.52" y="333.70" width="15.96" height="4.99" fill="#c8f414"/><rect x="431.18" y="333.70" width="15.96" height="4.99" fill="#c8f414"/><rect x="446.84" y="333.70" width="15.96" height="4.99" fill="#c8f414"/><rect x="274.60" y="338.39" width="15.96" height="4.99" fill="#1a78ff"/><rect x="290.26" y="338.39" width="15.96" height="4.99" fill="#22d2ff"/><rect x="305.92" y="338.39" width="15.96" height="4.99" fill="#1a3ef0"/><rect x="321.58" y="338.39" width="15.96" height="4.99" fill="#22ee22"/><rect x="337.23" y="338.39" width="15.96" height="4.99" fill="#22ee22"/><rect x="352.89" y="338.39" width="15.96" height="4.99" fill="#22ee22"/><rect x="368.55" y="338.39" width="15.96" height="4.99" fill="#ffff00"/><rect x="384.21" y="338.39" width="15.96" height="4.99" fill="#ffff00"/><rect x="399.87" y="338.39" width="15.96" height="4.99" fill="#ffff00"/><rect x="415.52" y="338.39" width="15.96" height="4.99" fill="#c8f414"/><rect x="431.18" y="338.39" width="15.96" height="4.99" fill="#ffff00"/><rect x="446.84" y="338.39" width="15.96" height="4.99" fill="#ffff00"/><rect x="274.60" y="343.09" width="15.96" height="4.99" fill="#1a78ff"/><rect x="290.26" y="343.09" width="15.96" height="4.99" fill="#22d2ff"/><rect x="305.92" y="343.09" width="15.96" height="4.99" fill="#1a3ef0"/><rect x="321.58" y="343.09" width="15.96" height="4.99" fill="#22ee22"/><rect x="337.23" y="343.09" width="15.96" height="4.99" fill="#22ee22"/><rect x="352.89" y="343.09" width="15.96" height="4.99" fill="#22ee22"/><rect x="368.55" y="343.09" width="15.96" height="4.99" fill="#ffff00"/><rect x="384.21" y="343.09" width="15.96" height="4.99" fill="#ffff00"/><rect x="399.87" y="343.09" width="15.96" height="4.99" fill="#7cf016"/><rect x="415.52" y="343.09" width="15.96" height="4.99" fill="#c8f414"/><rect x="431.18" y="343.09" width="15.96" height="4.99" fill="#ffff00"/><rect x="446.84" y="343.09" width="15.96" height="4.99" fill="#ffff00"/><rect x="274.60" y="347.78" width="15.96" height="4.99" fill="#22a8ff"/><rect x="290.26" y="347.78" width="15.96" height="4.99" fill="#22d2ff"/><rect x="305.92" y="347.78" width="15.96" height="4.99" fill="#1a3ef0"/><rect x="321.58" y="347.78" width="15.96" height="4.99" fill="#22ee22"/><rect x="337.23" y="347.78" width="15.96" height="4.99" fill="#7cf016"/><rect x="352.89" y="347.78" width="15.96" height="4.99" fill="#22ee22"/><rect x="368.55" y="347.78" width="15.96" height="4.99" fill="#ffff00"/><rect x="384.21" y="347.78" width="15.96" height="4.99" fill="#fff26e"/><rect x="399.87" y="347.78" width="15.96" height="4.99" fill="#ffff00"/><rect x="415.52" y="347.78" width="15.96" height="4.99" fill="#7cf016"/><rect x="431.18" y="347.78" width="15.96" height="4.99" fill="#ffff00"/><rect x="446.84" y="347.78" width="15.96" height="4.99" fill="#22ee22"/><rect x="274.60" y="352.47" width="15.96" height="4.99" fill="#1a78ff"/><rect x="290.26" y="352.47" width="15.96" height="4.99" fill="#1a78ff"/><rect x="305.92" y="352.47" width="15.96" height="4.99" fill="#22a8ff"/><rect x="321.58" y="352.47" width="15.96" height="4.99" fill="#22ee22"/><rect x="337.23" y="352.47" width="15.96" height="4.99" fill="#22ee22"/><rect x="352.89" y="352.47" width="15.96" height="4.99" fill="#22ee22"/><rect x="368.55" y="352.47" width="15.96" height="4.99" fill="#ffff00"/><rect x="384.21" y="352.47" width="15.96" height="4.99" fill="#ffff00"/><rect x="399.87" y="352.47" width="15.96" height="4.99" fill="#ffff00"/><rect x="415.52" y="352.47" width="15.96" height="4.99" fill="#ffff00"/><rect x="431.18" y="352.47" width="15.96" height="4.99" fill="#c8f414"/><rect x="446.84" y="352.47" width="15.96" height="4.99" fill="#ffff00"/><rect x="274.60" y="357.16" width="15.96" height="4.99" fill="#1a78ff"/><rect x="290.26" y="357.16" width="15.96" height="4.99" fill="#22a8ff"/><rect x="305.92" y="357.16" width="15.96" height="4.99" fill="#1a78ff"/><rect x="321.58" y="357.16" width="15.96" height="4.99" fill="#22ee22"/><rect x="337.23" y="357.16" width="15.96" height="4.99" fill="#22ee22"/><rect x="352.89" y="357.16" width="15.96" height="4.99" fill="#22ee22"/><rect x="368.55" y="357.16" width="15.96" height="4.99" fill="#c8f414"/><rect x="384.21" y="357.16" width="15.96" height="4.99" fill="#c8f414"/><rect x="399.87" y="357.16" width="15.96" height="4.99" fill="#c8f414"/><rect x="415.52" y="357.16" width="15.96" height="4.99" fill="#ffff00"/><rect x="431.18" y="357.16" width="15.96" height="4.99" fill="#ffff00"/><rect x="446.84" y="357.16" width="15.96" height="4.99" fill="#ffff00"/><rect x="274.60" y="361.86" width="15.96" height="4.99" fill="#1a78ff"/><rect x="290.26" y="361.86" width="15.96" height="4.99" fill="#1a78ff"/><rect x="305.92" y="361.86" width="15.96" height="4.99" fill="#1a3ef0"/><rect x="321.58" y="361.86" width="15.96" height="4.99" fill="#22ee22"/><rect x="337.23" y="361.86" width="15.96" height="4.99" fill="#22ee22"/><rect x="352.89" y="361.86" width="15.96" height="4.99" fill="#22ee22"/><rect x="368.55" y="361.86" width="15.96" height="4.99" fill="#c8f414"/><rect x="384.21" y="361.86" width="15.96" height="4.99" fill="#c8f414"/><rect x="399.87" y="361.86" width="15.96" height="4.99" fill="#c8f414"/><rect x="415.52" y="361.86" width="15.96" height="4.99" fill="#ffff00"/><rect x="431.18" y="361.86" width="15.96" height="4.99" fill="#ffff00"/><rect x="446.84" y="361.86" width="15.96" height="4.99" fill="#ffff00"/><rect x="274.60" y="366.55" width="15.96" height="4.99" fill="#1a78ff"/><rect x="290.26" y="366.55" width="15.96" height="4.99" fill="#22a8ff"/><rect x="305.92" y="366.55" width="15.96" height="4.99" fill="#1a78ff"/><rect x="321.58" y="366.55" width="15.96" height="4.99" fill="#22ee22"/><rect x="337.23" y="366.55" width="15.96" height="4.99" fill="#22ee22"/><rect x="352.89" y="366.55" width="15.96" height="4.99" fill="#22ee22"/><rect x="368.55" y="366.55" width="15.96" height="4.99" fill="#c8f414"/><rect x="384.21" y="366.55" width="15.96" height="4.99" fill="#7cf016"/><rect x="399.87" y="366.55" width="15.96" height="4.99" fill="#c8f414"/><rect x="415.52" y="366.55" width="15.96" height="4.99" fill="#ffff00"/><rect x="431.18" y="366.55" width="15.96" height="4.99" fill="#ffff00"/><rect x="446.84" y="366.55" width="15.96" height="4.99" fill="#ffff00"/><rect x="274.60" y="371.24" width="15.96" height="4.99" fill="#22d2ff"/><rect x="290.26" y="371.24" width="15.96" height="4.99" fill="#22d2ff"/><rect x="305.92" y="371.24" width="15.96" height="4.99" fill="#3c14e6"/><rect x="321.58" y="371.24" width="15.96" height="4.99" fill="#7cf016"/><rect x="337.23" y="371.24" width="15.96" height="4.99" fill="#7cf016"/><rect x="352.89" y="371.24" width="15.96" height="4.99" fill="#c8f414"/><rect x="368.55" y="371.24" width="15.96" height="4.99" fill="#ffff00"/><rect x="384.21" y="371.24" width="15.96" height="4.99" fill="#c8f414"/><rect x="399.87" y="371.24" width="15.96" height="4.99" fill="#c8f414"/><rect x="415.52" y="371.24" width="15.96" height="4.99" fill="#7cf016"/><rect x="431.18" y="371.24" width="15.96" height="4.99" fill="#c8f414"/><rect x="446.84" y="371.24" width="15.96" height="4.99" fill="#c8f414"/><rect x="274.60" y="375.93" width="15.96" height="4.99" fill="#1a78ff"/><rect x="290.26" y="375.93" width="15.96" height="4.99" fill="#22ee22"/><rect x="305.92" y="375.93" width="15.96" height="4.99" fill="#3c14e6"/><rect x="321.58" y="375.93" width="15.96" height="4.99" fill="#7cf016"/><rect x="337.23" y="375.93" width="15.96" height="4.99" fill="#7cf016"/><rect x="352.89" y="375.93" width="15.96" height="4.99" fill="#c8f414"/><rect x="368.55" y="375.93" width="15.96" height="4.99" fill="#ffff00"/><rect x="384.21" y="375.93" width="15.96" height="4.99" fill="#c8f414"/><rect x="399.87" y="375.93" width="15.96" height="4.99" fill="#c8f414"/><rect x="415.52" y="375.93" width="15.96" height="4.99" fill="#7cf016"/><rect x="431.18" y="375.93" width="15.96" height="4.99" fill="#c8f414"/><rect x="446.84" y="375.93" width="15.96" height="4.99" fill="#c8f414"/><rect x="274.60" y="380.63" width="15.96" height="4.99" fill="#22a8ff"/><rect x="290.26" y="380.63" width="15.96" height="4.99" fill="#22ee22"/><rect x="305.92" y="380.63" width="15.96" height="4.99" fill="#3c14e6"/><rect x="321.58" y="380.63" width="15.96" height="4.99" fill="#7cf016"/><rect x="337.23" y="380.63" width="15.96" height="4.99" fill="#7cf016"/><rect x="352.89" y="380.63" width="15.96" height="4.99" fill="#ffff00"/><rect x="368.55" y="380.63" width="15.96" height="4.99" fill="#ffff00"/><rect x="384.21" y="380.63" width="15.96" height="4.99" fill="#c8f414"/><rect x="399.87" y="380.63" width="15.96" height="4.99" fill="#7cf016"/><rect x="415.52" y="380.63" width="15.96" height="4.99" fill="#c8f414"/><rect x="431.18" y="380.63" width="15.96" height="4.99" fill="#ffff00"/><rect x="446.84" y="380.63" width="15.96" height="4.99" fill="#ffff00"/><rect x="274.60" y="385.32" width="15.96" height="4.99" fill="#1a3ef0"/><rect x="290.26" y="385.32" width="15.96" height="4.99" fill="#22ee22"/><rect x="305.92" y="385.32" width="15.96" height="4.99" fill="#1a3ef0"/><rect x="321.58" y="385.32" width="15.96" height="4.99" fill="#22ee22"/><rect x="337.23" y="385.32" width="15.96" height="4.99" fill="#7cf016"/><rect x="352.89" y="385.32" width="15.96" height="4.99" fill="#ffff00"/><rect x="368.55" y="385.32" width="15.96" height="4.99" fill="#c8f414"/><rect x="384.21" y="385.32" width="15.96" height="4.99" fill="#c8f414"/><rect x="399.87" y="385.32" width="15.96" height="4.99" fill="#c8f414"/><rect x="415.52" y="385.32" width="15.96" height="4.99" fill="#c8f414"/><rect x="431.18" y="385.32" width="15.96" height="4.99" fill="#7cf016"/><rect x="446.84" y="385.32" width="15.96" height="4.99" fill="#22ee22"/><rect x="274.60" y="390.01" width="15.96" height="4.99" fill="#1a3ef0"/><rect x="290.26" y="390.01" width="15.96" height="4.99" fill="#22a8ff"/><rect x="305.92" y="390.01" width="15.96" height="4.99" fill="#1a3ef0"/><rect x="321.58" y="390.01" width="15.96" height="4.99" fill="#7cf016"/><rect x="337.23" y="390.01" width="15.96" height="4.99" fill="#7cf016"/><rect x="352.89" y="390.01" width="15.96" height="4.99" fill="#ffff00"/><rect x="368.55" y="390.01" width="15.96" height="4.99" fill="#ffff00"/><rect x="384.21" y="390.01" width="15.96" height="4.99" fill="#ffff00"/><rect x="399.87" y="390.01" width="15.96" height="4.99" fill="#ffff00"/><rect x="415.52" y="390.01" width="15.96" height="4.99" fill="#c8f414"/><rect x="431.18" y="390.01" width="15.96" height="4.99" fill="#c8f414"/><rect x="446.84" y="390.01" width="15.96" height="4.99" fill="#7cf016"/><rect x="274.60" y="394.70" width="15.96" height="4.99" fill="#22a8ff"/><rect x="290.26" y="394.70" width="15.96" height="4.99" fill="#22d2ff"/><rect x="305.92" y="394.70" width="15.96" height="4.99" fill="#1a3ef0"/><rect x="321.58" y="394.70" width="15.96" height="4.99" fill="#22ee22"/><rect x="337.23" y="394.70" width="15.96" height="4.99" fill="#22ee22"/><rect x="352.89" y="394.70" width="15.96" height="4.99" fill="#c8f414"/><rect x="368.55" y="394.70" width="15.96" height="4.99" fill="#7cf016"/><rect x="384.21" y="394.70" width="15.96" height="4.99" fill="#22ee22"/><rect x="399.87" y="394.70" width="15.96" height="4.99" fill="#7cf016"/><rect x="415.52" y="394.70" width="15.96" height="4.99" fill="#ffff00"/><rect x="431.18" y="394.70" width="15.96" height="4.99" fill="#ffff00"/><rect x="446.84" y="394.70" width="15.96" height="4.99" fill="#ffff00"/><rect x="274.60" y="399.40" width="15.96" height="4.99" fill="#1a78ff"/><rect x="290.26" y="399.40" width="15.96" height="4.99" fill="#22a8ff"/><rect x="305.92" y="399.40" width="15.96" height="4.99" fill="#1a78ff"/><rect x="321.58" y="399.40" width="15.96" height="4.99" fill="#22ee22"/><rect x="337.23" y="399.40" width="15.96" height="4.99" fill="#22ee22"/><rect x="352.89" y="399.40" width="15.96" height="4.99" fill="#7cf016"/><rect x="368.55" y="399.40" width="15.96" height="4.99" fill="#7cf016"/><rect x="384.21" y="399.40" width="15.96" height="4.99" fill="#22ee22"/><rect x="399.87" y="399.40" width="15.96" height="4.99" fill="#7cf016"/><rect x="415.52" y="399.40" width="15.96" height="4.99" fill="#ffff00"/><rect x="431.18" y="399.40" width="15.96" height="4.99" fill="#ffff00"/><rect x="446.84" y="399.40" width="15.96" height="4.99" fill="#ffff00"/><rect x="274.60" y="404.09" width="15.96" height="4.99" fill="#22a8ff"/><rect x="290.26" y="404.09" width="15.96" height="4.99" fill="#22a8ff"/><rect x="305.92" y="404.09" width="15.96" height="4.99" fill="#1a3ef0"/><rect x="321.58" y="404.09" width="15.96" height="4.99" fill="#7cf016"/><rect x="337.23" y="404.09" width="15.96" height="4.99" fill="#7cf016"/><rect x="352.89" y="404.09" width="15.96" height="4.99" fill="#c8f414"/><rect x="368.55" y="404.09" width="15.96" height="4.99" fill="#7cf016"/><rect x="384.21" y="404.09" width="15.96" height="4.99" fill="#22ee22"/><rect x="399.87" y="404.09" width="15.96" height="4.99" fill="#c8f414"/><rect x="415.52" y="404.09" width="15.96" height="4.99" fill="#ffff00"/><rect x="431.18" y="404.09" width="15.96" height="4.99" fill="#ffff00"/><rect x="446.84" y="404.09" width="15.96" height="4.99" fill="#ffff00"/><rect x="274.60" y="408.78" width="15.96" height="4.99" fill="#1a78ff"/><rect x="290.26" y="408.78" width="15.96" height="4.99" fill="#22a8ff"/><rect x="305.92" y="408.78" width="15.96" height="4.99" fill="#1a3ef0"/><rect x="321.58" y="408.78" width="15.96" height="4.99" fill="#7cf016"/><rect x="337.23" y="408.78" width="15.96" height="4.99" fill="#7cf016"/><rect x="352.89" y="408.78" width="15.96" height="4.99" fill="#c8f414"/><rect x="368.55" y="408.78" width="15.96" height="4.99" fill="#7cf016"/><rect x="384.21" y="408.78" width="15.96" height="4.99" fill="#7cf016"/><rect x="399.87" y="408.78" width="15.96" height="4.99" fill="#ffff00"/><rect x="415.52" y="408.78" width="15.96" height="4.99" fill="#ffff00"/><rect x="431.18" y="408.78" width="15.96" height="4.99" fill="#ffff00"/><rect x="446.84" y="408.78" width="15.96" height="4.99" fill="#ffff00"/><rect x="274.60" y="413.48" width="15.96" height="4.99" fill="#1a78ff"/><rect x="290.26" y="413.48" width="15.96" height="4.99" fill="#22d2ff"/><rect x="305.92" y="413.48" width="15.96" height="4.99" fill="#1a3ef0"/><rect x="321.58" y="413.48" width="15.96" height="4.99" fill="#7cf016"/><rect x="337.23" y="413.48" width="15.96" height="4.99" fill="#22ee22"/><rect x="352.89" y="413.48" width="15.96" height="4.99" fill="#ffff00"/><rect x="368.55" y="413.48" width="15.96" height="4.99" fill="#7cf016"/><rect x="384.21" y="413.48" width="15.96" height="4.99" fill="#22ee22"/><rect x="399.87" y="413.48" width="15.96" height="4.99" fill="#22ee22"/><rect x="415.52" y="413.48" width="15.96" height="4.99" fill="#ffff00"/><rect x="431.18" y="413.48" width="15.96" height="4.99" fill="#ffff00"/><rect x="446.84" y="413.48" width="15.96" height="4.99" fill="#ffff00"/><rect x="274.60" y="418.17" width="15.96" height="4.99" fill="#22a8ff"/><rect x="290.26" y="418.17" width="15.96" height="4.99" fill="#1a78ff"/><rect x="305.92" y="418.17" width="15.96" height="4.99" fill="#1a3ef0"/><rect x="321.58" y="418.17" width="15.96" height="4.99" fill="#7cf016"/><rect x="337.23" y="418.17" width="15.96" height="4.99" fill="#7cf016"/><rect x="352.89" y="418.17" width="15.96" height="4.99" fill="#c8f414"/><rect x="368.55" y="418.17" width="15.96" height="4.99" fill="#7cf016"/><rect x="384.21" y="418.17" width="15.96" height="4.99" fill="#22ee22"/><rect x="399.87" y="418.17" width="15.96" height="4.99" fill="#22ee22"/><rect x="415.52" y="418.17" width="15.96" height="4.99" fill="#ffff00"/><rect x="431.18" y="418.17" width="15.96" height="4.99" fill="#ffff00"/><rect x="446.84" y="418.17" width="15.96" height="4.99" fill="#ffff00"/><rect x="274.60" y="422.86" width="15.96" height="4.99" fill="#22a8ff"/><rect x="290.26" y="422.86" width="15.96" height="4.99" fill="#22ee22"/><rect x="305.92" y="422.86" width="15.96" height="4.99" fill="#1a3ef0"/><rect x="321.58" y="422.86" width="15.96" height="4.99" fill="#c8f414"/><rect x="337.23" y="422.86" width="15.96" height="4.99" fill="#7cf016"/><rect x="352.89" y="422.86" width="15.96" height="4.99" fill="#ffff00"/><rect x="368.55" y="422.86" width="15.96" height="4.99" fill="#7cf016"/><rect x="384.21" y="422.86" width="15.96" height="4.99" fill="#22ee22"/><rect x="399.87" y="422.86" width="15.96" height="4.99" fill="#22ee22"/><rect x="415.52" y="422.86" width="15.96" height="4.99" fill="#ffff00"/><rect x="431.18" y="422.86" width="15.96" height="4.99" fill="#ffff00"/><rect x="446.84" y="422.86" width="15.96" height="4.99" fill="#ffff00"/><rect x="274.60" y="427.55" width="15.96" height="4.99" fill="#22a8ff"/><rect x="290.26" y="427.55" width="15.96" height="4.99" fill="#22a8ff"/><rect x="305.92" y="427.55" width="15.96" height="4.99" fill="#22a8ff"/><rect x="321.58" y="427.55" width="15.96" height="4.99" fill="#22ee22"/><rect x="337.23" y="427.55" width="15.96" height="4.99" fill="#22ee22"/><rect x="352.89" y="427.55" width="15.96" height="4.99" fill="#22ee22"/><rect x="368.55" y="427.55" width="15.96" height="4.99" fill="#ffff00"/><rect x="384.21" y="427.55" width="15.96" height="4.99" fill="#ffff00"/><rect x="399.87" y="427.55" width="15.96" height="4.99" fill="#ffff00"/><rect x="415.52" y="427.55" width="15.96" height="4.99" fill="#ffff00"/><rect x="431.18" y="427.55" width="15.96" height="4.99" fill="#ffff00"/><rect x="446.84" y="427.55" width="15.96" height="4.99" fill="#ffff00"/><rect x="274.60" y="432.25" width="15.96" height="4.99" fill="#22a8ff"/><rect x="290.26" y="432.25" width="15.96" height="4.99" fill="#22a8ff"/><rect x="305.92" y="432.25" width="15.96" height="4.99" fill="#22a8ff"/><rect x="321.58" y="432.25" width="15.96" height="4.99" fill="#22ee22"/><rect x="337.23" y="432.25" width="15.96" height="4.99" fill="#22ee22"/><rect x="352.89" y="432.25" width="15.96" height="4.99" fill="#22ee22"/><rect x="368.55" y="432.25" width="15.96" height="4.99" fill="#ffff00"/><rect x="384.21" y="432.25" width="15.96" height="4.99" fill="#ffff00"/><rect x="399.87" y="432.25" width="15.96" height="4.99" fill="#ffff00"/><rect x="415.52" y="432.25" width="15.96" height="4.99" fill="#ffff00"/><rect x="431.18" y="432.25" width="15.96" height="4.99" fill="#ffff00"/><rect x="446.84" y="432.25" width="15.96" height="4.99" fill="#ffff00"/><rect x="274.60" y="436.94" width="15.96" height="4.99" fill="#22a8ff"/><rect x="290.26" y="436.94" width="15.96" height="4.99" fill="#22a8ff"/><rect x="305.92" y="436.94" width="15.96" height="4.99" fill="#22a8ff"/><rect x="321.58" y="436.94" width="15.96" height="4.99" fill="#22ee22"/><rect x="337.23" y="436.94" width="15.96" height="4.99" fill="#22ee22"/><rect x="352.89" y="436.94" width="15.96" height="4.99" fill="#22d2ff"/><rect x="368.55" y="436.94" width="15.96" height="4.99" fill="#ffff00"/><rect x="384.21" y="436.94" width="15.96" height="4.99" fill="#ffff00"/><rect x="399.87" y="436.94" width="15.96" height="4.99" fill="#ffff00"/><rect x="415.52" y="436.94" width="15.96" height="4.99" fill="#ffff00"/><rect x="431.18" y="436.94" width="15.96" height="4.99" fill="#ffff00"/><rect x="446.84" y="436.94" width="15.96" height="4.99" fill="#ffff00"/><rect x="274.60" y="441.63" width="15.96" height="4.99" fill="#22a8ff"/><rect x="290.26" y="441.63" width="15.96" height="4.99" fill="#22d2ff"/><rect x="305.92" y="441.63" width="15.96" height="4.99" fill="#22a8ff"/><rect x="321.58" y="441.63" width="15.96" height="4.99" fill="#22ee22"/><rect x="337.23" y="441.63" width="15.96" height="4.99" fill="#22ee22"/><rect x="352.89" y="441.63" width="15.96" height="4.99" fill="#22ee22"/><rect x="368.55" y="441.63" width="15.96" height="4.99" fill="#ffff00"/><rect x="384.21" y="441.63" width="15.96" height="4.99" fill="#ffff00"/><rect x="399.87" y="441.63" width="15.96" height="4.99" fill="#ffff00"/><rect x="415.52" y="441.63" width="15.96" height="4.99" fill="#ffff00"/><rect x="431.18" y="441.63" width="15.96" height="4.99" fill="#ffff00"/><rect x="446.84" y="441.63" width="15.96" height="4.99" fill="#ffff00"/><rect x="274.60" y="446.32" width="15.96" height="4.99" fill="#1a78ff"/><rect x="290.26" y="446.32" width="15.96" height="4.99" fill="#22a8ff"/><rect x="305.92" y="446.32" width="15.96" height="4.99" fill="#1a78ff"/><rect x="321.58" y="446.32" width="15.96" height="4.99" fill="#22ee22"/><rect x="337.23" y="446.32" width="15.96" height="4.99" fill="#22ee22"/><rect x="352.89" y="446.32" width="15.96" height="4.99" fill="#22ee22"/><rect x="368.55" y="446.32" width="15.96" height="4.99" fill="#ffff00"/><rect x="384.21" y="446.32" width="15.96" height="4.99" fill="#c8f414"/><rect x="399.87" y="446.32" width="15.96" height="4.99" fill="#ffff00"/><rect x="415.52" y="446.32" width="15.96" height="4.99" fill="#ffff00"/><rect x="431.18" y="446.32" width="15.96" height="4.99" fill="#ffff00"/><rect x="446.84" y="446.32" width="15.96" height="4.99" fill="#ffff00"/><rect x="274.60" y="451.02" width="15.96" height="4.99" fill="#1a78ff"/><rect x="290.26" y="451.02" width="15.96" height="4.99" fill="#22a8ff"/><rect x="305.92" y="451.02" width="15.96" height="4.99" fill="#1a78ff"/><rect x="321.58" y="451.02" width="15.96" height="4.99" fill="#22ee22"/><rect x="337.23" y="451.02" width="15.96" height="4.99" fill="#22ee22"/><rect x="352.89" y="451.02" width="15.96" height="4.99" fill="#22ee22"/><rect x="368.55" y="451.02" width="15.96" height="4.99" fill="#ffff00"/><rect x="384.21" y="451.02" width="15.96" height="4.99" fill="#ffff00"/><rect x="399.87" y="451.02" width="15.96" height="4.99" fill="#ffff00"/><rect x="415.52" y="451.02" width="15.96" height="4.99" fill="#ffff00"/><rect x="431.18" y="451.02" width="15.96" height="4.99" fill="#c8f414"/><rect x="446.84" y="451.02" width="15.96" height="4.99" fill="#ffff00"/><rect x="274.60" y="455.71" width="15.96" height="4.99" fill="#22a8ff"/><rect x="290.26" y="455.71" width="15.96" height="4.99" fill="#22d2ff"/><rect x="305.92" y="455.71" width="15.96" height="4.99" fill="#22d2ff"/><rect x="321.58" y="455.71" width="15.96" height="4.99" fill="#22ee22"/><rect x="337.23" y="455.71" width="15.96" height="4.99" fill="#22d2ff"/><rect x="352.89" y="455.71" width="15.96" height="4.99" fill="#22a8ff"/><rect x="368.55" y="455.71" width="15.96" height="4.99" fill="#ffff00"/><rect x="384.21" y="455.71" width="15.96" height="4.99" fill="#ffff00"/><rect x="399.87" y="455.71" width="15.96" height="4.99" fill="#ffff00"/><rect x="415.52" y="455.71" width="15.96" height="4.99" fill="#ffff00"/><rect x="431.18" y="455.71" width="15.96" height="4.99" fill="#ffff00"/><rect x="446.84" y="455.71" width="15.96" height="4.99" fill="#ffff00"/><rect x="274.60" y="460.40" width="15.96" height="4.99" fill="#22d2ff"/><rect x="290.26" y="460.40" width="15.96" height="4.99" fill="#22d2ff"/><rect x="305.92" y="460.40" width="15.96" height="4.99" fill="#22d2ff"/><rect x="321.58" y="460.40" width="15.96" height="4.99" fill="#22ee22"/><rect x="337.23" y="460.40" width="15.96" height="4.99" fill="#22d2ff"/><rect x="352.89" y="460.40" width="15.96" height="4.99" fill="#22d2ff"/><rect x="368.55" y="460.40" width="15.96" height="4.99" fill="#ffff00"/><rect x="384.21" y="460.40" width="15.96" height="4.99" fill="#ffff00"/><rect x="399.87" y="460.40" width="15.96" height="4.99" fill="#ffff00"/><rect x="415.52" y="460.40" width="15.96" height="4.99" fill="#ffff00"/><rect x="431.18" y="460.40" width="15.96" height="4.99" fill="#ffff00"/><rect x="446.84" y="460.40" width="15.96" height="4.99" fill="#ffff00"/><rect x="274.60" y="465.10" width="15.96" height="4.99" fill="#22d2ff"/><rect x="290.26" y="465.10" width="15.96" height="4.99" fill="#22ee22"/><rect x="305.92" y="465.10" width="15.96" height="4.99" fill="#22d2ff"/><rect x="321.58" y="465.10" width="15.96" height="4.99" fill="#22d2ff"/><rect x="337.23" y="465.10" width="15.96" height="4.99" fill="#22d2ff"/><rect x="352.89" y="465.10" width="15.96" height="4.99" fill="#22d2ff"/><rect x="368.55" y="465.10" width="15.96" height="4.99" fill="#7cf016"/><rect x="384.21" y="465.10" width="15.96" height="4.99" fill="#7cf016"/><rect x="399.87" y="465.10" width="15.96" height="4.99" fill="#7cf016"/><rect x="415.52" y="465.10" width="15.96" height="4.99" fill="#ffff00"/><rect x="431.18" y="465.10" width="15.96" height="4.99" fill="#ffff00"/><rect x="446.84" y="465.10" width="15.96" height="4.99" fill="#ffff00"/><rect x="274.60" y="469.79" width="15.96" height="4.99" fill="#22d2ff"/><rect x="290.26" y="469.79" width="15.96" height="4.99" fill="#22d2ff"/><rect x="305.92" y="469.79" width="15.96" height="4.99" fill="#22d2ff"/><rect x="321.58" y="469.79" width="15.96" height="4.99" fill="#22ee22"/><rect x="337.23" y="469.79" width="15.96" height="4.99" fill="#22a8ff"/><rect x="352.89" y="469.79" width="15.96" height="4.99" fill="#1a78ff"/><rect x="368.55" y="469.79" width="15.96" height="4.99" fill="#ffff00"/><rect x="384.21" y="469.79" width="15.96" height="4.99" fill="#ffff00"/><rect x="399.87" y="469.79" width="15.96" height="4.99" fill="#ffff00"/><rect x="415.52" y="469.79" width="15.96" height="4.99" fill="#ffff00"/><rect x="431.18" y="469.79" width="15.96" height="4.99" fill="#ffff00"/><rect x="446.84" y="469.79" width="15.96" height="4.99" fill="#ffff00"/><rect x="274.60" y="474.48" width="15.96" height="4.99" fill="#22d2ff"/><rect x="290.26" y="474.48" width="15.96" height="4.99" fill="#22d2ff"/><rect x="305.92" y="474.48" width="15.96" height="4.99" fill="#22d2ff"/><rect x="321.58" y="474.48" width="15.96" height="4.99" fill="#22ee22"/><rect x="337.23" y="474.48" width="15.96" height="4.99" fill="#22a8ff"/><rect x="352.89" y="474.48" width="15.96" height="4.99" fill="#1a78ff"/><rect x="368.55" y="474.48" width="15.96" height="4.99" fill="#ffff00"/><rect x="384.21" y="474.48" width="15.96" height="4.99" fill="#ffff00"/><rect x="399.87" y="474.48" width="15.96" height="4.99" fill="#ffff00"/><rect x="415.52" y="474.48" width="15.96" height="4.99" fill="#c8f414"/><rect x="431.18" y="474.48" width="15.96" height="4.99" fill="#ffff00"/><rect x="446.84" y="474.48" width="15.96" height="4.99" fill="#ffff00"/><rect x="274.60" y="479.17" width="15.96" height="4.99" fill="#22d2ff"/><rect x="290.26" y="479.17" width="15.96" height="4.99" fill="#22d2ff"/><rect x="305.92" y="479.17" width="15.96" height="4.99" fill="#22ee22"/><rect x="321.58" y="479.17" width="15.96" height="4.99" fill="#22ee22"/><rect x="337.23" y="479.17" width="15.96" height="4.99" fill="#1a78ff"/><rect x="352.89" y="479.17" width="15.96" height="4.99" fill="#1a78ff"/><rect x="368.55" y="479.17" width="15.96" height="4.99" fill="#ffff00"/><rect x="384.21" y="479.17" width="15.96" height="4.99" fill="#ffff00"/><rect x="399.87" y="479.17" width="15.96" height="4.99" fill="#ffff00"/><rect x="415.52" y="479.17" width="15.96" height="4.99" fill="#ffff00"/><rect x="431.18" y="479.17" width="15.96" height="4.99" fill="#ffff00"/><rect x="446.84" y="479.17" width="15.96" height="4.99" fill="#ffff00"/><rect x="274.60" y="483.87" width="15.96" height="4.99" fill="#22d2ff"/><rect x="290.26" y="483.87" width="15.96" height="4.99" fill="#22a8ff"/><rect x="305.92" y="483.87" width="15.96" height="4.99" fill="#22d2ff"/><rect x="321.58" y="483.87" width="15.96" height="4.99" fill="#22d2ff"/><rect x="337.23" y="483.87" width="15.96" height="4.99" fill="#22d2ff"/><rect x="352.89" y="483.87" width="15.96" height="4.99" fill="#22ee22"/><rect x="368.55" y="483.87" width="15.96" height="4.99" fill="#fff26e"/><rect x="384.21" y="483.87" width="15.96" height="4.99" fill="#fff26e"/><rect x="399.87" y="483.87" width="15.96" height="4.99" fill="#fff26e"/><rect x="415.52" y="483.87" width="15.96" height="4.99" fill="#c8f414"/><rect x="431.18" y="483.87" width="15.96" height="4.99" fill="#c8f414"/><rect x="446.84" y="483.87" width="15.96" height="4.99" fill="#c8f414"/><rect x="274.60" y="488.56" width="15.96" height="4.99" fill="#22d2ff"/><rect x="290.26" y="488.56" width="15.96" height="4.99" fill="#22a8ff"/><rect x="305.92" y="488.56" width="15.96" height="4.99" fill="#22a8ff"/><rect x="321.58" y="488.56" width="15.96" height="4.99" fill="#22ee22"/><rect x="337.23" y="488.56" width="15.96" height="4.99" fill="#22d2ff"/><rect x="352.89" y="488.56" width="15.96" height="4.99" fill="#22d2ff"/><rect x="368.55" y="488.56" width="15.96" height="4.99" fill="#fff26e"/><rect x="384.21" y="488.56" width="15.96" height="4.99" fill="#fff26e"/><rect x="399.87" y="488.56" width="15.96" height="4.99" fill="#fff26e"/><rect x="415.52" y="488.56" width="15.96" height="4.99" fill="#c8f414"/><rect x="431.18" y="488.56" width="15.96" height="4.99" fill="#7cf016"/><rect x="446.84" y="488.56" width="15.96" height="4.99" fill="#c8f414"/><rect x="274.60" y="493.25" width="15.96" height="4.99" fill="#22d2ff"/><rect x="290.26" y="493.25" width="15.96" height="4.99" fill="#22d2ff"/><rect x="305.92" y="493.25" width="15.96" height="4.99" fill="#22a8ff"/><rect x="321.58" y="493.25" width="15.96" height="4.99" fill="#22d2ff"/><rect x="337.23" y="493.25" width="15.96" height="4.99" fill="#22d2ff"/><rect x="352.89" y="493.25" width="15.96" height="4.99" fill="#22d2ff"/><rect x="368.55" y="493.25" width="15.96" height="4.99" fill="#fff26e"/><rect x="384.21" y="493.25" width="15.96" height="4.99" fill="#fff26e"/><rect x="399.87" y="493.25" width="15.96" height="4.99" fill="#fff26e"/><rect x="415.52" y="493.25" width="15.96" height="4.99" fill="#c8f414"/><rect x="431.18" y="493.25" width="15.96" height="4.99" fill="#c8f414"/><rect x="446.84" y="493.25" width="15.96" height="4.99" fill="#c8f414"/><rect x="274.60" y="497.94" width="15.96" height="4.99" fill="#22d2ff"/><rect x="290.26" y="497.94" width="15.96" height="4.99" fill="#22ee22"/><rect x="305.92" y="497.94" width="15.96" height="4.99" fill="#22ee22"/><rect x="321.58" y="497.94" width="15.96" height="4.99" fill="#22d2ff"/><rect x="337.23" y="497.94" width="15.96" height="4.99" fill="#22d2ff"/><rect x="352.89" y="497.94" width="15.96" height="4.99" fill="#22d2ff"/><rect x="368.55" y="497.94" width="15.96" height="4.99" fill="#fff26e"/><rect x="384.21" y="497.94" width="15.96" height="4.99" fill="#fff26e"/><rect x="399.87" y="497.94" width="15.96" height="4.99" fill="#fff26e"/><rect x="415.52" y="497.94" width="15.96" height="4.99" fill="#7cf016"/><rect x="431.18" y="497.94" width="15.96" height="4.99" fill="#7cf016"/><rect x="446.84" y="497.94" width="15.96" height="4.99" fill="#7cf016"/><rect x="274.60" y="502.64" width="15.96" height="4.99" fill="#22ee22"/><rect x="290.26" y="502.64" width="15.96" height="4.99" fill="#22ee22"/><rect x="305.92" y="502.64" width="15.96" height="4.99" fill="#22ee22"/><rect x="321.58" y="502.64" width="15.96" height="4.99" fill="#22d2ff"/><rect x="337.23" y="502.64" width="15.96" height="4.99" fill="#22d2ff"/><rect x="352.89" y="502.64" width="15.96" height="4.99" fill="#22ee22"/><rect x="368.55" y="502.64" width="15.96" height="4.99" fill="#fff26e"/><rect x="384.21" y="502.64" width="15.96" height="4.99" fill="#ffff00"/><rect x="399.87" y="502.64" width="15.96" height="4.99" fill="#ffff00"/><rect x="415.52" y="502.64" width="15.96" height="4.99" fill="#22ee22"/><rect x="431.18" y="502.64" width="15.96" height="4.99" fill="#22ee22"/><rect x="446.84" y="502.64" width="15.96" height="4.99" fill="#22ee22"/><rect x="274.60" y="507.33" width="15.96" height="4.99" fill="#7cf016"/><rect x="290.26" y="507.33" width="15.96" height="4.99" fill="#22ee22"/><rect x="305.92" y="507.33" width="15.96" height="4.99" fill="#22ee22"/><rect x="321.58" y="507.33" width="15.96" height="4.99" fill="#1a78ff"/><rect x="337.23" y="507.33" width="15.96" height="4.99" fill="#1a78ff"/><rect x="352.89" y="507.33" width="15.96" height="4.99" fill="#1a78ff"/><rect x="368.55" y="507.33" width="15.96" height="4.99" fill="#fff26e"/><rect x="384.21" y="507.33" width="15.96" height="4.99" fill="#ffff00"/><rect x="399.87" y="507.33" width="15.96" height="4.99" fill="#ffff00"/><rect x="415.52" y="507.33" width="15.96" height="4.99" fill="#22ee22"/><rect x="431.18" y="507.33" width="15.96" height="4.99" fill="#22ee22"/><rect x="446.84" y="507.33" width="15.96" height="4.99" fill="#7cf016"/><rect x="274.60" y="512.02" width="15.96" height="4.99" fill="#22ee22"/><rect x="290.26" y="512.02" width="15.96" height="4.99" fill="#1a3ef0"/><rect x="305.92" y="512.02" width="15.96" height="4.99" fill="#22ee22"/><rect x="321.58" y="512.02" width="15.96" height="4.99" fill="#22ee22"/><rect x="337.23" y="512.02" width="15.96" height="4.99" fill="#7cf016"/><rect x="352.89" y="512.02" width="15.96" height="4.99" fill="#1a78ff"/><rect x="368.55" y="512.02" width="15.96" height="4.99" fill="#ffdf9e"/><rect x="384.21" y="512.02" width="15.96" height="4.99" fill="#ffff00"/><rect x="399.87" y="512.02" width="15.96" height="4.99" fill="#ffff00"/><rect x="415.52" y="512.02" width="15.96" height="4.99" fill="#22ee22"/><rect x="431.18" y="512.02" width="15.96" height="4.99" fill="#7cf016"/><rect x="446.84" y="512.02" width="15.96" height="4.99" fill="#7cf016"/><rect x="274.60" y="516.71" width="15.96" height="4.99" fill="#22d2ff"/><rect x="290.26" y="516.71" width="15.96" height="4.99" fill="#1a3ef0"/><rect x="305.92" y="516.71" width="15.96" height="4.99" fill="#22ee22"/><rect x="321.58" y="516.71" width="15.96" height="4.99" fill="#22a8ff"/><rect x="337.23" y="516.71" width="15.96" height="4.99" fill="#7cf016"/><rect x="352.89" y="516.71" width="15.96" height="4.99" fill="#22ee22"/><rect x="368.55" y="516.71" width="15.96" height="4.99" fill="#ffdf9e"/><rect x="384.21" y="516.71" width="15.96" height="4.99" fill="#fff26e"/><rect x="399.87" y="516.71" width="15.96" height="4.99" fill="#ffff00"/><rect x="415.52" y="516.71" width="15.96" height="4.99" fill="#22ee22"/><rect x="431.18" y="516.71" width="15.96" height="4.99" fill="#ffff00"/><rect x="446.84" y="516.71" width="15.96" height="4.99" fill="#22ee22"/><rect x="274.60" y="521.41" width="15.96" height="4.99" fill="#22ee22"/><rect x="290.26" y="521.41" width="15.96" height="4.99" fill="#1a3ef0"/><rect x="305.92" y="521.41" width="15.96" height="4.99" fill="#22ee22"/><rect x="321.58" y="521.41" width="15.96" height="4.99" fill="#22ee22"/><rect x="337.23" y="521.41" width="15.96" height="4.99" fill="#22ee22"/><rect x="352.89" y="521.41" width="15.96" height="4.99" fill="#22ee22"/><rect x="368.55" y="521.41" width="15.96" height="4.99" fill="#7cf016"/><rect x="384.21" y="521.41" width="15.96" height="4.99" fill="#ffdf9e"/><rect x="399.87" y="521.41" width="15.96" height="4.99" fill="#c8f414"/><rect x="415.52" y="521.41" width="15.96" height="4.99" fill="#22ee22"/><rect x="431.18" y="521.41" width="15.96" height="4.99" fill="#ffff00"/><rect x="446.84" y="521.41" width="15.96" height="4.99" fill="#22ee22"/><rect x="274.60" y="526.10" width="15.96" height="4.94" fill="#fff058"/><rect x="290.26" y="526.10" width="15.96" height="4.94" fill="#ffff00"/><rect x="305.92" y="526.10" width="15.96" height="4.94" fill="#ffff00"/><rect x="321.58" y="526.10" width="15.96" height="4.94" fill="#7cf016"/><rect x="337.23" y="526.10" width="15.96" height="4.94" fill="#7cf016"/><rect x="352.89" y="526.10" width="15.96" height="4.94" fill="#7cf016"/><rect x="368.55" y="526.10" width="15.96" height="4.94" fill="#22ee22"/><rect x="384.21" y="526.10" width="15.96" height="4.94" fill="#22ee22"/><rect x="399.87" y="526.10" width="15.96" height="4.94" fill="#22ee22"/><rect x="415.52" y="526.10" width="15.96" height="4.94" fill="#1a78ff"/><rect x="431.18" y="526.10" width="15.96" height="4.94" fill="#1a78ff"/><rect x="446.84" y="526.10" width="15.96" height="4.94" fill="#22a8ff"/><rect x="274.60" y="530.74" width="15.96" height="4.94" fill="#fff058"/><rect x="290.26" y="530.74" width="15.96" height="4.94" fill="#ffff00"/><rect x="305.92" y="530.74" width="15.96" height="4.94" fill="#ffff00"/><rect x="321.58" y="530.74" width="15.96" height="4.94" fill="#c8f414"/><rect x="337.23" y="530.74" width="15.96" height="4.94" fill="#c8f414"/><rect x="352.89" y="530.74" width="15.96" height="4.94" fill="#7cf016"/><rect x="368.55" y="530.74" width="15.96" height="4.94" fill="#22ee22"/><rect x="384.21" y="530.74" width="15.96" height="4.94" fill="#22ee22"/><rect x="399.87" y="530.74" width="15.96" height="4.94" fill="#22ee22"/><rect x="415.52" y="530.74" width="15.96" height="4.94" fill="#1a78ff"/><rect x="431.18" y="530.74" width="15.96" height="4.94" fill="#1a78ff"/><rect x="446.84" y="530.74" width="15.96" height="4.94" fill="#22a8ff"/><rect x="274.60" y="535.38" width="15.96" height="4.94" fill="#fff058"/><rect x="290.26" y="535.38" width="15.96" height="4.94" fill="#7cf016"/><rect x="305.92" y="535.38" width="15.96" height="4.94" fill="#ffff00"/><rect x="321.58" y="535.38" width="15.96" height="4.94" fill="#c8f414"/><rect x="337.23" y="535.38" width="15.96" height="4.94" fill="#c8f414"/><rect x="352.89" y="535.38" width="15.96" height="4.94" fill="#7cf016"/><rect x="368.55" y="535.38" width="15.96" height="4.94" fill="#22ee22"/><rect x="384.21" y="535.38" width="15.96" height="4.94" fill="#22ee22"/><rect x="399.87" y="535.38" width="15.96" height="4.94" fill="#22ee22"/><rect x="415.52" y="535.38" width="15.96" height="4.94" fill="#1a78ff"/><rect x="431.18" y="535.38" width="15.96" height="4.94" fill="#1a3ef0"/><rect x="446.84" y="535.38" width="15.96" height="4.94" fill="#22a8ff"/><rect x="274.60" y="540.02" width="15.96" height="4.94" fill="#fff058"/><rect x="290.26" y="540.02" width="15.96" height="4.94" fill="#ffff00"/><rect x="305.92" y="540.02" width="15.96" height="4.94" fill="#ffff00"/><rect x="321.58" y="540.02" width="15.96" height="4.94" fill="#c8f414"/><rect x="337.23" y="540.02" width="15.96" height="4.94" fill="#c8f414"/><rect x="352.89" y="540.02" width="15.96" height="4.94" fill="#7cf016"/><rect x="368.55" y="540.02" width="15.96" height="4.94" fill="#22ee22"/><rect x="384.21" y="540.02" width="15.96" height="4.94" fill="#22ee22"/><rect x="399.87" y="540.02" width="15.96" height="4.94" fill="#22ee22"/><rect x="415.52" y="540.02" width="15.96" height="4.94" fill="#1a78ff"/><rect x="431.18" y="540.02" width="15.96" height="4.94" fill="#1a78ff"/><rect x="446.84" y="540.02" width="15.96" height="4.94" fill="#1a78ff"/><rect x="274.60" y="544.66" width="15.96" height="4.94" fill="#fff058"/><rect x="290.26" y="544.66" width="15.96" height="4.94" fill="#7cf016"/><rect x="305.92" y="544.66" width="15.96" height="4.94" fill="#ffff00"/><rect x="321.58" y="544.66" width="15.96" height="4.94" fill="#c8f414"/><rect x="337.23" y="544.66" width="15.96" height="4.94" fill="#c8f414"/><rect x="352.89" y="544.66" width="15.96" height="4.94" fill="#22ee22"/><rect x="368.55" y="544.66" width="15.96" height="4.94" fill="#22ee22"/><rect x="384.21" y="544.66" width="15.96" height="4.94" fill="#22ee22"/><rect x="399.87" y="544.66" width="15.96" height="4.94" fill="#22ee22"/><rect x="415.52" y="544.66" width="15.96" height="4.94" fill="#1a3ef0"/><rect x="431.18" y="544.66" width="15.96" height="4.94" fill="#1a78ff"/><rect x="446.84" y="544.66" width="15.96" height="4.94" fill="#22ee22"/><rect x="274.60" y="549.30" width="15.96" height="4.94" fill="#fff058"/><rect x="290.26" y="549.30" width="15.96" height="4.94" fill="#ffff00"/><rect x="305.92" y="549.30" width="15.96" height="4.94" fill="#ffff00"/><rect x="321.58" y="549.30" width="15.96" height="4.94" fill="#22ee22"/><rect x="337.23" y="549.30" width="15.96" height="4.94" fill="#22ee22"/><rect x="352.89" y="549.30" width="15.96" height="4.94" fill="#22ee22"/><rect x="368.55" y="549.30" width="15.96" height="4.94" fill="#22ee22"/><rect x="384.21" y="549.30" width="15.96" height="4.94" fill="#22ee22"/><rect x="399.87" y="549.30" width="15.96" height="4.94" fill="#22ee22"/><rect x="415.52" y="549.30" width="15.96" height="4.94" fill="#22a8ff"/><rect x="431.18" y="549.30" width="15.96" height="4.94" fill="#22a8ff"/><rect x="446.84" y="549.30" width="15.96" height="4.94" fill="#22a8ff"/><rect x="274.60" y="553.94" width="15.96" height="4.94" fill="#fff058"/><rect x="290.26" y="553.94" width="15.96" height="4.94" fill="#ffff00"/><rect x="305.92" y="553.94" width="15.96" height="4.94" fill="#ffff00"/><rect x="321.58" y="553.94" width="15.96" height="4.94" fill="#22ee22"/><rect x="337.23" y="553.94" width="15.96" height="4.94" fill="#22ee22"/><rect x="352.89" y="553.94" width="15.96" height="4.94" fill="#22ee22"/><rect x="368.55" y="553.94" width="15.96" height="4.94" fill="#22ee22"/><rect x="384.21" y="553.94" width="15.96" height="4.94" fill="#22ee22"/><rect x="399.87" y="553.94" width="15.96" height="4.94" fill="#22ee22"/><rect x="415.52" y="553.94" width="15.96" height="4.94" fill="#22a8ff"/><rect x="431.18" y="553.94" width="15.96" height="4.94" fill="#22a8ff"/><rect x="446.84" y="553.94" width="15.96" height="4.94" fill="#22a8ff"/><rect x="274.60" y="558.58" width="15.96" height="4.94" fill="#fff058"/><rect x="290.26" y="558.58" width="15.96" height="4.94" fill="#fff058"/><rect x="305.92" y="558.58" width="15.96" height="4.94" fill="#fff058"/><rect x="321.58" y="558.58" width="15.96" height="4.94" fill="#7cf016"/><rect x="337.23" y="558.58" width="15.96" height="4.94" fill="#7cf016"/><rect x="352.89" y="558.58" width="15.96" height="4.94" fill="#7cf016"/><rect x="368.55" y="558.58" width="15.96" height="4.94" fill="#22ee22"/><rect x="384.21" y="558.58" width="15.96" height="4.94" fill="#22ee22"/><rect x="399.87" y="558.58" width="15.96" height="4.94" fill="#22ee22"/><rect x="415.52" y="558.58" width="15.96" height="4.94" fill="#1a78ff"/><rect x="431.18" y="558.58" width="15.96" height="4.94" fill="#22a8ff"/><rect x="446.84" y="558.58" width="15.96" height="4.94" fill="#22a8ff"/><rect x="274.60" y="563.22" width="15.96" height="4.94" fill="#fff058"/><rect x="290.26" y="563.22" width="15.96" height="4.94" fill="#fff058"/><rect x="305.92" y="563.22" width="15.96" height="4.94" fill="#ffff00"/><rect x="321.58" y="563.22" width="15.96" height="4.94" fill="#22ee22"/><rect x="337.23" y="563.22" width="15.96" height="4.94" fill="#22ee22"/><rect x="352.89" y="563.22" width="15.96" height="4.94" fill="#22ee22"/><rect x="368.55" y="563.22" width="15.96" height="4.94" fill="#22ee22"/><rect x="384.21" y="563.22" width="15.96" height="4.94" fill="#22ee22"/><rect x="399.87" y="563.22" width="15.96" height="4.94" fill="#22ee22"/><rect x="415.52" y="563.22" width="15.96" height="4.94" fill="#22a8ff"/><rect x="431.18" y="563.22" width="15.96" height="4.94" fill="#22a8ff"/><rect x="446.84" y="563.22" width="15.96" height="4.94" fill="#22a8ff"/><rect x="274.60" y="567.86" width="15.96" height="4.94" fill="#fff058"/><rect x="290.26" y="567.86" width="15.96" height="4.94" fill="#ffdf9e"/><rect x="305.92" y="567.86" width="15.96" height="4.94" fill="#ffff00"/><rect x="321.58" y="567.86" width="15.96" height="4.94" fill="#22ee22"/><rect x="337.23" y="567.86" width="15.96" height="4.94" fill="#22ee22"/><rect x="352.89" y="567.86" width="15.96" height="4.94" fill="#22ee22"/><rect x="368.55" y="567.86" width="15.96" height="4.94" fill="#22ee22"/><rect x="384.21" y="567.86" width="15.96" height="4.94" fill="#22ee22"/><rect x="399.87" y="567.86" width="15.96" height="4.94" fill="#22ee22"/><rect x="415.52" y="567.86" width="15.96" height="4.94" fill="#22d2ff"/><rect x="431.18" y="567.86" width="15.96" height="4.94" fill="#22d2ff"/><rect x="446.84" y="567.86" width="15.96" height="4.94" fill="#22d2ff"/><rect x="274.60" y="572.50" width="15.96" height="4.94" fill="#fff058"/><rect x="290.26" y="572.50" width="15.96" height="4.94" fill="#fff058"/><rect x="305.92" y="572.50" width="15.96" height="4.94" fill="#ffff00"/><rect x="321.58" y="572.50" width="15.96" height="4.94" fill="#c8f414"/><rect x="337.23" y="572.50" width="15.96" height="4.94" fill="#c8f414"/><rect x="352.89" y="572.50" width="15.96" height="4.94" fill="#ffff00"/><rect x="368.55" y="572.50" width="15.96" height="4.94" fill="#22ee22"/><rect x="384.21" y="572.50" width="15.96" height="4.94" fill="#22ee22"/><rect x="399.87" y="572.50" width="15.96" height="4.94" fill="#22ee22"/><rect x="415.52" y="572.50" width="15.96" height="4.94" fill="#22a8ff"/><rect x="431.18" y="572.50" width="15.96" height="4.94" fill="#22a8ff"/><rect x="446.84" y="572.50" width="15.96" height="4.94" fill="#1a78ff"/><rect x="274.60" y="577.14" width="15.96" height="4.94" fill="#fff058"/><rect x="290.26" y="577.14" width="15.96" height="4.94" fill="#fff058"/><rect x="305.92" y="577.14" width="15.96" height="4.94" fill="#ffff00"/><rect x="321.58" y="577.14" width="15.96" height="4.94" fill="#c8f414"/><rect x="337.23" y="577.14" width="15.96" height="4.94" fill="#c8f414"/><rect x="352.89" y="577.14" width="15.96" height="4.94" fill="#c8f414"/><rect x="368.55" y="577.14" width="15.96" height="4.94" fill="#22ee22"/><rect x="384.21" y="577.14" width="15.96" height="4.94" fill="#22ee22"/><rect x="399.87" y="577.14" width="15.96" height="4.94" fill="#22ee22"/><rect x="415.52" y="577.14" width="15.96" height="4.94" fill="#22a8ff"/><rect x="431.18" y="577.14" width="15.96" height="4.94" fill="#22a8ff"/><rect x="446.84" y="577.14" width="15.96" height="4.94" fill="#22a8ff"/><rect x="274.60" y="581.78" width="15.96" height="4.94" fill="#fff058"/><rect x="290.26" y="581.78" width="15.96" height="4.94" fill="#fff058"/><rect x="305.92" y="581.78" width="15.96" height="4.94" fill="#ffff00"/><rect x="321.58" y="581.78" width="15.96" height="4.94" fill="#c8f414"/><rect x="337.23" y="581.78" width="15.96" height="4.94" fill="#c8f414"/><rect x="352.89" y="581.78" width="15.96" height="4.94" fill="#c8f414"/><rect x="368.55" y="581.78" width="15.96" height="4.94" fill="#22ee22"/><rect x="384.21" y="581.78" width="15.96" height="4.94" fill="#22ee22"/><rect x="399.87" y="581.78" width="15.96" height="4.94" fill="#22ee22"/><rect x="415.52" y="581.78" width="15.96" height="4.94" fill="#22a8ff"/><rect x="431.18" y="581.78" width="15.96" height="4.94" fill="#22a8ff"/><rect x="446.84" y="581.78" width="15.96" height="4.94" fill="#22a8ff"/><rect x="274.60" y="586.42" width="15.96" height="4.94" fill="#fff058"/><rect x="290.26" y="586.42" width="15.96" height="4.94" fill="#fff058"/><rect x="305.92" y="586.42" width="15.96" height="4.94" fill="#ffff00"/><rect x="321.58" y="586.42" width="15.96" height="4.94" fill="#c8f414"/><rect x="337.23" y="586.42" width="15.96" height="4.94" fill="#c8f414"/><rect x="352.89" y="586.42" width="15.96" height="4.94" fill="#c8f414"/><rect x="368.55" y="586.42" width="15.96" height="4.94" fill="#22d2ff"/><rect x="384.21" y="586.42" width="15.96" height="4.94" fill="#22ee22"/><rect x="399.87" y="586.42" width="15.96" height="4.94" fill="#22ee22"/><rect x="415.52" y="586.42" width="15.96" height="4.94" fill="#22d2ff"/><rect x="431.18" y="586.42" width="15.96" height="4.94" fill="#22d2ff"/><rect x="446.84" y="586.42" width="15.96" height="4.94" fill="#22a8ff"/><rect x="274.60" y="591.06" width="15.96" height="4.94" fill="#c8f414"/><rect x="290.26" y="591.06" width="15.96" height="4.94" fill="#fff058"/><rect x="305.92" y="591.06" width="15.96" height="4.94" fill="#fff058"/><rect x="321.58" y="591.06" width="15.96" height="4.94" fill="#ffff00"/><rect x="337.23" y="591.06" width="15.96" height="4.94" fill="#ffff00"/><rect x="352.89" y="591.06" width="15.96" height="4.94" fill="#ffff00"/><rect x="368.55" y="591.06" width="15.96" height="4.94" fill="#22a8ff"/><rect x="384.21" y="591.06" width="15.96" height="4.94" fill="#22a8ff"/><rect x="399.87" y="591.06" width="15.96" height="4.94" fill="#22d2ff"/><rect x="415.52" y="591.06" width="15.96" height="4.94" fill="#22d2ff"/><rect x="431.18" y="591.06" width="15.96" height="4.94" fill="#22d2ff"/><rect x="446.84" y="591.06" width="15.96" height="4.94" fill="#22ee22"/><rect x="274.60" y="595.70" width="15.96" height="4.94" fill="#fff058"/><rect x="290.26" y="595.70" width="15.96" height="4.94" fill="#fff058"/><rect x="305.92" y="595.70" width="15.96" height="4.94" fill="#ffdf9e"/><rect x="321.58" y="595.70" width="15.96" height="4.94" fill="#22ee22"/><rect x="337.23" y="595.70" width="15.96" height="4.94" fill="#7cf016"/><rect x="352.89" y="595.70" width="15.96" height="4.94" fill="#22ee22"/><rect x="368.55" y="595.70" width="15.96" height="4.94" fill="#22a8ff"/><rect x="384.21" y="595.70" width="15.96" height="4.94" fill="#22d2ff"/><rect x="399.87" y="595.70" width="15.96" height="4.94" fill="#22ee22"/><rect x="415.52" y="595.70" width="15.96" height="4.94" fill="#22ee22"/><rect x="431.18" y="595.70" width="15.96" height="4.94" fill="#22d2ff"/><rect x="446.84" y="595.70" width="15.96" height="4.94" fill="#22ee22"/><rect x="274.60" y="600.34" width="15.96" height="4.94" fill="#fff058"/><rect x="290.26" y="600.34" width="15.96" height="4.94" fill="#fff058"/><rect x="305.92" y="600.34" width="15.96" height="4.94" fill="#fff058"/><rect x="321.58" y="600.34" width="15.96" height="4.94" fill="#22ee22"/><rect x="337.23" y="600.34" width="15.96" height="4.94" fill="#c8f414"/><rect x="352.89" y="600.34" width="15.96" height="4.94" fill="#22ee22"/><rect x="368.55" y="600.34" width="15.96" height="4.94" fill="#22ee22"/><rect x="384.21" y="600.34" width="15.96" height="4.94" fill="#22ee22"/><rect x="399.87" y="600.34" width="15.96" height="4.94" fill="#22ee22"/><rect x="415.52" y="600.34" width="15.96" height="4.94" fill="#22d2ff"/><rect x="431.18" y="600.34" width="15.96" height="4.94" fill="#22d2ff"/><rect x="446.84" y="600.34" width="15.96" height="4.94" fill="#22d2ff"/><rect x="274.60" y="604.98" width="15.96" height="4.94" fill="#fff058"/><rect x="290.26" y="604.98" width="15.96" height="4.94" fill="#fff058"/><rect x="305.92" y="604.98" width="15.96" height="4.94" fill="#ffff00"/><rect x="321.58" y="604.98" width="15.96" height="4.94" fill="#22ee22"/><rect x="337.23" y="604.98" width="15.96" height="4.94" fill="#22ee22"/><rect x="352.89" y="604.98" width="15.96" height="4.94" fill="#22ee22"/><rect x="368.55" y="604.98" width="15.96" height="4.94" fill="#a4f01a"/><rect x="384.21" y="604.98" width="15.96" height="4.94" fill="#a4f01a"/><rect x="399.87" y="604.98" width="15.96" height="4.94" fill="#a4f01a"/><rect x="415.52" y="604.98" width="15.96" height="4.94" fill="#1a78ff"/><rect x="431.18" y="604.98" width="15.96" height="4.94" fill="#1a78ff"/><rect x="446.84" y="604.98" width="15.96" height="4.94" fill="#1a78ff"/><rect x="274.60" y="609.62" width="15.96" height="4.94" fill="#fff058"/><rect x="290.26" y="609.62" width="15.96" height="4.94" fill="#fff058"/><rect x="305.92" y="609.62" width="15.96" height="4.94" fill="#ffff00"/><rect x="321.58" y="609.62" width="15.96" height="4.94" fill="#22ee22"/><rect x="337.23" y="609.62" width="15.96" height="4.94" fill="#22ee22"/><rect x="352.89" y="609.62" width="15.96" height="4.94" fill="#22ee22"/><rect x="368.55" y="609.62" width="15.96" height="4.94" fill="#a4f01a"/><rect x="384.21" y="609.62" width="15.96" height="4.94" fill="#a4f01a"/><rect x="399.87" y="609.62" width="15.96" height="4.94" fill="#a4f01a"/><rect x="415.52" y="609.62" width="15.96" height="4.94" fill="#1a78ff"/><rect x="431.18" y="609.62" width="15.96" height="4.94" fill="#1a78ff"/><rect x="446.84" y="609.62" width="15.96" height="4.94" fill="#1a78ff"/><rect x="274.60" y="614.26" width="15.96" height="4.94" fill="#fff058"/><rect x="290.26" y="614.26" width="15.96" height="4.94" fill="#fff058"/><rect x="305.92" y="614.26" width="15.96" height="4.94" fill="#ffff00"/><rect x="321.58" y="614.26" width="15.96" height="4.94" fill="#c8f414"/><rect x="337.23" y="614.26" width="15.96" height="4.94" fill="#c8f414"/><rect x="352.89" y="614.26" width="15.96" height="4.94" fill="#7cf016"/><rect x="368.55" y="614.26" width="15.96" height="4.94" fill="#a4f01a"/><rect x="384.21" y="614.26" width="15.96" height="4.94" fill="#a4f01a"/><rect x="399.87" y="614.26" width="15.96" height="4.94" fill="#a4f01a"/><rect x="415.52" y="614.26" width="15.96" height="4.94" fill="#1a78ff"/><rect x="431.18" y="614.26" width="15.96" height="4.94" fill="#1a78ff"/><rect x="446.84" y="614.26" width="15.96" height="4.94" fill="#1a78ff"/><rect x="274.60" y="618.90" width="15.96" height="4.94" fill="#fff058"/><rect x="290.26" y="618.90" width="15.96" height="4.94" fill="#fff058"/><rect x="305.92" y="618.90" width="15.96" height="4.94" fill="#ffff00"/><rect x="321.58" y="618.90" width="15.96" height="4.94" fill="#7cf016"/><rect x="337.23" y="618.90" width="15.96" height="4.94" fill="#7cf016"/><rect x="352.89" y="618.90" width="15.96" height="4.94" fill="#7cf016"/><rect x="368.55" y="618.90" width="15.96" height="4.94" fill="#7cf016"/><rect x="384.21" y="618.90" width="15.96" height="4.94" fill="#7cf016"/><rect x="399.87" y="618.90" width="15.96" height="4.94" fill="#7cf016"/><rect x="415.52" y="618.90" width="15.96" height="4.94" fill="#22a8ff"/><rect x="431.18" y="618.90" width="15.96" height="4.94" fill="#1a78ff"/><rect x="446.84" y="618.90" width="15.96" height="4.94" fill="#1a78ff"/><rect x="274.60" y="623.54" width="15.96" height="4.94" fill="#fff058"/><rect x="290.26" y="623.54" width="15.96" height="4.94" fill="#fff058"/><rect x="305.92" y="623.54" width="15.96" height="4.94" fill="#ffff00"/><rect x="321.58" y="623.54" width="15.96" height="4.94" fill="#22ee22"/><rect x="337.23" y="623.54" width="15.96" height="4.94" fill="#22ee22"/><rect x="352.89" y="623.54" width="15.96" height="4.94" fill="#7cf016"/><rect x="368.55" y="623.54" width="15.96" height="4.94" fill="#7cf016"/><rect x="384.21" y="623.54" width="15.96" height="4.94" fill="#7cf016"/><rect x="399.87" y="623.54" width="15.96" height="4.94" fill="#7cf016"/><rect x="415.52" y="623.54" width="15.96" height="4.94" fill="#22a8ff"/><rect x="431.18" y="623.54" width="15.96" height="4.94" fill="#1a78ff"/><rect x="446.84" y="623.54" width="15.96" height="4.94" fill="#22a8ff"/><rect x="274.60" y="628.18" width="15.96" height="4.94" fill="#fff058"/><rect x="290.26" y="628.18" width="15.96" height="4.94" fill="#fff058"/><rect x="305.92" y="628.18" width="15.96" height="4.94" fill="#ffff00"/><rect x="321.58" y="628.18" width="15.96" height="4.94" fill="#22ee22"/><rect x="337.23" y="628.18" width="15.96" height="4.94" fill="#22ee22"/><rect x="352.89" y="628.18" width="15.96" height="4.94" fill="#22ee22"/><rect x="368.55" y="628.18" width="15.96" height="4.94" fill="#a4f01a"/><rect x="384.21" y="628.18" width="15.96" height="4.94" fill="#7cf016"/><rect x="399.87" y="628.18" width="15.96" height="4.94" fill="#a4f01a"/><rect x="415.52" y="628.18" width="15.96" height="4.94" fill="#1a78ff"/><rect x="431.18" y="628.18" width="15.96" height="4.94" fill="#22a8ff"/><rect x="446.84" y="628.18" width="15.96" height="4.94" fill="#22a8ff"/><rect x="274.60" y="632.82" width="15.96" height="4.94" fill="#fff058"/><rect x="290.26" y="632.82" width="15.96" height="4.94" fill="#fff058"/><rect x="305.92" y="632.82" width="15.96" height="4.94" fill="#ffff00"/><rect x="321.58" y="632.82" width="15.96" height="4.94" fill="#22ee22"/><rect x="337.23" y="632.82" width="15.96" height="4.94" fill="#22ee22"/><rect x="352.89" y="632.82" width="15.96" height="4.94" fill="#22ee22"/><rect x="368.55" y="632.82" width="15.96" height="4.94" fill="#a4f01a"/><rect x="384.21" y="632.82" width="15.96" height="4.94" fill="#a4f01a"/><rect x="399.87" y="632.82" width="15.96" height="4.94" fill="#a4f01a"/><rect x="415.52" y="632.82" width="15.96" height="4.94" fill="#1a78ff"/><rect x="431.18" y="632.82" width="15.96" height="4.94" fill="#1a78ff"/><rect x="446.84" y="632.82" width="15.96" height="4.94" fill="#22a8ff"/><rect x="274.60" y="637.46" width="15.96" height="4.94" fill="#fff058"/><rect x="290.26" y="637.46" width="15.96" height="4.94" fill="#fff058"/><rect x="305.92" y="637.46" width="15.96" height="4.94" fill="#ffff00"/><rect x="321.58" y="637.46" width="15.96" height="4.94" fill="#22ee22"/><rect x="337.23" y="637.46" width="15.96" height="4.94" fill="#22ee22"/><rect x="352.89" y="637.46" width="15.96" height="4.94" fill="#22ee22"/><rect x="368.55" y="637.46" width="15.96" height="4.94" fill="#a4f01a"/><rect x="384.21" y="637.46" width="15.96" height="4.94" fill="#a4f01a"/><rect x="399.87" y="637.46" width="15.96" height="4.94" fill="#a4f01a"/><rect x="415.52" y="637.46" width="15.96" height="4.94" fill="#1a78ff"/><rect x="431.18" y="637.46" width="15.96" height="4.94" fill="#22a8ff"/><rect x="446.84" y="637.46" width="15.96" height="4.94" fill="#22a8ff"/><rect x="274.60" y="642.10" width="15.96" height="4.94" fill="#fff058"/><rect x="290.26" y="642.10" width="15.96" height="4.94" fill="#ffff00"/><rect x="305.92" y="642.10" width="15.96" height="4.94" fill="#fff058"/><rect x="321.58" y="642.10" width="15.96" height="4.94" fill="#22ee22"/><rect x="337.23" y="642.10" width="15.96" height="4.94" fill="#22ee22"/><rect x="352.89" y="642.10" width="15.96" height="4.94" fill="#22ee22"/><rect x="368.55" y="642.10" width="15.96" height="4.94" fill="#22ee22"/><rect x="384.21" y="642.10" width="15.96" height="4.94" fill="#7cf016"/><rect x="399.87" y="642.10" width="15.96" height="4.94" fill="#22ee22"/><rect x="415.52" y="642.10" width="15.96" height="4.94" fill="#22a8ff"/><rect x="431.18" y="642.10" width="15.96" height="4.94" fill="#1a78ff"/><rect x="446.84" y="642.10" width="15.96" height="4.94" fill="#22a8ff"/><rect x="274.60" y="646.74" width="15.96" height="4.94" fill="#fff058"/><rect x="290.26" y="646.74" width="15.96" height="4.94" fill="#fff058"/><rect x="305.92" y="646.74" width="15.96" height="4.94" fill="#fff058"/><rect x="321.58" y="646.74" width="15.96" height="4.94" fill="#22ee22"/><rect x="337.23" y="646.74" width="15.96" height="4.94" fill="#22ee22"/><rect x="352.89" y="646.74" width="15.96" height="4.94" fill="#22ee22"/><rect x="368.55" y="646.74" width="15.96" height="4.94" fill="#7cf016"/><rect x="384.21" y="646.74" width="15.96" height="4.94" fill="#a4f01a"/><rect x="399.87" y="646.74" width="15.96" height="4.94" fill="#7cf016"/><rect x="415.52" y="646.74" width="15.96" height="4.94" fill="#22a8ff"/><rect x="431.18" y="646.74" width="15.96" height="4.94" fill="#22d2ff"/><rect x="446.84" y="646.74" width="15.96" height="4.94" fill="#22a8ff"/><rect x="274.60" y="651.38" width="15.96" height="4.94" fill="#fff058"/><rect x="290.26" y="651.38" width="15.96" height="4.94" fill="#fff058"/><rect x="305.92" y="651.38" width="15.96" height="4.94" fill="#fff058"/><rect x="321.58" y="651.38" width="15.96" height="4.94" fill="#22ee22"/><rect x="337.23" y="651.38" width="15.96" height="4.94" fill="#22ee22"/><rect x="352.89" y="651.38" width="15.96" height="4.94" fill="#22ee22"/><rect x="368.55" y="651.38" width="15.96" height="4.94" fill="#22ee22"/><rect x="384.21" y="651.38" width="15.96" height="4.94" fill="#22ee22"/><rect x="399.87" y="651.38" width="15.96" height="4.94" fill="#22ee22"/><rect x="415.52" y="651.38" width="15.96" height="4.94" fill="#22d2ff"/><rect x="431.18" y="651.38" width="15.96" height="4.94" fill="#22d2ff"/><rect x="446.84" y="651.38" width="15.96" height="4.94" fill="#22a8ff"/><rect x="274.60" y="656.02" width="15.96" height="4.94" fill="#fff058"/><rect x="290.26" y="656.02" width="15.96" height="4.94" fill="#fff058"/><rect x="305.92" y="656.02" width="15.96" height="4.94" fill="#fff058"/><rect x="321.58" y="656.02" width="15.96" height="4.94" fill="#22ee22"/><rect x="337.23" y="656.02" width="15.96" height="4.94" fill="#22ee22"/><rect x="352.89" y="656.02" width="15.96" height="4.94" fill="#22ee22"/><rect x="368.55" y="656.02" width="15.96" height="4.94" fill="#22ee22"/><rect x="384.21" y="656.02" width="15.96" height="4.94" fill="#22ee22"/><rect x="399.87" y="656.02" width="15.96" height="4.94" fill="#22ee22"/><rect x="415.52" y="656.02" width="15.96" height="4.94" fill="#22d2ff"/><rect x="431.18" y="656.02" width="15.96" height="4.94" fill="#22d2ff"/><rect x="446.84" y="656.02" width="15.96" height="4.94" fill="#22d2ff"/><rect x="274.60" y="660.66" width="15.96" height="4.94" fill="#fff058"/><rect x="290.26" y="660.66" width="15.96" height="4.94" fill="#fff058"/><rect x="305.92" y="660.66" width="15.96" height="4.94" fill="#fff058"/><rect x="321.58" y="660.66" width="15.96" height="4.94" fill="#22ee22"/><rect x="337.23" y="660.66" width="15.96" height="4.94" fill="#22ee22"/><rect x="352.89" y="660.66" width="15.96" height="4.94" fill="#22ee22"/><rect x="368.55" y="660.66" width="15.96" height="4.94" fill="#22ee22"/><rect x="384.21" y="660.66" width="15.96" height="4.94" fill="#22ee22"/><rect x="399.87" y="660.66" width="15.96" height="4.94" fill="#22ee22"/><rect x="415.52" y="660.66" width="15.96" height="4.94" fill="#22ee22"/><rect x="431.18" y="660.66" width="15.96" height="4.94" fill="#22ee22"/><rect x="446.84" y="660.66" width="15.96" height="4.94" fill="#22ee22"/><rect x="274.60" y="665.30" width="15.96" height="4.94" fill="#fff058"/><rect x="290.26" y="665.30" width="15.96" height="4.94" fill="#fff058"/><rect x="305.92" y="665.30" width="15.96" height="4.94" fill="#fff058"/><rect x="321.58" y="665.30" width="15.96" height="4.94" fill="#22d2ff"/><rect x="337.23" y="665.30" width="15.96" height="4.94" fill="#22d2ff"/><rect x="352.89" y="665.30" width="15.96" height="4.94" fill="#22d2ff"/><rect x="368.55" y="665.30" width="15.96" height="4.94" fill="#7cf016"/><rect x="384.21" y="665.30" width="15.96" height="4.94" fill="#7cf016"/><rect x="399.87" y="665.30" width="15.96" height="4.94" fill="#7cf016"/><rect x="415.52" y="665.30" width="15.96" height="4.94" fill="#22ee22"/><rect x="431.18" y="665.30" width="15.96" height="4.94" fill="#22ee22"/><rect x="446.84" y="665.30" width="15.96" height="4.94" fill="#22ee22"/><rect x="274.60" y="669.94" width="15.96" height="4.94" fill="#fff058"/><rect x="290.26" y="669.94" width="15.96" height="4.94" fill="#fff058"/><rect x="305.92" y="669.94" width="15.96" height="4.94" fill="#fff058"/><rect x="321.58" y="669.94" width="15.96" height="4.94" fill="#22ee22"/><rect x="337.23" y="669.94" width="15.96" height="4.94" fill="#22d2ff"/><rect x="352.89" y="669.94" width="15.96" height="4.94" fill="#22d2ff"/><rect x="368.55" y="669.94" width="15.96" height="4.94" fill="#7cf016"/><rect x="384.21" y="669.94" width="15.96" height="4.94" fill="#7cf016"/><rect x="399.87" y="669.94" width="15.96" height="4.94" fill="#7cf016"/><rect x="415.52" y="669.94" width="15.96" height="4.94" fill="#22ee22"/><rect x="431.18" y="669.94" width="15.96" height="4.94" fill="#22d2ff"/><rect x="446.84" y="669.94" width="15.96" height="4.94" fill="#22ee22"/><rect x="274.60" y="674.58" width="15.96" height="4.94" fill="#fff058"/><rect x="290.26" y="674.58" width="15.96" height="4.94" fill="#fff058"/><rect x="305.92" y="674.58" width="15.96" height="4.94" fill="#ffdf9e"/><rect x="321.58" y="674.58" width="15.96" height="4.94" fill="#22ee22"/><rect x="337.23" y="674.58" width="15.96" height="4.94" fill="#22ee22"/><rect x="352.89" y="674.58" width="15.96" height="4.94" fill="#22ee22"/><rect x="368.55" y="674.58" width="15.96" height="4.94" fill="#22ee22"/><rect x="384.21" y="674.58" width="15.96" height="4.94" fill="#7cf016"/><rect x="399.87" y="674.58" width="15.96" height="4.94" fill="#22ee22"/><rect x="415.52" y="674.58" width="15.96" height="4.94" fill="#22ee22"/><rect x="431.18" y="674.58" width="15.96" height="4.94" fill="#22d2ff"/><rect x="446.84" y="674.58" width="15.96" height="4.94" fill="#22d2ff"/><rect x="274.60" y="679.22" width="15.96" height="4.94" fill="#22ee22"/><rect x="290.26" y="679.22" width="15.96" height="4.94" fill="#22ee22"/><rect x="305.92" y="679.22" width="15.96" height="4.94" fill="#1a3ef0"/><rect x="321.58" y="679.22" width="15.96" height="4.94" fill="#ffff00"/><rect x="337.23" y="679.22" width="15.96" height="4.94" fill="#ffff00"/><rect x="352.89" y="679.22" width="15.96" height="4.94" fill="#ffff00"/><rect x="368.55" y="679.22" width="15.96" height="4.94" fill="#c8f414"/><rect x="384.21" y="679.22" width="15.96" height="4.94" fill="#7cf016"/><rect x="399.87" y="679.22" width="15.96" height="4.94" fill="#ffff00"/><rect x="415.52" y="679.22" width="15.96" height="4.94" fill="#1a78ff"/><rect x="431.18" y="679.22" width="15.96" height="4.94" fill="#22ee22"/><rect x="446.84" y="679.22" width="15.96" height="4.94" fill="#22d2ff"/><rect x="274.60" y="683.86" width="15.96" height="4.94" fill="#22ee22"/><rect x="290.26" y="683.86" width="15.96" height="4.94" fill="#22ee22"/><rect x="305.92" y="683.86" width="15.96" height="4.94" fill="#22ee22"/><rect x="321.58" y="683.86" width="15.96" height="4.94" fill="#ffff00"/><rect x="337.23" y="683.86" width="15.96" height="4.94" fill="#ffff00"/><rect x="352.89" y="683.86" width="15.96" height="4.94" fill="#ffff00"/><rect x="368.55" y="683.86" width="15.96" height="4.94" fill="#22ee22"/><rect x="384.21" y="683.86" width="15.96" height="4.94" fill="#22ee22"/><rect x="399.87" y="683.86" width="15.96" height="4.94" fill="#22ee22"/><rect x="415.52" y="683.86" width="15.96" height="4.94" fill="#1a78ff"/><rect x="431.18" y="683.86" width="15.96" height="4.94" fill="#1a78ff"/><rect x="446.84" y="683.86" width="15.96" height="4.94" fill="#1a78ff"/></g>
<path d="M273 336 H270.5 Q269.2 336 269.2 337.3 V521.6 Q269.2 522.9 270.5 522.9 H272.8" fill="none" stroke="#333" stroke-width="1.6"/>
<path d="M273 528.4 H270.5 Q269.2 528.4 269.2 529.7 V686 Q269.2 687.3 270.5 687.3 H273" fill="none" stroke="#333" stroke-width="1.6"/>
<text transform="translate(261.4 428.2) rotate(-90)" font-size="9.6" font-weight="bold" text-anchor="middle">AAMϕ marker genes</text>
<text transform="translate(261.4 607.9) rotate(-90)" font-size="9.6" font-weight="bold" text-anchor="middle">CAMϕ marker genes</text>
<g font-size="5.8" fill="#2a2a2a" stroke="#2a2a2a" stroke-width="0.18"><text x="465.6" y="338.99">1439825_s_at</text><text x="465.6" y="343.69">1479190_a_at</text><text x="465.6" y="348.38">1448337_s_at</text><text x="465.6" y="353.07">1487623_at</text><text x="465.6" y="357.76">1486012_s_at</text><text x="465.6" y="362.46">1404047_s_at</text><text x="465.6" y="367.15">1466697_at</text><text x="465.6" y="371.84">1451027_at</text><text x="465.6" y="376.53">1446468_a_at</text><text x="465.6" y="381.23">1495896_s_at</text><text x="465.6" y="385.92">1435049_at</text><text x="465.6" y="390.61">1458991_at</text><text x="465.6" y="395.30">1494411_a_at</text><text x="465.6" y="400.00">1471516_at</text><text x="465.6" y="404.69">1404661_at</text><text x="465.6" y="409.38">1499069_at</text><text x="465.6" y="414.08">1484830_at</text><text x="465.6" y="418.77">1401198_at</text><text x="465.6" y="423.46">1436494_at</text><text x="465.6" y="428.15">1405552_a_at</text><text x="465.6" y="432.85">1467869_s_at</text><text x="465.6" y="437.54">1419846_at</text><text x="465.6" y="442.23">1446484_s_at</text><text x="465.6" y="446.92">1450695_at</text><text x="465.6" y="451.62">1469920_at</text><text x="465.6" y="456.31">1475594_a_at</text><text x="465.6" y="461.00">1409005_at</text><text x="465.6" y="465.70">1474995_at</text><text x="465.6" y="470.39">1452559_at</text><text x="465.6" y="475.08">1446109_at</text><text x="465.6" y="479.77">1448343_at</text><text x="465.6" y="484.47">1426119_at</text><text x="465.6" y="489.16">1453721_at</text><text x="465.6" y="493.85">1439743_at</text><text x="465.6" y="498.54">1408359_at</text><text x="465.6" y="503.24">1445195_s_at</text><text x="465.6" y="507.93">1426484_a_at</text><text x="465.6" y="512.62">1456469_a_at</text><text x="465.6" y="517.31">1406230_a_at</text><text x="465.6" y="522.01">1498683_at</text><text x="465.6" y="526.70">1478485_at</text><text x="465.6" y="531.34">1419413_at</text><text x="465.6" y="535.98">1408369_at</text><text x="465.6" y="540.62">1407128_at</text><text x="465.6" y="545.26">1430886_at</text><text x="465.6" y="549.90">1491524_s_at</text><text x="465.6" y="554.54">1470533_at</text><text x="465.6" y="559.18">1481234_at</text><text x="465.6" y="563.82">1407960_at</text><text x="465.6" y="568.46">1434988_a_at</text><text x="465.6" y="573.10">1407500_at</text><text x="465.6" y="577.74">1401017_at</text><text x="465.6" y="582.38">1418875_at</text><text x="465.6" y="587.02">1451566_s_at</text><text x="465.6" y="591.66">1445435_a_at</text><text x="465.6" y="596.30">1412806_at</text><text x="465.6" y="600.94">1492057_s_at</text><text x="465.6" y="605.58">1486096_at</text><text x="465.6" y="610.22">1457566_a_at</text><text x="465.6" y="614.86">1403384_s_at</text><text x="465.6" y="619.50">1416362_at</text><text x="465.6" y="624.14">1455841_a_at</text><text x="465.6" y="628.78">1418615_s_at</text><text x="465.6" y="633.42">1481907_at</text><text x="465.6" y="638.06">1436081_s_at</text><text x="465.6" y="642.70">1416205_at</text><text x="465.6" y="647.34">1401749_at</text><text x="465.6" y="651.98">1410988_at</text><text x="465.6" y="656.62">1418180_s_at</text><text x="465.6" y="661.26">1459213_at</text><text x="465.6" y="665.90">1437964_at</text><text x="465.6" y="670.54">1496586_at</text><text x="465.6" y="675.18">1468362_a_at</text><text x="465.6" y="679.82">1499872_a_at</text><text x="465.6" y="684.46">1422177_s_at</text><text x="465.6" y="689.10">1479224_at</text></g>
<text x="296.2" y="703.6" font-size="10.3" font-weight="bold" text-anchor="middle">p16<tspan font-size="7" dy="-2.6">+/+</tspan></text>
<text x="296.2" y="715.0" font-size="10.3" font-weight="bold" text-anchor="middle">BMDM</text>
<text x="343.8" y="703.6" font-size="10.3" font-weight="bold" text-anchor="middle">p16<tspan font-size="7" dy="-2.6">-/-</tspan></text>
<text x="343.8" y="715.0" font-size="10.3" font-weight="bold" text-anchor="middle">BMDM</text>
<text x="391.6" y="703.6" font-size="10.3" font-weight="bold" text-anchor="middle">p16<tspan font-size="7" dy="-2.6">+/+</tspan></text>
<text x="391.6" y="715.0" font-size="10.3" font-weight="bold" text-anchor="middle">AAMϕ</text>
<text x="438.8" y="703.6" font-size="10.3" font-weight="bold" text-anchor="middle">p16<tspan font-size="7" dy="-2.6">-/-</tspan></text>
<text x="438.8" y="715.0" font-size="10.3" font-weight="bold" text-anchor="middle">AAMϕ</text>
<defs><linearGradient id="ck" x1="0" x2="1" y1="0" y2="0">
<stop offset="0" stop-color="#2a10e8"/><stop offset="0.12" stop-color="#1a30f0"/><stop offset="0.28" stop-color="#1a80ff"/>
<stop offset="0.36" stop-color="#22c8ff"/><stop offset="0.42" stop-color="#22ee30"/><stop offset="0.55" stop-color="#40f010"/>
<stop offset="0.66" stop-color="#d8f810"/><stop offset="0.74" stop-color="#ffff10"/><stop offset="0.88" stop-color="#ffe870"/>
<stop offset="1" stop-color="#ffe2b0"/></linearGradient></defs>
<rect x="457" y="693.5" width="62.2" height="20.4" fill="url(#ck)"/>
<path d="M464.3 715.2v3.2M476.9 715.2v3.2M489.5 715.2v3.2M502.3 715.2v3.2M514.9 715.2v3.2" stroke="#333" stroke-width="0.9"/>
<text x="464.3" y="727.6" font-size="6.8" text-anchor="middle" fill="#333">−2</text>
<text x="489.5" y="727.6" font-size="6.8" text-anchor="middle" fill="#333">0</text>
<text x="502.3" y="727.6" font-size="6.8" text-anchor="middle" fill="#333">1</text>
<text x="514.9" y="727.6" font-size="6.8" text-anchor="middle" fill="#333">2</text>
<text x="488.3" y="735.6" font-size="9" text-anchor="middle" fill="#333">Row Z−Score</text>
</svg></body></html>
